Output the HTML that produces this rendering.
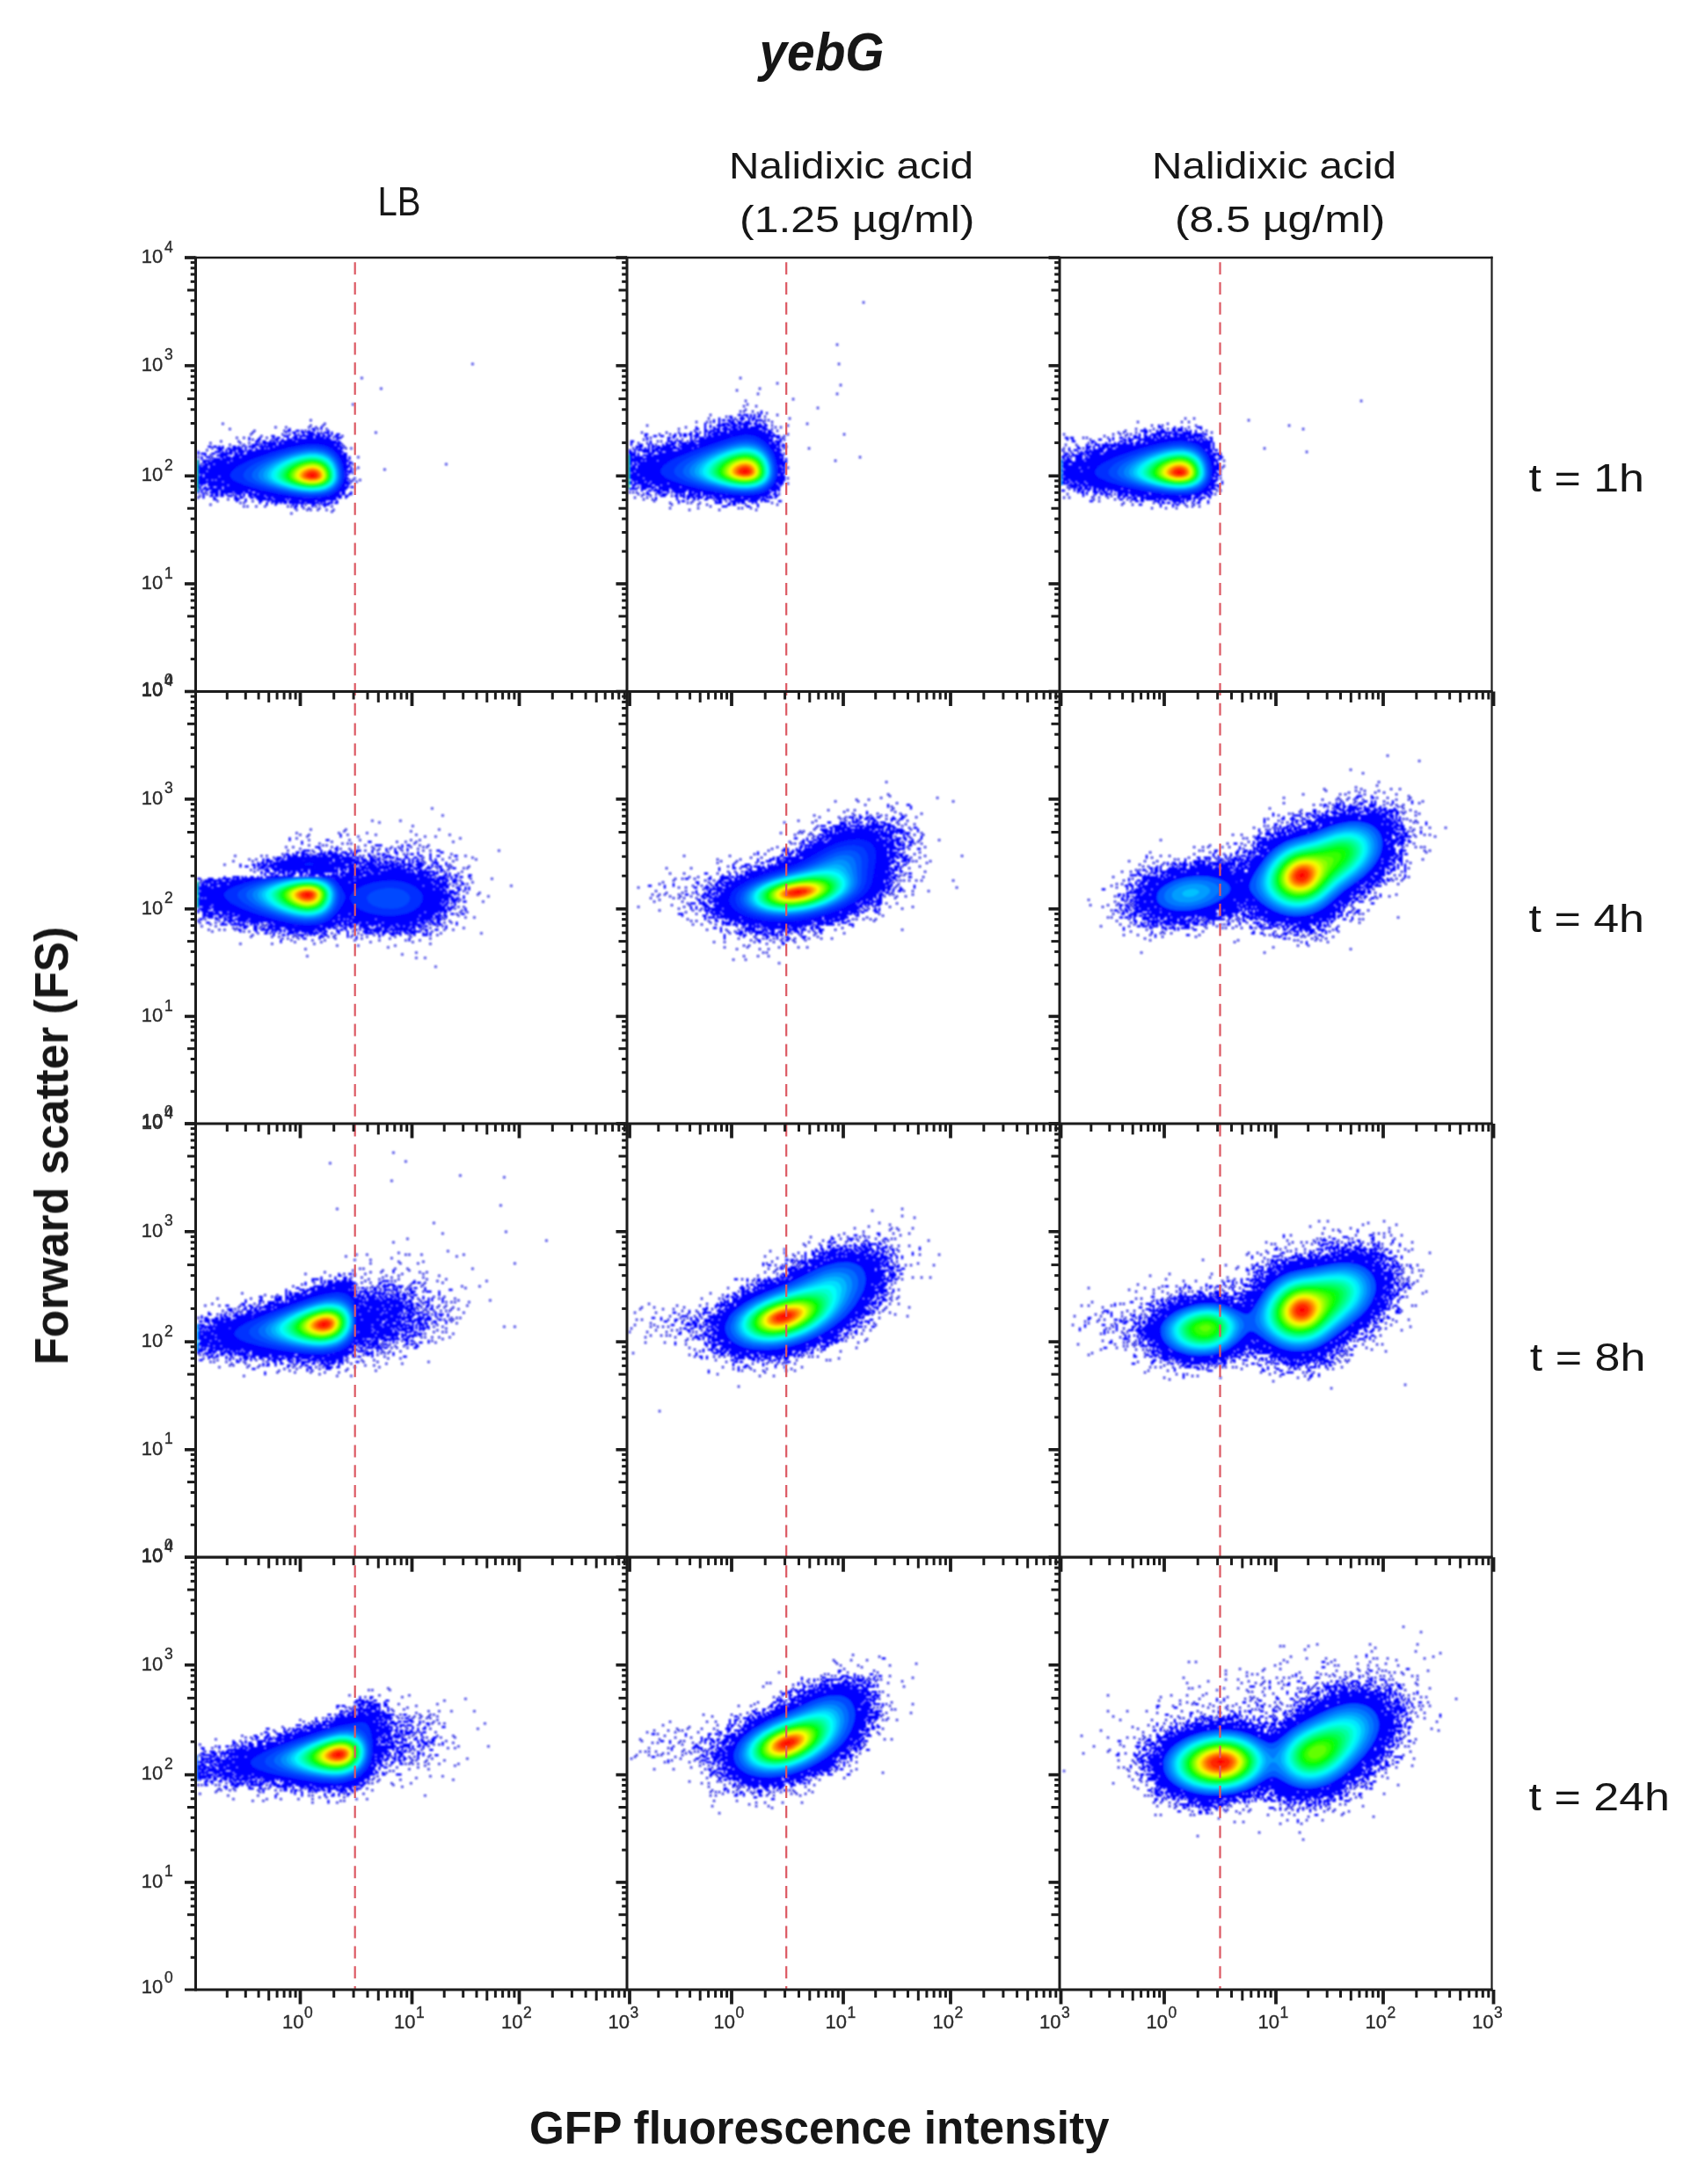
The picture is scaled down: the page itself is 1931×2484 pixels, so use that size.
<!DOCTYPE html>
<html><head><meta charset="utf-8"><title>yebG</title>
<style>html,body{margin:0;padding:0;background:#fff}svg{display:block}</style></head><body>
<svg width="1931" height="2484" viewBox="0 0 1931 2484">
<defs><filter id="b" x="-2%" y="-2%" width="104%" height="104%"><feGaussianBlur stdDeviation="1.05"/></filter><filter id="b2" x="-2%" y="-2%" width="104%" height="104%"><feGaussianBlur stdDeviation="0.75"/></filter>
<clipPath id="c00"><rect x="222.5" y="293.0" width="490.5" height="493.5"/></clipPath>
<clipPath id="c01"><rect x="713.0" y="293.0" width="492.0" height="493.5"/></clipPath>
<clipPath id="c02"><rect x="1205.0" y="293.0" width="491.5" height="493.5"/></clipPath>
<clipPath id="c10"><rect x="222.5" y="786.5" width="490.5" height="491.5"/></clipPath>
<clipPath id="c11"><rect x="713.0" y="786.5" width="492.0" height="491.5"/></clipPath>
<clipPath id="c12"><rect x="1205.0" y="786.5" width="491.5" height="491.5"/></clipPath>
<clipPath id="c20"><rect x="222.5" y="1278.0" width="490.5" height="493.20000000000005"/></clipPath>
<clipPath id="c21"><rect x="713.0" y="1278.0" width="492.0" height="493.20000000000005"/></clipPath>
<clipPath id="c22"><rect x="1205.0" y="1278.0" width="491.5" height="493.20000000000005"/></clipPath>
<clipPath id="c30"><rect x="222.5" y="1771.2" width="490.5" height="491.79999999999995"/></clipPath>
<clipPath id="c31"><rect x="713.0" y="1771.2" width="492.0" height="491.79999999999995"/></clipPath>
<clipPath id="c32"><rect x="1205.0" y="1771.2" width="491.5" height="491.79999999999995"/></clipPath>
</defs>
<rect width="1931" height="2484" fill="#fff"/>
<g filter="url(#b)">
<g clip-path="url(#c00)">
<path d="M364.3 486h2.4m-38.4 2h2.4m23.6 0h4.4m5.6 0h2.4m-40.4 2h4.4m5.6 0h4.4m1.6 0h2.4m5.6 0h2.4m3.6 0h2.4m13.6 0h2.4m-42.4 2h4.4m5.6 0h4.4m1.6 0h8.4m3.6 0h2.4m5.6 0h6.4m1.6 0h2.4m-44.4 2h2.4m7.6 0h2.4m3.6 0h8.4m1.6 0h4.4m1.6 0h2.4m3.6 0h2.4m1.6 0h2.4m3.6 0h4.4m-78.4 2h4.4m9.6 0h6.4m5.6 0h4.4m1.6 0h16.4m1.6 0h6.4m1.6 0h4.4m1.6 0h4.4m3.6 0h4.4m-102.4 2h2.4m9.6 0h2.4m13.6 0h2.4m1.6 0h4.4m7.6 0h2.4m3.6 0h6.4m1.6 0h2.4m5.6 0h8.4m1.6 0h10.4m1.6 0h4.4m7.6 0h6.4m-106.4 2h2.4m7.6 0h4.4m15.6 0h4.4m3.6 0h2.4m3.6 0h6.4m1.6 0h42.4m5.6 0h2.4m-94.4 2h4.4m3.6 0h4.4m3.6 0h2.4m1.6 0h2.4m1.6 0h2.4m1.6 0h18.4m1.6 0h44.4m1.6 0h2.4m-96.4 2h2.4m5.6 0h16.4m1.6 0h4.4m1.6 0h66.4m-102.4 2h8.4m1.6 0h2.4m1.6 0h2.4m1.6 0h10.4m1.6 0h24.4m27.6 0h12.4m1.6 0h4.4m-150.4 2h4.4m1.6 0h4.4m1.6 0h2.4m1.6 0h2.4m9.6 0h4.4m1.6 0h2.4m5.6 0h2.4m1.6 0h8.4m3.6 0h16.4m1.6 0h18.4m43.6 0h14.4m-142.4 2h8.4m3.6 0h4.4m1.6 0h10.4m3.6 0h2.4m5.6 0h2.4m1.6 0h2.4m3.6 0h4.4m1.6 0h2.4m1.6 0h16.4m55.6 0h6.4m1.6 0h4.4m-142.4 2h4.4m3.6 0h2.4m1.6 0h8.4m1.6 0h6.4m1.6 0h2.4m1.6 0h4.4m3.6 0h24.4m65.6 0h8.4m-164.4 2h2.4m17.6 0h6.4m1.6 0h2.4m1.6 0h2.4m1.6 0h4.4m1.6 0h2.4m1.6 0h8.4m1.6 0h28.4m73.6 0h8.4m-166.4 2h2.4m1.6 0h6.4m5.6 0h4.4m5.6 0h14.4m1.6 0h4.4m1.6 0h4.4m3.6 0h22.4m81.6 0h4.4m1.6 0h4.4m-162.4 2h2.4m11.6 0h12.4m7.6 0h28.4m89.6 0h10.4m-166.4 2h2.4m3.6 0h4.4m11.6 0h4.4m1.6 0h6.4m1.6 0h8.4m1.6 0h16.4m95.6 0h8.4m1.6 0h2.4m-170.4 2h2.4m11.6 0h8.4m1.6 0h32.4m103.6 0h6.4m1.6 0h2.4m-174.4 2h2.4m3.6 0h8.4m1.6 0h22.4m1.6 0h14.4m109.6 0h8.4m-172.4 2h2.4m3.6 0h4.4m1.6 0h22.4m1.6 0h14.4m113.6 0h6.4m1.6 0h4.4m-176.4 2h2.4m5.6 0h10.4m1.6 0h26.4m119.6 0h4.4m1.6 0h2.4m-174.4 2h4.4m1.6 0h6.4m1.6 0h28.4m123.6 0h8.4m-174.4 2h12.4m1.6 0h26.4m125.6 0h6.4m1.6 0h2.4m-176.4 2h36.4m129.6 0h4.4m3.6 0h2.4m-176.4 2h10.4m1.6 0h22.4m133.6 0h8.4m-176.4 2h34.4m133.6 0h2.4m1.6 0h2.4m-174.4 2h2.4m1.6 0h2.4m1.6 0h24.4m135.6 0h4.4m-172.4 2h6.4m1.6 0h16.4m1.6 0h8.4m133.6 0h2.4m-170.4 2h34.4m133.6 0h4.4m-172.4 2h10.4m1.6 0h4.4m1.6 0h2.4m1.6 0h14.4m129.6 0h4.4m-170.4 2h28.4m1.6 0h10.4m125.6 0h6.4m-172.4 2h10.4m1.6 0h32.4m121.6 0h8.4m-174.4 2h2.4m1.6 0h2.4m5.6 0h22.4m1.6 0h14.4m113.6 0h4.4m1.6 0h2.4m-172.4 2h4.4m3.6 0h2.4m3.6 0h4.4m3.6 0h6.4m1.6 0h26.4m107.6 0h8.4m1.6 0h4.4m-176.4 2h2.4m1.6 0h22.4m1.6 0h34.4m97.6 0h8.4m-170.4 2h2.4m1.6 0h2.4m3.6 0h2.4m3.6 0h8.4m1.6 0h32.4m1.6 0h12.4m87.6 0h8.4m-168.4 2h2.4m1.6 0h2.4m7.6 0h10.4m1.6 0h14.4m1.6 0h10.4m1.6 0h8.4m3.6 0h16.4m75.6 0h4.4m1.6 0h4.4m5.6 0h2.4m-170.4 2h2.4m7.6 0h2.4m1.6 0h4.4m1.6 0h4.4m1.6 0h2.4m9.6 0h6.4m1.6 0h2.4m3.6 0h10.4m1.6 0h22.4m61.6 0h8.4m1.6 0h4.4m3.6 0h4.4m-170.4 2h2.4m5.6 0h4.4m1.6 0h4.4m1.6 0h4.4m3.6 0h6.4m1.6 0h2.4m3.6 0h2.4m1.6 0h2.4m3.6 0h4.4m1.6 0h12.4m1.6 0h26.4m45.6 0h14.4m3.6 0h4.4m-166.4 2h2.4m9.6 0h2.4m21.6 0h4.4m1.6 0h4.4m7.6 0h4.4m1.6 0h12.4m1.6 0h4.4m1.6 0h34.4m19.6 0h18.4m1.6 0h4.4m3.6 0h2.4m-152.4 2h4.4m19.6 0h6.4m5.6 0h2.4m11.6 0h18.4m1.6 0h12.4m1.6 0h2.4m1.6 0h52.4m-114.4 2h2.4m7.6 0h2.4m13.6 0h4.4m5.6 0h2.4m1.6 0h18.4m1.6 0h12.4m1.6 0h16.4m1.6 0h10.4m5.6 0h2.4m3.6 0h2.4m-90.4 2h2.4m5.6 0h2.4m3.6 0h2.4m1.6 0h4.4m1.6 0h2.4m1.6 0h4.4m1.6 0h18.4m1.6 0h14.4m1.6 0h2.4m1.6 0h2.4m1.6 0h6.4m1.6 0h4.4m-82.4 2h2.4m7.6 0h2.4m17.6 0h2.4m1.6 0h2.4m3.6 0h2.4m9.6 0h4.4m7.6 0h8.4m-40.4 2h4.4m3.6 0h2.4m9.6 0h2.4m11.6 0h2.4m-36.4 2h2.4" stroke="#0000ff" stroke-width="2.4" fill="none"/>
<path d="M536.2 414h2.5m-128.5 16h2.5m19.5 12h2.5m-34.5 18h2.5m-50.5 18h2.5m-102.5 4h2.5m113.5 0h2.5m-18.5 2h2.5m11.5 0h2.5m-56.5 2h2.5m9.5 0h2.5m23.5 0h2.5m5.5 0h2.5m-100.5 2h2.5m97.5 0h2.5m7.5 0h2.5m-84.5 2h2.5m31.5 0h2.5m21.5 0h2.5m-62.5 2h2.5m35.5 0h2.5m37.5 0h2.5m59.5 0h2.5m-144.5 2h2.5m33.5 0h2.5m5.5 0h2.5m7.5 0h2.5m-44.5 2h2.5m89.5 0h2.5m-122.5 2h2.5m5.5 0h2.5m23.5 0h2.5m73.5 0h2.5m-94.5 2h2.5m19.5 0h2.5m-60.5 2h2.5m17.5 0h2.5m-34.5 2h2.5m31.5 0h2.5m7.5 0h2.5m9.5 0h2.5m-36.5 2h2.5m13.5 0h2.5m109.5 0h2.5m-116.5 2h2.5m113.5 0h2.5m-152.5 2h2.5m149.5 0h2.5m3.5 0h2.5m-166.5 2h2.5m1.5 6h2.5m-16.5 2h2.5m13.5 0h2.5m163.5 0h2.5m-170.5 2h2.5m-12.5 6h2.5m169.5 0h2.5m103.5 0h2.5m-102.5 4h2.5m-6.5 2h2.5m31.5 0h2.5m-38.5 4h2.5m-0.5 6h2.5m-8.5 2h2.5m1.5 0h2.5m5.5 0h2.5m-12.5 2h2.5m3.5 0h2.5m-174.5 12h2.5m-0.5 2h2.5m27.5 0h2.5m-40.5 2h2.5m-4.5 2h2.5m31.5 2h2.5m-14.5 2h2.5m37.5 0h2.5m-16.5 2h2.5m1.5 0h2.5m-40.5 2h2.5m105.5 0h2.5m13.5 0h2.5m-88.5 2h2.5m1.5 0h2.5m7.5 0h2.5m7.5 0h2.5m23.5 0h2.5m1.5 0h2.5m25.5 0h2.5m15.5 0h2.5m-34.5 2h2.5m3.5 0h2.5m9.5 0h2.5m-28.5 2h2.5m9.5 0h2.5m1.5 0h2.5m5.5 0h2.5m7.5 0h2.5m5.5 0h2.5m-4.5 2h2.5m-48.5 2h2.5" stroke="#1414e0" stroke-width="2.5" fill="none"/>
<path d="M359.5 567.1l-15-0.4l-18-2.2l-22-3.9l-23-5.3l-14.3-4.3l-9.3-4l-3-2l-1.9-2l-0.6-2l0.4-2l1.7-3l3.3-3l9.7-5.7l16-6.5l22-7.2l22-6l16-3.1l12-1l6 0.3l6 1l6 2l5 2.8l4 3.4l3.9 5l2.6 5l2.3 7l1 7l0 7l-1.1 5l-1.8 4l-3 4l-3.9 3.5l-5 2.9l-5 1.7l-6 1.3z" fill="#0000ff"/>
<path d="M366.5 565.1l-13 0.8l-16-1.2l-20-3.2l-23-5l-16-4.7l-11-4.6l-3.2-2.2l-1.8-2l-0.6-2l0.4-2l1.6-3l3.1-3l8.5-5.3l14-6.2l21-7.2l18-5l16-3.1l12-0.9l6 0.4l5 0.9l5 1.7l5 2.7l4 3.4l3 3.6l2.4 4l2.4 6l1.5 7l0.4 6l-0.4 4l-1.5 5l-2.2 4l-2.6 3.1l-4 3.1l-4 2.1l-4 1.5z" fill="#002dff"/>
<path d="M364.5 563.1l-12 0.6l-14-1.2l-17-2.9l-17-4l-14-4.5l-8.8-4.1l-2.7-2l-1.6-2l-0.6-2l0.3-2l0.9-2l2.4-3l3.6-3l4.8-3l13.7-6.5l16-5.7l16-4.5l14-2.4l10-0.4l9 1.5l5 1.8l4 2.4l3.3 2.8l3.3 4l2.3 4l1.8 5l1.2 6l0.3 6l-0.6 4l-1.5 4l-2.1 3.3l-3 3.2l-3 2.1l-4 2l-5 1.6z" fill="#0048ff"/>
<path d="M357.5 562l-12-0.4l-13-1.8l-15-3.2l-12-3.4l-9-3.4l-6.7-3.8l-2.8-3l-0.5-2l0.3-2l0.8-2l2.3-3l3.5-3l4.5-3l10.6-5.3l14-5.3l14-4l12-2.1l10-0.4l9 1.6l5 2l3.9 2.5l3.1 3l3 4l2.3 5l1.4 5l0.7 6l-0.5 5l-1.4 4l-1.9 3l-2.8 3l-3.8 2.7l-8 3z" fill="#0066ff"/>
<path d="M364.5 560l-10 0.7l-12-0.9l-14-2.3l-13-3.3l-10-3.5l-7.3-3.7l-2.5-2l-1.5-2l-0.5-2l0.2-2l0.8-2l2.2-3l6.2-5l10.4-5.5l12-4.7l12-3.5l12-2.2l9-0.2l8 1.3l4 1.5l4 2.3l3 2.6l2.8 3.4l2.3 4l1.4 4l1 5l0.2 5l-0.4 3l-1.6 4l-4.1 5l-3.6 2.5l-3 1.4z" fill="#0086ff"/>
<path d="M362.5 559.1l-10 0.4l-11-1l-12-2.2l-13-3.6l-9.1-3.7l-6.1-4l-1.8-3l0.4-4l1.1-2l2.5-3l6.8-5l9.9-5l11.3-4.2l11-2.9l10-1.4l8 0.2l7 1.6l4 1.8l3 2l3 2.9l2.3 3l2 4l1.3 4l0.7 5l-0.1 4l-0.7 3l-1.4 3l-2.1 2.7l-2.6 2.3l-6.4 3.3z" fill="#00a8ff"/>
<path d="M362.5 558l-9 0.5l-11-1l-12-2.3l-11-3.1l-8-3.4l-5.5-3.7l-1.8-3l0.4-4l2.6-4l6.1-5l8.2-4.5l11-4.3l10-2.7l9-1.4l8 0l7 1.5l4 1.7l3 1.9l3 2.8l2 2.6l1.8 3.4l1.4 4l0.8 8l-0.5 3l-1.3 3l-2.2 3l-2 1.8l-6 3.3z" fill="#00ccff"/>
<path d="M362.5 557.1l-9 0.4l-10-0.8l-11-2.1l-10-3l-8-3.5l-4.4-3.1l-1.9-3l0.5-4l1-2l2.5-3l5.2-4l8.1-4.4l9-3.5l9-2.4l9-1.3l7 0.1l7 1.5l6 3.2l3 2.7l2 2.6l2.9 6.5l0.8 4l0.1 4l-1.4 5l-2 3l-2.1 2l-6.3 3.4z" fill="#00f1ff"/>
<path d="M362.5 556.2l-8 0.5l-10-0.8l-11-2.2l-8.9-2.7l-6.7-3l-4.2-3l-1.9-3l0.4-4l2.6-4l5.7-4.7l7-3.8l9-3.6l9-2.3l8-1l7 0.3l6 1.5l6 3.4l4.5 5.2l2.5 6l0.7 7l-1.5 5l-3.4 4l-5.8 3.4z" fill="#00ffe6"/>
<path d="M363.5 555.1l-7 0.7l-9-0.4l-10-1.7l-9.4-2.7l-7-3l-4.2-3l-1.9-3l0.4-4l2.6-4l4.8-4l6.7-3.8l8-3.2l8-2.2l8-1l6 0.2l6 1.3l6 3.3l4.1 4.4l2.8 6l0.7 7l-1.6 4.9l-3 3.5l-5 3z" fill="#00ffbe"/>
<path d="M356.5 555l-8-0.3l-8-1.3l-8-2l-7-2.7l-4.5-2.7l-2.7-3l-0.5-3l1-3l3.2-4l5.4-4l7.1-3.5l8-2.8l7-1.4l7-0.4l6 0.8l5 1.7l5 3.6l3.6 5l1.8 6l0.2 3l-0.4 3l-2.2 4l-2 2l-3 2l-6 2.1z" fill="#00ff95"/>
<path d="M359.5 554.1l-7 0.1l-8-0.9l-8-1.7l-7-2.4l-4.3-2.2l-3.6-3l-1.2-3l0.6-3l2.7-4l3.8-3.2l6-3.5l7-2.8l7-1.8l7-0.7l6 0.4l5 1.4l5 2.9l4 4.7l2.2 5.6l0.2 6l-1.8 4l-3.6 3.3l-5 2.4z" fill="#00ff6a"/>
<path d="M361.5 553.1l-7 0.4l-7-0.5l-8-1.5l-7-2.3l-4.6-2.2l-3.8-3l-1.2-3l0.6-3l2.8-4l3.6-3l5.2-3l6.4-2.6l7-1.7l6-0.7l5 0.3l5 1.2l5 2.8l3.5 3.7l2.3 5l0.7 6l-1.4 4l-3.1 3.3l-4 2.2z" fill="#00ff3f"/>
<path d="M362.5 552.1l-6 0.7l-7-0.3l-8-1.4l-6.8-2.1l-4.3-2l-3.8-3l-1.3-3l0.6-3l1.9-3l3.7-3.3l5-3l6-2.4l6-1.6l6-0.6l5 0.3l5 1.3l4.1 2.3l3.8 4l2.1 5l0.5 5l-1 3l-2.5 3.1l-4 2.5z" fill="#00ff13"/>
<path d="M357.5 552l-6 0l-7-1l-7-2l-4.7-2l-2.9-2l-2.2-3l-0.1-2l1.1-3l2.4-3l3.9-3l4.5-2.4l6-2.1l6-1.2l5-0.2l5 0.7l4 1.5l4 2.9l2.8 3.8l1.6 5l-0.2 4l-1.5 3l-3.7 3.2l-5 1.9z" fill="#1aff00"/>
<path d="M359.5 551.1l-6 0.3l-6-0.7l-6-1.3l-5-1.8l-4.4-2.6l-1.8-2l-0.5-2l0.6-3l2-3l3.6-3l4.5-2.5l5-1.9l5-1.1l5-0.4l5 0.6l4 1.3l4 2.7l2.6 3.3l1.7 5l-0.1 4l-1.7 3l-2.5 2.2l-4 1.9z" fill="#49ff00"/>
<path d="M361.5 550.1l-5 0.5l-6-0.2l-6-1.1l-6-1.9l-4.1-2.4l-1.9-2l-0.6-2l0.7-3l2.1-3l2.8-2.4l4-2.3l5-1.8l5-1.1l4-0.3l4 0.4l4 1.2l3.7 2.3l2.6 3l1.7 4l0.3 4l-1.2 3l-2 2l-3.1 1.8z" fill="#78ff00"/>
<path d="M362.5 549l-4 0.8l-5 0.1l-6-0.7l-5-1.3l-4.4-1.9l-2.7-2l-1.3-2l0.2-3l1.7-3l2-2l3-2l4.3-2l8.2-1.8l4 0.1l4 0.8l3.9 1.9l2.3 2l2 3l1 4l-0.3 3l-1.1 2l-2.8 2.4z" fill="#a8ff00"/>
<path d="M358.5 549l-9-0.3l-5-1.1l-4-1.6l-2.9-2l-1.4-2l-0.1-2l0.7-2l1.7-2.3l3-2.5l7-3l4-0.8l4-0.1l4 0.7l2.7 1l2.9 2l2.3 3l1 3l0.1 3l-1.6 3l-2.4 1.9l-3 1.3z" fill="#d8ff00"/>
<path d="M359.5 548.1l-8 0.1l-5-1l-3.5-1.2l-3.2-2l-1.5-2l-0.1-2l0.7-2l1.5-2l2.5-2l6.6-2.9l7-0.7l3 0.5l3 1.1l2.9 2l1.6 2l1.2 3l0.1 3l-0.9 2l-2.2 2z" fill="#fff400"/>
<path d="M359.5 547.2l-7 0.3l-7-1.6l-3-1.6l-1.5-1.3l-0.7-2l0.3-2l1.2-2l2.2-2l5.5-2.6l6-0.9l3 0.4l3 1l3 2l1.5 2.1l1 3l-0.1 2l-1.1 2l-1.3 1.2z" fill="#ffc200"/>
<path d="M359.5 546.2l-7 0.3l-6.1-1.5l-1.9-1l-1.8-2l0.2-3l2.6-3.1l5-2.4l5-0.7l5 1.1l2 1.2l1.8 1.9l1 2l0.3 2l-0.7 2l-0.8 1l-1.6 1.1z" fill="#ff8f00"/>
<path d="M359.5 545.1l-6 0.5l-6-1.6l-2.3-2l-0.3-1l0.5-2l2.1-2.3l4-1.9l4-0.5l4 0.8l3 2.2l1 1.7l0.3 2l-0.1 1l-1.2 1.5z" fill="#ff5c00"/>
<path d="M358.5 544l-4 0.4l-4-0.8l-2.4-1.6l-0.2-2l1.5-2l3.1-1.6l3-0.4l3 0.7l2 1.4l1.2 2.9l-1.2 2z" fill="#ff2800"/>
<path d="M356.5 542.3l-3.7-0.3l-0.8-1l0.3-1l1.6-1l2.6 0l1.3 1l0.3 1l-0.7 1z" fill="#ff0000"/>
</g>
<g clip-path="url(#c01)">
<path d="M864.8 468h2.4m-2.4 2h2.4m-28.4 2h4.4m1.6 0h6.4m1.6 0h2.4m1.6 0h2.4m3.6 0h2.4m-36.4 2h4.4m9.6 0h2.4m3.6 0h2.4m1.6 0h2.4m1.6 0h2.4m1.6 0h4.4m-48.4 2h2.4m11.6 0h2.4m7.6 0h6.4m3.6 0h2.4m1.6 0h4.4m-48.4 2h2.4m3.6 0h2.4m1.6 0h4.4m1.6 0h4.4m1.6 0h2.4m7.6 0h2.4m5.6 0h2.4m1.6 0h2.4m1.6 0h8.4m-56.4 2h2.4m3.6 0h2.4m9.6 0h6.4m3.6 0h4.4m3.6 0h6.4m5.6 0h2.4m-60.4 2h2.4m13.6 0h2.4m1.6 0h8.4m1.6 0h6.4m1.6 0h16.4m1.6 0h4.4m1.6 0h2.4m3.6 0h2.4m-70.4 2h2.4m3.6 0h2.4m5.6 0h10.4m1.6 0h4.4m1.6 0h6.4m1.6 0h2.4m1.6 0h6.4m7.6 0h8.4m1.6 0h4.4m-82.4 2h2.4m7.6 0h2.4m3.6 0h2.4m1.6 0h2.4m3.6 0h2.4m3.6 0h4.4m3.6 0h6.4m1.6 0h4.4m1.6 0h6.4m1.6 0h18.4m-80.4 2h4.4m5.6 0h2.4m7.6 0h8.4m1.6 0h10.4m1.6 0h6.4m1.6 0h22.4m3.6 0h6.4m-72.4 2h4.4m1.6 0h6.4m1.6 0h4.4m3.6 0h4.4m1.6 0h38.4m1.6 0h2.4m1.6 0h4.4m-92.4 2h2.4m3.6 0h2.4m7.6 0h2.4m1.6 0h4.4m1.6 0h16.4m1.6 0h42.4m1.6 0h6.4m-146.4 2h4.4m29.6 0h2.4m3.6 0h2.4m1.6 0h4.4m1.6 0h4.4m3.6 0h4.4m5.6 0h2.4m1.6 0h2.4m1.6 0h8.4m1.6 0h24.4m11.6 0h22.4m1.6 0h2.4m-148.4 2h2.4m7.6 0h4.4m3.6 0h4.4m9.6 0h4.4m3.6 0h2.4m1.6 0h4.4m3.6 0h2.4m1.6 0h6.4m5.6 0h2.4m1.6 0h4.4m1.6 0h20.4m29.6 0h26.4m-152.4 2h2.4m21.6 0h4.4m1.6 0h2.4m17.6 0h2.4m3.6 0h2.4m1.6 0h6.4m1.6 0h24.4m37.6 0h10.4m1.6 0h2.4m3.6 0h4.4m-152.4 2h2.4m21.6 0h2.4m23.6 0h2.4m7.6 0h26.4m45.6 0h12.4m7.6 0h2.4m-172.4 2h4.4m17.6 0h2.4m17.6 0h6.4m1.6 0h2.4m1.6 0h4.4m9.6 0h4.4m1.6 0h26.4m53.6 0h8.4m1.6 0h8.4m-172.4 2h2.4m19.6 0h2.4m15.6 0h2.4m3.6 0h6.4m3.6 0h8.4m1.6 0h8.4m3.6 0h16.4m61.6 0h2.4m1.6 0h4.4m1.6 0h4.4m-170.4 2h2.4m7.6 0h4.4m5.6 0h2.4m1.6 0h2.4m9.6 0h2.4m1.6 0h10.4m7.6 0h30.4m69.6 0h12.4m1.6 0h4.4m-170.4 2h8.4m5.6 0h2.4m1.6 0h4.4m1.6 0h4.4m1.6 0h10.4m1.6 0h4.4m3.6 0h20.4m1.6 0h4.4m75.6 0h8.4m1.6 0h2.4m1.6 0h2.4m-168.4 2h2.4m1.6 0h2.4m3.6 0h2.4m1.6 0h2.4m1.6 0h2.4m1.6 0h28.4m1.6 0h12.4m1.6 0h4.4m83.6 0h10.4m-172.4 2h2.4m3.6 0h2.4m1.6 0h14.4m1.6 0h8.4m1.6 0h14.4m5.6 0h16.4m91.6 0h2.4m1.6 0h6.4m-174.4 2h4.4m1.6 0h2.4m7.6 0h8.4m1.6 0h4.4m1.6 0h6.4m3.6 0h24.4m97.6 0h8.4m-172.4 2h8.4m1.6 0h2.4m9.6 0h6.4m5.6 0h28.4m103.6 0h8.4m-174.4 2h8.4m1.6 0h2.4m3.6 0h10.4m1.6 0h28.4m109.6 0h10.4m-176.4 2h4.4m1.6 0h10.4m3.6 0h32.4m113.6 0h6.4m1.6 0h2.4m-176.4 2h48.4m119.6 0h8.4m1.6 0h2.4m-180.4 2h14.4m1.6 0h2.4m1.6 0h12.4m1.6 0h10.4m123.6 0h8.4m1.6 0h2.4m-180.4 2h4.4m1.6 0h2.4m1.6 0h30.4m127.6 0h12.4m-180.4 2h4.4m1.6 0h4.4m1.6 0h26.4m129.6 0h10.4m-178.4 2h2.4m1.6 0h4.4m1.6 0h24.4m135.6 0h2.4m1.6 0h4.4m-178.4 2h8.4m1.6 0h24.4m135.6 0h4.4m1.6 0h2.4m-178.4 2h32.4m137.6 0h8.4m-178.4 2h6.4m1.6 0h24.4m137.6 0h4.4m1.6 0h2.4m-178.4 2h2.4m1.6 0h28.4m137.6 0h8.4m-178.4 2h10.4m1.6 0h22.4m137.6 0h4.4m-176.4 2h36.4m131.6 0h10.4m-178.4 2h16.4m1.6 0h22.4m127.6 0h10.4m-174.4 2h40.4m123.6 0h10.4m-178.4 2h4.4m1.6 0h2.4m1.6 0h8.4m1.6 0h4.4m1.6 0h22.4m117.6 0h10.4m-176.4 2h4.4m1.6 0h16.4m1.6 0h20.4m1.6 0h10.4m109.6 0h2.4m1.6 0h6.4m-172.4 2h4.4m5.6 0h12.4m3.6 0h6.4m1.6 0h24.4m101.6 0h6.4m1.6 0h2.4m-170.4 2h2.4m7.6 0h16.4m3.6 0h24.4m1.6 0h10.4m91.6 0h10.4m-172.4 2h10.4m3.6 0h6.4m5.6 0h2.4m1.6 0h2.4m1.6 0h12.4m1.6 0h30.4m81.6 0h12.4m-158.4 2h2.4m5.6 0h4.4m1.6 0h8.4m1.6 0h8.4m3.6 0h16.4m1.6 0h20.4m69.6 0h2.4m1.6 0h6.4m1.6 0h2.4m-152.4 2h2.4m9.6 0h6.4m5.6 0h2.4m5.6 0h12.4m3.6 0h4.4m1.6 0h8.4m1.6 0h14.4m55.6 0h8.4m3.6 0h2.4m-148.4 2h4.4m9.6 0h2.4m1.6 0h6.4m9.6 0h2.4m1.6 0h2.4m1.6 0h2.4m3.6 0h8.4m1.6 0h4.4m1.6 0h26.4m37.6 0h12.4m3.6 0h4.4m-132.4 2h6.4m9.6 0h4.4m1.6 0h6.4m1.6 0h8.4m1.6 0h6.4m1.6 0h2.4m1.6 0h2.4m1.6 0h2.4m1.6 0h8.4m1.6 0h52.4m1.6 0h2.4m3.6 0h4.4m-140.4 2h2.4m21.6 0h2.4m5.6 0h2.4m1.6 0h4.4m1.6 0h4.4m1.6 0h6.4m3.6 0h8.4m1.6 0h30.4m1.6 0h20.4m1.6 0h2.4m1.6 0h8.4m1.6 0h2.4m-138.4 2h2.4m21.6 0h2.4m9.6 0h2.4m5.6 0h2.4m1.6 0h2.4m5.6 0h4.4m9.6 0h6.4m1.6 0h2.4m3.6 0h2.4m3.6 0h16.4m1.6 0h10.4m1.6 0h6.4m-100.4 2h2.4m1.6 0h4.4m33.6 0h2.4m1.6 0h4.4m9.6 0h16.4m3.6 0h10.4m3.6 0h2.4m1.6 0h6.4m9.6 0h4.4m-118.4 2h2.4m39.6 0h8.4m7.6 0h2.4m1.6 0h4.4m1.6 0h2.4m1.6 0h4.4m7.6 0h2.4m1.6 0h2.4m-34.4 2h4.4m1.6 0h4.4m23.6 0h2.4m-42.4 2h6.4m21.6 0h4.4m7.6 0h2.4" stroke="#0000ff" stroke-width="2.4" fill="none"/>
<path d="M980.8 344h2.5m-32.5 48h2.5m-0.5 22h2.5m-114.5 16h2.5m39.5 6h2.5m69.5 2h2.5m-94.5 4h2.5m-28.5 2h2.5m21.5 4h2.5m87.5 0h2.5m-52.5 6h2.5m-56.5 2h2.5m-0.5 4h2.5m-6.5 2h2.5m11.5 0h2.5m67.5 2h2.5m-84.5 2h2.5m-8.5 2h2.5m1.5 0h2.5m7.5 0h2.5m3.5 2h2.5m7.5 0h2.5m-66.5 2h2.5m73.5 0h2.5m-60.5 2h2.5m41.5 0h2.5m-66.5 2h2.5m27.5 0h2.5m59.5 0h2.5m-62.5 2h2.5m29.5 0h2.5m1.5 0h2.5m-84.5 2h2.5m9.5 0h2.5m1.5 0h2.5m57.5 0h2.5m7.5 0h2.5m37.5 2h2.5m-184.5 2h2.5m139.5 0h2.5m15.5 0h2.5m-118.5 2h2.5m99.5 0h2.5m3.5 0h2.5m-118.5 2h2.5m103.5 0h2.5m-90.5 2h2.5m91.5 0h2.5m-156.5 2h2.5m25.5 0h2.5m11.5 0h2.5m21.5 0h2.5m-48.5 2h2.5m9.5 0h2.5m131.5 0h2.5m61.5 0h2.5m-70.5 2h2.5m-154.5 2h2.5m147.5 0h2.5m-160.5 2h2.5m35.5 0h2.5m3.5 0h2.5m11.5 0h2.5m99.5 0h2.5m-146.5 2h2.5m1.5 0h2.5m27.5 0h2.5m-58.5 2h2.5m7.5 0h2.5m7.5 2h2.5m23.5 0h2.5m119.5 2h2.5m-176.5 2h2.5m169.5 0h2.5m25.5 0h2.5m-30.5 6h2.5m83.5 4h2.5m-30.5 4h2.5m-56.5 8h2.5m-2.5 12h2.5m-2.5 6h2.5m-172.5 4h2.5m-12.5 6h2.5m1.5 0h2.5m1.5 0h2.5m37.5 0h2.5m-40.5 2h2.5m3.5 0h2.5m11.5 0h2.5m137.5 0h2.5m-158.5 2h2.5m7.5 0h2.5m21.5 0h2.5m-44.5 2h2.5m11.5 0h2.5m-6.5 2h2.5m7.5 0h2.5m67.5 0h2.5m-70.5 2h2.5m41.5 0h2.5m35.5 0h2.5m-66.5 2h2.5m17.5 0h2.5m1.5 0h2.5m7.5 0h2.5m79.5 0h2.5m-116.5 2h2.5m27.5 0h2.5m7.5 0h2.5m41.5 0h2.5m33.5 0h2.5m-78.5 2h2.5m-48.5 2h2.5m29.5 0h2.5m43.5 0h2.5m1.5 0h2.5m7.5 0h2.5m-72.5 2h2.5m31.5 0h2.5m39.5 0h2.5" stroke="#1414e0" stroke-width="2.5" fill="none"/>
<path d="M855 564l-13 0.2l-18-1.7l-23-4l-26-5.9l-15.8-4.6l-11.2-4.6l-3.8-2.4l-1.9-2l-0.9-2l0.2-2l2.3-4l6.3-5l9.7-5l14.1-5.7l61-21l12-2.2l5 0l4 0.7l6 2.2l6 3.8l5 4.5l4.6 5.7l3.3 6l2.5 7l1.3 7l0.5 8l-0.5 5l-1.6 5l-2.8 5l-3.3 3.7l-5 3.6l-5 2.2l-6 1.7z" fill="#0000ff"/>
<path d="M849 563l-13-0.5l-16-2.1l-21-4l-20-5l-13.5-4.4l-8.7-4l-2.9-2l-1.8-2l-0.8-2l0.1-2l0.8-2l2.3-3l6.6-5l10.9-5.5l15-6.1l37-13l12-3.7l11-1.9l5 0.1l5 0.9l6 2.5l6 4l4.8 4.7l3.7 5l3 6l2.1 7l1.2 8l-0.1 7l-1.3 5l-2.4 5l-3 3.7l-4 3.3l-5 2.7l-5 1.6l-7 1.3z" fill="#002dff"/>
<path d="M857 560l-12 0.6l-14-1.1l-18-3.1l-19-4.7l-13-4.3l-9.1-4.4l-2.7-2l-1.7-2l-0.8-2l0.4-3l1-2l2.5-3l3.6-3l4.7-3l11.1-5.5l17-6.9l20-6.9l12-3.2l9-1.1l5 0.3l4 0.8l5 1.9l5 3l4 3.4l3.5 4.2l2.9 5l2 5l1.4 6l0.6 7l-0.4 5l-1.2 4l-2.2 4l-2.6 3.1l-4 3.2l-4 2.1l-4 1.4z" fill="#0048ff"/>
<path d="M858 558l-10 0.9l-13-0.8l-16-2.6l-17-4.2l-12.4-4.3l-7.9-4l-2.6-2l-1.6-2l-0.8-2l0.4-3l1.6-3l1.7-2l7.6-5.8l11-5.8l14-5.8l15-5.2l12-2.9l9-0.9l8 1.2l5 1.9l4 2.3l4 3.4l3.1 3.6l2.4 4l2.1 5l1.4 6l0.5 6l-0.3 4l-1.1 4l-1.5 3l-2.6 3.3l-3 2.6l-4 2.4l-4 1.5z" fill="#0066ff"/>
<path d="M855 557l-10 0.4l-12-1l-15-2.8l-14-3.9l-9.5-3.7l-6.9-4l-2.1-2l-1.1-2l-0.3-2l0.4-2l0.9-2l2.2-3l6.4-5.2l10.6-5.8l13.4-5.7l14-4.6l10-2.1l8-0.4l8 1.4l4 1.6l4 2.5l3.7 3.3l3.1 4l2.1 4l1.8 5l0.9 5l0.2 6l-0.5 3l-1.5 4l-1.9 3l-2.9 2.9l-3 2.1l-4 1.9z" fill="#0086ff"/>
<path d="M852 556l-9 0.1l-12-1.3l-12-2.5l-12-3.6l-8.8-3.7l-5.9-4l-2.1-3l-0.2-2l0.3-2l0.9-2l2.2-3l6-5l9.6-5.4l12-5.2l12-3.9l10-2l8-0.2l7 1.4l4 1.7l4 2.6l3.2 3l2.9 4l2 4l1.6 5l0.7 5l-0.1 5l-0.7 3l-1.6 3.3l-2 2.7l-3 2.7l-4 2.3l-4 1.5z" fill="#00a8ff"/>
<path d="M850 555.1l-10-0.3l-10-1.4l-12-2.8l-10.5-3.6l-6.5-3.2l-4.8-3.8l-1.3-3l0.7-4l3.6-5l6.5-5l9.3-5l11-4.5l10-2.9l9-1.5l7 0.1l7 1.7l4 2l3 2.2l3 3.1l2.6 3.8l1.8 4l1.3 5l0.5 5l-0.4 4l-1 3l-1.8 3l-2 2.2l-3 2.3l-7 3.1z" fill="#00ccff"/>
<path d="M850 554l-9-0.2l-10-1.3l-11-2.7l-9-3.1l-7.2-3.7l-3.4-3l-1.4-3l0.7-4l3.6-5l5.7-4.5l9-4.9l10-4.1l10-2.8l8-1.1l7 0.4l6 1.6l4 2.1l2.9 2.3l2.8 3l1.9 3l1.8 4l1.1 4l0.5 5l-0.5 4l-2.5 5.3l-2 2.3l-3 2.2l-7 3z" fill="#00f1ff"/>
<path d="M851 553l-9 0l-9-1.2l-10-2.3l-9-3.2l-6.5-3.3l-3.4-3l-1.4-3l0.7-4l2.6-4l6-5l8-4.5l10-4.1l9-2.4l8-1l6 0.4l6 1.8l6 3.8l2.8 3l1.9 3l2.6 7l0.5 4l-0.2 4l-2 5l-1.6 2l-3 2.6l-3 1.7l-4 1.4z" fill="#00ffe6"/>
<path d="M852 552.1l-8 0.1l-9-1l-9.7-2.2l-8.6-3l-5.8-3l-3.5-3l-1.4-3l0.7-4l3.6-5l5-4l7.2-4l8.5-3.5l8-2.1l7-1l6 0.2l6 1.6l6 3.6l4.4 5.2l1.5 3l1.2 4l0.5 7l-1.7 5l-3.9 4.3l-6 3.1z" fill="#00ffbe"/>
<path d="M853 551.1l-8 0.3l-8-0.8l-9-1.9l-8.1-2.7l-5.9-3l-3.6-3l-1.4-3l0.7-4l2.6-4l4.7-4l6.8-4l8.2-3.4l8-2.2l7-0.8l6 0.5l5 1.5l5.5 3.4l4.1 5l2.4 6l0.5 7l-1.8 5l-3.7 3.8l-5 2.7z" fill="#00ff95"/>
<path d="M854 550.1l-7 0.5l-8-0.6l-9-1.8l-8-2.6l-5.2-2.6l-3.6-3l-1.5-3l0.8-4l2.7-4l4.7-4l6.1-3.5l7-2.9l7-1.9l6-0.8l6 0.3l5 1.3l5 2.8l4.3 4.7l2.6 6l0.7 6l-1.5 5l-3.1 3.6l-5 2.9z" fill="#00ff6a"/>
<path d="M855 549.1l-7 0.7l-8-0.4l-8-1.6l-8-2.6l-4.5-2.2l-3.7-3l-1.5-3l0.8-4l2.7-4l3.4-3l5.8-3.5l7-2.9l7-1.9l6-0.7l5 0.4l5 1.4l5 3l3.6 4.2l2.2 5l0.7 6l-1 4l-3.2 4l-4.3 2.6z" fill="#00ff3f"/>
<path d="M849 549l-7-0.2l-7-1.1l-7-2.1l-5.9-2.6l-2.8-2l-2.3-3l-0.1-3l1.1-3l3.4-4l4-3l5.6-3l6-2.2l6-1.3l5-0.3l5 0.5l5 1.8l4.7 3.5l2.8 4l1.8 6l-0.1 5l-2.2 4l-4 3.2l-5 1.9z" fill="#00ff13"/>
<path d="M852 548l-6 0.3l-7-0.7l-6.9-1.6l-5.4-2l-3.7-2l-3.1-3l-0.8-3l0.7-3l2.9-4l3.8-3l5.4-3l5.1-1.9l6-1.4l5-0.4l5 0.6l4 1.4l4.1 2.7l3.2 4l1.8 5l0.2 5l-1.3 3.3l-3 3.2l-4 2.1z" fill="#1aff00"/>
<path d="M853 547.1l-6 0.5l-6-0.5l-6-1.2l-6-2l-4-2.2l-2.9-2.7l-0.8-3l0.8-3l2-3l3.4-3l4.5-2.7l5-2l5-1.3l5-0.6l5 0.5l4 1.2l4 2.5l3 3.4l1.8 4l0.6 5l-0.8 3l-2.6 3.3l-4 2.4z" fill="#49ff00"/>
<path d="M854 546.1l-6 0.7l-6-0.4l-7-1.4l-5-1.9l-3.7-2.1l-2-2l-0.8-3l0.8-3l2.1-3l2.6-2.3l4.5-2.7l4.5-1.8l5-1.3l4-0.4l4 0.3l4.2 1.2l3.8 2.2l3 3.4l1.9 4.4l0.4 4l-0.9 3l-2.4 2.9l-3 1.9z" fill="#78ff00"/>
<path d="M848 546l-5-0.2l-6-1.2l-4.8-1.6l-3.6-2l-2.1-2l-0.8-2l0.1-2l1.3-3l2.7-3l3.2-2.2l4-2l5-1.5l4-0.6l4 0.1l4 1l3 1.4l3 2.6l2 3.2l1.1 4l-0.4 4l-2.1 3l-3.1 2l-4.5 1.5z" fill="#a8ff00"/>
<path d="M850 545.1l-9-0.5l-5-1.2l-4-1.8l-2.4-1.6l-1.5-2l-0.3-2l0.9-3l2.3-3l2.6-2l3.4-1.8l4-1.5l4-0.7l4-0.1l4 0.8l3 1.3l2.5 2l2.2 3l1.2 4l-0.1 3l-1.7 3l-2.1 1.7l-3 1.4z" fill="#d8ff00"/>
<path d="M851 544.1l-4 0.3l-5-0.5l-4-0.9l-4.6-2l-2.5-2l-1-2l0.1-2l0.8-2l1.6-2l2.6-2.2l3.4-1.8l3.6-1.2l7-0.7l3 0.6l3 1.2l2.7 2.1l2.1 3l0.9 3l-0.2 3l-1 2l-2.3 2l-2.2 1.1z" fill="#fff400"/>
<path d="M852 543l-4 0.5l-4-0.2l-4-0.8l-4-1.5l-2-1.3l-1.5-1.7l-0.4-2l0.5-2l1.2-2l2.2-2l6-2.9l6-0.8l3 0.4l3 1.1l2.8 2.2l1.5 2l0.8 2l0.3 3l-0.7 2l-1.7 1.8l-2 1.2z" fill="#ffc200"/>
<path d="M852 542l-6 0.5l-7.1-1.5l-2-1l-2.1-2l-0.4-2l0.5-2l3.1-3.4l5-2.3l5-0.6l5 1.2l3.5 3.1l1 2l0.4 3l-1.8 3z" fill="#ff8f00"/>
<path d="M851 541.1l-6 0.2l-5-1.3l-2-1.3l-1.1-1.7l0.6-3l2.5-2.5l4-1.8l4-0.4l4 1l3.1 2.7l0.9 2l0.1 2l-1.1 2z" fill="#ff5c00"/>
<path d="M849 540.1l-4-0.1l-4-1.6l-1.2-1.4l0.2-1.8l0.7-1.2l2.3-1.8l3-1l3 0.1l3 1.3l1.7 2.4l0.2 2l-1.7 2z" fill="#ff2800"/>
<path d="M848 538.1l-2.1-0.1l-1.7-1l-0.1-1l0.6-1l2.3-0.9l2.7 0.9l0.6 1l-0.1 1z" fill="#ff0000"/>
</g>
<g clip-path="url(#c02)">
<path d="M1316.8 484h2.4m-2.4 2h4.4m13.6 0h2.4m5.6 0h2.4m15.6 0h6.4m-66.4 2h2.4m17.6 0h2.4m9.6 0h4.4m1.6 0h6.4m19.6 0h2.4m-70.4 2h8.4m9.6 0h2.4m1.6 0h6.4m7.6 0h4.4m1.6 0h6.4m3.6 0h2.4m1.6 0h2.4m3.6 0h2.4m-60.4 2h4.4m9.6 0h18.4m1.6 0h4.4m5.6 0h10.4m3.6 0h2.4m-66.4 2h2.4m3.6 0h2.4m5.6 0h12.4m3.6 0h2.4m1.6 0h2.4m1.6 0h22.4m1.6 0h10.4m1.6 0h4.4m-84.4 2h4.4m1.6 0h2.4m3.6 0h4.4m1.6 0h2.4m1.6 0h4.4m1.6 0h4.4m1.6 0h8.4m3.6 0h4.4m1.6 0h8.4m1.6 0h18.4m-158.4 2h4.4m1.6 0h4.4m43.6 0h2.4m5.6 0h4.4m5.6 0h2.4m3.6 0h8.4m3.6 0h8.4m1.6 0h6.4m1.6 0h6.4m1.6 0h32.4m1.6 0h2.4m1.6 0h2.4m7.6 0h4.4m-166.4 2h2.4m3.6 0h2.4m27.6 0h4.4m7.6 0h2.4m1.6 0h2.4m9.6 0h4.4m1.6 0h6.4m5.6 0h18.4m1.6 0h36.4m1.6 0h2.4m1.6 0h4.4m1.6 0h6.4m1.6 0h2.4m3.6 0h2.4m-160.4 2h4.4m17.6 0h4.4m15.6 0h2.4m9.6 0h4.4m1.6 0h2.4m1.6 0h4.4m5.6 0h4.4m3.6 0h28.4m23.6 0h12.4m1.6 0h12.4m-138.4 2h2.4m1.6 0h2.4m9.6 0h2.4m7.6 0h2.4m1.6 0h2.4m3.6 0h4.4m3.6 0h4.4m1.6 0h6.4m1.6 0h4.4m1.6 0h14.4m39.6 0h18.4m1.6 0h2.4m-146.4 2h2.4m7.6 0h6.4m1.6 0h36.4m1.6 0h18.4m53.6 0h14.4m1.6 0h2.4m-156.4 2h2.4m7.6 0h6.4m1.6 0h2.4m3.6 0h2.4m1.6 0h8.4m1.6 0h6.4m1.6 0h30.4m65.6 0h10.4m1.6 0h2.4m-166.4 2h2.4m7.6 0h4.4m5.6 0h4.4m3.6 0h2.4m3.6 0h8.4m1.6 0h6.4m3.6 0h26.4m73.6 0h8.4m1.6 0h2.4m-166.4 2h2.4m3.6 0h4.4m9.6 0h2.4m1.6 0h2.4m1.6 0h12.4m3.6 0h28.4m85.6 0h6.4m1.6 0h4.4m-156.4 2h2.4m1.6 0h22.4m1.6 0h24.4m89.6 0h8.4m-168.4 2h4.4m3.6 0h2.4m5.6 0h6.4m1.6 0h4.4m1.6 0h10.4m3.6 0h20.4m97.6 0h4.4m1.6 0h10.4m-180.4 2h4.4m5.6 0h12.4m5.6 0h32.4m105.6 0h8.4m1.6 0h4.4m-182.4 2h4.4m1.6 0h2.4m7.6 0h8.4m3.6 0h2.4m1.6 0h26.4m109.6 0h6.4m5.6 0h4.4m-182.4 2h2.4m1.6 0h4.4m5.6 0h8.4m1.6 0h26.4m115.6 0h8.4m1.6 0h4.4m-182.4 2h2.4m1.6 0h8.4m3.6 0h10.4m1.6 0h20.4m121.6 0h8.4m-178.4 2h44.4m125.6 0h4.4m1.6 0h2.4m-176.4 2h6.4m3.6 0h30.4m127.6 0h4.4m1.6 0h4.4m-180.4 2h38.4m131.6 0h10.4m-178.4 2h18.4m1.6 0h8.4m1.6 0h4.4m135.6 0h8.4m-180.4 2h2.4m1.6 0h30.4m137.6 0h8.4m-180.4 2h22.4m1.6 0h8.4m139.6 0h4.4m-174.4 2h32.4m137.6 0h6.4m-178.4 2h34.4m137.6 0h2.4m1.6 0h6.4m-182.4 2h2.4m1.6 0h32.4m135.6 0h6.4m-178.4 2h40.4m129.6 0h2.4m3.6 0h2.4m-176.4 2h6.4m1.6 0h34.4m125.6 0h8.4m-178.4 2h4.4m1.6 0h4.4m1.6 0h4.4m1.6 0h8.4m1.6 0h22.4m119.6 0h6.4m5.6 0h2.4m-184.4 2h8.4m1.6 0h2.4m1.6 0h4.4m1.6 0h8.4m1.6 0h26.4m111.6 0h6.4m7.6 0h2.4m-176.4 2h14.4m1.6 0h38.4m103.6 0h14.4m-170.4 2h8.4m1.6 0h4.4m1.6 0h4.4m1.6 0h2.4m1.6 0h34.4m93.6 0h4.4m1.6 0h4.4m3.6 0h2.4m-166.4 2h2.4m1.6 0h6.4m1.6 0h8.4m1.6 0h4.4m1.6 0h8.4m1.6 0h16.4m1.6 0h10.4m81.6 0h14.4m-176.4 2h4.4m9.6 0h2.4m1.6 0h4.4m1.6 0h2.4m3.6 0h2.4m3.6 0h4.4m1.6 0h2.4m1.6 0h4.4m1.6 0h2.4m1.6 0h2.4m1.6 0h16.4m1.6 0h12.4m69.6 0h10.4m-152.4 2h2.4m1.6 0h4.4m1.6 0h2.4m5.6 0h6.4m1.6 0h2.4m1.6 0h4.4m3.6 0h2.4m5.6 0h34.4m57.6 0h10.4m1.6 0h4.4m-148.4 2h2.4m1.6 0h2.4m7.6 0h2.4m3.6 0h4.4m1.6 0h6.4m7.6 0h6.4m1.6 0h4.4m1.6 0h22.4m1.6 0h12.4m35.6 0h10.4m1.6 0h6.4m1.6 0h2.4m-148.4 2h2.4m23.6 0h2.4m11.6 0h4.4m1.6 0h6.4m3.6 0h4.4m1.6 0h8.4m1.6 0h38.4m1.6 0h12.4m3.6 0h6.4m7.6 0h4.4m-106.4 2h2.4m3.6 0h2.4m3.6 0h4.4m1.6 0h4.4m3.6 0h58.4m1.6 0h6.4m1.6 0h6.4m3.6 0h2.4m-104.4 2h4.4m9.6 0h6.4m3.6 0h4.4m1.6 0h12.4m1.6 0h4.4m1.6 0h4.4m1.6 0h14.4m1.6 0h2.4m1.6 0h6.4m1.6 0h2.4m3.6 0h4.4m-128.4 2h4.4m47.6 0h4.4m1.6 0h4.4m11.6 0h6.4m1.6 0h2.4m9.6 0h14.4m1.6 0h2.4m5.6 0h2.4m3.6 0h2.4m7.6 0h2.4m-58.4 2h2.4m1.6 0h4.4m1.6 0h4.4m3.6 0h2.4m3.6 0h2.4m1.6 0h2.4m13.6 0h4.4m7.6 0h2.4m-80.4 2h4.4m19.6 0h2.4m11.6 0h2.4m1.6 0h4.4m-22.4 2h2.4m11.6 0h2.4" stroke="#0000ff" stroke-width="2.4" fill="none"/>
<path d="M1546.8 456h2.5m-202.5 20h2.5m7.5 0h2.5m59.5 2h2.5m-128.5 2h2.5m47.5 0h2.5m5.5 0h2.5m-26.5 2h2.5m-20.5 2h2.5m9.5 0h2.5m35.5 0h2.5m103.5 0h2.5m-116.5 2h2.5m-62.5 2h2.5m17.5 0h2.5m13.5 0h2.5m17.5 0h2.5m131.5 0h2.5m-204.5 2h2.5m25.5 0h2.5m61.5 0h2.5m-102.5 2h2.5m3.5 0h2.5m11.5 0h2.5m73.5 0h2.5m7.5 0h2.5m-170.5 2h2.5m53.5 0h2.5m5.5 0h2.5m5.5 0h2.5m1.5 0h2.5m-32.5 2h2.5m21.5 0h2.5m-50.5 2h2.5m1.5 0h2.5m21.5 0h2.5m107.5 0h2.5m-132.5 2h2.5m-4.5 4h2.5m-28.5 2h2.5m9.5 0h2.5m-16.5 4h2.5m19.5 0h2.5m203.5 0h2.5m-232.5 2h2.5m-0.5 2h2.5m5.5 0h2.5m5.5 0h2.5m257.5 0h2.5m-272.5 4h2.5m15.5 0h2.5m-18.5 2h2.5m171.5 4h2.5m-2.5 6h2.5m-4.5 2h2.5m-4.5 4h2.5m-2.5 8h2.5m-176.5 10h2.5m-0.5 2h2.5m165.5 2h2.5m1.5 0h2.5m-176.5 4h2.5m51.5 0h2.5m111.5 0h2.5m-140.5 2h2.5m17.5 0h2.5m-56.5 2h2.5m3.5 0h2.5m23.5 0h2.5m5.5 0h2.5m7.5 0h2.5m-18.5 2h2.5m21.5 0h2.5m11.5 0h2.5m-34.5 2h2.5m33.5 0h2.5m-10.5 2h2.5m31.5 0h2.5m41.5 0h2.5m-82.5 2h2.5m9.5 0h2.5m57.5 0h2.5m7.5 0h2.5m-10.5 2h2.5m3.5 0h2.5m5.5 0h2.5m-56.5 2h2.5m13.5 0h2.5m9.5 0h2.5" stroke="#1414e0" stroke-width="2.5" fill="none"/>
<path d="M1346 564l-15-0.3l-18-2.1l-23-4l-23-5.2l-15.4-4.4l-9.9-4l-3.3-2l-2.1-2l-0.9-2l0.2-2l1.6-3l3.1-3l4.5-3l5.9-3l16.3-6.5l25-7.9l23-5.9l17-3l12-0.7l6 0.5l5 1.1l6 2.2l5 3l4 3.6l3.4 4.6l2.9 6l2 7l0.9 7l-0.2 6l-1.2 5l-1.9 4l-3 4l-3.9 3.4l-5 2.9l-5 1.8l-6 1.3z" fill="#0000ff"/>
<path d="M1353 562l-13 0.9l-17-1.3l-20-3.1l-23-5l-17-4.8l-11-4.4l-3.8-2.3l-2.1-2l-0.8-2l0.1-2l0.8-2l2.5-3l3.9-3l5.4-3.1l15-6.6l21-7l21-5.7l16-3l12-0.8l6 0.4l5 1l5 1.6l5 2.7l4 3.3l3.5 4.2l2.8 5l2.1 6l1.2 6l0.3 6l-0.7 5l-1.3 4l-2.3 4l-2.6 3l-4 3.1l-4 2.1l-4 1.5z" fill="#002dff"/>
<path d="M1351 560l-12 0.6l-14-1.1l-18-3l-17-3.9l-14-4.3l-9.6-4.3l-3-2l-1.9-2l-0.8-2l0.1-2l0.8-2l2.3-3l3.5-3l4.7-3l13.9-6.5l17-6l18-4.8l13-2.3l11-0.4l9 1.5l5 1.8l4 2.4l3.9 3.3l3.2 4l2.6 5l1.6 5l1 6l0.1 5l-0.7 4l-1.6 4l-2.1 3.2l-3 3.1l-3 2.2l-4 2l-5 1.6z" fill="#0048ff"/>
<path d="M1352 558.1l-10 0.8l-13-0.7l-16-2.5l-15-3.5l-13.2-4.2l-8.6-4l-2.9-2l-1.8-2l-0.8-2l0.2-2l0.7-2l2.1-3l3.4-3l3.9-2.6l11-5.6l14-5.3l14-4.1l14-2.6l10-0.4l9 1.3l5 1.8l4 2.3l3 2.5l3.1 3.7l2.3 4l1.9 5l0.9 5l0.3 5l-0.5 4l-1.1 3l-1.6 3l-2.6 3l-2.7 2.2l-4 2.3z" fill="#0066ff"/>
<path d="M1349 557.1l-10 0.4l-12-1l-13-2.2l-15-3.9l-9.5-3.4l-7.6-4l-2.3-2l-1.2-2l-0.3-2l0.4-2l1-2l2.5-3l6.7-5l9.9-5l12.4-4.8l13-3.6l11-1.9l9-0.4l9 1.4l4 1.5l4 2.3l3 2.5l3.2 4l2.2 4l1.4 4l0.9 5l0.1 5l-0.8 4l-1.4 3l-2.2 3l-2.4 2.3l-3 2l-4 1.8z" fill="#0086ff"/>
<path d="M1348 556l-10 0.3l-11-1l-13-2.5l-12-3.3l-9-3.5l-6.5-4l-2.3-3l-0.2-2l0.4-2l0.9-2l2.4-3l6.3-4.8l9-4.6l11-4.3l11-3.2l11-1.9l9-0.1l8 1.4l4 1.6l3.1 1.9l3.5 3l2.4 3l2.2 4l1.3 4l0.9 5l0 4l-0.6 3l-1.2 3l-2.1 3l-2.5 2.3l-3 2l-4 1.8z" fill="#00a8ff"/>
<path d="M1347 555.1l-9 0.1l-10-0.9l-11-2.1l-12-3.4l-8-3.2l-5.7-3.6l-2.2-3l-0.3-2l0.4-2l1-2l2.4-3l5.4-4.2l8.9-4.8l11.1-4.3l11-2.9l9-1.2l8 0l7 1.5l4 1.7l3 2l3 2.7l2.6 3.5l1.9 4l1.1 4l0.5 4l-0.1 4l-0.9 3l-1.7 3l-4.4 4.3l-7 3.3z" fill="#00ccff"/>
<path d="M1347 554.1l-8 0.2l-10-0.9l-11-2.1l-10-2.9l-8-3.4l-4.5-3l-2.2-3l-0.3-2l0.4-2l0.9-2l2.4-3l5.1-4l8.2-4.4l10-3.9l10-2.6l9-1.2l8 0.2l6 1.5l4 1.8l3 2.1l2.5 2.5l2.2 3l2.7 7l0.5 4l-0.2 4l-2 5l-1.7 2.1l-3 2.5l-6 2.9z" fill="#00f1ff"/>
<path d="M1348 553l-8 0.4l-10-0.8l-10-1.9l-9.2-2.7l-7-3l-4.6-3l-2.3-3l-0.2-2l0.4-2l2.4-4l5.5-4.7l7-3.9l9-3.6l9-2.4l8-1.2l7 0l7 1.4l6.5 3.4l4.7 5l1.6 3l1.4 4l0.5 7l-1.7 5l-4 4.4l-6 3.1z" fill="#00ffe6"/>
<path d="M1349 552l-7 0.6l-9-0.5l-10-1.7l-9-2.6l-6.9-2.8l-4.6-3l-2.3-3l-0.2-2l0.4-2l2.4-4l4.6-4l7-4l8.6-3.4l8-2.2l8-1.1l7 0.2l6 1.4l6 3.2l4.5 4.9l2.5 6l0.6 7l-1.9 5l-3.7 3.9l-5 2.6z" fill="#00ffbe"/>
<path d="M1350 551l-7 0.8l-9-0.4l-9-1.5l-9-2.5l-7.6-3.4l-3.9-3l-1.5-3l0.4-3l2.4-4l4.7-4l6.5-3.7l7-2.8l8-2.1l7-1l6 0.1l6 1.3l6 3l4.1 4.2l2.8 6l0.7 6l-1 4l-2.9 4l-4.7 3.1z" fill="#00ff95"/>
<path d="M1342 551l-7-0.3l-8-1.3l-7-1.8l-6.8-2.6l-3.5-2l-3.2-3l-0.8-3l0.8-3l3.1-4l4.4-3.4l7-3.6l7-2.5l7-1.5l7-0.6l6 0.7l5 1.7l5 3.3l3.6 4.9l1.8 6l0.2 3l-0.7 3l-2.5 4l-4.4 3.1l-6 2.1z" fill="#00ff6a"/>
<path d="M1346 550l-7 0.2l-7-0.7l-7.4-1.5l-6.6-2.2l-5-2.4l-3.1-2.4l-1.6-3l0.4-3l2.5-4l3.5-3l5.3-3.1l7-2.9l7-1.8l6-0.7l6 0.3l5 1.3l5 2.8l3.8 4.1l2.2 5l0.4 6l-1.6 4l-3.8 3.6l-5 2.2z" fill="#00ff3f"/>
<path d="M1347 549.2l-6 0.3l-7-0.5l-7-1.3l-7-2.2l-5-2.4l-2.6-2.1l-1.6-3l0.4-3l2.6-4l3.5-3l5.4-3l5.3-2.1l7-1.8l6-0.6l5 0.4l5 1.4l4.7 2.7l3.5 4l1.9 5l0.3 5l-1.4 3.4l-3 3.1l-4 2.1z" fill="#00ff13"/>
<path d="M1349 548l-6 0.8l-6-0.2l-7-1l-7-2l-5-2.3l-3.2-2.3l-1.7-3l0.4-3l1.8-3l3.2-3l4.9-3l5.6-2.3l6-1.5l5-0.6l5 0.2l5 1.2l4 2.1l3.9 3.9l1.9 4l0.6 5l-0.8 3l-2.6 3.4l-4 2.4z" fill="#1aff00"/>
<path d="M1343 548l-6-0.1l-5.9-0.9l-5.1-1.4l-5-2l-3.9-2.6l-1.5-2l-0.3-2l0.9-3l2.3-3l4-3l4.5-2.3l6-2l5-0.9l5-0.2l5 0.9l3.8 1.5l3.9 3l2.3 3.4l1.3 4.6l-0.3 4l-2 3.1l-4 2.8l-5 1.6z" fill="#49ff00"/>
<path d="M1346 547l-5 0.3l-6-0.4l-5-1l-5.7-1.9l-3.7-2l-2.2-2l-0.9-2l0.5-3l1.9-3l3.1-2.7l4-2.3l5-1.9l5-1.1l5-0.4l4 0.5l4 1.2l4 2.6l2.6 3.1l1.5 4l0 4l-1.4 3l-2.7 2.3l-3.5 1.7z" fill="#78ff00"/>
<path d="M1347 546.1l-5 0.5l-5-0.2l-5-0.9l-5.1-1.5l-4-2l-2.3-2l-1-2l0.5-3l1.9-2.9l2.4-2.1l3.6-2.1l4.8-1.9l8.2-1.3l4 0.2l4 1.1l3.4 2l2.8 3l1.5 3l0.5 4l-1.1 3l-1.8 2l-3.3 1.9z" fill="#a8ff00"/>
<path d="M1348 545.1l-5 0.7l-5-0.1l-5-0.8l-5-1.6l-2.8-1.3l-2.4-2l-1-2l0.5-3l1.2-2l2.5-2.4l3-1.8l4.4-1.8l7.6-1.3l4 0.3l3 0.9l3 1.5l2.8 2.6l1.6 3l0.6 3l-0.6 3l-1.5 2l-2.9 2z" fill="#d8ff00"/>
<path d="M1343 545l-4 0l-5-0.8l-4.1-1.2l-2.9-1.4l-2-1.6l-1.1-2l0.2-2l0.9-2l1.7-2l2.8-2l3.5-1.6l4-1.1l7-0.3l3 0.7l2.8 1.3l2.4 2l1.8 2.8l0.8 3.2l-0.3 2l-1.1 2l-2.5 2l-3.9 1.4z" fill="#fff400"/>
<path d="M1344 544.1l-7-0.2l-7-2.1l-3.5-2.8l-0.4-2l0.6-2l1.4-2l2.6-2l5.3-2.3l6-0.7l3 0.4l3 1.1l3 2.1l1.6 2.4l0.8 3l-0.3 2l-1.3 2l-1.8 1.3l-3 1.2z" fill="#ffc200"/>
<path d="M1344 543.1l-6.6-0.1l-6.2-2l-1.5-1l-1.3-2l0.6-3l3-3l3-1.5l3-0.9l5-0.2l5 1.6l2.3 2l1.1 2l0.5 2l-0.3 2l-2.6 2.6z" fill="#ff8f00"/>
<path d="M1344 542.1l-5 0.1l-4.7-1.2l-2.9-2l-0.5-1l0.2-2l2.6-3l3.3-1.6l5-0.6l4 0.9l3 2.4l1 1.9l0.1 2l-0.4 1l-1.7 1.7z" fill="#ff5c00"/>
<path d="M1342 541l-4-0.4l-3.5-1.6l-0.7-1l0-1l1-2l2.2-1.5l3-0.9l3 0.1l3.1 1.3l1 1l0.8 2l-0.5 2l-2.4 1.4z" fill="#ff2800"/>
<path d="M1342 539l-3-0.5l-0.8-0.5l-0.1-1l0.7-1l1.2-0.5l3 0.2l1.3 1.3l-0.1 1z" fill="#ff0000"/>
</g>
<g clip-path="url(#c10)">
<path d="M386.3 949.5h2.4m-2.4 2h2.4m-60.4 2h2.4m-2.4 2h2.4m39.6 0h4.4m-32.4 2h2.4m73.6 0h4.4m-80.4 2h2.4m81.6 2h8.4m21.6 0h2.4m3.6 0h4.4m-108.4 2h6.4m17.6 0h2.4m71.6 0h2.4m-96.4 2h2.4m15.6 0h4.4m53.6 0h2.4m7.6 0h2.4m11.6 0h2.4m-120.4 2h8.4m11.6 0h2.4m7.6 0h2.4m5.6 0h2.4m13.6 0h2.4m3.6 0h6.4m11.6 0h2.4m13.6 0h2.4m7.6 0h2.4m11.6 0h2.4m31.6 0h4.4m-164.4 2h4.4m1.6 0h4.4m17.6 0h2.4m1.6 0h2.4m1.6 0h6.4m1.6 0h2.4m5.6 0h6.4m3.6 0h2.4m1.6 0h4.4m15.6 0h2.4m23.6 0h4.4m21.6 0h2.4m23.6 0h4.4m-180.4 2h4.4m3.6 0h2.4m1.6 0h2.4m3.6 0h8.4m9.6 0h10.4m1.6 0h12.4m1.6 0h2.4m3.6 0h6.4m1.6 0h4.4m13.6 0h2.4m7.6 0h4.4m1.6 0h4.4m11.6 0h2.4m13.6 0h4.4m3.6 0h2.4m11.6 0h2.4m-168.4 2h2.4m1.6 0h4.4m1.6 0h6.4m3.6 0h4.4m1.6 0h4.4m1.6 0h6.4m1.6 0h2.4m1.6 0h6.4m3.6 0h14.4m3.6 0h2.4m3.6 0h4.4m13.6 0h4.4m11.6 0h2.4m1.6 0h6.4m15.6 0h2.4m13.6 0h4.4m7.6 0h2.4m5.6 0h4.4m15.6 0h4.4m-206.4 2h6.4m1.6 0h2.4m1.6 0h60.4m1.6 0h12.4m3.6 0h4.4m1.6 0h2.4m7.6 0h4.4m5.6 0h2.4m3.6 0h4.4m1.6 0h6.4m1.6 0h2.4m7.6 0h4.4m5.6 0h4.4m13.6 0h2.4m-192.4 2h2.4m1.6 0h4.4m5.6 0h6.4m1.6 0h2.4m3.6 0h52.4m1.6 0h24.4m1.6 0h2.4m1.6 0h6.4m3.6 0h6.4m1.6 0h4.4m17.6 0h6.4m1.6 0h2.4m3.6 0h2.4m1.6 0h2.4m3.6 0h2.4m11.6 0h2.4m3.6 0h2.4m-198.4 2h2.4m1.6 0h8.4m3.6 0h2.4m1.6 0h26.4m1.6 0h8.4m1.6 0h22.4m1.6 0h8.4m1.6 0h18.4m3.6 0h6.4m1.6 0h8.4m1.6 0h2.4m3.6 0h4.4m1.6 0h4.4m9.6 0h4.4m3.6 0h2.4m1.6 0h2.4m1.6 0h4.4m17.6 0h2.4m-204.4 2h2.4m1.6 0h4.4m1.6 0h2.4m1.6 0h2.4m1.6 0h28.4m29.6 0h6.4m1.6 0h24.4m1.6 0h12.4m1.6 0h8.4m1.6 0h2.4m1.6 0h4.4m1.6 0h6.4m1.6 0h4.4m1.6 0h4.4m1.6 0h4.4m3.6 0h2.4m1.6 0h2.4m3.6 0h6.4m11.6 0h6.4m7.6 0h2.4m-236.4 2h2.4m11.6 0h4.4m1.6 0h4.4m1.6 0h6.4m1.6 0h30.4m29.6 0h26.4m3.6 0h10.4m1.6 0h2.4m3.6 0h12.4m1.6 0h4.4m1.6 0h2.4m1.6 0h2.4m1.6 0h10.4m1.6 0h2.4m1.6 0h10.4m3.6 0h10.4m7.6 0h2.4m3.6 0h2.4m7.6 0h2.4m-236.4 2h2.4m3.6 0h4.4m5.6 0h2.4m1.6 0h2.4m1.6 0h6.4m1.6 0h8.4m1.6 0h26.4m17.6 0h44.4m5.6 0h8.4m1.6 0h10.4m1.6 0h18.4m1.6 0h10.4m3.6 0h6.4m3.6 0h6.4m5.6 0h2.4m1.6 0h2.4m5.6 0h4.4m-214.4 2h2.4m3.6 0h6.4m1.6 0h2.4m3.6 0h72.4m1.6 0h2.4m1.6 0h8.4m1.6 0h12.4m1.6 0h32.4m1.6 0h12.4m1.6 0h2.4m1.6 0h4.4m3.6 0h8.4m5.6 0h6.4m9.6 0h2.4m11.6 0h4.4m-218.4 2h6.4m3.6 0h8.4m1.6 0h22.4m1.6 0h6.4m1.6 0h32.4m1.6 0h4.4m1.6 0h2.4m1.6 0h18.4m1.6 0h2.4m1.6 0h12.4m3.6 0h2.4m1.6 0h30.4m1.6 0h2.4m1.6 0h4.4m1.6 0h2.4m15.6 0h4.4m-208.4 2h2.4m3.6 0h4.4m5.6 0h2.4m1.6 0h8.4m1.6 0h4.4m1.6 0h4.4m1.6 0h12.4m1.6 0h32.4m3.6 0h4.4m3.6 0h14.4m1.6 0h8.4m1.6 0h40.4m1.6 0h2.4m1.6 0h2.4m3.6 0h20.4m1.6 0h2.4m1.6 0h2.4m-206.4 2h2.4m1.6 0h2.4m3.6 0h6.4m3.6 0h2.4m1.6 0h4.4m1.6 0h2.4m1.6 0h6.4m3.6 0h4.4m3.6 0h2.4m1.6 0h16.4m9.6 0h2.4m1.6 0h2.4m1.6 0h36.4m1.6 0h6.4m1.6 0h40.4m1.6 0h14.4m3.6 0h6.4m7.6 0h2.4m1.6 0h2.4m-212.4 2h2.4m5.6 0h2.4m1.6 0h4.4m5.6 0h2.4m1.6 0h8.4m5.6 0h4.4m1.6 0h2.4m1.6 0h8.4m3.6 0h8.4m1.6 0h2.4m1.6 0h8.4m1.6 0h4.4m1.6 0h20.4m3.6 0h66.4m1.6 0h10.4m9.6 0h4.4m1.6 0h2.4m3.6 0h4.4m11.6 0h4.4m-282.4 2h2.4m7.6 0h8.4m1.6 0h2.4m1.6 0h2.4m3.6 0h4.4m3.6 0h2.4m1.6 0h2.4m3.6 0h30.4m33.6 0h20.4m1.6 0h14.4m1.6 0h4.4m1.6 0h76.4m1.6 0h2.4m7.6 0h8.4m5.6 0h2.4m3.6 0h2.4m1.6 0h4.4m5.6 0h2.4m-310.4 2h4.4m7.6 0h6.4m5.6 0h2.4m1.6 0h10.4m1.6 0h2.4m1.6 0h4.4m1.6 0h24.4m81.6 0h94.4m1.6 0h18.4m1.6 0h12.4m3.6 0h2.4m1.6 0h2.4m-286.4 2h20.4m3.6 0h4.4m1.6 0h24.4m95.6 0h20.4m1.6 0h22.4m33.6 0h40.4m1.6 0h2.4m1.6 0h4.4m3.6 0h6.4m-290.4 2h10.4m1.6 0h4.4m1.6 0h28.4m107.6 0h12.4m1.6 0h20.4m47.6 0h24.4m1.6 0h8.4m1.6 0h6.4m5.6 0h4.4m5.6 0h2.4m-302.4 2h2.4m1.6 0h4.4m1.6 0h2.4m1.6 0h20.4m1.6 0h10.4m115.6 0h26.4m57.6 0h22.4m1.6 0h14.4m15.6 0h4.4m-304.4 2h2.4m1.6 0h8.4m1.6 0h8.4m3.6 0h14.4m123.6 0h18.4m67.6 0h6.4m1.6 0h14.4m1.6 0h12.4m-286.4 2h16.4m1.6 0h18.4m129.6 0h14.4m71.6 0h28.4m1.6 0h4.4m7.6 0h4.4m5.6 0h2.4m1.6 0h2.4m-310.4 2h32.4m133.6 0h10.4m77.6 0h14.4m1.6 0h6.4m1.6 0h4.4m13.6 0h4.4m3.6 0h2.4m1.6 0h2.4m-310.4 2h2.4m1.6 0h24.4m139.6 0h6.4m81.6 0h28.4m1.6 0h6.4m3.6 0h2.4m-298.4 2h26.4m231.6 0h22.4m1.6 0h2.4m1.6 0h10.4m-296.4 2h26.4m231.6 0h30.4m3.6 0h2.4m-292.4 2h24.4m233.6 0h30.4m11.6 0h2.4m-304.4 2h4.4m1.6 0h2.4m1.6 0h18.4m231.6 0h26.4m1.6 0h4.4m1.6 0h4.4m3.6 0h2.4m-304.4 2h30.4m229.6 0h18.4m1.6 0h6.4m1.6 0h8.4m-296.4 2h32.4m225.6 0h24.4m1.6 0h2.4m3.6 0h4.4m7.6 0h4.4m-306.4 2h34.4m223.6 0h18.4m1.6 0h2.4m1.6 0h4.4m5.6 0h2.4m-294.4 2h16.4m1.6 0h20.4m131.6 0h2.4m83.6 0h22.4m1.6 0h4.4m7.6 0h2.4m-294.4 2h2.4m3.6 0h8.4m1.6 0h26.4m123.6 0h10.4m79.6 0h26.4m1.6 0h2.4m1.6 0h4.4m-290.4 2h14.4m1.6 0h30.4m115.6 0h14.4m73.6 0h30.4m1.6 0h6.4m13.6 0h2.4m-306.4 2h2.4m1.6 0h8.4m5.6 0h34.4m109.6 0h20.4m67.6 0h34.4m1.6 0h2.4m15.6 0h2.4m-306.4 2h2.4m3.6 0h12.4m1.6 0h4.4m3.6 0h6.4m1.6 0h22.4m101.6 0h26.4m59.6 0h12.4m1.6 0h14.4m1.6 0h2.4m1.6 0h4.4m-278.4 2h4.4m1.6 0h14.4m1.6 0h12.4m1.6 0h22.4m93.6 0h14.4m1.6 0h18.4m49.6 0h28.4m3.6 0h2.4m3.6 0h2.4m5.6 0h4.4m7.6 0h4.4m-298.4 2h12.4m5.6 0h6.4m1.6 0h2.4m1.6 0h10.4m1.6 0h22.4m85.6 0h4.4m1.6 0h40.4m33.6 0h16.4m1.6 0h14.4m1.6 0h8.4m1.6 0h4.4m-278.4 2h2.4m3.6 0h6.4m1.6 0h2.4m1.6 0h4.4m1.6 0h2.4m1.6 0h6.4m5.6 0h30.4m77.6 0h22.4m1.6 0h90.4m1.6 0h6.4m5.6 0h2.4m-282.4 2h4.4m13.6 0h4.4m5.6 0h4.4m1.6 0h4.4m1.6 0h16.4m1.6 0h24.4m67.6 0h8.4m1.6 0h4.4m1.6 0h2.4m1.6 0h30.4m1.6 0h46.4m1.6 0h14.4m5.6 0h6.4m-248.4 2h2.4m1.6 0h8.4m3.6 0h10.4m1.6 0h34.4m55.6 0h6.4m1.6 0h18.4m1.6 0h82.4m1.6 0h2.4m1.6 0h4.4m3.6 0h4.4m-266.4 2h4.4m13.6 0h2.4m5.6 0h2.4m3.6 0h2.4m1.6 0h2.4m3.6 0h2.4m5.6 0h10.4m1.6 0h2.4m5.6 0h4.4m1.6 0h14.4m43.6 0h20.4m1.6 0h4.4m1.6 0h12.4m1.6 0h6.4m1.6 0h16.4m1.6 0h30.4m1.6 0h6.4m3.6 0h6.4m5.6 0h4.4m1.6 0h4.4m17.6 0h2.4m-270.4 2h8.4m3.6 0h16.4m5.6 0h2.4m1.6 0h2.4m1.6 0h2.4m11.6 0h4.4m1.6 0h22.4m29.6 0h18.4m1.6 0h4.4m1.6 0h10.4m3.6 0h2.4m1.6 0h22.4m1.6 0h18.4m1.6 0h26.4m1.6 0h2.4m9.6 0h4.4m1.6 0h4.4m15.6 0h2.4m-248.4 2h2.4m1.6 0h6.4m5.6 0h4.4m11.6 0h60.4m1.6 0h14.4m5.6 0h4.4m1.6 0h2.4m1.6 0h8.4m3.6 0h10.4m3.6 0h2.4m3.6 0h2.4m1.6 0h12.4m1.6 0h6.4m1.6 0h4.4m1.6 0h6.4m1.6 0h4.4m1.6 0h6.4m1.6 0h4.4m19.6 0h2.4m-232.4 2h4.4m7.6 0h4.4m5.6 0h2.4m3.6 0h6.4m1.6 0h6.4m5.6 0h46.4m1.6 0h4.4m1.6 0h4.4m7.6 0h4.4m3.6 0h2.4m7.6 0h2.4m1.6 0h8.4m5.6 0h8.4m1.6 0h6.4m1.6 0h2.4m1.6 0h16.4m1.6 0h6.4m3.6 0h2.4m27.6 0h2.4m-238.4 2h4.4m13.6 0h4.4m3.6 0h10.4m1.6 0h12.4m1.6 0h2.4m1.6 0h6.4m1.6 0h24.4m1.6 0h10.4m11.6 0h2.4m1.6 0h4.4m1.6 0h2.4m7.6 0h4.4m1.6 0h2.4m3.6 0h20.4m1.6 0h4.4m1.6 0h26.4m1.6 0h2.4m9.6 0h4.4m7.6 0h4.4m-226.4 2h2.4m15.6 0h2.4m9.6 0h2.4m3.6 0h2.4m1.6 0h2.4m3.6 0h2.4m1.6 0h2.4m3.6 0h12.4m1.6 0h14.4m1.6 0h2.4m1.6 0h4.4m1.6 0h4.4m9.6 0h4.4m7.6 0h2.4m15.6 0h6.4m1.6 0h2.4m1.6 0h8.4m1.6 0h8.4m3.6 0h2.4m1.6 0h2.4m1.6 0h2.4m1.6 0h4.4m1.6 0h14.4m5.6 0h2.4m-186.4 2h4.4m5.6 0h2.4m13.6 0h8.4m1.6 0h2.4m7.6 0h2.4m1.6 0h12.4m3.6 0h4.4m13.6 0h2.4m7.6 0h2.4m17.6 0h10.4m3.6 0h2.4m3.6 0h4.4m3.6 0h14.4m3.6 0h4.4m1.6 0h6.4m7.6 0h2.4m1.6 0h2.4m1.6 0h2.4m-180.4 2h2.4m7.6 0h4.4m1.6 0h2.4m9.6 0h8.4m5.6 0h2.4m1.6 0h2.4m5.6 0h2.4m1.6 0h4.4m21.6 0h2.4m33.6 0h2.4m1.6 0h2.4m7.6 0h4.4m5.6 0h2.4m13.6 0h2.4m7.6 0h6.4m1.6 0h2.4m-148.4 2h2.4m17.6 0h6.4m25.6 0h2.4m7.6 0h2.4m23.6 0h2.4m-88.4 2h4.4m13.6 0h2.4m39.6 0h2.4m57.6 0h2.4m-148.4 2h2.4m143.6 0h2.4m-148.4 2h2.4" stroke="#0000ff" stroke-width="2.4" fill="none"/>
<path d="M490.2 919.5h2.5m9.5 8h2.5m-82.5 6h2.5m29.5 0h2.5m-26.5 2h2.5m35.5 4h2.5m-118.5 4h2.5m37.5 0h2.5m103.5 0h2.5m-110.5 2h2.5m73.5 0h2.5m-132.5 2h2.5m45.5 0h2.5m29.5 0h2.5m-78.5 2h2.5m7.5 0h2.5m41.5 0h2.5m29.5 0h2.5m43.5 0h2.5m35.5 0h2.5m-164.5 2h2.5m55.5 0h2.5m73.5 0h2.5m9.5 0h2.5m-160.5 2h2.5m183.5 0h2.5m-174.5 2h2.5m43.5 0h2.5m9.5 0h2.5m55.5 0h2.5m7.5 0h2.5m-102.5 2h2.5m71.5 0h2.5m7.5 0h2.5m9.5 0h2.5m39.5 0h2.5m-154.5 2h2.5m23.5 0h2.5m3.5 0h2.5m1.5 0h2.5m69.5 0h2.5m-122.5 2h2.5m13.5 0h2.5m1.5 0h2.5m41.5 0h2.5m59.5 0h2.5m7.5 0h2.5m-164.5 2h2.5m5.5 0h2.5m41.5 0h2.5m27.5 0h2.5m13.5 0h2.5m19.5 0h2.5m5.5 0h2.5m11.5 0h2.5m11.5 0h2.5m1.5 0h2.5m-146.5 2h2.5m43.5 0h2.5m7.5 0h2.5m25.5 0h2.5m3.5 0h2.5m9.5 0h2.5m9.5 0h2.5m17.5 0h2.5m-150.5 2h2.5m25.5 0h2.5m57.5 0h2.5m11.5 0h2.5m25.5 0h2.5m21.5 0h2.5m5.5 0h2.5m75.5 0h2.5m-212.5 2h2.5m81.5 0h2.5m-122.5 2h2.5m29.5 0h2.5m103.5 0h2.5m1.5 0h2.5m47.5 0h2.5m-248.5 2h2.5m27.5 0h2.5m3.5 0h2.5m103.5 0h2.5m1.5 0h2.5m9.5 0h2.5m101.5 0h2.5m-220.5 2h2.5m113.5 0h2.5m51.5 0h2.5m27.5 0h2.5m23.5 0h2.5m-256.5 2h2.5m5.5 0h2.5m141.5 0h2.5m41.5 0h2.5m21.5 0h2.5m13.5 0h2.5m19.5 0h2.5m-278.5 2h2.5m19.5 0h2.5m159.5 0h2.5m29.5 0h2.5m7.5 0h2.5m21.5 0h2.5m-34.5 2h2.5m-230.5 2h2.5m253.5 0h2.5m-18.5 2h2.5m11.5 0h2.5m1.5 0h2.5m17.5 0h2.5m-38.5 2h2.5m11.5 0h2.5m13.5 0h2.5m1.5 0h2.5m-248.5 2h2.5m5.5 0h2.5m213.5 0h2.5m-222.5 2h2.5m213.5 0h2.5m17.5 0h2.5m-6.5 2h2.5m-28.5 4h2.5m11.5 0h2.5m23.5 2h2.5m21.5 0h2.5m-332.5 2h2.5m291.5 0h2.5m-298.5 2h2.5m307.5 0h2.5m-28.5 2h2.5m5.5 0h2.5m9.5 0h2.5m-18.5 2h2.5m5.5 0h2.5m55.5 0h2.5m-56.5 6h2.5m1.5 2h2.5m11.5 0h2.5m-26.5 2h2.5m19.5 0h2.5m9.5 2h2.5m-34.5 4h2.5m-4.5 2h2.5m25.5 0h2.5m-38.5 2h2.5m5.5 4h2.5m3.5 0h2.5m-12.5 2h2.5m5.5 2h2.5m-4.5 2h2.5m5.5 0h2.5m-14.5 2h2.5m-0.5 2h2.5m-20.5 2h2.5m23.5 0h2.5m7.5 0h2.5m-308.5 2h2.5m257.5 0h2.5m9.5 0h2.5m-282.5 2h2.5m21.5 0h2.5m259.5 0h2.5m-286.5 2h2.5m15.5 0h2.5m33.5 0h2.5m203.5 0h2.5m15.5 0h2.5m5.5 0h2.5m-276.5 2h2.5m57.5 0h2.5m1.5 0h2.5m183.5 0h2.5m-262.5 2h2.5m13.5 0h2.5m49.5 0h2.5m1.5 0h2.5m79.5 0h2.5m111.5 0h2.5m3.5 0h2.5m-240.5 2h2.5m1.5 0h2.5m23.5 0h2.5m183.5 0h2.5m5.5 0h2.5m35.5 0h2.5m-292.5 2h2.5m9.5 0h2.5m3.5 0h2.5m9.5 0h2.5m209.5 0h2.5m23.5 0h2.5m7.5 0h2.5m-276.5 2h2.5m33.5 0h2.5m3.5 0h2.5m115.5 0h2.5m87.5 0h2.5m-200.5 2h2.5m11.5 0h2.5m7.5 0h2.5m57.5 0h2.5m27.5 0h2.5m91.5 0h2.5m43.5 0h2.5m-262.5 2h2.5m45.5 0h2.5m11.5 0h2.5m29.5 0h2.5m17.5 0h2.5m7.5 0h2.5m11.5 0h2.5m37.5 0h2.5m29.5 0h2.5m-214.5 2h2.5m21.5 0h2.5m5.5 0h2.5m13.5 0h2.5m1.5 0h2.5m33.5 0h2.5m3.5 0h2.5m17.5 0h2.5m15.5 0h2.5m29.5 0h2.5m15.5 0h2.5m-148.5 2h2.5m3.5 0h2.5m9.5 0h2.5m39.5 0h2.5m27.5 0h2.5m29.5 0h2.5m43.5 0h2.5m-160.5 2h2.5m21.5 0h2.5m11.5 0h2.5m31.5 0h2.5m25.5 0h2.5m27.5 0h2.5m13.5 0h2.5m-144.5 2h2.5m27.5 0h2.5m53.5 0h2.5m45.5 0h2.5m-198.5 2h2.5m33.5 0h2.5m45.5 0h2.5m129.5 0h2.5m-108.5 2h2.5m21.5 0h2.5m39.5 0h2.5m-10.5 2h2.5m-96.5 2h2.5m123.5 4h2.5m-18.5 2h2.5m-110.5 2h2.5m121.5 2h2.5m7.5 0h2.5m9.5 10h2.5" stroke="#1414e0" stroke-width="2.5" fill="none"/>
<path d="M352.5 987.5l-9 0.1l-7-0.8l-4.1-1.3l-1.2-1l0-1l1.3-1.4l4-1.7l7-1.4l8-0.7l8-0.1l7 0.5l5 0.9l2.3 0.9l1.1 1l-0.1 1l-1.5 1l-5.6 2l-6.2 1.1zM356.5 1053.6l-6 0.3l-6-0.3l-17-2.6l-24-5.8l-24-7.3l-16-6l-10.8-5.4l-4-3l-1.8-2l-1.4-3l0-2l1.2-2l2.4-2l8.1-4l14.3-4.6l15.1-3.4l9.9-1.2l18-1.2l41-1.2l16 0.7l8 1.3l4.6 2.6l7.4 7.2l2 1.2l2 0.3l3-0.9l13-6l13-3.5l8-1.1l9-0.6l8 0l7 0.8l11 2.8l9 4.3l3.4 2.5l3.1 3l2.1 3l1.7 4l0.4 3l-1.2 5l-1.5 3l-2.4 3l-3.5 3l-4.1 2.6l-5 2.3l-6 2l-8 1.6l-8 0.7l-10-0.1l-10-1l-8-1.5l-7-1.9l-7-2.6l-9-4.6l-3-0.5l-2 0.7l-2 1.3l-9.1 9l-6.9 5l-8 3.4z" fill="#0000ff"/>
<path d="M354.5 983.5l-6 0.3l-1.7-0.3l-0.4-1l6.1-0.7l4.9 0.7zM358.5 1051.6l-11 0.5l-16-2.1l-18-4.2l-23-6.9l-17-6.4l-11-5.7l-3.2-2.3l-2.8-3l-1.4-3l0.1-2l1.1-2l2.3-2l8.9-4.4l16-5.1l14-2.9l22-1.9l30-0.9l19 0.5l6 0.7l3.7 1l2.3 1.3l2.9 2.7l4.6 6l3.1 6l1 3l0.4 3l-2.5 6l-3 5l-3.7 5l-4.8 5.1l-4 3.1l-5 2.8l-5 1.8zM454.5 1040.6l-9 0.8l-11-0.5l-10-1.5l-9-2.5l-7.5-3.4l-5.3-4l-3.1-4l-0.9-3l-0.8-1l0.2-1l0.9-2l2.2-3l6.1-5l7.2-3.6l9-2.8l11-1.9l12-0.5l9 0.9l9 2.4l8 4l3.1 2.5l2.6 3l1.7 3l0.8 3l-0.9 5l-3 5l-5.3 4.3l-8 3.7z" fill="#002dff"/>
<path d="M357.5 1048.6l-11 0.3l-14-1.9l-16-3.9l-18-5.9l-13.3-5.7l-8.6-5l-3.5-3l-1.6-2l-1.2-3l0-2l1.1-2l2.1-2l7.3-4l12.7-4.5l14.4-3.5l16.6-1.7l22-0.9l18 0.3l9 1.5l3 1.5l2.7 2.3l2.6 3l2.3 4l1.1 3l0.7 4l0 4l-1.1 5l-1.5 4l-2.3 4l-3.1 4l-3.4 3.2l-4 2.7l-4 1.9zM447.5 1033.6l-6 0l-7-0.7l-5.8-1.4l-4.2-1.6l-3.8-2.4l-1.9-2l-1.7-4l0.7-2l2.5-3l5-3l6.2-2.1l8-1.3l7-0.2l6 0.8l5.6 1.8l4.8 3l2.5 3l1 3l-1.4 4l-1.5 2l-2.4 2l-4 2l-4.6 1.4z" fill="#0048ff"/>
<path d="M354.5 1046.6l-11-0.2l-13-2.3l-15-4.1l-14-5.2l-10.9-5.3l-6.9-5l-2.4-3l-0.9-2l-0.3-2l0.5-2l1.5-2l2.5-2l8-4l12.9-4.3l11.8-2.7l14.2-1.5l19-0.6l13 0.4l4.7 0.7l3.2 1l3.1 1.7l3 2.6l2.3 2.7l2.1 4l1.1 4l0.2 4l-1.6 8l-1.7 4l-2.4 3.7l-3 3.3l-3 2.4l-4 2.4l-4 1.6z" fill="#0066ff"/>
<path d="M355.5 1044.6l-9 0.2l-12-1.8l-14-3.7l-12.9-4.8l-10-5l-6.7-5l-2.4-3l-0.9-2l-0.3-2l0.5-2l1.5-2l2.5-2l7.9-4l11.8-4l12-2.7l12-1.4l17-0.5l10.7 0.6l6.3 1.7l3 1.6l3.3 2.7l2.5 3l1.6 3l0.9 3l0.4 4l-0.2 3l-1.2 5l-3.5 7l-2.6 3l-3.2 2.7l-7 3.6z" fill="#0086ff"/>
<path d="M357.5 1042.7l-9 0.5l-11-1.3l-12-3l-12.3-4.4l-10-5l-6.6-5l-2.4-3l-0.8-2l-0.3-2l0.5-2l1.4-2l2.5-2l6-3.2l10.5-3.8l12-3l11.5-1.5l13-0.6l10 0.6l7 1.7l3 1.5l3.2 2.3l2.7 3l1.7 3l1 3l0.4 3l-0.8 7l-1.5 4l-1.6 3l-4.4 5l-5.7 3.7z" fill="#00a8ff"/>
<path d="M354.5 1041.6l-8 0.1l-11-1.7l-11-3.1l-10-4l-8.2-4.4l-5-4l-2.3-3l-0.9-2l-0.3-2l0.5-2l1.5-2l2.5-2l6.2-3.3l10-3.6l12-2.8l10-1.3l12-0.4l8 0.7l7 2.2l3 1.6l3 2.5l2 2.4l1.5 3l0.9 3l0.1 3l-1.2 7l-3.3 6.4l-5 4.8l-6 3.1z" fill="#00ccff"/>
<path d="M358.5 1039.6l-8 0.9l-9-0.7l-11-2.5l-10.5-3.8l-8.5-4.3l-6.1-4.7l-2.3-3l-0.9-2l-0.2-2l0.4-2l3.1-3.4l6.5-3.6l9.5-3.4l10-2.5l10-1.4l10-0.4l8 0.7l6 1.7l5.6 3.3l3.5 4l1.9 5l-0.1 6l-1.9 6.1l-4 5.6l-5 3.8z" fill="#00f1ff"/>
<path d="M357.5 1038.5l-8 0.8l-8-0.8l-10-2.3l-9.9-3.7l-7.5-4l-5.1-4l-2.3-3l-0.9-2l-0.2-2l0.5-2l1.4-2l2-1.6l6.2-3.4l8.8-3.1l10-2.4l9-1.1l9-0.3l7 0.9l6 1.8l5 3.1l3.3 4.1l1.6 5l-0.5 6l-2.3 6l-4.1 4.8l-5 3.3z" fill="#00ffe6"/>
<path d="M356.5 1037.5l-7 0.6l-9-0.9l-9-2.4l-8.5-3.3l-7.1-4l-4.5-4l-2.3-4l-0.3-2l0.5-2l2.6-3l6.6-3.7l8-2.9l9-2.1l9-1.2l8-0.1l7 0.9l6 2l4.6 3.1l3 4l1.2 5l-0.8 6l-2.4 5l-3.6 4.1l-5 3.1z" fill="#00ffbe"/>
<path d="M355.5 1036.6l-7 0.4l-8-1l-8-2.1l-8.3-3.4l-5.7-3.3l-4.2-3.7l-2.3-4l-0.2-2l0.5-2l2.6-3l5.1-3l7.5-2.8l9-2.2l8-1.1l8-0.1l7 0.9l5 1.7l5 3.4l2.9 4.2l0.8 4l-0.9 6l-2.6 5l-3.2 3.4l-5 3z" fill="#00ff95"/>
<path d="M355.5 1035.5l-6 0.5l-8-0.9l-8-2.1l-7-2.9l-6.1-3.6l-4.1-4l-1.7-4l0.4-3l2.7-3l5.3-3l7.5-2.7l8-1.8l8-0.9l7 0l6 1l5 1.8l4 2.8l2.7 3.8l0.9 4l-0.7 5l-2.3 5l-3.6 3.8l-5 2.8z" fill="#00ff6a"/>
<path d="M354.5 1034.6l-6 0.3l-7-0.9l-7-1.9l-7-2.9l-5-3.2l-3.6-3.5l-1.8-4l0.5-3l2.7-3l5.2-2.9l7-2.4l7-1.6l7-0.8l7 0.1l6 1l4.3 1.6l3.7 2.6l2.6 3.4l0.9 4l-0.7 5l-2.6 5l-3.2 3.2l-5 2.7z" fill="#00ff3f"/>
<path d="M354.5 1033.6l-6 0.3l-6-0.7l-7-1.9l-6.5-2.8l-4.7-3l-3-3l-1.8-4l0.5-3l2.8-3l3.7-2.1l6-2.3l8-1.9l7-0.7l6 0.1l5.2 0.9l4.8 1.8l4 3.1l1.9 3.1l0.5 4l-0.8 4l-2 4l-3.6 3.6l-4 2.1z" fill="#00ff13"/>
<path d="M354.5 1032.6l-6 0.3l-6-0.8l-6-1.6l-6-2.6l-4.9-3.4l-2.6-3l-1.2-3l0.5-3l3-3l3.6-2l5.6-2.1l7-1.5l6-0.7l6 0.2l5 0.8l4 1.6l3.8 2.7l2 3l0.6 3l-0.6 4l-1.8 4l-3 3.2l-4 2.4z" fill="#1aff00"/>
<path d="M354.5 1031.5l-5 0.4l-6-0.6l-6-1.6l-5-2.2l-4.6-3l-2.7-3l-1.2-3l0.5-3l3-2.9l3.9-2.1l5.1-1.7l5.9-1.3l6.1-0.6l5 0.2l5 1l3.6 1.4l2.8 2l2.2 3l0.7 3l-0.6 4l-1.7 3.5l-3 3.2l-4 2.2z" fill="#49ff00"/>
<path d="M354.5 1030.5l-5 0.5l-5-0.5l-6-1.6l-5-2.3l-3.2-2.1l-2.9-3l-1.2-3l0.5-3l1.8-2l3.2-2l5.3-2l5.5-1.2l6-0.6l5 0.2l4 0.7l4 1.6l3.1 2.3l1.8 3l0.3 3l-0.7 3l-1.5 3l-2.9 3l-3.1 1.8z" fill="#78ff00"/>
<path d="M353.5 1029.6l-4 0.3l-5-0.5l-5-1.3l-5-2.4l-3.1-2.2l-2.4-3l-0.8-3l0.6-2l2-2l3.4-2l4.3-1.5l5-1.1l9-0.4l4 0.7l4 1.4l2.7 1.9l2 3l0.3 3l-0.7 3l-1.7 3l-2.6 2.4l-3 1.7z" fill="#a8ff00"/>
<path d="M353.5 1028.6l-4 0.3l-4.2-0.4l-4.8-1.3l-4-1.8l-3-2.1l-2.4-2.8l-0.8-3l0.7-2l2-2l3.5-1.8l8-2.2l9-0.1l4 0.9l2.7 1.2l2.5 2l1.3 2l0.3 3l-0.7 3l-2 3l-2.1 1.8l-3 1.5z" fill="#d8ff00"/>
<path d="M352.5 1027.6l-4 0.2l-4-0.6l-6.9-2.7l-2.7-2l-1.6-2l-0.9-3l0.7-2l2.3-2l3.1-1.5l8-1.9l8 0.3l5.5 2.1l2.1 2l0.9 2l0.1 2l-0.9 3l-1.4 2l-2.3 2l-3 1.4z" fill="#fff400"/>
<path d="M351.5 1026.6l-3 0l-4-0.6l-5.8-2.5l-2.4-2l-1.3-2l-0.4-2l0.8-2l2.1-1.8l2.5-1.2l7.5-1.6l7 0.4l5 2.2l2.1 3l-0.1 3l-0.8 2l-3.2 3.2l-3 1.3z" fill="#ffc200"/>
<path d="M354.5 1024.6l-3 0.7l-3 0.1l-4-0.8l-2.8-1.1l-3.8-3l-0.9-2l0.1-2l1.4-1.7l2-1.2l5-1.5l6-0.3l5 1.2l3.1 2.5l0.6 3l-1.7 3.5l-1.7 1.5z" fill="#ff8f00"/>
<path d="M352.5 1023.7l-5 0.1l-4.2-1.3l-1.8-1.1l-1.6-1.9l-0.6-2l0.3-1l2.9-2.3l5-1.3l5 0.1l4 1.4l1.8 2.1l-0.2 3l-1.3 2l-1.3 1z" fill="#ff5c00"/>
<path d="M352.5 1021.9l-3 0.4l-4-0.9l-2.6-1.9l-0.7-2l0.3-1l2-1.5l3-0.8l4-0.1l3 1l1.5 1.4l0.1 2l-1.2 2z" fill="#ff2800"/>
<path d="M350.5 1019.6l-2-0.1l-1-0.5l-1-1.5l0.8-1l1.2-0.4l3.4 0.4l0.8 1l-0.4 1z" fill="#ff0000"/>
</g>
<g clip-path="url(#c11)">
<path d="M1008.8 915.5h2.4m19.6 0h4.4m-26.4 2h2.4m23.6 0h2.4m-2.4 2h2.4m-52.4 4h2.4m-2.4 2h2.4m-10.4 2h2.4m45.6 0h2.4m-62.4 2h6.4m5.6 0h4.4m3.6 0h4.4m1.6 0h2.4m3.6 0h4.4m13.6 0h2.4m7.6 0h4.4m-60.4 2h2.4m1.6 0h2.4m1.6 0h2.4m3.6 0h4.4m1.6 0h6.4m17.6 0h6.4m3.6 0h4.4m-58.4 2h2.4m1.6 0h4.4m9.6 0h2.4m3.6 0h4.4m15.6 0h2.4m-74.4 2h4.4m9.6 0h6.4m3.6 0h2.4m1.6 0h6.4m1.6 0h4.4m5.6 0h2.4m1.6 0h4.4m1.6 0h2.4m1.6 0h6.4m-52.4 2h8.4m1.6 0h2.4m7.6 0h2.4m7.6 0h2.4m3.6 0h8.4m5.6 0h8.4m-80.4 2h6.4m7.6 0h10.4m1.6 0h4.4m3.6 0h16.4m1.6 0h22.4m1.6 0h8.4m-74.4 2h4.4m1.6 0h18.4m5.6 0h2.4m1.6 0h4.4m1.6 0h22.4m3.6 0h4.4m1.6 0h4.4m19.6 0h4.4m-110.4 2h8.4m3.6 0h2.4m1.6 0h12.4m1.6 0h26.4m1.6 0h4.4m3.6 0h2.4m1.6 0h2.4m1.6 0h6.4m1.6 0h2.4m1.6 0h8.4m15.6 0h2.4m-110.4 2h12.4m1.6 0h6.4m1.6 0h12.4m1.6 0h22.4m1.6 0h10.4m1.6 0h2.4m1.6 0h18.4m13.6 0h2.4m-108.4 2h4.4m1.6 0h4.4m1.6 0h2.4m1.6 0h46.4m1.6 0h8.4m1.6 0h6.4m1.6 0h2.4m1.6 0h4.4m1.6 0h6.4m-104.4 2h6.4m1.6 0h76.4m11.6 0h2.4m1.6 0h2.4m-104.4 2h2.4m3.6 0h66.4m1.6 0h12.4m11.6 0h2.4m17.6 0h2.4m-146.4 2h4.4m9.6 0h2.4m9.6 0h8.4m1.6 0h4.4m1.6 0h22.4m15.6 0h20.4m3.6 0h2.4m1.6 0h4.4m3.6 0h6.4m1.6 0h4.4m15.6 0h2.4m-136.4 2h2.4m1.6 0h2.4m5.6 0h4.4m1.6 0h4.4m1.6 0h4.4m1.6 0h16.4m29.6 0h8.4m1.6 0h12.4m1.6 0h10.4m5.6 0h2.4m5.6 0h2.4m-128.4 2h4.4m3.6 0h6.4m3.6 0h8.4m3.6 0h10.4m41.6 0h16.4m1.6 0h6.4m1.6 0h4.4m9.6 0h6.4m-126.4 2h2.4m5.6 0h2.4m1.6 0h22.4m47.6 0h22.4m1.6 0h6.4m1.6 0h2.4m5.6 0h2.4m-126.4 2h2.4m1.6 0h28.4m51.6 0h10.4m1.6 0h10.4m3.6 0h8.4m3.6 0h4.4m-128.4 2h4.4m1.6 0h2.4m1.6 0h2.4m1.6 0h16.4m57.6 0h22.4m7.6 0h2.4m-138.4 2h6.4m7.6 0h2.4m1.6 0h2.4m3.6 0h20.4m61.6 0h12.4m1.6 0h18.4m13.6 0h4.4m-158.4 2h4.4m1.6 0h2.4m3.6 0h2.4m1.6 0h6.4m1.6 0h18.4m67.6 0h10.4m1.6 0h4.4m5.6 0h2.4m-162.4 2h2.4m29.6 0h4.4m1.6 0h4.4m3.6 0h20.4m71.6 0h22.4m-160.4 2h2.4m25.6 0h2.4m3.6 0h6.4m3.6 0h2.4m1.6 0h16.4m73.6 0h10.4m1.6 0h8.4m1.6 0h6.4m-140.4 2h4.4m5.6 0h2.4m5.6 0h16.4m77.6 0h10.4m1.6 0h10.4m1.6 0h4.4m1.6 0h4.4m-154.4 2h2.4m1.6 0h4.4m3.6 0h18.4m3.6 0h4.4m81.6 0h18.4m1.6 0h4.4m1.6 0h6.4m-170.4 2h2.4m11.6 0h6.4m1.6 0h4.4m5.6 0h22.4m83.6 0h14.4m1.6 0h2.4m9.6 0h8.4m-174.4 2h2.4m7.6 0h6.4m5.6 0h6.4m1.6 0h6.4m1.6 0h12.4m85.6 0h14.4m1.6 0h6.4m5.6 0h6.4m1.6 0h2.4m-170.4 2h4.4m13.6 0h24.4m89.6 0h20.4m1.6 0h4.4m-190.4 2h2.4m11.6 0h6.4m19.6 0h2.4m1.6 0h2.4m1.6 0h2.4m1.6 0h16.4m95.6 0h16.4m7.6 0h2.4m3.6 0h4.4m-198.4 2h2.4m7.6 0h6.4m3.6 0h2.4m1.6 0h8.4m1.6 0h2.4m3.6 0h22.4m101.6 0h14.4m5.6 0h6.4m-206.4 2h2.4m13.6 0h4.4m15.6 0h2.4m5.6 0h10.4m1.6 0h16.4m107.6 0h18.4m1.6 0h4.4m1.6 0h2.4m-208.4 2h2.4m31.6 0h4.4m5.6 0h6.4m1.6 0h14.4m111.6 0h16.4m1.6 0h8.4m1.6 0h2.4m-178.4 2h4.4m1.6 0h22.4m119.6 0h12.4m1.6 0h4.4m1.6 0h2.4m5.6 0h4.4m-226.4 2h4.4m23.6 0h2.4m5.6 0h2.4m7.6 0h22.4m125.6 0h22.4m15.6 0h4.4m-216.4 2h2.4m5.6 0h2.4m5.6 0h2.4m1.6 0h4.4m1.6 0h16.4m133.6 0h16.4m3.6 0h4.4m-214.4 2h2.4m9.6 0h10.4m1.6 0h4.4m1.6 0h12.4m1.6 0h8.4m135.6 0h16.4m1.6 0h6.4m13.6 0h4.4m-258.4 2h4.4m21.6 0h4.4m9.6 0h12.4m3.6 0h4.4m1.6 0h12.4m141.6 0h18.4m1.6 0h4.4m-202.4 2h6.4m5.6 0h4.4m1.6 0h14.4m143.6 0h12.4m1.6 0h2.4m1.6 0h4.4m-224.4 2h4.4m19.6 0h6.4m1.6 0h22.4m147.6 0h12.4m1.6 0h6.4m-248.4 2h2.4m25.6 0h2.4m17.6 0h4.4m1.6 0h4.4m1.6 0h16.4m151.6 0h18.4m1.6 0h2.4m-278.4 2h4.4m13.6 0h2.4m7.6 0h2.4m35.6 0h2.4m7.6 0h4.4m3.6 0h8.4m1.6 0h8.4m151.6 0h16.4m1.6 0h6.4m23.6 0h2.4m-286.4 2h2.4m31.6 0h4.4m7.6 0h6.4m3.6 0h2.4m1.6 0h6.4m3.6 0h10.4m155.6 0h22.4m9.6 0h2.4m13.6 0h2.4m-238.4 2h2.4m1.6 0h26.4m155.6 0h18.4m1.6 0h4.4m1.6 0h2.4m5.6 0h4.4m-236.4 2h2.4m11.6 0h4.4m5.6 0h6.4m1.6 0h8.4m157.6 0h12.4m1.6 0h4.4m1.6 0h2.4m3.6 0h2.4m3.6 0h4.4m-234.4 2h2.4m7.6 0h2.4m1.6 0h4.4m1.6 0h6.4m1.6 0h10.4m157.6 0h12.4m1.6 0h2.4m3.6 0h4.4m-232.4 2h4.4m15.6 0h8.4m1.6 0h4.4m1.6 0h2.4m1.6 0h10.4m155.6 0h12.4m1.6 0h6.4m-208.4 2h4.4m1.6 0h6.4m3.6 0h2.4m1.6 0h10.4m155.6 0h14.4m1.6 0h4.4m-204.4 2h4.4m3.6 0h20.4m151.6 0h14.4m1.6 0h2.4m1.6 0h4.4m-210.4 2h4.4m7.6 0h2.4m3.6 0h16.4m149.6 0h8.4m1.6 0h6.4m3.6 0h6.4m-208.4 2h2.4m1.6 0h2.4m3.6 0h22.4m147.6 0h4.4m1.6 0h8.4m1.6 0h12.4m-218.4 2h6.4m3.6 0h8.4m3.6 0h2.4m3.6 0h2.4m1.6 0h12.4m141.6 0h2.4m1.6 0h2.4m1.6 0h14.4m3.6 0h6.4m-204.4 2h6.4m5.6 0h18.4m137.6 0h8.4m1.6 0h4.4m1.6 0h2.4m1.6 0h2.4m1.6 0h2.4m1.6 0h6.4m-216.4 2h2.4m3.6 0h2.4m7.6 0h6.4m5.6 0h18.4m131.6 0h18.4m-196.4 2h2.4m3.6 0h2.4m7.6 0h2.4m1.6 0h16.4m1.6 0h10.4m125.6 0h18.4m17.6 0h2.4m1.6 0h2.4m-200.4 2h6.4m1.6 0h26.4m119.6 0h20.4m7.6 0h4.4m5.6 0h4.4m1.6 0h2.4m-198.4 2h2.4m1.6 0h4.4m1.6 0h6.4m1.6 0h16.4m111.6 0h6.4m1.6 0h8.4m1.6 0h10.4m1.6 0h4.4m11.6 0h4.4m-228.4 2h6.4m25.6 0h2.4m3.6 0h12.4m1.6 0h18.4m101.6 0h26.4m1.6 0h2.4m1.6 0h2.4m-202.4 2h2.4m21.6 0h4.4m7.6 0h2.4m1.6 0h2.4m1.6 0h26.4m91.6 0h26.4m9.6 0h4.4m-176.4 2h2.4m1.6 0h8.4m1.6 0h26.4m1.6 0h6.4m79.6 0h6.4m1.6 0h16.4m1.6 0h10.4m-164.4 2h2.4m9.6 0h2.4m9.6 0h2.4m1.6 0h28.4m63.6 0h14.4m1.6 0h10.4m1.6 0h12.4m-148.4 2h4.4m3.6 0h2.4m5.6 0h4.4m1.6 0h8.4m1.6 0h22.4m41.6 0h14.4m1.6 0h12.4m1.6 0h4.4m1.6 0h10.4m1.6 0h2.4m3.6 0h4.4m-146.4 2h10.4m3.6 0h2.4m1.6 0h86.4m3.6 0h18.4m9.6 0h6.4m-142.4 2h2.4m1.6 0h6.4m1.6 0h6.4m3.6 0h6.4m1.6 0h8.4m1.6 0h2.4m1.6 0h20.4m1.6 0h36.4m5.6 0h8.4m1.6 0h10.4m15.6 0h6.4m-134.4 2h2.4m5.6 0h2.4m3.6 0h4.4m1.6 0h8.4m1.6 0h30.4m1.6 0h14.4m1.6 0h2.4m5.6 0h2.4m1.6 0h4.4m37.6 0h2.4m-160.4 2h4.4m3.6 0h2.4m25.6 0h12.4m1.6 0h2.4m5.6 0h2.4m1.6 0h26.4m1.6 0h6.4m1.6 0h2.4m1.6 0h2.4m5.6 0h4.4m1.6 0h6.4m-114.4 2h2.4m25.6 0h12.4m7.6 0h6.4m1.6 0h6.4m7.6 0h4.4m3.6 0h10.4m3.6 0h6.4m5.6 0h2.4m5.6 0h6.4m-118.4 2h2.4m19.6 0h4.4m1.6 0h2.4m1.6 0h2.4m1.6 0h14.4m1.6 0h2.4m3.6 0h4.4m3.6 0h6.4m1.6 0h6.4m3.6 0h6.4m1.6 0h2.4m17.6 0h4.4m-98.4 2h8.4m13.6 0h8.4m1.6 0h2.4m1.6 0h8.4m1.6 0h2.4m1.6 0h2.4m5.6 0h2.4m9.6 0h2.4m1.6 0h2.4m19.6 0h2.4m-112.4 2h2.4m15.6 0h2.4m1.6 0h4.4m9.6 0h2.4m5.6 0h6.4m3.6 0h8.4m1.6 0h4.4m-68.4 2h2.4m19.6 0h2.4m23.6 0h4.4m7.6 0h2.4m7.6 0h4.4m13.6 0h6.4m-94.4 2h2.4m45.6 0h2.4m9.6 0h2.4m9.6 0h4.4m13.6 0h2.4m-54.4 2h4.4m27.6 0h4.4m-34.4 2h2.4m23.6 0h2.4m-2.4 2h4.4" stroke="#0000ff" stroke-width="2.4" fill="none"/>
<path d="M1006.8 889.5h2.5m-0.5 14h2.5m-0.5 2h2.5m-12.5 2h2.5m61.5 0h2.5m-94.5 2h2.5m11.5 0h2.5m-40.5 2h2.5m23.5 0h2.5m105.5 0h2.5m-66.5 2h2.5m-38.5 2h2.5m27.5 2h2.5m-0.5 2h2.5m-76.5 2h2.5m19.5 0h2.5m5.5 0h2.5m39.5 0h2.5m-56.5 2h2.5m55.5 0h2.5m-50.5 2h2.5m25.5 0h2.5m23.5 0h2.5m21.5 0h2.5m-124.5 2h2.5m43.5 0h2.5m15.5 0h2.5m9.5 0h2.5m3.5 0h2.5m19.5 0h2.5m-100.5 2h2.5m19.5 0h2.5m5.5 0h2.5m77.5 0h2.5m-88.5 2h2.5m1.5 0h2.5m45.5 0h2.5m-102.5 2h2.5m17.5 0h2.5m31.5 0h2.5m57.5 0h2.5m7.5 0h2.5m-142.5 2h2.5m29.5 0h2.5m93.5 0h2.5m-0.5 2h2.5m5.5 0h2.5m7.5 0h2.5m-112.5 2h2.5m93.5 0h2.5m-100.5 2h2.5m103.5 0h2.5m-110.5 2h2.5m107.5 0h2.5m-128.5 2h2.5m1.5 0h2.5m-28.5 2h2.5m17.5 0h2.5m1.5 0h2.5m7.5 0h2.5m123.5 0h2.5m-146.5 2h2.5m13.5 0h2.5m1.5 0h2.5m113.5 0h2.5m7.5 0h2.5m-126.5 2h2.5m89.5 0h2.5m13.5 0h2.5m-112.5 2h2.5m109.5 0h2.5m7.5 2h2.5m19.5 0h2.5m-172.5 2h2.5m125.5 0h2.5m15.5 0h2.5m-146.5 2h2.5m1.5 0h2.5m3.5 0h2.5m127.5 0h2.5m5.5 0h2.5m-166.5 4h2.5m145.5 0h2.5m17.5 0h2.5m-176.5 2h2.5m153.5 0h2.5m-162.5 2h2.5m151.5 2h2.5m15.5 0h2.5m-190.5 2h2.5m9.5 0h2.5m167.5 0h2.5m-264.5 2h2.5m49.5 0h2.5m219.5 0h2.5m39.5 0h2.5m-242.5 2h2.5m9.5 0h2.5m167.5 0h2.5m7.5 0h2.5m-232.5 2h2.5m23.5 0h2.5m45.5 0h2.5m-72.5 2h2.5m15.5 0h2.5m197.5 0h2.5m1.5 0h2.5m13.5 0h2.5m-244.5 2h2.5m17.5 0h2.5m21.5 0h2.5m169.5 0h2.5m19.5 0h2.5m-228.5 4h2.5m195.5 0h2.5m17.5 0h2.5m-290.5 2h2.5m25.5 0h2.5m53.5 0h2.5m5.5 0h2.5m181.5 0h2.5m-208.5 4h2.5m5.5 0h2.5m5.5 0h2.5m205.5 0h2.5m-292.5 2h2.5m13.5 0h2.5m35.5 0h2.5m211.5 0h2.5m-8.5 2h2.5m1.5 0h2.5m-246.5 2h2.5m7.5 0h2.5m225.5 0h2.5m25.5 0h2.5m-284.5 2h2.5m5.5 0h2.5m11.5 0h2.5m-26.5 2h2.5m33.5 0h2.5m7.5 0h2.5m205.5 0h2.5m1.5 0h2.5m1.5 0h2.5m3.5 0h2.5m5.5 0h2.5m3.5 0h2.5m33.5 0h2.5m-332.5 2h2.5m49.5 0h2.5m207.5 0h2.5m-268.5 2h2.5m55.5 0h2.5m211.5 0h2.5m-236.5 2h2.5m7.5 0h2.5m9.5 0h2.5m207.5 0h2.5m-296.5 2h2.5m43.5 0h2.5m5.5 0h2.5m235.5 0h2.5m67.5 0h2.5m-290.5 2h2.5m-56.5 2h2.5m31.5 0h2.5m245.5 0h2.5m7.5 0h2.5m15.5 0h2.5m-300.5 2h2.5m15.5 0h2.5m9.5 0h2.5m223.5 0h2.5m-274.5 2h2.5m5.5 0h2.5m3.5 0h2.5m13.5 0h2.5m19.5 0h2.5m215.5 0h2.5m1.5 0h2.5m19.5 0h2.5m-292.5 2h2.5m11.5 0h2.5m9.5 0h2.5m9.5 0h2.5m217.5 0h2.5m11.5 0h2.5m7.5 0h2.5m-292.5 2h2.5m23.5 0h2.5m3.5 0h2.5m3.5 0h2.5m11.5 0h2.5m223.5 0h2.5m-270.5 2h2.5m-8.5 2h2.5m29.5 0h2.5m3.5 2h2.5m223.5 0h2.5m9.5 0h2.5m-258.5 2h2.5m17.5 0h2.5m-60.5 2h2.5m49.5 0h2.5m205.5 0h2.5m5.5 0h2.5m15.5 0h2.5m23.5 0h2.5m-268.5 2h2.5m23.5 0h2.5m181.5 0h2.5m3.5 0h2.5m35.5 0h2.5m-278.5 2h2.5m35.5 0h2.5m5.5 0h2.5m179.5 0h2.5m-200.5 2h2.5m9.5 2h2.5m205.5 0h2.5m1.5 2h2.5m-20.5 2h2.5m-206.5 2h2.5m185.5 0h2.5m1.5 0h2.5m5.5 0h2.5m5.5 0h2.5m3.5 0h2.5m-212.5 2h2.5m3.5 0h2.5m11.5 0h2.5m185.5 0h2.5m-188.5 2h2.5m-22.5 2h2.5m7.5 0h2.5m13.5 0h2.5m109.5 0h2.5m25.5 0h2.5m-112.5 4h2.5m19.5 0h2.5m89.5 0h2.5m-156.5 2h2.5m19.5 0h2.5m11.5 0h2.5m107.5 0h2.5m73.5 0h2.5m-200.5 2h2.5m5.5 0h2.5m81.5 0h2.5m3.5 0h2.5m-98.5 2h2.5m21.5 0h2.5m43.5 0h2.5m25.5 0h2.5m29.5 0h2.5m-52.5 2h2.5m13.5 0h2.5m-70.5 2h2.5m69.5 0h2.5m-92.5 2h2.5m17.5 0h2.5m5.5 0h2.5m9.5 0h2.5m7.5 0h2.5m11.5 0h2.5m13.5 0h2.5m11.5 0h2.5m9.5 0h2.5m-94.5 2h2.5m19.5 0h2.5m9.5 0h2.5m11.5 0h2.5m11.5 0h2.5m-106.5 2h2.5m9.5 0h2.5m31.5 0h2.5m19.5 0h2.5m21.5 0h2.5m-34.5 2h2.5m-28.5 2h2.5m3.5 0h2.5m-30.5 2h2.5m23.5 0h2.5m33.5 0h2.5m19.5 0h2.5m7.5 0h2.5m-82.5 2h2.5m23.5 0h2.5m7.5 0h2.5m-8.5 4h2.5m1.5 0h2.5m-28.5 4h2.5m13.5 0h2.5m9.5 0h2.5m-42.5 4h2.5m11.5 0h2.5m35.5 4h2.5" stroke="#1414e0" stroke-width="2.5" fill="none"/>
<path d="M897 1049.6l-16 0.2l-16-1.5l-14-3.2l-11-4.3l-8.1-5.3l-2.9-3l-1.9-3l-1.2-3l-0.3-3l0.9-4l1.5-3l-0.1-1l3.6-4l4.5-3.6l12-7l15-6.1l29.8-9.3l10.8-4l10.1-5l24.3-14.3l8-3.9l8-3l13-3.4l6-0.7l6-0.1l5 0.6l5 1.4l4 2l3 2.4l2.7 4l1.5 4l0.7 5l-0.3 6l-5.2 27l-2.5 6l-4.1 6l-8.1 7l-7.7 5.2l-10 5.3l-12 5l-13 4.2l-15 3.7l-13 2.3z" fill="#0000ff"/>
<path d="M901 1047.5l-16 0.6l-15-1l-15-3l-11-4.1l-4.6-2.5l-4-3l-2.9-3l-1.8-3l-1-3l-0.1-3l0.7-3l1.5-3l0-1l3.7-4l4.5-3.6l12-6.8l15-5.9l28.3-8.7l11.1-4l10.3-5l23.3-13.4l13-5.6l12-3.1l11-0.8l5 0.6l4 1.1l4 1.9l2.7 2.3l2.3 3.3l1.7 4.7l0.5 5l-0.4 5l-4.3 25l-2.4 6l-4.2 6l-7.9 6.8l-7 4.7l-9 4.8l-10 4.3l-11 3.7l-12 3.3l-14 2.8z" fill="#0023ff"/>
<path d="M900 1044.6l-14 0.4l-14-1l-12-2.4l-10-3.5l-7.6-4.6l-3-3l-1.9-3l-1.1-5l0.6-3l1.6-4l3.4-3.7l4.1-3.3l5.9-3.6l6-3l15-5.8l26.3-7.6l11.7-4l11.2-5l20.8-11.3l9-3.7l10-2.6l9-0.6l7 1.4l3 1.4l2 1.6l2.6 3.8l1.2 4l0.4 5l-0.7 9l-0.4 1l-0.8 11l-1 5l-2.6 6l-3.6 5l-7.1 6l-7 4.7l-8 4.2l-9 3.8l-11 3.7l-12 3l-12 2.3z" fill="#003bff"/>
<path d="M898 1042.5l-13 0.2l-12-1.1l-11-2.3l-9-3.3l-6.8-4.5l-1.9-2l-1.9-3l-0.8-3l0-2l2-6l3.4-3.7l4.3-3.3l5.7-3.4l7-3.3l13-4.8l30.4-8.5l8.7-3l9.7-4l19.2-9.5l7-2.7l8-1.9l7-0.3l6 1.4l3.9 3l2.1 4l0.8 4l-0.1 21l-0.6 4l-1.5 4l-2.3 4l-2.4 3l-6.9 5.8l-6 3.9l-8 4.2l-9 3.7l-9 3l-12 3l-12 2.2z" fill="#0055ff"/>
<path d="M901 1040.5l-13 0.4l-12-0.9l-10-1.9l-9-3.2l-6-3.6l-2.8-2.8l-1.3-2l-1.1-3l-0.1-2l1.9-6l3.4-3.6l4.5-3.4l6.5-3.7l7-3.1l14-4.8l31.4-8.4l14-5l21.6-9.1l6-1.5l6-0.4l4.8 1l3.2 2.1l2 3.1l1.5 4.8l1.7 17l-0.5 4l-1.3 4l-2.3 4l-2.4 3l-6 5l-6 4l-6.7 3.5l-9 3.8l-9 3l-10 2.5l-10 1.9z" fill="#0073ff"/>
<path d="M905 1038.6l-12 0.8l-11-0.4l-10-1.4l-9-2.5l-7.2-3.6l-4.4-4l-1.9-4l-0.2-2l0.6-3l2-4l6.1-5.2l9-5l11-4.3l13-3.8l30.1-7.7l28.9-9.7l4-0.7l4 0l3 0.7l3 1.8l2.3 2.9l1.9 4l2.3 9l0.6 5l-0.4 4l-1 3l-2.2 4l-2.4 3l-6.2 5l-4.4 3l-6.5 3.5l-7 3l-8 2.8l-9 2.5l-9 1.9z" fill="#0092ff"/>
<path d="M902 1037.6l-11 0.4l-11-0.7l-9-1.6l-8-2.7l-6-3.5l-3.4-4l-0.9-2l-0.2-3l1.7-5l5.2-5l8.6-5l11-4.4l13-3.9l56-13.6l4-0.3l4 0.6l3 1.6l2.3 2l4.6 8l1.2 4l0.4 3l-0.2 3l-0.9 3l-2.2 4l-2.4 3l-6.2 5l-4.6 3l-7 3.6l-7 2.8l-17 4.9z" fill="#00b4ff"/>
<path d="M899 1036.6l-10 0.1l-10-0.9l-8-1.7l-6.9-2.6l-4.7-3l-3.2-4l-0.8-4l1.6-5l4-4l4.4-3l6.6-3.4l8-3.1l17-4.8l35-7.6l12-1.9l6 0.1l4 1.3l2.5 1.4l2.5 2l2.4 3l1.6 3l1.1 4l0 3l-0.8 3l-2.1 4l-2.4 3l-7.8 6l-11 5.8l-13 4.5l-14 3.1z" fill="#00d8ff"/>
<path d="M897 1035.5l-9-0.1l-8-0.8l-8-1.7l-6-2.4l-4.5-3l-2.9-4l-0.5-4l1.5-4l3.4-3.5l5-3.4l6-3l7-2.8l17-4.8l29-5.7l13-1.6l8 0.6l6 2.2l3 2.4l2.1 2.6l1.4 3l0.5 3l-0.3 3l-1.1 3l-3.6 5l-9.5 7l-10.5 5l-12 3.9l-13 2.7z" fill="#00feff"/>
<path d="M907 1033.6l-9 0.8l-9 0l-9-1l-7-1.7l-6-2.6l-4-3l-2.1-3.6l-0.4-2l0.4-2l1.1-3l2.9-3l4.2-3l5.7-3l14.2-5.1l19-4.5l20-3.3l7-0.6l6 0l5 0.7l4 1.3l3 1.7l3 3l1.5 2.8l0.5 2l-0.1 3l-1 3l-3.5 5l-6.4 5l-8 4.4l-10 3.9l-11 2.9z" fill="#00ffd9"/>
<path d="M907 1032.6l-9 0.8l-8-0.1l-8-0.8l-7-1.6l-5.8-2.4l-3.9-3l-1.9-3l-0.4-2l0.2-2l1.1-3l2.9-3l4.3-3l5.5-2.8l13-4.6l18-4.2l19-2.8l12-0.3l5 0.8l4 1.4l3 1.8l2.7 2.7l1.5 4l0 2l-0.9 3l-3.4 5l-6.6 5l-7.3 4l-9 3.5l-10 2.7z" fill="#00ffb0"/>
<path d="M907 1031.6l-9 0.8l-8-0.1l-7.2-0.8l-6.8-1.6l-5.3-2.4l-3.7-3l-1.5-3l0-3l1-3l1.9-2l3.9-3l5.5-3l12.2-4.5l17-3.9l17-2.5l12-0.3l5 0.7l4 1.2l4 2.3l2 2l1.5 4l0 2l-1.1 3l-2.9 4l-5.5 4.2l-7 3.9l-9 3.6l-10 2.7z" fill="#00ff86"/>
<path d="M908 1030.6l-8 0.8l-8 0l-7-0.7l-6-1.2l-5.1-2l-4.3-3l-1.8-3l-0.1-3l1-3l1.8-2l4.1-3l5.4-2.9l12-4.2l16-3.5l16-2.1l11 0l5 0.9l4 1.4l3 1.9l2 2.3l0.8 2.2l0.1 2l-1.4 4l-2.3 3l-6.2 4.6l-6.4 3.4l-7.6 3l-9 2.4z" fill="#00ff5b"/>
<path d="M897 1030.5l-7-0.2l-5.8-0.8l-5.2-1.3l-4-1.8l-3-2.2l-1.9-2.7l-0.3-3l1-3l3.1-3l2.9-2l9.2-4.3l12-3.5l16-2.8l12-1.1l10 0.7l3.9 1l3.1 1.4l2.2 1.6l1.5 2l0.7 2l-0.1 2l-0.6 2l-2 3l-4.8 4l-5.9 3.6l-8 3.3l-9 2.6l-10 1.8z" fill="#00ff2e"/>
<path d="M899 1029.5l-7-0.1l-6-0.7l-5-1.2l-4-1.7l-3-2.1l-1.6-2.2l-0.4-3l0.9-3l3.1-3l3-2l9-4l11-3.1l14-2.5l12-0.9l9 0.7l4 1l3 1.4l1.9 1.4l1.5 2l0.5 2l-0.2 2l-2.2 4l-4.9 4l-5 3l-7.1 3l-8.5 2.5l-9 1.7z" fill="#01ff00"/>
<path d="M901 1028.5l-12-0.4l-5-1l-4.5-1.6l-3.1-2l-1.6-2l-0.6-3l0.8-3l1.9-2l3.1-2.2l9-4.2l11-3.1l13-2.2l11-0.7l8 0.7l6 1.8l2.7 1.9l1.3 1.9l0.3 3.1l-2.1 4l-5 4l-4.2 2.5l-6 2.6l-8 2.5l-8 1.6z" fill="#30ff00"/>
<path d="M902 1027.5l-6 0.2l-6-0.5l-5-1l-4-1.6l-3-2.1l-1.3-2l-0.4-2l0.8-3l4.7-4l8.2-3.8l9-2.6l12-2.1l10-0.8l8 0.5l6.6 1.8l1.7 1l1.9 2l0.6 3l-1.9 4l-3.9 3.2l-4 2.5l-6 2.7l-7 2.2l-7 1.5z" fill="#61ff00"/>
<path d="M903 1026.5l-10.1 0l-4.9-0.8l-4-1.3l-3.3-1.9l-1.7-2l-0.4-2l0.6-3l2-2l2.9-2l6.5-3l9.4-2.7l11-1.9l9-0.6l8 0.6l5.5 1.6l1.6 1l1.8 2l0.3 3l-1.6 3l-6.9 5l-5.7 2.6l-6 2l-7 1.5z" fill="#93ff00"/>
<path d="M903 1025.6l-10-0.2l-7.5-1.9l-2.5-1.5l-1.4-1.5l-0.7-2l0.5-3l3.6-3.1l7-3.4l8.8-2.5l10.2-1.7l9-0.4l7 0.7l5 1.8l2.5 2.6l0.2 2l-1.5 3l-0.9 1l-6.2 4l-4.4 2l-6.3 2z" fill="#c5ff00"/>
<path d="M903 1024.6l-9-0.2l-7-1.9l-2-1.3l-1.4-1.7l-0.3-2l0.4-2l3.4-3l6.4-3l7-2l8.5-1.5l8-0.6l7 0.5l5 1.5l2.5 2.1l0.5 2l-1.3 3l-0.9 1l-5.8 3.6l-9 3.4z" fill="#f9ff00"/>
<path d="M903 1023.5l-8-0.2l-6-1.7l-2.6-2.1l-0.5-2l0.2-2l3.6-3l4.3-2l6.4-2l8.6-1.5l7-0.4l6 0.4l4.7 1.5l2.1 2l0.3 2l-1 2l-0.9 1l-4.9 3l-8.3 3.2z" fill="#ffd000"/>
<path d="M909 1021.6l-9 0.8l-6.6-0.9l-3.8-2l-0.9-2l0-2l2.2-2l4.1-2.2l5.8-1.8l6.2-1.2l6-0.5l6 0.3l4 1l2.3 1.4l0.7 2l-1.7 3l-7.6 4z" fill="#ff9a00"/>
<path d="M907 1020.6l-6 0.4l-5-0.6l-3.5-1.9l-0.9-3l2.3-2l4.1-1.9l9-2.1l5-0.3l5 0.2l3 0.8l2 1.3l0.4 2l-1.3 2l-6.1 3z" fill="#ff6300"/>
<path d="M909 1018.5l-6 0.7l-4-0.4l-2.6-1.3l-1.2-2l2.6-2l2.4-1l6.8-1.5l7 0l2.3 0.5l1.6 1l0.4 1l-1.2 2z" fill="#ff2b00"/>
<path d="M910 1015.7l-5 0.5l-4-0.7l3-1.6l4-0.6l2.5 0.2l1.1 1l-0.8 1z" fill="#ff0000"/>
</g>
<g clip-path="url(#c12)">
<path d="M1542.8 905.5h6.4m9.6 0h2.4m-20.4 2h4.4m13.6 0h4.4m-12.4 4h4.4m3.6 0h2.4m1.6 0h2.4m17.6 0h2.4m19.6 0h2.4m-88.4 2h2.4m1.6 0h2.4m1.6 0h2.4m15.6 0h6.4m7.6 0h2.4m1.6 0h2.4m17.6 0h2.4m19.6 0h2.4m-102.4 2h4.4m9.6 0h6.4m1.6 0h2.4m5.6 0h2.4m9.6 0h2.4m7.6 0h8.4m-60.4 2h2.4m9.6 0h6.4m3.6 0h4.4m1.6 0h10.4m7.6 0h2.4m3.6 0h6.4m5.6 0h2.4m-52.4 2h6.4m1.6 0h2.4m3.6 0h16.4m1.6 0h6.4m5.6 0h2.4m1.6 0h4.4m1.6 0h4.4m7.6 0h2.4m-94.4 2h4.4m11.6 0h2.4m5.6 0h2.4m3.6 0h6.4m1.6 0h10.4m1.6 0h2.4m5.6 0h8.4m1.6 0h6.4m1.6 0h8.4m1.6 0h10.4m-96.4 2h4.4m9.6 0h4.4m1.6 0h8.4m5.6 0h4.4m1.6 0h4.4m1.6 0h2.4m3.6 0h6.4m1.6 0h4.4m1.6 0h6.4m1.6 0h4.4m3.6 0h10.4m1.6 0h4.4m-144.4 2h2.4m35.6 0h6.4m3.6 0h2.4m5.6 0h2.4m1.6 0h2.4m5.6 0h16.4m1.6 0h2.4m1.6 0h10.4m7.6 0h14.4m1.6 0h8.4m1.6 0h2.4m3.6 0h4.4m-144.4 2h2.4m21.6 0h8.4m5.6 0h2.4m3.6 0h4.4m1.6 0h4.4m1.6 0h8.4m5.6 0h2.4m3.6 0h54.4m1.6 0h6.4m1.6 0h2.4m-130.4 2h2.4m7.6 0h2.4m21.6 0h4.4m1.6 0h6.4m1.6 0h38.4m1.6 0h30.4m3.6 0h4.4m1.6 0h2.4m1.6 0h2.4m-156.4 2h2.4m17.6 0h4.4m5.6 0h6.4m7.6 0h4.4m11.6 0h48.4m1.6 0h26.4m1.6 0h6.4m1.6 0h2.4m1.6 0h2.4m1.6 0h2.4m-156.4 2h2.4m29.6 0h2.4m1.6 0h4.4m7.6 0h6.4m3.6 0h88.4m1.6 0h2.4m1.6 0h4.4m-156.4 2h2.4m29.6 0h2.4m1.6 0h2.4m5.6 0h2.4m1.6 0h12.4m1.6 0h14.4m1.6 0h10.4m27.6 0h36.4m3.6 0h2.4m25.6 0h2.4m-174.4 2h4.4m13.6 0h4.4m9.6 0h4.4m1.6 0h10.4m1.6 0h2.4m1.6 0h16.4m39.6 0h12.4m1.6 0h4.4m1.6 0h6.4m1.6 0h4.4m1.6 0h2.4m25.6 0h2.4m-174.4 2h2.4m3.6 0h2.4m5.6 0h4.4m1.6 0h4.4m3.6 0h4.4m5.6 0h2.4m1.6 0h10.4m1.6 0h10.4m49.6 0h20.4m1.6 0h12.4m-142.4 2h2.4m1.6 0h6.4m1.6 0h2.4m1.6 0h8.4m7.6 0h12.4m1.6 0h6.4m59.6 0h22.4m3.6 0h4.4m-166.4 2h2.4m15.6 0h2.4m1.6 0h2.4m1.6 0h4.4m1.6 0h6.4m1.6 0h4.4m1.6 0h26.4m63.6 0h18.4m1.6 0h12.4m-168.4 2h2.4m7.6 0h2.4m5.6 0h2.4m1.6 0h2.4m1.6 0h4.4m1.6 0h8.4m1.6 0h24.4m71.6 0h18.4m7.6 0h2.4m17.6 0h2.4m-178.4 2h6.4m3.6 0h14.4m1.6 0h2.4m1.6 0h18.4m1.6 0h2.4m79.6 0h6.4m1.6 0h14.4m1.6 0h6.4m13.6 0h2.4m-186.4 2h2.4m5.6 0h10.4m1.6 0h6.4m1.6 0h4.4m1.6 0h20.4m85.6 0h12.4m1.6 0h6.4m1.6 0h2.4m1.6 0h4.4m-172.4 2h4.4m11.6 0h4.4m3.6 0h26.4m91.6 0h12.4m3.6 0h2.4m1.6 0h14.4m-178.4 2h14.4m1.6 0h2.4m1.6 0h24.4m101.6 0h10.4m3.6 0h10.4m-168.4 2h2.4m3.6 0h6.4m1.6 0h22.4m107.6 0h2.4m1.6 0h14.4m1.6 0h6.4m1.6 0h2.4m-178.4 2h2.4m3.6 0h30.4m111.6 0h6.4m1.6 0h8.4m1.6 0h6.4m3.6 0h4.4m-202.4 2h4.4m17.6 0h2.4m1.6 0h28.4m115.6 0h4.4m1.6 0h8.4m1.6 0h8.4m-168.4 2h4.4m1.6 0h18.4m119.6 0h12.4m3.6 0h2.4m1.6 0h2.4m-186.4 2h2.4m13.6 0h2.4m1.6 0h8.4m3.6 0h10.4m121.6 0h12.4m-176.4 2h2.4m13.6 0h6.4m1.6 0h16.4m123.6 0h6.4m1.6 0h6.4m5.6 0h2.4m-214.4 2h4.4m21.6 0h2.4m5.6 0h4.4m1.6 0h2.4m1.6 0h2.4m1.6 0h12.4m1.6 0h4.4m123.6 0h16.4m3.6 0h8.4m-218.4 2h2.4m21.6 0h4.4m3.6 0h4.4m1.6 0h10.4m1.6 0h12.4m127.6 0h16.4m3.6 0h4.4m-216.4 2h2.4m17.6 0h2.4m3.6 0h2.4m11.6 0h4.4m1.6 0h2.4m5.6 0h8.4m129.6 0h18.4m1.6 0h4.4m1.6 0h4.4m-298.4 2h2.4m73.6 0h2.4m3.6 0h2.4m5.6 0h2.4m3.6 0h2.4m9.6 0h6.4m1.6 0h2.4m5.6 0h8.4m1.6 0h4.4m127.6 0h16.4m1.6 0h4.4m1.6 0h2.4m-292.4 2h2.4m55.6 0h4.4m3.6 0h8.4m7.6 0h2.4m5.6 0h2.4m7.6 0h4.4m1.6 0h2.4m5.6 0h6.4m1.6 0h14.4m129.6 0h12.4m3.6 0h4.4m1.6 0h4.4m-248.4 2h2.4m13.6 0h2.4m5.6 0h2.4m1.6 0h2.4m9.6 0h4.4m7.6 0h16.4m1.6 0h4.4m1.6 0h14.4m129.6 0h4.4m1.6 0h14.4m1.6 0h6.4m-248.4 2h2.4m7.6 0h14.4m13.6 0h4.4m7.6 0h2.4m1.6 0h4.4m1.6 0h2.4m1.6 0h2.4m1.6 0h20.4m131.6 0h12.4m3.6 0h4.4m3.6 0h4.4m-268.4 2h2.4m3.6 0h4.4m3.6 0h2.4m1.6 0h4.4m3.6 0h2.4m1.6 0h8.4m1.6 0h4.4m3.6 0h12.4m1.6 0h2.4m1.6 0h12.4m3.6 0h10.4m1.6 0h12.4m131.6 0h6.4m1.6 0h10.4m1.6 0h2.4m5.6 0h2.4m-268.4 2h2.4m5.6 0h4.4m1.6 0h10.4m1.6 0h2.4m3.6 0h12.4m1.6 0h4.4m1.6 0h26.4m1.6 0h10.4m1.6 0h14.4m129.6 0h22.4m3.6 0h2.4m1.6 0h2.4m1.6 0h2.4m-284.4 2h2.4m1.6 0h2.4m11.6 0h2.4m9.6 0h4.4m3.6 0h6.4m1.6 0h18.4m3.6 0h2.4m1.6 0h10.4m1.6 0h2.4m1.6 0h2.4m1.6 0h6.4m1.6 0h4.4m1.6 0h10.4m131.6 0h16.4m5.6 0h2.4m1.6 0h2.4m5.6 0h2.4m-292.4 2h4.4m1.6 0h4.4m1.6 0h2.4m7.6 0h10.4m1.6 0h8.4m3.6 0h26.4m1.6 0h6.4m1.6 0h14.4m1.6 0h4.4m1.6 0h18.4m131.6 0h8.4m1.6 0h4.4m1.6 0h4.4m1.6 0h4.4m1.6 0h2.4m5.6 0h2.4m-300.4 2h4.4m5.6 0h2.4m1.6 0h4.4m1.6 0h2.4m5.6 0h72.4m3.6 0h12.4m3.6 0h10.4m129.6 0h16.4m5.6 0h6.4m9.6 0h2.4m-306.4 2h2.4m13.6 0h2.4m1.6 0h4.4m1.6 0h24.4m1.6 0h2.4m1.6 0h54.4m1.6 0h10.4m3.6 0h8.4m129.6 0h18.4m1.6 0h2.4m1.6 0h2.4m13.6 0h2.4m-306.4 2h4.4m13.6 0h4.4m5.6 0h4.4m1.6 0h34.4m1.6 0h38.4m1.6 0h22.4m129.6 0h8.4m3.6 0h8.4m1.6 0h4.4m-296.4 2h8.4m1.6 0h4.4m1.6 0h2.4m1.6 0h2.4m7.6 0h2.4m1.6 0h4.4m1.6 0h4.4m1.6 0h94.4m127.6 0h22.4m21.6 0h2.4m-300.4 2h18.4m1.6 0h6.4m1.6 0h8.4m1.6 0h10.4m35.6 0h40.4m127.6 0h8.4m1.6 0h10.4m25.6 0h2.4m-316.4 2h2.4m13.6 0h22.4m1.6 0h16.4m49.6 0h34.4m123.6 0h14.4m1.6 0h10.4m3.6 0h2.4m-296.4 2h2.4m7.6 0h4.4m1.6 0h6.4m1.6 0h26.4m59.6 0h18.4m1.6 0h8.4m123.6 0h24.4m1.6 0h4.4m1.6 0h4.4m-290.4 2h2.4m3.6 0h6.4m1.6 0h24.4m67.6 0h8.4m1.6 0h12.4m125.6 0h8.4m1.6 0h10.4m1.6 0h4.4m1.6 0h2.4m-292.4 2h4.4m3.6 0h2.4m1.6 0h6.4m3.6 0h10.4m1.6 0h8.4m73.6 0h20.4m119.6 0h12.4m1.6 0h4.4m1.6 0h4.4m1.6 0h2.4m-288.4 2h4.4m1.6 0h4.4m3.6 0h4.4m1.6 0h24.4m77.6 0h6.4m1.6 0h10.4m117.6 0h10.4m3.6 0h10.4m1.6 0h8.4m-290.4 2h2.4m3.6 0h2.4m5.6 0h26.4m81.6 0h16.4m115.6 0h16.4m1.6 0h8.4m-308.4 2h4.4m23.6 0h2.4m3.6 0h2.4m1.6 0h8.4m1.6 0h8.4m1.6 0h8.4m83.6 0h16.4m111.6 0h12.4m1.6 0h2.4m3.6 0h2.4m1.6 0h2.4m-272.4 2h2.4m1.6 0h12.4m1.6 0h14.4m83.6 0h20.4m107.6 0h24.4m1.6 0h4.4m-278.4 2h18.4m1.6 0h14.4m85.6 0h20.4m105.6 0h10.4m1.6 0h14.4m1.6 0h4.4m-288.4 2h4.4m1.6 0h2.4m1.6 0h2.4m9.6 0h4.4m1.6 0h8.4m1.6 0h6.4m81.6 0h26.4m99.6 0h20.4m3.6 0h4.4m17.6 0h2.4m-300.4 2h2.4m3.6 0h2.4m1.6 0h4.4m5.6 0h24.4m79.6 0h30.4m95.6 0h14.4m3.6 0h2.4m9.6 0h4.4m13.6 0h2.4m-296.4 2h2.4m3.6 0h2.4m5.6 0h24.4m79.6 0h34.4m91.6 0h26.4m5.6 0h2.4m5.6 0h4.4m-288.4 2h4.4m1.6 0h2.4m1.6 0h4.4m1.6 0h2.4m1.6 0h20.4m73.6 0h14.4m1.6 0h12.4m1.6 0h6.4m1.6 0h2.4m87.6 0h20.4m3.6 0h4.4m-260.4 2h2.4m1.6 0h12.4m1.6 0h6.4m1.6 0h4.4m71.6 0h44.4m83.6 0h8.4m1.6 0h10.4m1.6 0h4.4m3.6 0h6.4m-260.4 2h26.4m65.6 0h24.4m1.6 0h6.4m1.6 0h18.4m77.6 0h12.4m1.6 0h6.4m3.6 0h2.4m19.6 0h4.4m-290.4 2h4.4m1.6 0h4.4m5.6 0h4.4m1.6 0h24.4m57.6 0h34.4m1.6 0h24.4m73.6 0h6.4m1.6 0h10.4m1.6 0h2.4m-260.4 2h2.4m5.6 0h4.4m5.6 0h22.4m1.6 0h4.4m53.6 0h34.4m1.6 0h8.4m1.6 0h4.4m1.6 0h2.4m1.6 0h10.4m67.6 0h12.4m1.6 0h4.4m1.6 0h4.4m-258.4 2h2.4m3.6 0h2.4m1.6 0h2.4m3.6 0h6.4m1.6 0h8.4m1.6 0h12.4m1.6 0h4.4m39.6 0h44.4m1.6 0h2.4m1.6 0h28.4m61.6 0h20.4m1.6 0h2.4m-262.4 2h4.4m7.6 0h4.4m7.6 0h42.4m21.6 0h28.4m3.6 0h4.4m1.6 0h20.4m1.6 0h2.4m1.6 0h2.4m1.6 0h2.4m1.6 0h2.4m1.6 0h16.4m53.6 0h24.4m1.6 0h2.4m13.6 0h4.4m-270.4 2h2.4m1.6 0h2.4m5.6 0h10.4m5.6 0h2.4m1.6 0h10.4m1.6 0h62.4m3.6 0h22.4m3.6 0h2.4m3.6 0h6.4m1.6 0h12.4m1.6 0h10.4m45.6 0h22.4m1.6 0h6.4m5.6 0h4.4m3.6 0h4.4m-270.4 2h4.4m5.6 0h8.4m5.6 0h30.4m1.6 0h54.4m1.6 0h14.4m3.6 0h2.4m3.6 0h6.4m3.6 0h36.4m35.6 0h20.4m1.6 0h4.4m5.6 0h2.4m3.6 0h2.4m-250.4 2h4.4m1.6 0h4.4m1.6 0h4.4m1.6 0h2.4m3.6 0h4.4m1.6 0h46.4m1.6 0h22.4m3.6 0h6.4m1.6 0h8.4m1.6 0h2.4m5.6 0h8.4m1.6 0h2.4m1.6 0h38.4m19.6 0h34.4m1.6 0h6.4m3.6 0h2.4m-260.4 2h4.4m1.6 0h4.4m1.6 0h2.4m1.6 0h2.4m7.6 0h18.4m1.6 0h6.4m1.6 0h4.4m1.6 0h10.4m1.6 0h4.4m5.6 0h4.4m1.6 0h2.4m3.6 0h2.4m1.6 0h18.4m7.6 0h4.4m11.6 0h2.4m1.6 0h12.4m1.6 0h2.4m3.6 0h54.4m1.6 0h26.4m1.6 0h2.4m13.6 0h2.4m-250.4 2h2.4m7.6 0h8.4m3.6 0h2.4m1.6 0h2.4m1.6 0h4.4m3.6 0h12.4m1.6 0h6.4m3.6 0h6.4m1.6 0h4.4m9.6 0h20.4m3.6 0h2.4m13.6 0h2.4m5.6 0h4.4m1.6 0h4.4m1.6 0h6.4m1.6 0h22.4m1.6 0h36.4m1.6 0h6.4m1.6 0h2.4m3.6 0h2.4m7.6 0h4.4m5.6 0h2.4m-250.4 2h4.4m11.6 0h14.4m3.6 0h16.4m1.6 0h14.4m1.6 0h2.4m1.6 0h4.4m5.6 0h4.4m3.6 0h2.4m31.6 0h4.4m19.6 0h74.4m1.6 0h4.4m-226.4 2h2.4m3.6 0h2.4m5.6 0h2.4m1.6 0h8.4m1.6 0h12.4m1.6 0h16.4m1.6 0h2.4m1.6 0h8.4m5.6 0h4.4m5.6 0h2.4m15.6 0h2.4m9.6 0h2.4m13.6 0h8.4m7.6 0h2.4m1.6 0h6.4m5.6 0h2.4m1.6 0h16.4m1.6 0h18.4m1.6 0h4.4m5.6 0h2.4m1.6 0h2.4m-218.4 2h4.4m3.6 0h2.4m1.6 0h4.4m1.6 0h2.4m1.6 0h2.4m3.6 0h8.4m1.6 0h2.4m3.6 0h12.4m3.6 0h6.4m1.6 0h4.4m1.6 0h2.4m5.6 0h2.4m13.6 0h4.4m9.6 0h2.4m17.6 0h2.4m1.6 0h2.4m7.6 0h6.4m1.6 0h6.4m3.6 0h4.4m1.6 0h4.4m3.6 0h14.4m3.6 0h4.4m1.6 0h4.4m1.6 0h2.4m1.6 0h2.4m-218.4 2h4.4m1.6 0h6.4m1.6 0h2.4m1.6 0h6.4m3.6 0h2.4m9.6 0h2.4m11.6 0h6.4m67.6 0h2.4m7.6 0h6.4m5.6 0h2.4m1.6 0h6.4m3.6 0h4.4m1.6 0h4.4m3.6 0h20.4m5.6 0h6.4m1.6 0h4.4m-232.4 2h2.4m27.6 0h4.4m9.6 0h6.4m1.6 0h8.4m1.6 0h2.4m1.6 0h10.4m67.6 0h4.4m7.6 0h2.4m1.6 0h10.4m11.6 0h2.4m1.6 0h2.4m3.6 0h6.4m1.6 0h14.4m5.6 0h4.4m17.6 0h2.4m-244.4 2h2.4m45.6 0h2.4m7.6 0h2.4m1.6 0h2.4m15.6 0h4.4m97.6 0h4.4m3.6 0h6.4m3.6 0h4.4m1.6 0h12.4m3.6 0h8.4m11.6 0h2.4m-212.4 2h2.4m113.6 0h2.4m43.6 0h6.4m1.6 0h2.4m3.6 0h2.4m1.6 0h6.4m7.6 0h2.4m1.6 0h2.4m-200.4 2h2.4m111.6 0h4.4m5.6 0h4.4m9.6 0h2.4m9.6 0h6.4m9.6 0h2.4m11.6 0h4.4m13.6 0h2.4m-196.4 2h2.4m33.6 0h4.4m93.6 0h2.4m11.6 0h2.4m7.6 0h6.4m21.6 0h4.4m-190.4 2h2.4m137.6 0h4.4m1.6 2h4.4m21.6 4h2.4m-2.4 2h2.4" stroke="#0000ff" stroke-width="2.4" fill="none"/>
<path d="M1576.8 859.5h2.5m33.5 6h2.5m-80.5 10h2.5m11.5 4h2.5m15.5 10h2.5m-4.5 4h2.5m-26.5 2h2.5m-38.5 2h2.5m39.5 0h2.5m31.5 0h2.5m7.5 0h2.5m-86.5 2h2.5m31.5 0h2.5m7.5 0h2.5m13.5 0h2.5m-36.5 2h2.5m9.5 0h2.5m15.5 0h2.5m7.5 0h2.5m-94.5 2h2.5m39.5 0h2.5m3.5 0h2.5m19.5 0h2.5m33.5 0h2.5m11.5 2h2.5m-144.5 2h2.5m59.5 0h2.5m9.5 0h2.5m29.5 0h2.5m9.5 0h2.5m23.5 0h2.5m-102.5 2h2.5m13.5 0h2.5m1.5 0h2.5m5.5 0h2.5m5.5 0h2.5m7.5 0h2.5m35.5 0h2.5m11.5 0h2.5m-78.5 2h2.5m13.5 0h2.5m29.5 0h2.5m41.5 0h2.5m-160.5 2h2.5m49.5 0h2.5m25.5 0h2.5m35.5 0h2.5m33.5 0h2.5m-122.5 2h2.5m5.5 0h2.5m11.5 0h2.5m25.5 0h2.5m27.5 0h2.5m5.5 0h2.5m3.5 0h2.5m5.5 0h2.5m-88.5 2h2.5m77.5 0h2.5m1.5 0h2.5m-152.5 2h2.5m69.5 0h2.5m77.5 0h2.5m-118.5 2h2.5m121.5 0h2.5m-128.5 2h2.5m19.5 0h2.5m91.5 0h2.5m1.5 0h2.5m9.5 0h2.5m-146.5 2h2.5m1.5 0h2.5m7.5 0h2.5m113.5 0h2.5m15.5 0h2.5m-162.5 2h2.5m153.5 0h2.5m-132.5 2h2.5m5.5 0h2.5m-48.5 2h2.5m151.5 0h2.5m1.5 0h2.5m-148.5 2h2.5m23.5 0h2.5m121.5 0h2.5m3.5 0h2.5m-154.5 2h2.5m3.5 0h2.5m141.5 0h2.5m1.5 0h2.5m-138.5 2h2.5m-40.5 2h2.5m1.5 0h2.5m-18.5 2h2.5m19.5 0h2.5m1.5 0h2.5m149.5 0h2.5m9.5 0h2.5m7.5 0h2.5m15.5 0h2.5m-206.5 2h2.5m1.5 0h2.5m161.5 0h2.5m-8.5 2h2.5m1.5 0h2.5m-174.5 2h2.5m-34.5 2h2.5m7.5 0h2.5m193.5 0h2.5m9.5 0h2.5m3.5 0h2.5m-202.5 2h2.5m181.5 0h2.5m19.5 0h2.5m-220.5 2h2.5m1.5 0h2.5m-100.5 2h2.5m97.5 2h2.5m-26.5 2h2.5m13.5 0h2.5m193.5 0h2.5m-234.5 2h2.5m37.5 0h2.5m5.5 0h2.5m173.5 0h2.5m-244.5 2h2.5m7.5 0h2.5m3.5 0h2.5m13.5 0h2.5m5.5 0h2.5m195.5 0h2.5m11.5 0h2.5m3.5 0h2.5m1.5 0h2.5m-208.5 2h2.5m-52.5 2h2.5m1.5 0h2.5m249.5 0h2.5m3.5 0h2.5m-320.5 2h2.5m65.5 0h2.5m243.5 0h2.5m-266.5 2h2.5m31.5 0h2.5m-74.5 2h2.5m7.5 0h2.5m75.5 0h2.5m13.5 0h2.5m-116.5 2h2.5m39.5 0h2.5m27.5 0h2.5m13.5 0h2.5m-64.5 2h2.5m1.5 0h2.5m41.5 0h2.5m9.5 0h2.5m219.5 0h2.5m-336.5 2h2.5m15.5 0h2.5m11.5 0h2.5m55.5 0h2.5m15.5 0h2.5m205.5 0h2.5m-290.5 2h2.5m9.5 0h2.5m277.5 0h2.5m-310.5 2h2.5m23.5 0h2.5m7.5 0h2.5m-34.5 2h2.5m3.5 0h2.5m31.5 0h2.5m259.5 2h2.5m-312.5 2h2.5m1.5 0h2.5m-22.5 2h2.5m7.5 0h2.5m15.5 0h2.5m287.5 0h2.5m-288.5 2h2.5m275.5 2h2.5m3.5 0h2.5m-328.5 2h2.5m333.5 0h2.5m-316.5 2h2.5m291.5 0h2.5m3.5 0h2.5m5.5 0h2.5m-320.5 2h2.5m303.5 0h2.5m7.5 0h2.5m-326.5 4h2.5m3.5 0h2.5m297.5 0h2.5m11.5 0h2.5m-328.5 2h2.5m3.5 2h2.5m289.5 2h2.5m-0.5 4h2.5m21.5 2h2.5m-322.5 2h2.5m17.5 0h2.5m255.5 0h2.5m15.5 0h2.5m13.5 0h2.5m-34.5 2h2.5m15.5 0h2.5m-330.5 2h2.5m317.5 0h2.5m-292.5 2h2.5m9.5 0h2.5m-10.5 2h2.5m9.5 0h2.5m1.5 0h2.5m-50.5 2h2.5m17.5 0h2.5m7.5 0h2.5m13.5 0h2.5m247.5 0h2.5m-284.5 2h2.5m31.5 0h2.5m247.5 0h2.5m-0.5 2h2.5m-278.5 2h2.5m9.5 0h2.5m7.5 0h2.5m249.5 0h2.5m15.5 0h2.5m-286.5 2h2.5m-8.5 2h2.5m271.5 0h2.5m3.5 0h2.5m1.5 0h2.5m-292.5 4h2.5m1.5 0h2.5m141.5 0h2.5m179.5 0h2.5m-308.5 2h2.5m79.5 0h2.5m1.5 0h2.5m33.5 0h2.5m1.5 0h2.5m133.5 0h2.5m1.5 0h2.5m-282.5 2h2.5m95.5 0h2.5m25.5 0h2.5m3.5 0h2.5m3.5 0h2.5m125.5 0h2.5m-252.5 2h2.5m13.5 0h2.5m71.5 0h2.5m39.5 0h2.5m125.5 0h2.5m-274.5 2h2.5m13.5 0h2.5m95.5 0h2.5m1.5 0h2.5m43.5 0h2.5m-188.5 2h2.5m29.5 0h2.5m83.5 0h2.5m11.5 0h2.5m19.5 0h2.5m103.5 0h2.5m7.5 0h2.5m-168.5 2h2.5m13.5 0h2.5m15.5 0h2.5m1.5 0h2.5m5.5 0h2.5m7.5 0h2.5m13.5 0h2.5m23.5 0h2.5m-152.5 2h2.5m129.5 0h2.5m77.5 0h2.5m-232.5 2h2.5m33.5 0h2.5m43.5 0h2.5m79.5 0h2.5m13.5 0h2.5m43.5 0h2.5m7.5 0h2.5m-204.5 2h2.5m1.5 0h2.5m5.5 0h2.5m133.5 0h2.5m25.5 0h2.5m-220.5 2h2.5m13.5 0h2.5m11.5 0h2.5m53.5 0h2.5m71.5 0h2.5m3.5 0h2.5m5.5 0h2.5m3.5 0h2.5m21.5 0h2.5m3.5 0h2.5m-168.5 2h2.5m35.5 0h2.5m87.5 0h2.5m27.5 0h2.5m1.5 0h2.5m9.5 0h2.5m5.5 0h2.5m9.5 0h2.5m-216.5 2h2.5m161.5 0h2.5m23.5 0h2.5m3.5 0h2.5m7.5 0h2.5m-202.5 2h2.5m97.5 0h2.5m61.5 0h2.5m1.5 0h2.5m17.5 0h2.5m3.5 0h2.5m-100.5 2h2.5m73.5 0h2.5m27.5 0h2.5m-36.5 4h2.5m9.5 0h2.5m-42.5 2h2.5m85.5 2h2.5m-240.5 4h2.5m137.5 0h2.5" stroke="#1414e0" stroke-width="2.5" fill="none"/>
<path d="M1481 1043.6l-7 0.3l-8-0.6l-7-1.5l-8-2.8l-7-3.3l-7-4.2l-20-14.8l-4-1.2l-3 0.1l-3.7 0.9l-17.1 10l-14.2 6l-14 3.7l-14 1.8l-8 0l-7-0.8l-6-1.3l-6-2.3l-4.6-3.1l-2.7-3l-1.4-3l-0.4-4l1.2-5l1.3-2l3.6-4l5.3-4l6.7-3.6l7-2.9l7-2.1l8-1.6l14-1.3l13 0.8l12.7 2.7l17.3 6.4l3 0.2l2-0.6l3-1.9l4-4l13.4-18.1l6.7-8l6.9-6.6l7-5.2l6-3.4l6-2.5l24.7-7.3l27.3-10.3l14-3.3l7-0.6l6 0l6 0.7l6 1.6l5 2.2l4.1 2.7l3.9 4l2.9 5l1.7 6l0.3 6l-0.6 5l-1.8 6l-4.1 8l-4.9 7l-5.4 6l-6.1 5.5l-23.8 17.5l-15.2 13.5l-6 4.7l-6 3.7l-6 2.7l-7 2.2z" fill="#0000ff"/>
<path d="M1479 1041.6l-7 0.1l-8-1l-7-1.8l-8-3.2l-7.4-4.2l-7-5l-6.5-6l-4.9-6l-1.4-3l-0.6-3l0.3-3l1-3l2.8-6l4.1-7l10-14l4.6-5.1l6-5.3l6-4.2l6-3.3l9-3.4l20-5.7l22-8.4l9-2.9l12-2.2l6-0.4l6 0.3l5 0.8l5 1.5l4 1.9l4 2.8l3.4 3.6l2.8 5l1.5 6l0 6l-1.4 7l-2.6 6l-3.5 6l-4.6 6l-9.6 9.4l-22.6 16.6l-16.4 14.5l-6 4.5l-6 3.5l-7 2.9l-7 1.9zM1346 1035.5l-8-0.3l-7-1.1l-6-2l-5-3l-3.1-3.6l-1.2-4l1-6l2.2-3l3-3l4.2-3l9.9-4.9l12-3.4l13-1.6l13 0.5l11 2.4l5.2 2l3.6 2l2.5 2l2.2 3l0.5 3l-1.7 4l-6.9 6l-7.4 4.5l-9 4l-9 2.8l-10 2z" fill="#0058ff"/>
<path d="M1484 1037.6l-7 0.8l-7-0.2l-7-1.2l-7-2.1l-7-3.2l-6.5-4.2l-5.8-5l-4.2-5l-2.4-4l-1.2-4l-0.3-4l0.6-4l1.5-5l2.8-6l4.1-7l4.4-6l5.5-6l4.5-3.9l6-4.3l6-3.2l8-3.1l21-6l27-9.8l12-2.4l11-0.2l9 1.9l4 1.8l3.3 2.2l3.7 3.8l2.4 4.2l1.3 5l0.2 5l-0.5 4l-1.4 5l-3.5 7l-4.2 6l-4.4 5l-5.9 5.5l-22 16.4l-20 17.2l-5 3.2l-5 2.4l-5 1.9zM1354 1030.6l-7 0.5l-6-0.3l-6-1.1l-5-1.9l-3.3-2.3l-2.1-3l-0.5-3l0.8-4l2.1-2.8l2.4-2.2l6.6-4.1l9-3.3l10-1.9l10-0.3l9 1.3l7 2.6l2.5 1.7l1.9 2l1 3l-0.9 4l-6.3 6l-4.9 3l-6.3 2.7l-7 2.1z" fill="#007aff"/>
<path d="M1478 1035.6l-6 0l-7-0.9l-6-1.7l-6-2.5l-5.1-3l-5.2-4l-3.9-4l-3.4-5l-1.6-4l-0.7-4l0.2-5l1.2-5l4.6-10l3.3-5l4-5l4.9-5l4.7-3.8l5-3.2l5-2.6l8-2.9l19.5-5.5l18.5-6.9l9-2.8l11-2l10 0l8 2l4 2l3 2.3l2.8 3.4l2 4l1 5l-0.2 5l-1.5 6l-2.4 5l-3.1 5l-4 5l-8.5 8l-19.1 14.3l-15.4 13.7l-6.6 5l-5 2.9l-6 2.5l-7 1.9zM1351 1026.5l-9-0.5l-6-2.3l-1.5-1.2l-1.4-2l-0.3-2l0.3-3l2.9-3.2l5-3.1l6-2.3l7-1.4l7-0.3l6 0.8l5 1.7l3.3 2.8l0.8 2l-0.5 3l-5.4 5l-3.5 2l-5.1 2l-5.6 1.4z" fill="#009dff"/>
<path d="M1483 1032.6l-6 0.7l-7-0.2l-6-1.1l-6-2l-6-2.9l-5-3.5l-4.3-4.1l-3-4l-2-4l-1-4l-0.3-4l0.7-5l1.5-5l2.2-5l3-5l3.8-5l4.4-4.6l5-4.2l5-3.3l5-2.6l8-2.9l19.6-5.4l24.4-8.6l11-2.2l9-0.2l8 1.8l6 3.4l2.7 2.8l2.2 4l1.1 4l0 5l-1 5l-2.2 5l-3 5l-3.1 4l-8.1 8l-19.6 14.9l-19 16.7l-9 5.2l-5 1.9zM1356 1019.7l-5 0.6l-4-0.8l-1.5-1l-1.2-3l3.7-2.8l5-1.4l5-0.2l4.4 1.4l0.9 1l0.2 2l-4.3 3z" fill="#00c1ff"/>
<path d="M1483 1030.6l-6 0.6l-6-0.1l-6-1.1l-5-1.5l-5-2.4l-5-3.2l-3.8-3.4l-3.3-4l-2.1-4l-1.2-4l-0.4-4l0.4-4l1.2-5l2-5l2.9-5l3.7-5l3.8-4l4.8-4.1l5-3.4l5-2.5l8-2.9l19-5.1l24-8.3l10-2l8-0.1l7 1.4l6 3.2l2.7 2.8l1.7 3l1.1 4l0.2 4l-0.9 5l-1.7 4l-2.8 5l-3.1 4l-7.2 7.3l-19 14.7l-14 12.9l-5 4l-4 2.6l-5 2.5z" fill="#00e7ff"/>
<path d="M1483 1028.7l-5 0.6l-6-0.1l-6-0.9l-5-1.6l-5-2.4l-4.3-2.8l-3.3-3l-3.2-4l-2.1-4l-1.1-4l-0.3-5l0.8-5l1.3-4l2.3-5l5.7-8l4.2-4.2l4.8-3.8l9.2-5l7-2.4l20-5.2l22-7.5l9-1.7l8-0.1l7 1.7l5 3.1l2.5 3.1l1.3 3l0.6 3l-0.1 4l-0.9 4l-1.8 4l-5.5 8l-6.1 6.1l-17.7 13.9l-13.9 13l-5.4 4.4l-8 4.7l-5 1.8z" fill="#00fff0"/>
<path d="M1478 1027.5l-5 0l-5-0.7l-5-1.3l-4-1.7l-4-2.4l-3.6-2.9l-2.8-3l-2.6-4l-1.2-3l-0.8-4l0.6-8l1.6-5l2-4l5.9-8l4.2-4l4.7-3.5l8-4.2l8-2.6l18.9-4.7l21.1-6.9l9-1.6l7 0.1l6 1.6l4.4 2.8l2.3 3l1.2 3l0.4 3l-0.4 4l-0.5 2l-2.9 6l-5.4 7l-6.5 6l-14.6 11.6l-14 13.4l-6 4.8l-5 2.9l-5 2.1l-6 1.6z" fill="#00ffc9"/>
<path d="M1481 1025.6l-5 0.3l-5-0.3l-5-1l-4-1.4l-4-2l-4-2.9l-3-3l-2.6-3.8l-1.4-3l-0.9-4l-0.1-4l0.5-4l3.1-8l5.8-8l7.6-6.7l4-2.5l5-2.3l7-2.3l19-4.4l20-6.3l8-1.5l7-0.1l5 1.2l4.7 2.9l1.6 2l1.3 3l0.5 3l-0.2 3l-0.5 2l-2.3 5l-5.2 7l-5.9 5.6l-14 11.4l-12.1 12l-5.9 5.1l-4.3 2.9l-4.7 2.3l-5 1.8z" fill="#00ffa0"/>
<path d="M1483 1023.7l-5 0.6l-5-0.1l-5-0.8l-4-1.2l-4-1.9l-4-2.7l-3.2-3.1l-2.2-3l-1.4-3l-1.1-4l-0.2-4l0.5-4l1.2-4l1.9-4l5-7l7.5-6.6l5-3l4-1.8l8-2.4l18-3.8l18-5.5l8-1.5l6 0l5 1.2l3.8 2.4l2.5 4l0.5 3l-0.2 3l-2.5 6l-4.4 6l-5.1 5l-12.6 10.5l-13 13.3l-5 4.4l-8 5.1z" fill="#00ff77"/>
<path d="M1481 1022.5l-5 0.3l-4-0.2l-8-2.2l-3.8-1.9l-3.2-2.4l-2.7-2.6l-2.3-3.4l-1.5-3.6l-0.7-3l0.3-7l1.2-4l1.9-4l5.3-7l4.5-4.1l5-3.4l5.3-2.5l6.7-2.1l19-3.7l17-4.8l7-1.4l4-0.2l4 0.4l3 1l2.7 1.8l1.5 2l0.8 2l0.1 5l-2.8 6l-3.9 5l-16.6 15l-11.2 12l-5.6 5.2l-8 4.9l-5 1.8z" fill="#00ff4d"/>
<path d="M1483 1020.7l-5 0.6l-4 0l-8-1.8l-4-1.9l-3-2l-4.7-5.1l-1.6-3l-1-4l0.1-7l2.6-7l4.6-6.5l4-3.8l5.2-3.7l4.8-2.4l7-2.2l21-3.7l20-4.9l7 0.1l3 0.9l2 1.2l2.1 3l0.3 4l-2 5l-3.6 5l-13.8 13.1l-11.5 12.9l-5.5 5.3l-4 3l-4 2.3z" fill="#00ff22"/>
<path d="M1481 1019.6l-8 0.1l-7-1.9l-6-3.5l-2.8-2.8l-2-3l-1.9-6l0.2-6l2.6-7l4.3-6l4.6-4.2l5-3.3l5-2.2l6-1.7l21-3l18-3.7l5 0.1l2.9 1l1.4 1l1.3 2l0.4 2l-1.2 4l-1.6 3l-3.3 4l-9.9 10.1l-12.5 14.9l-5.3 5l-5.2 3.5l-5 2.2z" fill="#0aff00"/>
<path d="M1484 1017.6l-8 0.8l-7-1.1l-6-2.8l-3-2.5l-2.2-2.5l-1.7-3l-0.9-3l-0.4-3l0.3-4l2.1-6l3.8-5.6l4-3.9l5-3.5l5-2.3l5-1.5l6-1l18-1.6l13-1.8l4 0.1l2.6 1.1l1 1l0.1 3l-1.4 4l-20.1 26l-4.7 5l-4.5 3.7l-5 2.7z" fill="#36ff00"/>
<path d="M1482 1016.6l-7 0.3l-6-1.2l-6-3.2l-3.8-4l-1.6-3l-0.9-3l0-6l1.7-5l3.1-5l3.8-4l4.7-3.5l5-2.4l6-1.7l7-0.9l10-0.2l13 0.6l4 1.2l0.9 0.9l0.4 2l-1.3 4l-8 14l-5.8 8l-4.7 5l-4.5 3.3l-5 2.4z" fill="#62ff00"/>
<path d="M1479 1015.5l-6-0.3l-5.3-1.7l-4.5-3l-3.2-4l-1.7-5l0.1-5l1.6-5l2.5-4l3.7-4l4.8-3.6l5-2.3l5-1.3l7-0.8l7 0.2l7 1l5 2l1.7 1.8l0.6 2l-0.7 5l-3.3 8l-5.2 8l-4.6 5l-5.5 3.9l-5 2z" fill="#8fff00"/>
<path d="M1482 1013.7l-6 0.3l-5-0.9l-5-2.5l-3-2.8l-2.4-4.3l-0.7-4l0.4-4l2-5l2.9-4l3.8-3.6l4-2.5l5-2l6-1.1l6-0.1l6 0.8l5 1.8l3 2.7l1.2 4l-0.7 5l-1.9 5l-4.5 7l-4.8 5l-5.3 3.3z" fill="#bdff00"/>
<path d="M1479 1012.5l-5-0.3l-4-1.3l-3.9-2.4l-2.5-3l-1.4-3l-0.6-4l0.6-4l1.8-4l3-3.9l3.6-3.1l3.4-2.1l5-1.8l5-0.8l5 0.1l5 0.9l3.9 1.7l2.9 3l0.9 2l0.4 3l-0.9 5l-3 6l-3.9 5l-4.3 3.6l-5 2.3z" fill="#ebff00"/>
<path d="M1482 1010.6l-4 0.4l-4-0.5l-3-1l-3.2-2l-2.7-3l-1.3-3l-0.3-3l0.5-4l1.9-4l2.3-3l3.5-3l3.3-1.9l4-1.4l4.1-0.7l4.9 0.1l4.1 0.9l3.9 2.1l1.7 1.9l1 2l0.6 4l-1 5l-2.8 5l-3.5 4.1l-5 3.4z" fill="#ffe400"/>
<path d="M1483 1008.7l-4 0.6l-3-0.2l-3-0.8l-3-1.5l-2-1.8l-1.7-2.5l-0.8-3l-0.1-3l0.9-3l1.6-3l2.6-3l2.5-2l3-1.7l4-1.2l7-0.2l5 1.6l2.9 2.5l1.7 4l0 4l-2 5l-2.9 4l-3.7 3.1z" fill="#ffb500"/>
<path d="M1484 1006.6l-5 0.8l-5.2-0.9l-2-1l-2.3-2l-1.9-4l-0.1-3l0.4-2l3-5l4.1-3.3l6-2l5 0.1l3.6 1.2l3.3 3l1.2 3l-0.4 5l-2 4l-3.7 3.9z" fill="#ff8500"/>
<path d="M1483 1004.8l-4 0.5l-4.1-0.8l-3-2l-1.4-2l-0.6-2l-0.1-2l0.5-2l2.4-4l4-3l4.3-1.3l4 0.2l3 1.2l2.7 2.9l0.8 3l-0.3 3l-2.1 4l-3.1 2.8z" fill="#ff5500"/>
<path d="M1481 1002.7l-3-0.1l-3-1.3l-1.5-1.8l-0.9-3l1-3l2.4-2.8l3-1.6l4-0.3l2.3 0.7l1.7 1.3l1.1 1.7l0.3 3l-1.2 3l-1.7 2l-2.5 1.6z" fill="#ff2500"/>
<path d="M1480 998.6l-2-1l-1-1.1l0.1-1l1.9-2.3l3-0.4l1.1 0.7l0.7 1l-0.1 2l-1.7 1.5z" fill="#ff0000"/>
</g>
<g clip-path="url(#c20)">
<path d="M446.3 1445h2.4m-2.4 2h2.4m-64.4 2h2.4m9.6 0h4.4m1.6 0h2.4m-20.4 2h4.4m13.6 0h2.4m-40.4 2h2.4m13.6 0h2.4m7.6 0h4.4m-40.4 2h8.4m1.6 0h2.4m13.6 0h2.4m7.6 0h4.4m1.6 0h2.4m-44.4 2h2.4m7.6 0h2.4m1.6 0h2.4m1.6 0h6.4m3.6 0h4.4m1.6 0h6.4m1.6 0h4.4m33.6 0h8.4m27.6 0h2.4m-126.4 2h2.4m15.6 0h2.4m1.6 0h2.4m1.6 0h6.4m1.6 0h24.4m25.6 0h4.4m33.6 0h4.4m1.6 0h4.4m-132.4 2h2.4m17.6 0h2.4m3.6 0h30.4m27.6 0h2.4m3.6 0h2.4m1.6 0h8.4m-92.4 2h12.4m1.6 0h30.4m1.6 0h2.4m29.6 0h8.4m3.6 0h4.4m1.6 0h6.4m-122.4 2h4.4m11.6 0h6.4m1.6 0h18.4m1.6 0h24.4m5.6 0h4.4m9.6 0h4.4m7.6 0h2.4m7.6 0h2.4m1.6 0h2.4m1.6 0h2.4m9.6 0h2.4m1.6 0h4.4m7.6 0h2.4m-160.4 2h2.4m13.6 0h6.4m1.6 0h10.4m1.6 0h36.4m1.6 0h2.4m1.6 0h2.4m9.6 0h2.4m7.6 0h4.4m7.6 0h8.4m1.6 0h6.4m11.6 0h4.4m13.6 0h2.4m25.6 0h4.4m-190.4 2h2.4m1.6 0h2.4m13.6 0h6.4m3.6 0h28.4m3.6 0h20.4m1.6 0h10.4m1.6 0h4.4m1.6 0h2.4m1.6 0h2.4m3.6 0h2.4m11.6 0h2.4m13.6 0h6.4m11.6 0h6.4m7.6 0h2.4m-176.4 2h2.4m1.6 0h4.4m1.6 0h6.4m1.6 0h6.4m3.6 0h18.4m23.6 0h10.4m3.6 0h2.4m3.6 0h6.4m3.6 0h14.4m11.6 0h4.4m3.6 0h2.4m5.6 0h4.4m27.6 0h2.4m-176.4 2h2.4m1.6 0h4.4m1.6 0h10.4m1.6 0h16.4m33.6 0h14.4m1.6 0h2.4m1.6 0h4.4m1.6 0h4.4m3.6 0h2.4m1.6 0h2.4m1.6 0h2.4m1.6 0h4.4m1.6 0h6.4m1.6 0h6.4m7.6 0h4.4m23.6 0h2.4m-206.4 2h4.4m13.6 0h2.4m1.6 0h4.4m3.6 0h4.4m1.6 0h26.4m43.6 0h2.4m3.6 0h8.4m1.6 0h12.4m1.6 0h4.4m1.6 0h4.4m3.6 0h4.4m1.6 0h4.4m3.6 0h4.4m3.6 0h4.4m9.6 0h2.4m-186.4 2h2.4m13.6 0h8.4m3.6 0h10.4m1.6 0h14.4m49.6 0h8.4m1.6 0h6.4m1.6 0h8.4m1.6 0h2.4m1.6 0h4.4m1.6 0h8.4m1.6 0h2.4m1.6 0h10.4m5.6 0h2.4m9.6 0h2.4m3.6 0h2.4m1.6 0h2.4m9.6 0h2.4m-226.4 2h2.4m13.6 0h4.4m13.6 0h8.4m3.6 0h2.4m1.6 0h16.4m57.6 0h10.4m1.6 0h2.4m1.6 0h14.4m1.6 0h20.4m3.6 0h2.4m3.6 0h4.4m17.6 0h2.4m1.6 0h2.4m9.6 0h2.4m-226.4 2h2.4m13.6 0h2.4m7.6 0h8.4m1.6 0h2.4m3.6 0h2.4m1.6 0h2.4m1.6 0h10.4m63.6 0h38.4m1.6 0h16.4m1.6 0h8.4m13.6 0h6.4m13.6 0h2.4m-230.4 2h4.4m15.6 0h2.4m7.6 0h28.4m69.6 0h6.4m1.6 0h2.4m1.6 0h44.4m1.6 0h2.4m3.6 0h4.4m1.6 0h4.4m9.6 0h2.4m-232.4 2h4.4m15.6 0h2.4m3.6 0h4.4m13.6 0h8.4m1.6 0h16.4m75.6 0h12.4m1.6 0h18.4m1.6 0h8.4m1.6 0h4.4m1.6 0h8.4m1.6 0h8.4m3.6 0h4.4m5.6 0h4.4m1.6 0h2.4m-214.4 2h2.4m3.6 0h4.4m1.6 0h2.4m1.6 0h18.4m1.6 0h8.4m81.6 0h2.4m1.6 0h12.4m1.6 0h42.4m1.6 0h4.4m13.6 0h2.4m3.6 0h2.4m-234.4 2h6.4m11.6 0h4.4m3.6 0h2.4m1.6 0h4.4m1.6 0h2.4m5.6 0h6.4m1.6 0h6.4m87.6 0h24.4m1.6 0h6.4m1.6 0h4.4m1.6 0h14.4m1.6 0h12.4m15.6 0h4.4m-232.4 2h4.4m15.6 0h6.4m1.6 0h6.4m1.6 0h14.4m93.6 0h14.4m1.6 0h38.4m3.6 0h6.4m1.6 0h2.4m-236.4 2h2.4m29.6 0h2.4m9.6 0h8.4m1.6 0h14.4m99.6 0h30.4m1.6 0h2.4m1.6 0h14.4m1.6 0h2.4m5.6 0h6.4m1.6 0h8.4m13.6 0h2.4m-260.4 2h4.4m9.6 0h2.4m1.6 0h2.4m9.6 0h4.4m3.6 0h2.4m1.6 0h8.4m1.6 0h12.4m103.6 0h4.4m1.6 0h22.4m1.6 0h18.4m1.6 0h2.4m1.6 0h2.4m1.6 0h4.4m1.6 0h4.4m1.6 0h2.4m3.6 0h6.4m7.6 0h2.4m1.6 0h6.4m3.6 0h2.4m-282.4 2h2.4m19.6 0h2.4m1.6 0h4.4m5.6 0h30.4m109.6 0h40.4m1.6 0h10.4m1.6 0h2.4m1.6 0h8.4m5.6 0h2.4m1.6 0h2.4m3.6 0h2.4m5.6 0h2.4m3.6 0h2.4m5.6 0h2.4m-282.4 2h2.4m1.6 0h4.4m7.6 0h4.4m1.6 0h4.4m1.6 0h6.4m5.6 0h18.4m1.6 0h2.4m113.6 0h64.4m5.6 0h8.4m1.6 0h6.4m-258.4 2h6.4m1.6 0h8.4m1.6 0h12.4m1.6 0h20.4m119.6 0h6.4m1.6 0h16.4m1.6 0h8.4m1.6 0h10.4m1.6 0h2.4m1.6 0h4.4m3.6 0h4.4m1.6 0h10.4m1.6 0h8.4m7.6 0h4.4m-276.4 2h4.4m1.6 0h6.4m1.6 0h14.4m1.6 0h24.4m123.6 0h30.4m3.6 0h18.4m3.6 0h12.4m1.6 0h4.4m3.6 0h2.4m7.6 0h4.4m9.6 0h2.4m-272.4 2h2.4m3.6 0h34.4m127.6 0h30.4m1.6 0h10.4m3.6 0h6.4m1.6 0h2.4m7.6 0h2.4m3.6 0h6.4m1.6 0h4.4m7.6 0h2.4m9.6 0h2.4m-284.4 2h8.4m5.6 0h2.4m1.6 0h2.4m1.6 0h26.4m131.6 0h18.4m1.6 0h8.4m1.6 0h6.4m1.6 0h24.4m1.6 0h2.4m1.6 0h2.4m1.6 0h6.4m1.6 0h2.4m-262.4 2h2.4m1.6 0h40.4m135.6 0h30.4m1.6 0h16.4m1.6 0h4.4m1.6 0h2.4m1.6 0h6.4m1.6 0h2.4m1.6 0h2.4m1.6 0h2.4m1.6 0h4.4m-264.4 2h6.4m1.6 0h2.4m1.6 0h6.4m1.6 0h16.4m1.6 0h4.4m137.6 0h18.4m1.6 0h20.4m1.6 0h2.4m1.6 0h4.4m1.6 0h14.4m1.6 0h2.4m1.6 0h8.4m1.6 0h2.4m-262.4 2h2.4m1.6 0h2.4m1.6 0h2.4m1.6 0h26.4m139.6 0h20.4m1.6 0h20.4m1.6 0h2.4m1.6 0h10.4m3.6 0h4.4m5.6 0h2.4m1.6 0h2.4m-258.4 2h38.4m141.6 0h2.4m1.6 0h14.4m1.6 0h4.4m1.6 0h16.4m1.6 0h4.4m7.6 0h8.4m1.6 0h4.4m-250.4 2h4.4m1.6 0h10.4m1.6 0h20.4m141.6 0h50.4m1.6 0h2.4m1.6 0h2.4m7.6 0h2.4m1.6 0h6.4m-256.4 2h20.4m1.6 0h16.4m139.6 0h24.4m1.6 0h8.4m1.6 0h14.4m3.6 0h6.4m1.6 0h10.4m1.6 0h2.4m-254.4 2h8.4m1.6 0h30.4m137.6 0h36.4m5.6 0h4.4m1.6 0h2.4m3.6 0h2.4m3.6 0h4.4m1.6 0h2.4m-246.4 2h20.4m1.6 0h20.4m135.6 0h10.4m1.6 0h2.4m5.6 0h2.4m1.6 0h4.4m1.6 0h22.4m3.6 0h6.4m-236.4 2h10.4m1.6 0h8.4m1.6 0h20.4m131.6 0h2.4m1.6 0h16.4m1.6 0h6.4m5.6 0h4.4m1.6 0h2.4m1.6 0h2.4m11.6 0h4.4m1.6 0h4.4m15.6 0h2.4m-262.4 2h48.4m125.6 0h14.4m1.6 0h4.4m1.6 0h8.4m15.6 0h2.4m13.6 0h2.4m11.6 0h4.4m5.6 0h2.4m-264.4 2h12.4m1.6 0h44.4m115.6 0h2.4m1.6 0h4.4m1.6 0h8.4m1.6 0h12.4m5.6 0h4.4m19.6 0h4.4m1.6 0h4.4m1.6 0h2.4m-250.4 2h2.4m1.6 0h14.4m1.6 0h6.4m1.6 0h38.4m105.6 0h8.4m7.6 0h4.4m1.6 0h2.4m1.6 0h4.4m1.6 0h4.4m39.6 0h4.4m-252.4 2h2.4m1.6 0h2.4m1.6 0h2.4m3.6 0h62.4m93.6 0h8.4m5.6 0h4.4m3.6 0h8.4m1.6 0h8.4m1.6 0h4.4m29.6 0h4.4m-250.4 2h10.4m1.6 0h6.4m1.6 0h10.4m1.6 0h2.4m1.6 0h14.4m1.6 0h34.4m79.6 0h6.4m3.6 0h6.4m3.6 0h2.4m15.6 0h2.4m1.6 0h2.4m-210.4 2h6.4m5.6 0h10.4m3.6 0h2.4m1.6 0h8.4m1.6 0h4.4m1.6 0h2.4m1.6 0h2.4m1.6 0h6.4m1.6 0h36.4m63.6 0h16.4m3.6 0h8.4m1.6 0h2.4m3.6 0h2.4m3.6 0h2.4m-206.4 2h2.4m5.6 0h8.4m1.6 0h2.4m5.6 0h6.4m1.6 0h6.4m1.6 0h16.4m3.6 0h50.4m43.6 0h20.4m13.6 0h10.4m21.6 0h2.4m-214.4 2h2.4m3.6 0h2.4m3.6 0h2.4m1.6 0h4.4m5.6 0h4.4m1.6 0h2.4m1.6 0h10.4m5.6 0h20.4m1.6 0h26.4m3.6 0h34.4m1.6 0h22.4m3.6 0h4.4m11.6 0h4.4m1.6 0h2.4m21.6 0h2.4m-212.4 2h6.4m1.6 0h4.4m7.6 0h2.4m3.6 0h2.4m11.6 0h6.4m1.6 0h6.4m3.6 0h12.4m1.6 0h8.4m3.6 0h2.4m1.6 0h30.4m1.6 0h34.4m1.6 0h2.4m5.6 0h4.4m1.6 0h4.4m11.6 0h2.4m33.6 0h4.4m-226.4 2h2.4m17.6 0h2.4m1.6 0h2.4m9.6 0h2.4m1.6 0h6.4m1.6 0h2.4m1.6 0h2.4m3.6 0h4.4m5.6 0h4.4m1.6 0h14.4m1.6 0h6.4m3.6 0h4.4m1.6 0h10.4m1.6 0h12.4m1.6 0h22.4m-164.4 2h4.4m29.6 0h2.4m5.6 0h2.4m1.6 0h2.4m3.6 0h2.4m3.6 0h2.4m17.6 0h2.4m1.6 0h6.4m1.6 0h4.4m5.6 0h4.4m5.6 0h6.4m7.6 0h10.4m1.6 0h20.4m1.6 0h6.4m-122.4 2h4.4m37.6 0h4.4m3.6 0h2.4m7.6 0h4.4m3.6 0h4.4m1.6 0h10.4m3.6 0h2.4m5.6 0h4.4m1.6 0h4.4m1.6 0h6.4m1.6 0h6.4m13.6 0h4.4m-110.4 2h2.4m3.6 0h2.4m5.6 0h2.4m3.6 0h4.4m13.6 0h2.4m3.6 0h4.4m7.6 0h4.4m5.6 0h6.4m1.6 0h8.4m3.6 0h2.4m1.6 0h2.4m-92.4 2h2.4m1.6 0h4.4m5.6 0h2.4m11.6 0h4.4m11.6 0h2.4m1.6 0h4.4m17.6 0h6.4m9.6 0h2.4m-60.4 2h2.4m21.6 0h4.4m15.6 0h8.4m3.6 0h4.4m-100.4 2h4.4m57.6 0h2.4m1.6 0h2.4m15.6 0h6.4m-28.4 2h2.4m-50.4 2h2.4m-2.4 2h2.4" stroke="#0000ff" stroke-width="2.4" fill="none"/>
<path d="M446.2 1311h2.5m11.5 10h2.5m-88.5 2h2.5m145.5 14h2.5m47.5 2h2.5m-130.5 4h2.5m121.5 28h2.5m-188.5 4h2.5m107.5 16h2.5m79.5 10h2.5m-74.5 2h2.5m-42.5 6h2.5m155.5 2h2.5m-176.5 2h2.5m59.5 10h2.5m-58.5 2h2.5m-50.5 2h2.5m9.5 0h2.5m41.5 0h2.5m1.5 0h2.5m11.5 0h2.5m45.5 0h2.5m-136.5 2h2.5m123.5 0h2.5m-76.5 2h2.5m-44.5 2h2.5m15.5 0h2.5m29.5 2h2.5m25.5 0h2.5m-62.5 2h2.5m31.5 0h2.5m17.5 0h2.5m107.5 0h2.5m-178.5 6h2.5m1.5 0h2.5m33.5 0h2.5m11.5 0h2.5m71.5 0h2.5m-138.5 2h2.5m31.5 0h2.5m27.5 0h2.5m-98.5 2h2.5m49.5 0h2.5m9.5 0h2.5m41.5 0h2.5m5.5 0h2.5m-140.5 2h2.5m41.5 0h2.5m21.5 0h2.5m39.5 0h2.5m21.5 0h2.5m-108.5 2h2.5m61.5 0h2.5m11.5 0h2.5m43.5 0h2.5m-102.5 2h2.5m9.5 0h2.5m21.5 0h2.5m7.5 0h2.5m33.5 0h2.5m-64.5 2h2.5m9.5 0h2.5m19.5 0h2.5m29.5 0h2.5m19.5 0h2.5m-94.5 2h2.5m27.5 0h2.5m1.5 0h2.5m45.5 0h2.5m53.5 0h2.5m-198.5 2h2.5m51.5 0h2.5m7.5 0h2.5m59.5 0h2.5m17.5 0h2.5m-162.5 2h2.5m59.5 0h2.5m59.5 0h2.5m11.5 0h2.5m-150.5 2h2.5m87.5 0h2.5m3.5 0h2.5m33.5 0h2.5m11.5 0h2.5m43.5 0h2.5m17.5 0h2.5m-140.5 2h2.5m7.5 0h2.5m1.5 0h2.5m7.5 0h2.5m29.5 0h2.5m63.5 0h2.5m-98.5 2h2.5m25.5 0h2.5m-18.5 2h2.5m7.5 0h2.5m23.5 0h2.5m-208.5 2h2.5m163.5 0h2.5m3.5 0h2.5m13.5 0h2.5m-164.5 2h2.5m11.5 0h2.5m147.5 0h2.5m-158.5 2h2.5m181.5 0h2.5m9.5 0h2.5m-260.5 2h2.5m35.5 0h2.5m187.5 0h2.5m21.5 0h2.5m15.5 0h2.5m-42.5 2h2.5m41.5 0h2.5m33.5 0h2.5m-260.5 2h2.5m177.5 0h2.5m25.5 0h2.5m3.5 0h2.5m1.5 0h2.5m13.5 0h2.5m-294.5 2h2.5m45.5 0h2.5m189.5 0h2.5m-250.5 2h2.5m13.5 0h2.5m21.5 0h2.5m17.5 0h2.5m203.5 0h2.5m5.5 0h2.5m21.5 0h2.5m-262.5 2h2.5m199.5 0h2.5m3.5 0h2.5m15.5 0h2.5m5.5 0h2.5m7.5 0h2.5m-250.5 2h2.5m205.5 0h2.5m5.5 0h2.5m27.5 0h2.5m5.5 0h2.5m-270.5 2h2.5m15.5 0h2.5m1.5 0h2.5m203.5 0h2.5m1.5 0h2.5m5.5 0h2.5m5.5 0h2.5m3.5 0h2.5m1.5 0h2.5m-256.5 2h2.5m5.5 0h2.5m5.5 0h2.5m185.5 0h2.5m23.5 0h2.5m37.5 0h2.5m-282.5 2h2.5m11.5 0h2.5m227.5 0h2.5m-268.5 4h2.5m269.5 0h2.5m13.5 0h2.5m3.5 0h2.5m1.5 0h2.5m-20.5 2h2.5m3.5 0h2.5m1.5 0h2.5m-4.5 2h2.5m-24.5 2h2.5m25.5 0h2.5m-24.5 2h2.5m-6.5 2h2.5m7.5 0h2.5m67.5 0h2.5m9.5 0h2.5m-80.5 2h2.5m-12.5 2h2.5m-6.5 2h2.5m7.5 0h2.5m1.5 0h2.5m-26.5 2h2.5m29.5 0h2.5m-38.5 4h2.5m1.5 0h2.5m5.5 0h2.5m5.5 0h2.5m9.5 0h2.5m-10.5 2h2.5m-48.5 2h2.5m31.5 0h2.5m-58.5 2h2.5m13.5 0h2.5m17.5 0h2.5m21.5 0h2.5m-64.5 2h2.5m7.5 0h2.5m-38.5 2h2.5m25.5 0h2.5m3.5 0h2.5m5.5 0h2.5m7.5 0h2.5m-16.5 2h2.5m3.5 0h2.5m9.5 0h2.5m-50.5 2h2.5m17.5 2h2.5m5.5 0h2.5m9.5 0h2.5m-24.5 2h2.5m1.5 0h2.5m1.5 0h2.5m-216.5 2h2.5m1.5 0h2.5m49.5 0h2.5m127.5 0h2.5m13.5 0h2.5m5.5 2h2.5m-208.5 2h2.5m9.5 0h2.5m19.5 0h2.5m127.5 0h2.5m43.5 0h2.5m11.5 0h2.5m-210.5 2h2.5m41.5 0h2.5m5.5 0h2.5m31.5 0h2.5m57.5 0h2.5m15.5 0h2.5m11.5 0h2.5m-188.5 2h2.5m1.5 0h2.5m11.5 0h2.5m17.5 0h2.5m23.5 0h2.5m55.5 0h2.5m31.5 0h2.5m15.5 0h2.5m13.5 0h2.5m55.5 0h2.5m-226.5 2h2.5m13.5 0h2.5m51.5 0h2.5m63.5 0h2.5m37.5 0h2.5m15.5 0h2.5m-198.5 2h2.5m1.5 0h2.5m15.5 0h2.5m9.5 0h2.5m37.5 0h2.5m25.5 0h2.5m49.5 0h2.5m7.5 0h2.5m-178.5 2h2.5m29.5 0h2.5m9.5 0h2.5m37.5 0h2.5m5.5 0h2.5m15.5 0h2.5m5.5 0h2.5m33.5 0h2.5m25.5 0h2.5m-110.5 2h2.5m11.5 0h2.5m23.5 0h2.5m29.5 0h2.5m-80.5 2h2.5m9.5 0h2.5m23.5 0h2.5m35.5 0h2.5m31.5 0h2.5m-114.5 2h2.5m17.5 0h2.5m15.5 0h2.5m13.5 0h2.5m13.5 0h2.5m-24.5 2h2.5m-88.5 2h2.5m103.5 0h2.5m13.5 0h2.5" stroke="#1414e0" stroke-width="2.5" fill="none"/>
<path d="M373.5 1541.1l-5 0.6l-8 0.1l-18-1.2l-24-3.2l-28-4.9l-16-3.8l-10.8-3.7l-3.7-2l-2.4-2l-1.2-2l-0.2-2l0.9-2l3-3l8.2-5l14.2-6.4l24-9.1l42-15l19-5.9l15-2.8l4 0l4 0.5l5 1.9l4 2.8l2 2.6l1.1 3.4l1.5 9l1.1 15l-0.4 8l-1.7 12l-1 3l-1.6 2.6l-7 5.6l-9 4.3z" fill="#0000ff"/>
<path d="M367.5 1540.1l-14-0.3l-16-1.6l-23-3.5l-21-4.4l-12-3.3l-9-3.7l-4.4-3.3l-1.2-2l-0.1-2l1.5-3l3.4-3l4.6-3l7.2-3.7l21-8.9l32-11.9l20-6.9l14-3.8l13-1.7l4 0.3l4 0.9l4 2l4 3.2l2 3l1.1 3.5l1.4 10l0.3 12l-0.6 10l-1.6 8l-1.6 2.9l-2.9 3.1l-4.1 3.1l-4 2.4l-5 2.2l-5 1.5z" fill="#0030ff"/>
<path d="M367.5 1537.1l-13-0.2l-14-1.5l-17-2.9l-17-3.9l-11.1-3.6l-6.9-3.3l-2.4-1.7l-1.8-2l-0.9-2l0-2l1.6-3l3.2-3l9.8-6l16.5-7.6l25-9.8l18-6.1l12-3.1l12-1.2l4 0.3l4 1l4 2l4 3.1l2.8 3.4l1.4 3l1.1 6l0.5 10l-0.5 9l-1.3 6.6l-1.8 3.4l-3.2 3.7l-4 3.4l-4 2.5l-5 2.2l-5 1.6z" fill="#004cff"/>
<path d="M373.5 1534.1l-10 0.8l-13-0.7l-17-2.5l-15-3.4l-11-3.5l-8.1-3.8l-2.7-2l-1.7-2l-0.9-2l0-2l0.8-2l2.5-3l8.6-6l15.5-7.6l19-7.8l15-5.2l13-3.3l10-1l8 0.9l4 1.5l4 2.5l3.9 4l2.1 3.5l1.1 3.5l0.8 7l-0.1 7l-0.8 5.9l-1 3.2l-2.2 3.9l-3.4 4l-3.4 3l-4 2.5l-4 1.9z" fill="#006bff"/>
<path d="M366.5 1533l-11-0.2l-12-1.5l-13-2.6l-12-3.4l-8.3-3.3l-5.7-3.8l-2.2-3.2l-0.4-2l0.5-2l1.2-2l2.9-3l10-6.5l15-7.2l18-7l13-3.9l10-1.8l9-0.1l7 1.8l4 2.2l3 2.6l2.9 3.9l1.8 4l1 5l0.1 5l-0.6 6l-1.3 4l-2.1 4l-2.8 3.7l-3 2.9l-4 2.8l-5 2.4l-5 1.6z" fill="#008dff"/>
<path d="M371.5 1531l-9 0.5l-12-0.9l-12-2l-12-3.2l-8-3l-6.1-3.4l-2.3-2l-1.3-2l-0.6-2l0.2-2l0.9-2l2.6-3l6.8-5l11.8-6.2l15-6.4l12-4l11-2.6l9-0.6l8 1.1l4 1.7l3 2l3 3.1l2.4 3.9l1.5 4l0.6 4l-0.1 5l-0.8 4l-1.4 4l-2.3 4l-2.9 3.5l-3 2.6l-4 2.6l-4 1.8z" fill="#00afff"/>
<path d="M367.5 1530l-10-0.1l-10-1.3l-11-2.3l-9-2.8l-7-3.1l-4.7-3.4l-2.1-3l-0.3-2l0.3-2l1.1-2l2.7-3l8-5.6l12-6.1l14-5.5l11-3.3l9-1.6l8 0l7 1.6l3 1.5l3 2.3l2.3 2.7l2.3 4l1.1 4l0.4 4l-0.5 5l-1.2 4l-2 4l-2.1 3l-3 3l-3.3 2.4l-4 2.2l-5 1.7z" fill="#00d4ff"/>
<path d="M372.5 1528.1l-8 0.7l-10-0.6l-11-1.8l-10-2.8l-8-3.3l-4.9-3.3l-2.2-3l-0.6-2l0.2-2l0.9-2l2.5-3l6.7-5l10.4-5.5l12-5l10-3.2l9-1.9l8-0.2l7 1.3l3.5 1.5l2.9 2l2.6 2.7l2 3.3l1.1 3l0.6 4l-0.2 4l-0.8 4l-1.7 4l-1.8 3l-5 5l-6.2 3.6z" fill="#00faff"/>
<path d="M371.5 1527.1l-8 0.5l-9-0.6l-10-1.8l-9-2.7l-7-3.1l-4.6-3.4l-1.9-3l-0.3-2l0.4-2l2.8-4l6.4-5l10.2-5.5l12-4.8l10-2.9l7-1.2l8 0l6 1.3l3 1.4l3 2.2l2.2 2.5l1.7 3l1 3l0.5 4l-1 7l-3.1 6l-2.5 3l-2.8 2.4l-7 3.7z" fill="#00ffdd"/>
<path d="M370.5 1526.1l-7 0.4l-9-0.7l-9-1.8l-8-2.4l-5.6-2.6l-4.1-3l-2.2-3l-0.4-2l0.3-2l2.5-4l6.3-5l9.2-5l11-4.5l9-2.6l8-1.3l7 0.2l6 1.5l3 1.6l2.6 2.1l1.7 2l1.7 3.2l1 3.8l0.2 3l-0.5 4l-1 3l-3.6 6l-5.1 4.4l-6 2.9z" fill="#00ffb5"/>
<path d="M370.5 1525.1l-7 0.3l-8-0.6l-8-1.6l-8-2.5l-5.5-2.7l-3.7-3l-1.7-3l-0.2-2l0.5-2l3-4l5.6-4.3l8.7-4.7l9.3-3.7l9-2.6l7-1l6 0.1l6 1.5l5 3l2 2.1l1.6 2.6l1 3l0.4 3l-0.3 4l-0.8 3l-2.9 5.3l-5 4.7l-6 3.1z" fill="#00ff8c"/>
<path d="M370.5 1524l-7 0.4l-7-0.6l-8-1.6l-6.8-2.2l-5.8-3l-3.2-3l-1.3-3l0.3-3l2.8-4l5.1-4l7.9-4.4l9-3.6l8-2.2l7-1l7 0.3l5 1.4l5 3.4l2.7 4.1l0.9 3l0.3 3l-1.2 6l-2.8 5l-4.9 4.4l-6 3z" fill="#00ff62"/>
<path d="M370.5 1523l-7 0.4l-7-0.7l-7-1.4l-6.5-2.3l-5.2-3l-2.8-3l-1-3l0.7-3l3.3-4l5.6-4l6.9-3.6l8-3l7-1.9l6-0.7l6 0.2l5 1.3l3 1.6l2 1.7l2.9 4.4l0.8 5l-1.2 6l-3 5l-4.5 3.9l-5 2.4z" fill="#00ff37"/>
<path d="M370.5 1522l-6 0.4l-7-0.6l-7-1.5l-6-2.2l-3.7-2.1l-3.1-3l-1.1-3l0.6-3l3.2-4l4.1-3.1l7.3-3.9l7.7-2.9l7-1.8l6-0.6l5 0.4l5 1.4l2.5 1.5l2.2 2l2.3 4l0.6 5l-1.2 5l-2.4 4l-4.5 4l-5.5 2.6z" fill="#00ff0a"/>
<path d="M370.5 1521.1l-5 0.3l-6.4-0.4l-5.6-1.1l-6-2l-4-2.1l-3.1-2.8l-1.3-3l0.5-3l3-4l4-3l5.9-3.2l7-2.8l6-1.6l6-0.7l5 0.2l5 1.4l4.1 2.7l2.7 4l0.7 4l-0.9 5l-2.6 4.5l-3.8 3.5l-5.2 2.6z" fill="#22ff00"/>
<path d="M370.5 1520.1l-5 0.4l-6-0.5l-6-1.2l-4.8-1.8l-3.5-2l-2.9-3l-0.9-3l0.4-2l2-3l4.7-3.8l6-3.2l6-2.3l6-1.5l6-0.6l5 0.5l4 1.4l3.5 2.5l2.4 4l0.4 4l-0.9 4l-2.3 4l-3.3 3l-4.8 2.6z" fill="#50ff00"/>
<path d="M370.5 1519.1l-5 0.4l-5.8-0.5l-5.2-1.2l-4.7-1.8l-3.3-2.1l-2.3-2.9l-0.5-2l0.8-3l2.5-3l4.1-3l5.4-2.8l5-1.8l5-1.3l5-0.5l5 0.4l4 1.2l3.8 2.8l1.8 3l0.6 4l-0.9 4l-2.3 3.6l-3 2.7l-5 2.6z" fill="#7fff00"/>
<path d="M370.5 1518.1l-5 0.4l-5-0.4l-4.7-1.1l-4.3-1.7l-3.4-2.3l-1.5-2l-0.6-3l0.7-2l2.4-3l3.4-2.5l4.7-2.5l5.5-2l4.8-1.1l5-0.3l4 0.4l4 1.5l3.1 2.5l1.6 3l0.3 3l-1 4l-2 3.1l-3.3 2.9l-3.7 1.8z" fill="#aeff00"/>
<path d="M370.5 1517.1l-4 0.4l-5-0.4l-4.9-1.1l-3.1-1.3l-2.7-1.7l-1.8-2l-0.8-2l0.6-3l2.4-3l2.7-2l4.6-2.4l5-1.8l5-1.1l4-0.1l4 0.5l3 1.2l2.4 1.7l1.9 3l0.5 3l-1.1 4l-2.1 3l-2.6 2.2l-3.7 1.8z" fill="#deff00"/>
<path d="M370.5 1516.1l-4 0.3l-4-0.3l-7.2-2.1l-3-2l-1.4-2l-0.4-2l0.5-2l1.4-2l3.1-2.5l4-2.2l4-1.5l4-0.9l4-0.3l4 0.4l3 1.1l2.6 1.9l1.3 2l0.5 3l-0.6 3l-1.8 2.9l-2.3 2.1l-3.7 2z" fill="#ffef00"/>
<path d="M369.5 1515.1l-4 0.2l-4-0.6l-3-0.9l-3-1.5l-1.4-1.3l-1.2-2l0-2l0.9-2l1.9-2l3-2l7.8-2.9l7-0.3l5 1.8l2 2l0.9 2.4l0 2l-1.1 3l-1.8 2.2l-2.5 1.8l-2.5 1.1z" fill="#ffbe00"/>
<path d="M367.5 1514.1l-6-0.8l-4.6-2.3l-1.7-3l0.9-3l2-2l3.4-2l6-1.9l6 0l2.9 0.9l1.5 1l1.6 2l0.4 2l-0.3 2l-1.1 2.2l-2 2l-3 1.6z" fill="#ff8c00"/>
<path d="M371.5 1512.1l-5 0.5l-5-1l-2-1.2l-1.3-1.4l-0.4-2l0.3-1l2.8-3l4.6-2.1l5-0.8l4.4 0.9l2.6 2.2l0.6 1.8l-0.3 2l-2.2 3z" fill="#ff5a00"/>
<path d="M371.5 1510.3l-4 0.7l-4-0.8l-1.8-1.2l-0.7-1l0.1-2l1.7-2l3.7-1.7l4-0.5l3 0.7l1.8 1.5l0.4 2l-1.2 2.4z" fill="#ff2700"/>
<path d="M369.5 1508.2l-3-0.2l-1.1-1l0.1-1l1-1l2-0.6l3 0.5l0.4 1.1l-0.4 1z" fill="#ff0000"/>
</g>
<g clip-path="url(#c21)">
<path d="M996.8 1403h4.4m-30.4 2h4.4m23.6 0h2.4m-56.4 2h2.4m-2.4 2h4.4m15.6 0h6.4m33.6 0h4.4m-66.4 2h2.4m21.6 0h2.4m13.6 0h4.4m-46.4 2h4.4m1.6 0h4.4m35.6 0h2.4m9.6 0h2.4m-30.4 2h2.4m5.6 0h2.4m1.6 0h2.4m1.6 0h10.4m1.6 0h4.4m-70.4 2h2.4m5.6 0h4.4m5.6 0h4.4m3.6 0h4.4m1.6 0h4.4m1.6 0h4.4m3.6 0h6.4m1.6 0h4.4m5.6 0h2.4m7.6 0h2.4m-76.4 2h2.4m5.6 0h4.4m1.6 0h2.4m5.6 0h4.4m1.6 0h2.4m7.6 0h2.4m1.6 0h4.4m1.6 0h6.4m1.6 0h2.4m5.6 0h4.4m1.6 0h6.4m35.6 0h2.4m-120.4 2h2.4m3.6 0h4.4m7.6 0h14.4m1.6 0h8.4m1.6 0h4.4m1.6 0h4.4m1.6 0h10.4m3.6 0h2.4m1.6 0h4.4m7.6 0h4.4m27.6 0h2.4m-124.4 2h2.4m1.6 0h4.4m3.6 0h2.4m1.6 0h2.4m1.6 0h10.4m1.6 0h2.4m1.6 0h6.4m1.6 0h4.4m1.6 0h4.4m1.6 0h10.4m1.6 0h4.4m1.6 0h2.4m3.6 0h4.4m7.6 0h2.4m-102.4 2h2.4m5.6 0h4.4m3.6 0h20.4m1.6 0h8.4m1.6 0h10.4m3.6 0h10.4m3.6 0h2.4m1.6 0h6.4m1.6 0h2.4m9.6 0h2.4m19.6 0h2.4m-124.4 2h2.4m5.6 0h4.4m3.6 0h2.4m1.6 0h4.4m1.6 0h42.4m1.6 0h6.4m1.6 0h6.4m1.6 0h4.4m5.6 0h4.4m21.6 0h2.4m-124.4 2h2.4m7.6 0h12.4m1.6 0h12.4m1.6 0h4.4m1.6 0h2.4m1.6 0h34.4m3.6 0h8.4m3.6 0h2.4m3.6 0h2.4m3.6 0h2.4m-112.4 2h2.4m7.6 0h2.4m3.6 0h14.4m1.6 0h38.4m1.6 0h26.4m5.6 0h2.4m3.6 0h2.4m-134.4 2h4.4m1.6 0h4.4m7.6 0h2.4m1.6 0h2.4m1.6 0h18.4m1.6 0h2.4m1.6 0h32.4m1.6 0h16.4m1.6 0h8.4m1.6 0h4.4m3.6 0h2.4m-116.4 2h2.4m5.6 0h10.4m1.6 0h32.4m19.6 0h30.4m1.6 0h4.4m1.6 0h2.4m1.6 0h2.4m-148.4 2h2.4m23.6 0h2.4m11.6 0h2.4m1.6 0h8.4m1.6 0h12.4m1.6 0h8.4m33.6 0h28.4m1.6 0h4.4m-144.4 2h2.4m3.6 0h4.4m15.6 0h2.4m19.6 0h4.4m3.6 0h14.4m41.6 0h22.4m1.6 0h8.4m9.6 0h2.4m-136.4 2h2.4m9.6 0h6.4m7.6 0h14.4m1.6 0h4.4m47.6 0h22.4m1.6 0h2.4m1.6 0h8.4m1.6 0h4.4m-136.4 2h4.4m3.6 0h12.4m1.6 0h18.4m55.6 0h12.4m1.6 0h4.4m9.6 0h6.4m7.6 0h4.4m-134.4 2h6.4m1.6 0h16.4m1.6 0h2.4m61.6 0h10.4m1.6 0h14.4m1.6 0h2.4m3.6 0h6.4m-128.4 2h22.4m65.6 0h22.4m3.6 0h2.4m1.6 0h2.4m-128.4 2h4.4m3.6 0h20.4m67.6 0h20.4m5.6 0h8.4m3.6 0h4.4m-140.4 2h2.4m1.6 0h22.4m73.6 0h20.4m3.6 0h8.4m-146.4 2h2.4m7.6 0h2.4m1.6 0h6.4m1.6 0h4.4m1.6 0h8.4m77.6 0h16.4m1.6 0h2.4m1.6 0h2.4m1.6 0h4.4m-182.4 2h4.4m9.6 0h2.4m9.6 0h4.4m3.6 0h2.4m1.6 0h4.4m1.6 0h8.4m1.6 0h2.4m1.6 0h4.4m1.6 0h6.4m81.6 0h24.4m1.6 0h2.4m1.6 0h4.4m-172.4 2h2.4m9.6 0h4.4m1.6 0h12.4m3.6 0h18.4m85.6 0h18.4m3.6 0h6.4m-150.4 2h2.4m1.6 0h4.4m1.6 0h8.4m1.6 0h12.4m89.6 0h14.4m1.6 0h6.4m-160.4 2h2.4m1.6 0h4.4m3.6 0h30.4m93.6 0h6.4m1.6 0h6.4m1.6 0h8.4m-166.4 2h2.4m3.6 0h2.4m5.6 0h2.4m1.6 0h26.4m97.6 0h10.4m1.6 0h10.4m-166.4 2h6.4m9.6 0h6.4m1.6 0h2.4m1.6 0h12.4m103.6 0h20.4m-162.4 2h4.4m1.6 0h2.4m3.6 0h4.4m1.6 0h16.4m105.6 0h12.4m3.6 0h10.4m5.6 0h2.4m-174.4 2h10.4m3.6 0h14.4m111.6 0h26.4m5.6 0h2.4m-184.4 2h4.4m5.6 0h4.4m1.6 0h18.4m113.6 0h18.4m1.6 0h4.4m-178.4 2h2.4m5.6 0h4.4m3.6 0h20.4m117.6 0h14.4m1.6 0h2.4m5.6 0h4.4m-184.4 2h4.4m1.6 0h4.4m1.6 0h4.4m1.6 0h16.4m119.6 0h16.4m1.6 0h2.4m1.6 0h4.4m-172.4 2h6.4m1.6 0h14.4m123.6 0h2.4m1.6 0h4.4m1.6 0h4.4m3.6 0h4.4m1.6 0h4.4m-184.4 2h2.4m1.6 0h2.4m3.6 0h18.4m125.6 0h14.4m3.6 0h2.4m5.6 0h6.4m-190.4 2h2.4m1.6 0h6.4m3.6 0h14.4m129.6 0h12.4m1.6 0h6.4m1.6 0h4.4m-188.4 2h2.4m1.6 0h6.4m1.6 0h8.4m1.6 0h8.4m129.6 0h22.4m1.6 0h4.4m-190.4 2h22.4m1.6 0h4.4m131.6 0h14.4m3.6 0h2.4m5.6 0h2.4m-198.4 2h2.4m7.6 0h2.4m3.6 0h2.4m3.6 0h2.4m1.6 0h10.4m131.6 0h12.4m9.6 0h6.4m-200.4 2h6.4m11.6 0h2.4m3.6 0h14.4m133.6 0h14.4m11.6 0h2.4m-216.4 2h2.4m15.6 0h2.4m11.6 0h8.4m1.6 0h8.4m135.6 0h20.4m1.6 0h4.4m-230.4 2h4.4m13.6 0h2.4m13.6 0h10.4m7.6 0h14.4m135.6 0h6.4m1.6 0h16.4m1.6 0h2.4m-200.4 2h2.4m1.6 0h2.4m9.6 0h2.4m1.6 0h4.4m1.6 0h10.4m133.6 0h16.4m1.6 0h6.4m-214.4 2h6.4m13.6 0h2.4m7.6 0h24.4m133.6 0h16.4m1.6 0h2.4m-242.4 2h4.4m5.6 0h2.4m31.6 0h2.4m3.6 0h2.4m13.6 0h20.4m133.6 0h12.4m1.6 0h8.4m-232.4 2h2.4m13.6 0h4.4m13.6 0h2.4m3.6 0h4.4m5.6 0h8.4m1.6 0h6.4m1.6 0h8.4m131.6 0h8.4m1.6 0h6.4m13.6 0h4.4m-238.4 2h4.4m7.6 0h2.4m5.6 0h2.4m9.6 0h4.4m1.6 0h2.4m5.6 0h24.4m131.6 0h14.4m1.6 0h4.4m1.6 0h2.4m1.6 0h6.4m-214.4 2h2.4m3.6 0h4.4m1.6 0h6.4m9.6 0h2.4m1.6 0h18.4m127.6 0h14.4m5.6 0h2.4m1.6 0h4.4m5.6 0h2.4m-226.4 2h4.4m11.6 0h8.4m1.6 0h4.4m1.6 0h2.4m3.6 0h4.4m3.6 0h6.4m1.6 0h6.4m127.6 0h12.4m1.6 0h2.4m1.6 0h6.4m-186.4 2h4.4m1.6 0h6.4m3.6 0h6.4m1.6 0h10.4m125.6 0h24.4m1.6 0h6.4m9.6 0h4.4m-218.4 2h4.4m3.6 0h4.4m5.6 0h2.4m5.6 0h2.4m3.6 0h4.4m1.6 0h8.4m121.6 0h14.4m1.6 0h6.4m-186.4 2h4.4m17.6 0h12.4m1.6 0h6.4m119.6 0h10.4m1.6 0h4.4m5.6 0h4.4m3.6 0h2.4m-202.4 2h2.4m7.6 0h2.4m15.6 0h2.4m1.6 0h2.4m3.6 0h12.4m115.6 0h6.4m1.6 0h10.4m5.6 0h2.4m5.6 0h4.4m-204.4 2h4.4m23.6 0h6.4m3.6 0h16.4m111.6 0h16.4m5.6 0h6.4m7.6 0h2.4m-184.4 2h2.4m1.6 0h4.4m1.6 0h8.4m1.6 0h2.4m1.6 0h10.4m107.6 0h24.4m3.6 0h2.4m-174.4 2h6.4m3.6 0h2.4m3.6 0h8.4m1.6 0h12.4m101.6 0h2.4m1.6 0h16.4m1.6 0h2.4m-160.4 2h4.4m1.6 0h2.4m3.6 0h2.4m1.6 0h20.4m95.6 0h8.4m1.6 0h18.4m1.6 0h4.4m-154.4 2h2.4m1.6 0h10.4m3.6 0h6.4m89.6 0h22.4m3.6 0h10.4m1.6 0h2.4m-192.4 2h2.4m31.6 0h2.4m1.6 0h4.4m1.6 0h2.4m3.6 0h12.4m1.6 0h2.4m81.6 0h18.4m1.6 0h12.4m1.6 0h4.4m-186.4 2h2.4m31.6 0h4.4m3.6 0h28.4m71.6 0h8.4m1.6 0h10.4m1.6 0h2.4m5.6 0h4.4m1.6 0h2.4m-144.4 2h2.4m3.6 0h6.4m5.6 0h20.4m61.6 0h26.4m3.6 0h10.4m-134.4 2h4.4m5.6 0h26.4m49.6 0h22.4m1.6 0h2.4m3.6 0h2.4m5.6 0h2.4m1.6 0h2.4m-140.4 2h2.4m3.6 0h6.4m1.6 0h4.4m1.6 0h4.4m1.6 0h4.4m1.6 0h24.4m27.6 0h38.4m1.6 0h2.4m9.6 0h4.4m-140.4 2h2.4m7.6 0h2.4m3.6 0h6.4m1.6 0h4.4m1.6 0h20.4m1.6 0h42.4m1.6 0h6.4m3.6 0h4.4m1.6 0h6.4m5.6 0h2.4m-134.4 2h2.4m17.6 0h6.4m1.6 0h6.4m3.6 0h12.4m1.6 0h18.4m1.6 0h38.4m1.6 0h4.4m3.6 0h2.4m7.6 0h4.4m-134.4 2h2.4m25.6 0h4.4m7.6 0h6.4m1.6 0h14.4m3.6 0h6.4m1.6 0h2.4m1.6 0h22.4m1.6 0h12.4m1.6 0h4.4m-116.4 2h4.4m3.6 0h2.4m25.6 0h2.4m1.6 0h2.4m1.6 0h8.4m1.6 0h6.4m1.6 0h6.4m1.6 0h8.4m1.6 0h2.4m3.6 0h4.4m1.6 0h2.4m1.6 0h6.4m5.6 0h2.4m1.6 0h2.4m-112.4 2h2.4m3.6 0h2.4m29.6 0h12.4m3.6 0h8.4m1.6 0h4.4m3.6 0h8.4m5.6 0h6.4m1.6 0h6.4m-66.4 2h4.4m1.6 0h2.4m15.6 0h4.4m1.6 0h2.4m1.6 0h4.4m5.6 0h2.4m1.6 0h4.4m1.6 0h2.4m5.6 0h2.4m-60.4 2h4.4m1.6 0h4.4m15.6 0h2.4m21.6 0h2.4m7.6 0h4.4m-66.4 2h2.4m31.6 0h2.4m-36.4 2h2.4m11.6 0h4.4m15.6 0h2.4m11.6 0h2.4m-44.4 2h2.4m3.6 0h4.4m31.6 0h2.4m-44.4 2h2.4m-36.4 2h2.4m31.6 0h2.4m-36.4 2h2.4" stroke="#0000ff" stroke-width="2.4" fill="none"/>
<path d="M1024.8 1375h2.5m-36.5 2h2.5m31.5 6h2.5m11.5 2h2.5m-42.5 6h2.5m9.5 2h2.5m-26.5 2h2.5m-18.5 2h2.5m39.5 0h2.5m3.5 0h2.5m15.5 0h2.5m-28.5 2h2.5m7.5 0h2.5m-42.5 2h2.5m-24.5 2h2.5m53.5 0h2.5m15.5 0h2.5m-82.5 2h2.5m25.5 0h2.5m39.5 0h2.5m-104.5 2h2.5m39.5 0h2.5m11.5 0h2.5m3.5 0h2.5m1.5 0h2.5m-34.5 2h2.5m15.5 0h2.5m19.5 0h2.5m15.5 0h2.5m1.5 0h2.5m-84.5 2h2.5m25.5 0h2.5m9.5 0h2.5m25.5 0h2.5m3.5 0h2.5m43.5 0h2.5m-138.5 2h2.5m39.5 0h2.5m17.5 0h2.5m21.5 0h2.5m-94.5 2h2.5m15.5 0h2.5m11.5 0h2.5m-32.5 2h2.5m95.5 0h2.5m5.5 0h2.5m9.5 0h2.5m-24.5 2h2.5m-122.5 2h2.5m125.5 0h2.5m-146.5 2h2.5m131.5 0h2.5m9.5 0h2.5m-132.5 2h2.5m13.5 0h2.5m97.5 0h2.5m-108.5 2h2.5m113.5 0h2.5m25.5 0h2.5m19.5 0h2.5m-200.5 2h2.5m21.5 0h2.5m7.5 0h2.5m5.5 0h2.5m-30.5 2h2.5m19.5 2h2.5m-30.5 2h2.5m23.5 0h2.5m113.5 0h2.5m-150.5 2h2.5m27.5 0h2.5m111.5 0h2.5m25.5 0h2.5m-164.5 2h2.5m5.5 0h2.5m13.5 0h2.5m1.5 0h2.5m105.5 0h2.5m9.5 0h2.5m3.5 0h2.5m23.5 0h2.5m-172.5 2h2.5m13.5 0h2.5m-36.5 2h2.5m7.5 0h2.5m-4.5 2h2.5m-14.5 2h2.5m7.5 0h2.5m1.5 2h2.5m-24.5 2h2.5m157.5 2h2.5m13.5 0h2.5m7.5 0h2.5m7.5 0h2.5m-216.5 2h2.5m11.5 0h2.5m165.5 0h2.5m-172.5 2h2.5m1.5 2h2.5m155.5 0h2.5m-6.5 2h2.5m-188.5 4h2.5m21.5 0h2.5m157.5 0h2.5m7.5 2h2.5m-184.5 2h2.5m-34.5 2h2.5m199.5 0h2.5m1.5 0h2.5m-194.5 2h2.5m189.5 2h2.5m5.5 0h2.5m-226.5 2h2.5m17.5 0h2.5m1.5 0h2.5m187.5 0h2.5m5.5 0h2.5m-8.5 2h2.5m-278.5 4h2.5m63.5 0h2.5m205.5 0h2.5m7.5 0h2.5m-254.5 2h2.5m23.5 0h2.5m-68.5 2h2.5m11.5 0h2.5m31.5 0h2.5m207.5 0h2.5m17.5 0h2.5m23.5 0h2.5m-308.5 2h2.5m23.5 0h2.5m9.5 0h2.5m41.5 0h2.5m177.5 0h2.5m13.5 0h2.5m-232.5 2h2.5m13.5 0h2.5m209.5 0h2.5m-284.5 2h2.5m21.5 0h2.5m45.5 0h2.5m203.5 0h2.5m9.5 0h2.5m-242.5 2h2.5m7.5 0h2.5m207.5 0h2.5m23.5 0h2.5m-258.5 2h2.5m25.5 0h2.5m239.5 0h2.5m-260.5 2h2.5m5.5 0h2.5m13.5 0h2.5m199.5 0h2.5m-278.5 2h2.5m3.5 0h2.5m27.5 0h2.5m15.5 0h2.5m-40.5 4h2.5m57.5 0h2.5m191.5 0h2.5m-274.5 2h2.5m19.5 0h2.5m249.5 0h2.5m-258.5 2h2.5m5.5 0h2.5m3.5 0h2.5m3.5 0h2.5m221.5 0h2.5m-268.5 2h2.5m53.5 0h2.5m-30.5 2h2.5m15.5 0h2.5m3.5 0h2.5m25.5 0h2.5m181.5 0h2.5m5.5 0h2.5m-276.5 2h2.5m17.5 0h2.5m19.5 0h2.5m27.5 0h2.5m1.5 0h2.5m173.5 2h2.5m9.5 0h2.5m-242.5 2h2.5m9.5 0h2.5m3.5 0h2.5m1.5 0h2.5m21.5 0h2.5m-54.5 2h2.5m31.5 0h2.5m189.5 0h2.5m1.5 0h2.5m3.5 0h2.5m-190.5 2h2.5m3.5 0h2.5m195.5 0h2.5m-208.5 2h2.5m179.5 0h2.5m19.5 0h2.5m-252.5 2h2.5m19.5 0h2.5m217.5 0h2.5m-198.5 2h2.5m1.5 4h2.5m187.5 0h2.5m-186.5 2h2.5m137.5 0h2.5m-136.5 2h2.5m135.5 0h2.5m19.5 0h2.5m-238.5 2h2.5m195.5 0h2.5m-136.5 2h2.5m41.5 0h2.5m83.5 0h2.5m-126.5 2h2.5m19.5 0h2.5m3.5 0h2.5m3.5 0h2.5m85.5 0h2.5m5.5 0h2.5m1.5 0h2.5m3.5 0h2.5m21.5 2h2.5m-142.5 2h2.5m89.5 0h2.5m31.5 0h2.5m1.5 0h2.5m-120.5 2h2.5m45.5 0h2.5m1.5 0h2.5m11.5 0h2.5m-38.5 2h2.5m13.5 0h2.5m9.5 0h2.5m3.5 0h2.5m1.5 0h2.5m7.5 0h2.5m-84.5 4h2.5m27.5 0h2.5m37.5 0h2.5m17.5 0h2.5m-80.5 2h2.5m17.5 0h2.5m15.5 0h2.5m25.5 0h2.5m-58.5 2h2.5m11.5 0h2.5m7.5 0h2.5m23.5 0h2.5m7.5 0h2.5m-36.5 2h2.5m-56.5 2h2.5m45.5 2h2.5m13.5 0h2.5m-42.5 12h2.5m-92.5 28h2.5" stroke="#1414e0" stroke-width="2.5" fill="none"/>
<path d="M882 1536.1l-15 0.9l-14-1.2l-6-1.2l-6-1.9l-5-2.2l-4-2.4l-3.9-3.1l-2.6-3l-2.4-4l-1.3-4l-0.3-3l0.6-4l1.4-4l2.4-4l0-1l4.3-5l5.8-5.2l7-5.2l9-5.4l12-5.8l31.7-13.4l30.3-15.6l11-4.8l7-2.3l8-1.8l7-0.9l6-0.1l6 0.7l5 1.4l4.8 2.4l3.2 2.8l3.2 5.2l1.5 6l-0.2 7l-1.8 7l-4.3 9l-4.9 8l-6 8l-7.4 8l-11 9l-8.1 5.8l-9 5.4l-10 5.1l-10 4.1l-12 4l-12 3z" fill="#0000ff"/>
<path d="M873 1535l-14-0.4l-7-1.1l-6-1.5l-5-1.9l-5-2.6l-4-3l-3.3-3.5l-1.9-3l-1.5-4l-0.3-4l0.6-4l3.5-7l0.1-1l3.3-4l4.5-4.3l10-7.4l12-6.7l9-4.1l30.6-12.5l30.4-15.2l11-4.4l13-3.1l11-0.5l5 0.8l5 1.6l4 2.4l2.5 2.4l2.7 5l1.1 6l-0.4 6l-1.9 7l-4.6 9l-5 8l-5.5 7l-6.4 7l-10.5 8.6l-8 5.7l-10 5.9l-11 5.3l-11 4.2l-13 3.8l-12 2.4z" fill="#0048ff"/>
<path d="M882 1531.1l-13 0.7l-12-1.1l-10-2.8l-7.5-3.9l-3.6-3l-2.4-3l-1.6-3l-0.8-3l-0.2-3l0.5-3l3.4-8l4.3-5l5.7-5l6.2-4.4l9-5.1l13-5.8l32.8-12.7l31.2-14.3l11-3l10-0.7l4 0.4l4 1l3.3 1.6l2.7 2.2l2.5 3.8l1.3 5l0 5l-1.3 6l-4.1 9l-4.1 7l-5.9 8l-6.4 7l-9 7.5l-7 5.1l-8 4.9l-8 4l-9 3.8l-10 3.4l-11 2.8z" fill="#006cff"/>
<path d="M879 1529l-12 0.1l-11-1.5l-9-3.2l-6.4-4.4l-2.6-3l-1.7-3l-0.8-3l-0.2-3l0.9-4l2.7-6l3.4-4l4.7-4.3l6-4.4l6-3.6l8-4l10-4.2l31.9-11.5l28.1-11.9l10-2.5l8-0.4l6 1.3l2.9 1.5l2.1 1.8l1.9 3.2l0.9 3l0.3 4l-0.8 5l-3.5 9l-3.8 7l-5.6 8l-6.3 7l-8.2 7l-5.9 4.3l-8 4.9l-9 4.5l-10 4l-10 3l-9 2z" fill="#0091ff"/>
<path d="M879 1527.1l-11 0l-11-1.7l-8.5-3.4l-3.5-2.3l-2.8-2.7l-1.9-3l-1.1-3l-0.3-3l0.4-3l3-7l6.6-7l10.1-7.1l13-6.4l10-3.9l31.5-10.6l23.5-8.9l7-1.7l7-0.4l5 1l2 1l2.3 2l2.1 4l0.5 4l-0.2 3l-2.3 8l-2.7 6l-3.6 6l-4.4 6l-4.5 5l-7.2 6.2l-6.6 4.8l-7.4 4.5l-8 3.9l-8 3.2l-10 3.2l-9 2z" fill="#00b7ff"/>
<path d="M883 1525l-10 0.5l-10-0.9l-8-2.1l-6.5-3.5l-4.1-4l-2.2-5l0-5l3-7l5.5-6l8.3-6.1l10-5.4l13-5.2l57-17.9l5-0.7l5 0.2l3.2 1.1l2.5 2l1.7 3l0.8 4l-2 10l-2 5l-3.4 6l-3.6 5l-4.3 5l-12.4 10l-6.5 4l-7 3.6l-7 2.9l-9 3l-8 2.1z" fill="#00deff"/>
<path d="M887 1523l-10 1l-10-0.5l-8-1.7l-7-3.2l-3-2.3l-2.1-2.3l-2.1-5l0.3-5l2.6-6l5.6-6l7.7-5.6l10-5.3l12-4.7l33-9.6l20-4.9l4-0.5l4 0.1l3 0.9l2.2 1.6l1.9 3l0.4 4l-0.1 4l-0.9 4l-1.9 5l-2.7 5l-7 9l-11 9l-11.9 6.9l-14 5.5z" fill="#00fff9"/>
<path d="M884 1522.1l-9 0.5l-9-0.8l-7-1.9l-5.7-2.9l-4.1-4l-1.1-2l-0.9-3l0.3-4l2.5-6l6-6.3l9-6.1l11-5.2l12-4.2l21-5.7l21-4.3l6-0.5l4 0.3l2.7 1l1.8 2l1.8 3l0.6 3l-0.2 4l-1.4 5l-2.4 5l-3.3 5l-3.4 4l-4.5 4l-9.7 7l-12 6.1l-13 4.4z" fill="#00ffd1"/>
<path d="M882 1521l-9 0.2l-8-1.1l-7-2.5l-5-3.5l-2.8-4.1l-0.6-2l-0.1-3l0.8-3l1.9-4l2.5-3l7.3-6l10-5.6l12-4.7l14-4.1l18-3.8l12-1.5l4 0.1l4 0.7l3 1.3l1.7 1.6l1.6 3l0.5 3l-0.4 4l-1.3 4l-2.7 5l-2.9 4l-7.5 7l-10 6.7l-11 5.2l-13 4.2z" fill="#00ffa8"/>
<path d="M878 1520l-9-0.6l-7-1.8l-5-2.6l-3.9-4l-1.4-4l0.7-5l2.5-5l6.4-6l7.7-4.9l10-4.5l13-4.2l14-3.3l12-1.9l9-0.3l6 1.1l2.1 1l2.3 2l1.5 3l0.4 3l-0.4 3l-1.4 4l-2.2 4l-3 4l-8.3 7.3l-10 6.2l-12 5l-12 3.3z" fill="#00ff7f"/>
<path d="M887 1518.1l-8 0.7l-8-0.4l-7-1.7l-5-2.5l-3.4-3.2l-1.8-4l0.2-4l2.1-5l5.9-6l8-5.2l10-4.5l13-4l15-3.2l13-1.2l8 1l3 1.3l2.2 1.8l1.2 2l0.7 3l-0.2 3l-0.9 3l-4.1 7l-6.3 6l-7.6 5.4l-10 5.1l-10 3.5z" fill="#00ff56"/>
<path d="M887 1517.1l-8 0.6l-7-0.4l-6-1.4l-5-2.3l-3-2.6l-2.1-4l0-4l2.1-5l2.5-3l3.5-3l8-5l10-4.3l13-3.8l13-2.5l11-0.7l4.1 0.3l3.9 1l2.2 1l2.3 2l1.2 2l0.5 2l-0.1 3l-0.9 3l-1.4 3l-2.9 4l-5.4 5l-7.5 5.2l-9 4.5l-10 3.5z" fill="#00ff2d"/>
<path d="M887 1516l-7 0.6l-7-0.4l-5.4-1.2l-4.6-2.1l-3.4-2.9l-1.9-4l0.1-3l2-5l5.2-5.3l8-5.1l10-4.3l12-3.4l12-2.1l10-0.5l7 1.1l3 1.5l2 1.8l1.3 2.3l0.3 2l-1 5l-3.8 6l-5.4 5l-7.3 5l-8.1 4l-9 3.1z" fill="#00ff03"/>
<path d="M886 1515.1l-7 0.4l-6-0.5l-5-1.3l-4-2l-2.9-2.7l-1.4-3l-0.1-3l1.9-5l4.9-5l7.6-4.8l9-3.8l11-3.2l11-2l10-0.5l7 1.3l2.1 1l2.4 2l1.1 2l0.4 2l-1 5l-4 6l-4.7 4l-6.3 4.3l-8 4l-9 3z" fill="#28ff00"/>
<path d="M886 1514.1l-6 0.3l-5.7-0.4l-4.3-1l-4.2-2l-3.1-3l-1.2-3l0.2-3l1.6-4l5-5l6.7-4.2l9-3.8l10-2.8l10-1.8l9-0.3l7 1.4l4 2.6l1.2 1.9l0.4 2l-0.2 2l-1 3l-3.4 5l-4.7 4l-6.3 4.2l-8 3.8l-8 2.6z" fill="#52ff00"/>
<path d="M886 1513.1l-6 0.3l-5-0.5l-4-1l-3.9-1.9l-2.2-2l-1.5-3l0.1-3l1.5-4l4-4.1l7-4.5l8-3.4l10-2.8l10-1.6l8-0.1l6.5 1.5l3.5 2.6l1.2 3.4l-0.9 4l-3.3 5l-4.7 4l-6.2 4l-7.1 3.3l-8 2.5z" fill="#7dff00"/>
<path d="M886 1512.1l-5 0.2l-5-0.5l-4-1l-3.5-1.8l-2-2l-1.3-3l0.1-2l1.4-4l4.3-4.3l7-4.2l8-3.2l9-2.3l9-1.3l7 0.1l5 1.2l2 1.1l1.9 1.9l0.9 3l-1 4l-2.8 4l-4.8 4l-6.2 3.9l-6 2.7l-7 2.2z" fill="#a8ff00"/>
<path d="M886 1511l-5 0.2l-4-0.4l-4-1.1l-3-1.7l-1.9-2l-0.9-2l0-2l1.3-4l4-4l6.5-3.9l7-2.8l8-2.1l8-1.2l7 0.1l5 1.2l2 1.1l1.6 1.6l0.8 3l-1.2 4l-2.2 3l-4.9 4l-5.1 3.2l-6 2.7l-7 2.1z" fill="#d4ff00"/>
<path d="M884 1510l-5-0.2l-4-0.9l-3.5-1.9l-1.7-2l-0.7-3l1.2-4l2.7-2.8l2.9-2.2l5.1-2.8l5-1.9l7-1.9l6-1l6-0.2l5 0.6l3.1 1.2l2.2 2l0.7 3l-1 3l-2 3l-5 4l-5.1 3l-5.9 2.5l-7 1.8z" fill="#ffff00"/>
<path d="M891 1508l-5 0.8l-4 0l-4-0.5l-3.3-1.3l-2.5-2l-0.9-2l0-2l0.9-3l2.9-3l4.7-3l5.2-2.3l7-2l6-1l6-0.2l5 0.8l3 1.7l1.3 2l0.1 2l-0.6 2l-2 3l-5.1 4l-3.7 2.1l-5 2.2z" fill="#ffd300"/>
<path d="M890 1507l-8 0.5l-5.5-1.5l-1.5-1.1l-1.4-1.9l-0.2-2l0.8-3l3.1-3l3.7-2.3l5-2.2l6-1.7l6-0.9l5 0l4 0.7l3 1.9l0.8 1.5l0 2l-2.2 4l-4.6 3.5l-4 2.2l-5 2z" fill="#ffa700"/>
<path d="M888 1506.1l-5.9-0.1l-4.1-1.5l-2.1-2.5l0.5-4l3.2-3l3.4-2l5-1.9l5-1.3l5-0.6l4 0.2l3 0.7l2.6 1.9l0.5 2l-1.2 3l-4.9 4l-6 3z" fill="#ff7b00"/>
<path d="M891 1504l-6 0.6l-4-1l-2-1.7l-0.3-0.9l0.2-3l2-2l3.2-2l7.9-2.6l4-0.6l4 0.1l3 0.9l1.5 1.2l0.5 2l-1.6 3l-6.4 4z" fill="#ff4e00"/>
<path d="M891 1502.1l-4 0.5l-3-0.6l-1.4-1l-0.7-3l4-3l6.1-2l5-0.3l2 0.4l1.6 0.9l0.6 2l-1.1 2l-5.6 3z" fill="#ff2200"/>
<path d="M894 1498.2l-4 0.6l-3.3-0.8l3.3-1.9l3-0.4l1.8 0.3l0.6 1l-0.6 1z" fill="#ff0000"/>
</g>
<g clip-path="url(#c22)">
<path d="M1542.8 1399h2.4m-2.4 2h2.4m-86.4 4h2.4m95.6 0h4.4m-102.4 2h2.4m65.6 0h6.4m27.6 0h2.4m-58.4 2h2.4m7.6 0h4.4m39.6 0h4.4m-60.4 2h6.4m33.6 0h4.4m13.6 0h2.4m19.6 0h2.4m-86.4 2h2.4m9.6 0h6.4m15.6 0h2.4m1.6 0h4.4m3.6 0h2.4m19.6 0h2.4m13.6 0h2.4m-86.4 2h2.4m1.6 0h8.4m3.6 0h2.4m3.6 0h2.4m5.6 0h2.4m1.6 0h4.4m9.6 0h2.4m11.6 0h4.4m1.6 0h2.4m21.6 0h2.4m-92.4 2h4.4m7.6 0h2.4m3.6 0h4.4m5.6 0h4.4m1.6 0h2.4m3.6 0h2.4m1.6 0h4.4m11.6 0h2.4m1.6 0h4.4m21.6 0h2.4m-142.4 2h2.4m53.6 0h16.4m1.6 0h6.4m7.6 0h8.4m3.6 0h2.4m9.6 0h2.4m1.6 0h2.4m-120.4 2h4.4m43.6 0h8.4m1.6 0h2.4m1.6 0h2.4m1.6 0h4.4m1.6 0h2.4m1.6 0h4.4m1.6 0h6.4m3.6 0h14.4m1.6 0h10.4m7.6 0h4.4m-90.4 2h2.4m11.6 0h2.4m5.6 0h2.4m3.6 0h2.4m1.6 0h14.4m1.6 0h6.4m1.6 0h8.4m3.6 0h4.4m1.6 0h2.4m15.6 0h2.4m-126.4 2h4.4m11.6 0h2.4m13.6 0h4.4m5.6 0h4.4m9.6 0h10.4m1.6 0h20.4m1.6 0h2.4m1.6 0h4.4m1.6 0h12.4m1.6 0h2.4m5.6 0h4.4m-110.4 2h2.4m1.6 0h4.4m5.6 0h4.4m1.6 0h4.4m1.6 0h2.4m5.6 0h4.4m1.6 0h6.4m1.6 0h8.4m3.6 0h18.4m1.6 0h22.4m-152.4 2h2.4m21.6 0h8.4m13.6 0h8.4m1.6 0h2.4m5.6 0h6.4m1.6 0h6.4m1.6 0h10.4m1.6 0h46.4m1.6 0h4.4m1.6 0h8.4m7.6 0h4.4m3.6 0h2.4m-172.4 2h2.4m35.6 0h2.4m1.6 0h8.4m1.6 0h10.4m3.6 0h4.4m1.6 0h4.4m1.6 0h22.4m1.6 0h48.4m1.6 0h10.4m7.6 0h2.4m-150.4 2h4.4m1.6 0h8.4m1.6 0h4.4m9.6 0h32.4m1.6 0h8.4m1.6 0h46.4m3.6 0h4.4m1.6 0h2.4m1.6 0h4.4m-138.4 2h8.4m3.6 0h6.4m1.6 0h72.4m1.6 0h14.4m1.6 0h8.4m1.6 0h6.4m1.6 0h2.4m7.6 0h2.4m1.6 0h2.4m-160.4 2h2.4m13.6 0h2.4m1.6 0h4.4m3.6 0h6.4m1.6 0h14.4m1.6 0h34.4m25.6 0h28.4m1.6 0h4.4m1.6 0h2.4m3.6 0h2.4m1.6 0h4.4m-164.4 2h4.4m11.6 0h2.4m1.6 0h2.4m1.6 0h6.4m1.6 0h36.4m1.6 0h8.4m43.6 0h12.4m1.6 0h8.4m1.6 0h8.4m1.6 0h4.4m1.6 0h2.4m11.6 0h2.4m-180.4 2h2.4m3.6 0h6.4m5.6 0h2.4m1.6 0h48.4m57.6 0h18.4m1.6 0h4.4m3.6 0h12.4m9.6 0h2.4m-188.4 2h2.4m3.6 0h4.4m7.6 0h2.4m3.6 0h8.4m1.6 0h6.4m1.6 0h26.4m69.6 0h22.4m1.6 0h2.4m1.6 0h2.4m5.6 0h2.4m-176.4 2h4.4m7.6 0h8.4m3.6 0h6.4m1.6 0h2.4m1.6 0h20.4m83.6 0h4.4m1.6 0h10.4m5.6 0h4.4m3.6 0h4.4m-166.4 2h6.4m1.6 0h2.4m1.6 0h16.4m1.6 0h12.4m91.6 0h24.4m-154.4 2h2.4m1.6 0h4.4m5.6 0h8.4m1.6 0h8.4m99.6 0h10.4m1.6 0h12.4m1.6 0h8.4m-170.4 2h4.4m1.6 0h2.4m1.6 0h2.4m1.6 0h18.4m105.6 0h22.4m3.6 0h2.4m-164.4 2h2.4m1.6 0h6.4m1.6 0h14.4m109.6 0h12.4m1.6 0h8.4m-174.4 2h2.4m3.6 0h4.4m1.6 0h10.4m1.6 0h16.4m113.6 0h10.4m1.6 0h10.4m-192.4 2h4.4m1.6 0h2.4m7.6 0h2.4m7.6 0h4.4m1.6 0h8.4m3.6 0h10.4m115.6 0h18.4m1.6 0h2.4m-196.4 2h2.4m7.6 0h2.4m7.6 0h2.4m11.6 0h4.4m1.6 0h14.4m119.6 0h16.4m3.6 0h6.4m7.6 0h2.4m-254.4 2h2.4m21.6 0h2.4m17.6 0h2.4m7.6 0h2.4m9.6 0h6.4m1.6 0h2.4m1.6 0h2.4m1.6 0h14.4m121.6 0h20.4m1.6 0h4.4m5.6 0h6.4m-278.4 2h4.4m17.6 0h2.4m1.6 0h2.4m17.6 0h2.4m1.6 0h4.4m3.6 0h6.4m25.6 0h26.4m123.6 0h10.4m1.6 0h8.4m3.6 0h2.4m3.6 0h4.4m1.6 0h2.4m-262.4 2h2.4m7.6 0h4.4m19.6 0h2.4m23.6 0h2.4m19.6 0h8.4m1.6 0h8.4m123.6 0h8.4m1.6 0h10.4m5.6 0h2.4m1.6 0h2.4m3.6 0h4.4m-264.4 2h2.4m57.6 0h2.4m9.6 0h2.4m9.6 0h2.4m1.6 0h6.4m1.6 0h2.4m125.6 0h12.4m1.6 0h2.4m3.6 0h2.4m1.6 0h6.4m-234.4 2h6.4m13.6 0h6.4m15.6 0h2.4m7.6 0h24.4m127.6 0h18.4m1.6 0h2.4m1.6 0h2.4m-250.4 2h2.4m3.6 0h2.4m13.6 0h6.4m5.6 0h4.4m1.6 0h6.4m5.6 0h4.4m5.6 0h10.4m3.6 0h18.4m129.6 0h16.4m1.6 0h2.4m1.6 0h4.4m-250.4 2h4.4m1.6 0h2.4m7.6 0h4.4m1.6 0h2.4m1.6 0h4.4m3.6 0h2.4m5.6 0h12.4m7.6 0h4.4m3.6 0h24.4m127.6 0h10.4m1.6 0h16.4m-282.4 2h4.4m21.6 0h2.4m1.6 0h34.4m1.6 0h4.4m1.6 0h8.4m1.6 0h12.4m5.6 0h4.4m1.6 0h18.4m129.6 0h8.4m1.6 0h4.4m1.6 0h4.4m1.6 0h2.4m5.6 0h4.4m-276.4 2h2.4m7.6 0h8.4m1.6 0h6.4m1.6 0h4.4m1.6 0h2.4m3.6 0h6.4m1.6 0h12.4m1.6 0h6.4m1.6 0h2.4m1.6 0h2.4m1.6 0h32.4m133.6 0h8.4m1.6 0h2.4m1.6 0h6.4m-270.4 2h2.4m1.6 0h4.4m5.6 0h2.4m3.6 0h2.4m1.6 0h44.4m1.6 0h18.4m5.6 0h6.4m1.6 0h6.4m1.6 0h6.4m129.6 0h18.4m1.6 0h2.4m5.6 0h2.4m-306.4 2h4.4m25.6 0h2.4m3.6 0h2.4m3.6 0h6.4m1.6 0h2.4m1.6 0h14.4m1.6 0h42.4m1.6 0h4.4m3.6 0h2.4m3.6 0h16.4m131.6 0h14.4m1.6 0h2.4m1.6 0h2.4m5.6 0h2.4m-324.4 2h2.4m33.6 0h6.4m5.6 0h4.4m1.6 0h4.4m1.6 0h8.4m1.6 0h6.4m1.6 0h18.4m23.6 0h40.4m131.6 0h8.4m1.6 0h10.4m1.6 0h2.4m-316.4 2h2.4m37.6 0h6.4m5.6 0h8.4m1.6 0h24.4m41.6 0h4.4m1.6 0h12.4m1.6 0h8.4m1.6 0h2.4m131.6 0h18.4m1.6 0h2.4m3.6 0h4.4m-294.4 2h4.4m11.6 0h2.4m9.6 0h2.4m1.6 0h20.4m53.6 0h24.4m131.6 0h20.4m1.6 0h2.4m7.6 0h2.4m-288.4 2h6.4m1.6 0h2.4m1.6 0h2.4m1.6 0h8.4m1.6 0h14.4m61.6 0h18.4m131.6 0h14.4m1.6 0h10.4m7.6 0h4.4m-338.4 2h6.4m45.6 0h30.4m71.6 0h12.4m131.6 0h8.4m1.6 0h10.4m13.6 0h4.4m-332.4 2h2.4m1.6 0h2.4m45.6 0h2.4m3.6 0h18.4m79.6 0h4.4m131.6 0h18.4m3.6 0h2.4m11.6 0h6.4m-330.4 2h2.4m23.6 0h2.4m17.6 0h10.4m1.6 0h10.4m217.6 0h10.4m1.6 0h10.4m1.6 0h2.4m-312.4 2h2.4m21.6 0h4.4m3.6 0h2.4m11.6 0h8.4m1.6 0h6.4m1.6 0h2.4m217.6 0h16.4m3.6 0h2.4m7.6 0h2.4m-342.4 2h4.4m53.6 0h4.4m5.6 0h6.4m1.6 0h14.4m217.6 0h20.4m1.6 0h2.4m7.6 0h4.4m-344.4 2h2.4m27.6 0h4.4m1.6 0h2.4m9.6 0h4.4m5.6 0h2.4m7.6 0h8.4m1.6 0h10.4m217.6 0h16.4m1.6 0h2.4m5.6 0h4.4m-300.4 2h4.4m1.6 0h4.4m5.6 0h2.4m3.6 0h2.4m1.6 0h4.4m1.6 0h18.4m217.6 0h18.4m1.6 0h4.4m3.6 0h4.4m-296.4 2h4.4m7.6 0h8.4m1.6 0h4.4m1.6 0h4.4m1.6 0h10.4m217.6 0h8.4m1.6 0h6.4m1.6 0h2.4m3.6 0h4.4m-334.4 2h2.4m17.6 0h4.4m11.6 0h2.4m19.6 0h2.4m1.6 0h2.4m5.6 0h18.4m213.6 0h2.4m1.6 0h18.4m-324.4 2h2.4m33.6 0h2.4m15.6 0h4.4m3.6 0h4.4m1.6 0h18.4m213.6 0h24.4m5.6 0h6.4m-342.4 2h2.4m39.6 0h2.4m15.6 0h2.4m3.6 0h4.4m1.6 0h20.4m211.6 0h18.4m1.6 0h2.4m7.6 0h2.4m-336.4 2h2.4m25.6 0h2.4m11.6 0h2.4m11.6 0h6.4m1.6 0h28.4m207.6 0h18.4m5.6 0h4.4m3.6 0h4.4m-308.4 2h2.4m35.6 0h6.4m1.6 0h18.4m205.6 0h6.4m1.6 0h12.4m7.6 0h2.4m1.6 0h4.4m-306.4 2h2.4m37.6 0h6.4m1.6 0h16.4m99.6 0h8.4m95.6 0h6.4m1.6 0h6.4m1.6 0h6.4m1.6 0h4.4m-272.4 2h2.4m1.6 0h2.4m7.6 0h2.4m1.6 0h22.4m97.6 0h14.4m87.6 0h8.4m1.6 0h12.4m11.6 0h2.4m3.6 0h4.4m-284.4 2h2.4m1.6 0h2.4m7.6 0h2.4m1.6 0h2.4m1.6 0h20.4m91.6 0h22.4m81.6 0h6.4m1.6 0h10.4m1.6 0h6.4m7.6 0h4.4m1.6 0h2.4m-282.4 2h6.4m11.6 0h2.4m1.6 0h6.4m1.6 0h14.4m89.6 0h26.4m77.6 0h22.4m7.6 0h6.4m5.6 0h2.4m-296.4 2h2.4m29.6 0h2.4m1.6 0h2.4m3.6 0h6.4m1.6 0h10.4m85.6 0h14.4m1.6 0h4.4m1.6 0h8.4m71.6 0h8.4m1.6 0h10.4m3.6 0h2.4m-276.4 2h4.4m29.6 0h4.4m5.6 0h2.4m3.6 0h14.4m81.6 0h18.4m1.6 0h16.4m65.6 0h4.4m1.6 0h18.4m-238.4 2h2.4m1.6 0h2.4m3.6 0h10.4m1.6 0h10.4m77.6 0h42.4m57.6 0h20.4m1.6 0h2.4m1.6 0h2.4m-236.4 2h8.4m1.6 0h22.4m73.6 0h14.4m1.6 0h18.4m1.6 0h10.4m51.6 0h18.4m1.6 0h4.4m1.6 0h2.4m9.6 0h4.4m-288.4 2h4.4m51.6 0h2.4m1.6 0h16.4m67.6 0h18.4m1.6 0h24.4m1.6 0h10.4m41.6 0h10.4m1.6 0h10.4m1.6 0h2.4m1.6 0h2.4m-216.4 2h2.4m1.6 0h2.4m1.6 0h10.4m1.6 0h2.4m63.6 0h10.4m1.6 0h10.4m1.6 0h2.4m1.6 0h4.4m1.6 0h28.4m31.6 0h24.4m3.6 0h4.4m1.6 0h2.4m7.6 0h4.4m-230.4 2h10.4m1.6 0h10.4m1.6 0h4.4m55.6 0h10.4m1.6 0h10.4m5.6 0h2.4m3.6 0h6.4m1.6 0h34.4m11.6 0h36.4m1.6 0h2.4m1.6 0h6.4m-220.4 2h4.4m3.6 0h26.4m43.6 0h26.4m5.6 0h8.4m1.6 0h16.4m1.6 0h52.4m1.6 0h8.4m3.6 0h2.4m3.6 0h4.4m-234.4 2h2.4m11.6 0h4.4m3.6 0h6.4m3.6 0h30.4m29.6 0h20.4m1.6 0h4.4m3.6 0h4.4m1.6 0h2.4m3.6 0h2.4m19.6 0h8.4m1.6 0h26.4m1.6 0h6.4m1.6 0h8.4m1.6 0h8.4m5.6 0h4.4m15.6 0h4.4m-250.4 2h4.4m13.6 0h4.4m1.6 0h2.4m5.6 0h8.4m1.6 0h46.4m1.6 0h18.4m1.6 0h12.4m5.6 0h4.4m3.6 0h4.4m13.6 0h62.4m1.6 0h2.4m3.6 0h4.4m-198.4 2h14.4m1.6 0h20.4m1.6 0h36.4m1.6 0h2.4m1.6 0h2.4m7.6 0h2.4m15.6 0h2.4m3.6 0h4.4m1.6 0h2.4m3.6 0h2.4m1.6 0h2.4m1.6 0h4.4m1.6 0h2.4m1.6 0h30.4m1.6 0h12.4m5.6 0h4.4m-206.4 2h4.4m7.6 0h6.4m7.6 0h4.4m1.6 0h12.4m1.6 0h28.4m1.6 0h8.4m5.6 0h4.4m7.6 0h6.4m15.6 0h2.4m1.6 0h2.4m3.6 0h2.4m1.6 0h2.4m1.6 0h6.4m1.6 0h2.4m1.6 0h6.4m1.6 0h2.4m1.6 0h6.4m1.6 0h12.4m1.6 0h12.4m-202.4 2h4.4m23.6 0h2.4m1.6 0h34.4m1.6 0h8.4m3.6 0h6.4m7.6 0h2.4m35.6 0h4.4m11.6 0h8.4m1.6 0h8.4m1.6 0h2.4m1.6 0h10.4m1.6 0h2.4m5.6 0h2.4m1.6 0h12.4m-230.4 2h4.4m17.6 0h2.4m19.6 0h4.4m9.6 0h4.4m3.6 0h12.4m3.6 0h2.4m1.6 0h4.4m1.6 0h4.4m1.6 0h4.4m1.6 0h4.4m27.6 0h4.4m21.6 0h6.4m3.6 0h26.4m1.6 0h2.4m5.6 0h2.4m3.6 0h6.4m3.6 0h2.4m-170.4 2h4.4m1.6 0h6.4m17.6 0h2.4m15.6 0h2.4m37.6 0h4.4m27.6 0h2.4m1.6 0h6.4m1.6 0h6.4m3.6 0h2.4m7.6 0h2.4m1.6 0h2.4m5.6 0h2.4m1.6 0h4.4m-168.4 2h8.4m1.6 0h6.4m3.6 0h2.4m3.6 0h2.4m65.6 0h2.4m23.6 0h2.4m1.6 0h2.4m1.6 0h2.4m7.6 0h2.4m1.6 0h8.4m1.6 0h2.4m5.6 0h2.4m-174.4 2h2.4m23.6 0h4.4m1.6 0h2.4m65.6 0h2.4m3.6 0h2.4m7.6 0h4.4m15.6 0h4.4m11.6 0h2.4m-154.4 2h2.4m35.6 0h6.4m55.6 0h4.4m15.6 0h4.4m27.6 0h4.4m-28.4 2h8.4m-126.4 2h2.4m109.6 0h4.4m29.6 0h2.4m5.6 0h2.4m-156.4 2h2.4m141.6 0h4.4m5.6 0h2.4m-156.4 2h2.4m141.6 0h2.4" stroke="#0000ff" stroke-width="2.4" fill="none"/>
<path d="M1498.8 1389h2.5m7.5 0h2.5m61.5 0h2.5m-20.5 2h2.5m-8.5 2h2.5m35.5 0h2.5m-100.5 2h2.5m13.5 2h2.5m27.5 0h2.5m41.5 0h2.5m-66.5 2h2.5m3.5 0h2.5m-0.5 2h2.5m53.5 0h2.5m-78.5 2h2.5m55.5 0h2.5m3.5 0h2.5m3.5 0h2.5m-108.5 2h2.5m71.5 0h2.5m37.5 0h2.5m9.5 0h2.5m-84.5 2h2.5m59.5 0h2.5m-78.5 2h2.5m1.5 0h2.5m29.5 0h2.5m1.5 0h2.5m45.5 0h2.5m-124.5 2h2.5m27.5 0h2.5m25.5 0h2.5m-84.5 2h2.5m27.5 0h2.5m7.5 0h2.5m3.5 0h2.5m7.5 0h2.5m21.5 0h2.5m3.5 0h2.5m21.5 0h2.5m7.5 0h2.5m43.5 0h2.5m-162.5 2h2.5m1.5 0h2.5m13.5 0h2.5m23.5 0h2.5m61.5 0h2.5m13.5 0h2.5m7.5 0h2.5m-102.5 2h2.5m-22.5 2h2.5m107.5 0h2.5m-118.5 2h2.5m15.5 0h2.5m7.5 0h2.5m83.5 0h2.5m25.5 0h2.5m5.5 0h2.5m-168.5 2h2.5m21.5 0h2.5m1.5 0h2.5m23.5 0h2.5m77.5 0h2.5m13.5 0h2.5m9.5 0h2.5m-184.5 2h2.5m7.5 0h2.5m9.5 0h2.5m39.5 0h2.5m139.5 0h2.5m-210.5 2h2.5m13.5 0h2.5m19.5 0h2.5m-0.5 2h2.5m-22.5 2h2.5m-72.5 2h2.5m71.5 0h2.5m141.5 0h2.5m-152.5 2h2.5m3.5 2h2.5m-50.5 2h2.5m27.5 0h2.5m13.5 0h2.5m151.5 0h2.5m3.5 0h2.5m9.5 0h2.5m-206.5 2h2.5m-4.5 2h2.5m187.5 0h2.5m7.5 0h2.5m-14.5 2h2.5m17.5 0h2.5m1.5 0h2.5m-34.5 2h2.5m7.5 0h2.5m7.5 0h2.5m-278.5 2h2.5m45.5 0h2.5m39.5 0h2.5m-114.5 2h2.5m305.5 0h2.5m-242.5 2h2.5m17.5 0h2.5m189.5 0h2.5m3.5 0h2.5m5.5 0h2.5m-278.5 2h2.5m75.5 0h2.5m183.5 0h2.5m3.5 0h2.5m1.5 0h2.5m-256.5 2h2.5m11.5 0h2.5m27.5 0h2.5m199.5 0h2.5m7.5 0h2.5m7.5 0h2.5m-208.5 2h2.5m187.5 0h2.5m9.5 0h2.5m-316.5 2h2.5m297.5 0h2.5m9.5 0h2.5m-286.5 2h2.5m13.5 0h2.5m53.5 0h2.5m3.5 0h2.5m1.5 0h2.5m-168.5 2h2.5m61.5 0h2.5m13.5 0h2.5m25.5 0h2.5m17.5 0h2.5m13.5 0h2.5m13.5 0h2.5m9.5 0h2.5m-128.5 2h2.5m25.5 0h2.5m57.5 0h2.5m15.5 0h2.5m-100.5 2h2.5m27.5 0h2.5m13.5 0h2.5m3.5 0h2.5m5.5 0h2.5m1.5 0h2.5m33.5 0h2.5m203.5 0h2.5m21.5 0h2.5m-312.5 2h2.5m13.5 0h2.5m287.5 0h2.5m-288.5 2h2.5m45.5 0h2.5m-52.5 2h2.5m267.5 0h2.5m-310.5 2h2.5m3.5 0h2.5m27.5 0h2.5m261.5 0h2.5m-282.5 2h2.5m11.5 0h2.5m-86.5 2h2.5m65.5 0h2.5m-38.5 2h2.5m1.5 0h2.5m17.5 0h2.5m-70.5 2h2.5m5.5 0h2.5m23.5 0h2.5m339.5 0h2.5m1.5 0h2.5m-358.5 2h2.5m61.5 0h2.5m263.5 0h2.5m-304.5 4h2.5m5.5 0h2.5m7.5 0h2.5m291.5 0h2.5m-342.5 2h2.5m19.5 0h2.5m-32.5 2h2.5m37.5 0h2.5m9.5 0h2.5m1.5 0h2.5m-82.5 2h2.5m27.5 0h2.5m21.5 0h2.5m25.5 0h2.5m-26.5 2h2.5m9.5 0h2.5m7.5 0h2.5m269.5 0h2.5m-326.5 2h2.5m3.5 0h2.5m19.5 0h2.5m285.5 0h2.5m15.5 0h2.5m15.5 0h2.5m-370.5 2h2.5m11.5 0h2.5m337.5 0h2.5m-352.5 2h2.5m27.5 0h2.5m305.5 0h2.5m-358.5 2h2.5m41.5 0h2.5m295.5 0h2.5m17.5 0h2.5m-318.5 2h2.5m335.5 0h2.5m-348.5 2h2.5m1.5 0h2.5m13.5 0h2.5m289.5 0h2.5m3.5 0h2.5m-10.5 2h2.5m23.5 0h2.5m-336.5 2h2.5m3.5 0h2.5m7.5 0h2.5m3.5 0h2.5m-32.5 2h2.5m23.5 0h2.5m9.5 2h2.5m277.5 0h2.5m-298.5 2h2.5m287.5 0h2.5m-312.5 4h2.5m27.5 0h2.5m5.5 0h2.5m245.5 0h2.5m1.5 0h2.5m5.5 0h2.5m7.5 0h2.5m-286.5 2h2.5m1.5 0h2.5m5.5 0h2.5m-66.5 2h2.5m39.5 0h2.5m17.5 0h2.5m1.5 0h2.5m255.5 0h2.5m13.5 0h2.5m3.5 0h2.5m-296.5 2h2.5m1.5 0h2.5m5.5 0h2.5m-22.5 2h2.5m261.5 0h2.5m17.5 0h2.5m-304.5 2h2.5m25.5 0h2.5m9.5 0h2.5m5.5 0h2.5m1.5 0h2.5m1.5 0h2.5m219.5 0h2.5m27.5 0h2.5m-256.5 2h2.5m223.5 0h2.5m41.5 0h2.5m-336.5 2h2.5m57.5 0h2.5m111.5 0h2.5m111.5 0h2.5m-294.5 2h2.5m271.5 0h2.5m9.5 0h2.5m1.5 0h2.5m1.5 0h2.5m-232.5 2h2.5m13.5 0h2.5m205.5 0h2.5m-8.5 2h2.5m-188.5 2h2.5m95.5 0h2.5m87.5 0h2.5m5.5 0h2.5m1.5 0h2.5m-242.5 2h2.5m23.5 0h2.5m7.5 0h2.5m67.5 0h2.5m45.5 0h2.5m47.5 0h2.5m23.5 0h2.5m5.5 0h2.5m-206.5 2h2.5m9.5 0h2.5m71.5 0h2.5m13.5 0h2.5m7.5 0h2.5m3.5 0h2.5m69.5 0h2.5m-196.5 2h2.5m39.5 0h2.5m9.5 0h2.5m3.5 0h2.5m31.5 0h2.5m-112.5 2h2.5m3.5 0h2.5m3.5 0h2.5m11.5 0h2.5m5.5 0h2.5m37.5 0h2.5m5.5 0h2.5m1.5 0h2.5m5.5 0h2.5m1.5 0h2.5m41.5 0h2.5m73.5 0h2.5m-156.5 2h2.5m37.5 0h2.5m51.5 0h2.5m9.5 0h2.5m29.5 0h2.5m3.5 0h2.5m-212.5 2h2.5m19.5 0h2.5m-28.5 2h2.5m129.5 0h2.5m13.5 0h2.5m29.5 0h2.5m1.5 0h2.5m5.5 0h2.5m-158.5 2h2.5m9.5 0h2.5m91.5 0h2.5m-90.5 2h2.5m3.5 0h2.5m91.5 0h2.5m25.5 0h2.5m-162.5 2h2.5m61.5 0h2.5m85.5 0h2.5m-148.5 2h2.5m155.5 0h2.5m-42.5 2h2.5m147.5 4h2.5m-86.5 4h2.5" stroke="#1414e0" stroke-width="2.5" fill="none"/>
<path d="M1374 1543l-13 0.3l-13-1.7l-11-3.6l-5-2.6l-4-2.7l-4-3.6l-2.6-3.1l-2.3-4l-1.3-4l-0.1-6l-0.5-1l1.4-4l3.2-5l3.2-3.5l4.2-3.5l4.8-3.1l6-3.2l12-4.4l14-2.9l9-0.6l10 0.8l11 2.6l16 5.7l3 0.4l3-0.3l3-1.7l2.4-2.3l13.2-19l5.3-6l5.1-4.7l6-4.4l6-3.4l7-2.8l8-2.1l44-8.4l9-1l9 0.2l10 1.8l8 3.5l3.4 2.3l3.3 3l4.1 6l1.6 4l1 5l0.1 5l-0.7 5l-3.7 10l-5.8 9l-6.3 7l-9 7.8l-30 22.6l-10 6.1l-9 3.6l-9 2l-9 0.6l-9-0.8l-7-1.7l-7-2.6l-8-4.2l-14-8.7l-4-1.7l-3-0.3l-3 0.7l-3 1.7l-13 10.4l-9 5.4l-10 4z" fill="#0000ff"/>
<path d="M1376 1541.1l-13 0.7l-12-1.4l-11-3.3l-5-2.3l-4-2.6l-3.8-3.2l-2.7-3l-1.9-3l-1.6-4l-0.7-4l0.2-3l-0.4-1l1.4-4l1.8-3l3.3-4l4.4-3.8l5-3.4l6-3.1l12-4.3l8-1.8l7-0.9l10-0.1l10 1.5l10 3.2l15 6.9l3 0.7l3-0.5l3-2.3l2-2.7l12.9-20.4l4.1-5l5-4.9l6-4.6l7-4.1l7-2.8l8-2.1l42-7.9l9-0.9l8 0.1l10 1.8l7.8 3.4l6.2 5l3.9 6l1.5 4l0.8 5l0 4l-0.8 5l-4 10l-5.4 8l-6.5 7l-9.5 8l-27 20.5l-11 6.6l-9 3.4l-9 1.7l-9 0.3l-9-1.2l-7-2.1l-7-3.1l-8-4.7l-14-9.9l-3-1.5l-3-0.3l-2 0.6l-2 1.4l-11.6 11.3l-9.4 6.9l-10 4.6z" fill="#0058ff"/>
<path d="M1480 1533.1l-7 0.1l-7-1l-7-1.9l-6-2.6l-7-4.1l-6.1-4.6l-8.2-8l-2.1-3l-1.8-4l-0.3-3l0.6-4l1.8-6l5.6-12l7.5-11l7-7.1l9-6.3l9-4l10-2.5l37-6.5l12-1.1l7 0.4l7 1.5l5 2l5 3.2l4 4.3l2.3 4.1l1.4 5l0.3 6l-0.8 5l-2.4 6l-3.3 6l-3.8 5l-4.7 5l-7 6.2l-24 18.9l-8 5.6l-6 3.3l-6 2.4l-7 1.9zM1371 1539.1l-12-0.2l-10-1.8l-10-3.8l-7-4.8l-4.7-5.5l-1.4-3l-1-4l0.1-4l-0.4-1l0.6-2l2-4l2.3-3l3.1-3l4.4-3.3l10-5.3l12-3.7l12-1.7l10 0.3l10 2.1l9 3.8l8.4 5.8l3 3l2 3l0.9 3l0 2l-0.6 3l-1 1l-3.1 6l-3.9 5l-7.7 6.8l-8 4.6l-9 3.2z" fill="#007aff"/>
<path d="M1483 1530l-7 0.5l-6-0.4l-7-1.5l-6-2.1l-6-3.2l-6.1-4.3l-5.3-5l-3.9-5l-1.9-4l-1-4l0-4l1.1-6l1.7-5l2.8-6l6.5-10l7.1-7.2l8-5.7l8-3.7l10-2.7l35-5.8l12-1l6 0.2l6 1.1l5 1.8l5 3l3.1 3l2.5 4l1.6 5l0.4 5l-0.7 5l-1.9 5l-2.6 5l-3.5 5l-3.9 4.4l-7.2 6.6l-28.8 22.9l-6 3.7l-5 2.3l-6 1.9zM1369 1537l-10-0.4l-10-2l-8-3.3l-6-4.2l-4.3-5.1l-1.4-3l-0.7-3l-0.3-5l1.5-4l2-3l6.2-5.9l8-4.8l10-3.7l12-2.3l10-0.2l9 1.5l8 3l7.1 4.4l3.1 3l2.2 3l1.3 3l0.5 3l-0.3 3l-2.7 6l-2.6 4l-6.6 6.5l-8 4.9l-9 3.2z" fill="#009dff"/>
<path d="M1480 1528l-6 0.1l-6-0.7l-6-1.6l-5-2l-5-2.8l-5.3-4l-5.7-6l-2-3l-1.7-4l-0.9-4l-0.1-4l0.7-5l1.5-5l2.7-6l3-5l3.8-5l6.1-6l7.9-5.4l8-3.5l10-2.5l32-4.8l12-1l6 0.4l6 1.3l5 2.2l3.3 2.3l2.8 3l2.2 4l1.1 4l0.1 5l-0.5 3l-2.7 7l-3.1 5l-3.1 4l-11.6 11l-18.5 15.4l-7 5.2l-5 2.9l-6 2.7l-7 2zM1370 1535l-9-0.2l-8-1.3l-8-2.8l-6-3.7l-4.7-5l-2.2-5l-0.5-6l2.1-5l5.3-5.8l7-4.6l8-3.4l10-2.5l9-0.9l9 0.7l8 2.2l7 3.7l5.2 4.6l2 3l1.1 3l0.2 5l-3.7 8l-2.3 3l-3.5 3.5l-8 5.1l-9 3.2z" fill="#00c1ff"/>
<path d="M1479 1526l-6-0.1l-5-0.7l-6-1.7l-5-2.2l-5-3.1l-3.9-3.2l-3.8-4l-2.6-4l-1.7-4l-0.8-4l0-4l0.7-5l1.6-5l2.3-5l6.1-9l6.3-6l7.8-5.2l8-3.2l9-2.1l29-4l12-0.9l6 0.4l5 1l4 1.5l4 2.6l2.8 2.9l2.1 4l0.9 4l-0.1 4l-1.3 5l-1.7 4l-2.4 4l-4 5l-11.5 11l-16.4 14l-7.4 5.4l-5 2.9l-6 2.4l-6 1.6zM1373 1533l-9 0.3l-9-1.3l-7-2.3l-6.4-3.7l-4.7-5l-2-5l-0.4-5l1.1-3l1.9-3l5.2-5l6.8-4l8.5-3.2l9-1.9l8-0.4l8 1l7 2.3l6 3.6l4.4 4.6l1.5 3l0.7 3l0 3l-1.9 5l-1.7 3l-4.5 5l-6.5 4.5l-7 3z" fill="#00e7ff"/>
<path d="M1480 1524l-5 0.1l-5-0.5l-5-1.2l-5-1.9l-5-2.8l-4-3l-3.7-3.7l-2.8-4l-1.8-4l-0.9-4l0.2-8l1.4-5l2.1-5l3-5l3.1-4l6.3-6l7.1-4.6l7-2.9l9-2.1l28-3.5l12-0.7l5 0.4l5 1l4 1.7l3 2l2.5 2.7l1.7 3l0.9 4l0 4l-2.9 8l-5.5 8l-11.2 11l-14.5 12.9l-7 5.3l-5 3l-5 2.2l-6 1.8zM1375 1531.1l-9 0.5l-8-0.8l-7-2l-6-3.1l-4.2-3.7l-2.8-5l-0.7-6l2.4-5l4.3-4.4l6-3.9l8-3.2l8-1.8l8-0.7l7 0.8l6 1.7l6 3.2l4.4 4.3l2.4 5l0.1 4l-2.3 6l-3.8 5l-5 4l-6.8 3.3z" fill="#00fff0"/>
<path d="M1482 1522.1l-5 0.3l-5-0.3l-5-1l-5-1.7l-4.6-2.4l-4.1-3l-3.3-3.1l-2.9-3.9l-1.5-3l-1.3-4l-0.5-4l0.4-5l1.3-5l1.6-4l2.9-4.9l3-4l6-5.8l7-4.5l7-2.9l8-1.8l27-2.9l11-0.4l9.2 1.2l3.8 1.5l3 2l2.3 2.5l1.5 3l0.7 3l-0.1 4l-3.1 8l-5 7l-5.7 6l-12.7 12l-10.9 9.1l-9 5.1l-5 1.7zM1368 1530l-7-0.5l-6-1.3l-5.5-2.2l-4.5-3.1l-3.2-3.9l-1.5-4l-0.3-4l2.5-5l4.1-4l5.4-3.4l7-2.8l8-1.8l7-0.4l6 0.6l6.1 1.8l5.4 3l3.9 4l2 5l0.1 3l-1.9 5l-1.8 3l-4.8 4.7l-6 3.4l-7 2.2z" fill="#00ffc9"/>
<path d="M1484 1520.1l-5 0.6l-5-0.1l-5-0.8l-5-1.5l-4-1.9l-4-2.6l-3.2-2.8l-3.3-4l-1.7-3l-1.3-4l-0.6-4l0.2-5l2.5-8l5-8l5.4-5.5l7-4.9l7-3l8-1.8l25-2.3l11-0.3l9 1.4l3.5 1.4l2.5 1.7l2 2.3l1.1 2l0.7 3l0 3l-2.3 7l-5.5 8l-15.6 16l-10.2 9l-4.5 3l-4.7 2.4zM1374 1528l-7 0.4l-7-0.7l-6-1.8l-5.4-2.9l-3.2-3l-2.1-4l-0.6-5l1.8-4l3.9-4l4.6-3l7-2.9l7-1.5l6-0.5l6 0.5l6 1.8l4.6 2.6l3.8 4l1.6 4l0.2 3l-2 5l-3.2 4.4l-4.6 3.6l-5.4 2.5z" fill="#00ffa0"/>
<path d="M1480 1519l-9-0.4l-8-2.6l-4-2.2l-3.6-2.8l-2.8-3l-2-3l-1.5-3l-1-4l-0.3-4l0.4-4l2.8-8l5-7.3l5-4.9l7-4.5l7-2.7l7-1.4l20-1.4l13-0.1l8.1 1.3l2.9 1.1l2.8 1.9l1.7 2l1.3 3l0.3 3l-0.7 3l-1 3l-2 4l-6.1 8l-14.4 15l-8.9 7.4l-4.4 2.6l-4.6 2l-5 1.3zM1375 1526.2l-6 0.6l-7-0.5l-5.1-1.3l-4.9-2.3l-3.4-2.7l-2.5-4l-0.8-5l1.3-3l3.4-3.8l4-2.8l5.4-2.4l6.6-1.7l6-0.7l5 0.3l5 1.1l5 2.5l3 2.5l2.4 4l0.5 4l-1.6 4l-2.6 4l-3.5 3l-5.2 2.8z" fill="#00ff77"/>
<path d="M1483 1517.2l-9 0.2l-8-1.9l-4-1.8l-4-2.7l-3.1-3l-2.2-3l-1.5-3l-1.2-4l-0.2-7l0.9-4l1.6-4l4.6-7l5-5l6.1-4.1l6-2.5l7-1.6l12-0.9l19 0.1l8 1.4l4.9 2.6l1.8 2l1.2 3l-0.5 5l-3 7l-5.1 7l-11.7 13l-7.9 7l-7.7 4.6zM1370 1525l-5-0.1l-5-0.9l-5-2l-2.9-2l-2.1-2.3l-1.3-2.7l-0.6-4l1.3-3l2.8-3l3.8-2.6l5-2.2l5-1.4l5-0.6l5 0.2l5 1.1l4 1.9l3.1 2.6l2.1 4l0.3 3l-2.2 5l-3.3 3.8l-4 2.6l-5 1.8z" fill="#00ff4d"/>
<path d="M1480 1516l-8-0.4l-7-2.2l-4-2.3l-2.7-2.1l-4.3-5.3l-2.2-5.7l-0.2-7l2-7l4.4-7l5-5l5-3.4l6-2.6l7-1.7l11-0.7l16 0.6l8 1.4l4.7 2.4l1.9 2l0.9 2l0 4l-1 4l-4 7l-8.7 11l-7.6 8l-7.2 5.4l-7 3.1zM1373 1523l-5 0.2l-5-0.5l-5-1.7l-3-1.8l-2.1-2.2l-1.3-3l-0.1-2l-0.5-1l1.5-3l3.1-3l3.3-2l4.1-1.6l5-1.2l4-0.4l4 0.3l4 1l3.7 1.9l3 3l1.2 3l0.1 2l-1.7 4l-2.4 3l-2.9 2.2l-4 1.9z" fill="#00ff22"/>
<path d="M1484 1514l-8 0.6l-7-1.3l-6.8-3.3l-5.3-5l-1.8-3l-1.5-4l-0.3-7l1.6-6l3.4-6l4.6-5l5.5-4l5.6-2.6l7-1.6l10-0.6l12 0.8l8 1.4l5.5 2.6l1.9 2l0.8 3l0 3l-2 6l-4.3 7l-7.9 10l-6.2 6l-6.8 4.4zM1372 1521.1l-4 0.1l-4-0.6l-3-0.9l-3.1-1.7l-2.5-3l-0.6-3l-0.6-1l1.7-3l2.1-2l3.5-2l4.5-1.5l4-0.8l4 0l3 0.5l3 1.1l2.6 1.7l1.7 2l1 3l0 1l-2 4l-1.7 2l-2.8 2l-2.8 1.2z" fill="#0aff00"/>
<path d="M1481 1513l-7-0.1l-6.7-1.9l-5.3-3.2l-4.4-4.8l-1.5-3l-0.9-3l-0.3-6l1.7-6l3.6-6l3.8-4l5.4-4l5.6-2.4l6-1.4l8-0.4l10 0.8l8 1.8l5.4 2.6l2 3l0.6 1.9l-0.4 5.1l-3.1 7l-5.3 8l-6.2 7l-6 4.7l-6 2.8zM1374 1518.2l-6 0.4l-3-0.5l-2.6-1.1l-1.5-1l-1.5-2l-0.4-2l-1-1l0.5-1l2.8-3l5.7-2.5l6-0.6l5 1.2l3.3 2.9l0.8 3l-3.7 5z" fill="#36ff00"/>
<path d="M1484 1511.1l-7 0.6l-6-1l-6-2.7l-4-3.4l-3-4.6l-1.4-5l0.3-6l2.4-6l3.6-5l4.5-4l4.6-2.7l6-2.1l7-0.9l7 0.3l8 1.4l5.6 2l3.7 3l1.2 2l0.6 2l-0.4 5l-2.8 7l-5.4 8l-5.5 5.7l-6 4zM1373 1514.1l-2 0.4l-3-0.5l-1.5-1l-0.5-1l-2.3-1l1.3-1.7l2-1.3l4-1l3 0.3l2.7 1.7l0.8 2l-2.1 1l-0.7 1z" fill="#62ff00"/>
<path d="M1482 1510l-6 0.2l-5-1.1l-5-2.3l-4-3.6l-2.6-4.2l-1-4l0-5l1.6-5l2.4-4l3.6-4l5-3.6l5-2.2l6-1.2l6-0.1l7 1l5 1.6l5.3 3.5l1.4 2l0.8 2l0 5l-1.9 6l-5.2 8l-5.4 5.4l-6 3.7z" fill="#8fff00"/>
<path d="M1484 1508.2l-5 0.6l-5-0.5l-4.2-1.3l-3.8-2.3l-3-3l-2.1-3.7l-0.9-4l0.1-4l1.2-4l2.2-4l3.5-3.9l4.1-3.1l3.9-1.9l5-1.3l6-0.4l5.2 0.6l6.1 2l4.7 3.2l1.4 1.8l1.1 3l0 5l-1.2 4l-1.6 3l-5.1 7l-5.6 4.4l-3.2 1.6z" fill="#bdff00"/>
<path d="M1482 1507l-5 0.2l-4-0.8l-4-1.7l-3-2.3l-2.6-3.4l-1.2-3l-0.5-5l0.6-3l1.8-4l2.9-3.8l3.7-3.2l3.3-1.9l4-1.3l4-0.7l5 0.1l4.3 0.8l5.7 2.5l3.5 3.5l0.9 2l0.6 3l-0.6 5l-3.6 7l-4.6 5l-5.2 3.3z" fill="#ebff00"/>
<path d="M1484 1505l-7 0.5l-4-0.9l-3-1.3l-2.9-2.3l-1.6-2l-1.4-3l-0.5-3l0-3l1.3-4l1.8-3l2.3-2.6l3-2.4l3-1.6l3-1l4-0.7l6 0.4l6 2.3l2.1 1.6l1.7 2l1 2l0.6 3l-0.6 5l-1.9 4l-2 3l-4.9 4.4z" fill="#ffe400"/>
<path d="M1485 1503l-6 0.9l-6-1.2l-4.1-2.7l-1.9-2.4l-1.1-2.6l-0.3-5l0.8-3l1.6-2.8l4-4.2l3-1.8l3-1.1l6-0.6l6 1.3l2.2 1.2l2.3 2l2.1 4l0.4 3l-0.5 3l-2.4 5l-4.1 4.3z" fill="#ffb500"/>
<path d="M1480 1502.1l-3-0.3l-2.9-0.8l-4.1-2.9l-2.1-4.1l-0.4-3l0.4-2l2.6-5l4.5-3.8l3-1.2l3-0.6l6 0.6l3.8 2l2.6 3l1 3l-0.2 4l-2.2 4.5l-3.3 3.5l-3.7 2.1z" fill="#ff8500"/>
<path d="M1484 1499.2l-4 0.7l-4.8-0.9l-2.9-2l-1.9-3l-0.5-3l1.1-4l3-3.7l4-2.2l4-0.6l4 0.7l3.1 1.8l2.1 3l0.5 4l-1.5 4l-2.4 3z" fill="#ff5500"/>
<path d="M1482 1497.2l-3 0.1l-3.4-1.3l-1.8-2l-1-3l0.8-3l1.4-2.1l2.5-1.9l3.5-0.9l3 0.4l2 0.9l2 2.3l0.7 2.3l-0.2 2l-1.5 3l-2.2 2z" fill="#ff2500"/>
<path d="M1481 1493.1l-2-0.4l-1.7-1.7l0.7-2.5l1-0.8l2-0.6l2.2 0.9l0.9 2l-0.1 1z" fill="#ff0000"/>
</g>
<g clip-path="url(#c30)">
<path d="M408.3 1930.2h2.4m9.6 0h4.4m-16.4 2h2.4m9.6 0h2.4m-18.4 2h10.4m1.6 0h2.4m5.6 0h4.4m9.6 0h4.4m-40.4 2h4.4m3.6 0h14.4m11.6 0h2.4m-32.4 2h8.4m3.6 0h4.4m1.6 0h8.4m3.6 0h4.4m-58.4 2h4.4m1.6 0h4.4m13.6 0h4.4m1.6 0h2.4m1.6 0h16.4m3.6 0h4.4m-58.4 2h2.4m23.6 0h4.4m3.6 0h2.4m1.6 0h8.4m1.6 0h2.4m7.6 0h2.4m-40.4 2h26.4m1.6 0h2.4m7.6 0h2.4m-56.4 2h4.4m1.6 0h4.4m3.6 0h4.4m1.6 0h4.4m1.6 0h10.4m3.6 0h6.4m1.6 0h2.4m3.6 0h2.4m-56.4 2h2.4m7.6 0h8.4m1.6 0h8.4m1.6 0h22.4m-66.4 2h4.4m7.6 0h6.4m3.6 0h4.4m1.6 0h4.4m1.6 0h10.4m1.6 0h14.4m1.6 0h14.4m9.6 0h4.4m-80.4 2h2.4m1.6 0h6.4m1.6 0h50.4m-86.4 2h2.4m9.6 0h2.4m1.6 0h4.4m1.6 0h48.4m1.6 0h4.4m1.6 0h10.4m13.6 0h4.4m-106.4 2h2.4m9.6 0h2.4m3.6 0h2.4m1.6 0h56.4m1.6 0h2.4m1.6 0h2.4m19.6 0h4.4m-110.4 2h4.4m3.6 0h10.4m1.6 0h24.4m17.6 0h4.4m1.6 0h4.4m1.6 0h2.4m1.6 0h4.4m3.6 0h4.4m3.6 0h4.4m1.6 0h6.4m1.6 0h4.4m5.6 0h2.4m-116.4 2h2.4m1.6 0h4.4m3.6 0h20.4m25.6 0h20.4m1.6 0h10.4m23.6 0h2.4m5.6 0h4.4m-152.4 2h6.4m3.6 0h2.4m3.6 0h4.4m1.6 0h28.4m35.6 0h8.4m1.6 0h6.4m1.6 0h2.4m5.6 0h2.4m3.6 0h6.4m1.6 0h6.4m17.6 0h2.4m-144.4 2h12.4m1.6 0h8.4m3.6 0h2.4m1.6 0h4.4m43.6 0h12.4m1.6 0h10.4m3.6 0h2.4m1.6 0h2.4m11.6 0h2.4m11.6 0h2.4m17.6 0h4.4m-204.4 2h4.4m15.6 0h2.4m7.6 0h2.4m1.6 0h6.4m1.6 0h2.4m1.6 0h24.4m49.6 0h20.4m1.6 0h2.4m3.6 0h2.4m15.6 0h2.4m3.6 0h2.4m3.6 0h4.4m-162.4 2h2.4m7.6 0h6.4m1.6 0h4.4m1.6 0h2.4m3.6 0h14.4m55.6 0h6.4m1.6 0h16.4m1.6 0h4.4m1.6 0h4.4m1.6 0h2.4m3.6 0h2.4m5.6 0h2.4m-176.4 2h4.4m17.6 0h4.4m3.6 0h2.4m1.6 0h2.4m1.6 0h22.4m63.6 0h20.4m5.6 0h2.4m1.6 0h4.4m1.6 0h10.4m9.6 0h4.4m-180.4 2h2.4m7.6 0h6.4m3.6 0h8.4m1.6 0h20.4m69.6 0h12.4m1.6 0h6.4m3.6 0h2.4m1.6 0h2.4m1.6 0h2.4m1.6 0h6.4m11.6 0h2.4m-192.4 2h4.4m9.6 0h4.4m9.6 0h32.4m75.6 0h10.4m1.6 0h2.4m1.6 0h4.4m1.6 0h10.4m21.6 0h2.4m-190.4 2h4.4m5.6 0h4.4m1.6 0h2.4m5.6 0h6.4m1.6 0h8.4m1.6 0h10.4m81.6 0h6.4m1.6 0h6.4m1.6 0h6.4m1.6 0h6.4m1.6 0h2.4m13.6 0h2.4m17.6 0h4.4m-206.4 2h2.4m7.6 0h2.4m1.6 0h6.4m1.6 0h24.4m87.6 0h4.4m5.6 0h12.4m9.6 0h6.4m7.6 0h4.4m3.6 0h2.4m9.6 0h4.4m-230.4 2h2.4m11.6 0h2.4m11.6 0h10.4m1.6 0h2.4m7.6 0h6.4m1.6 0h8.4m93.6 0h6.4m1.6 0h10.4m1.6 0h2.4m1.6 0h4.4m3.6 0h2.4m1.6 0h2.4m11.6 0h2.4m1.6 0h4.4m7.6 0h4.4m-230.4 2h4.4m5.6 0h2.4m1.6 0h2.4m1.6 0h4.4m5.6 0h6.4m3.6 0h14.4m1.6 0h6.4m99.6 0h6.4m1.6 0h6.4m1.6 0h8.4m1.6 0h8.4m15.6 0h2.4m3.6 0h6.4m1.6 0h4.4m9.6 0h2.4m-240.4 2h2.4m7.6 0h2.4m5.6 0h6.4m3.6 0h6.4m3.6 0h16.4m105.6 0h4.4m1.6 0h2.4m5.6 0h2.4m3.6 0h4.4m9.6 0h8.4m9.6 0h2.4m3.6 0h4.4m15.6 0h2.4m-256.4 2h2.4m5.6 0h4.4m5.6 0h2.4m5.6 0h6.4m1.6 0h6.4m3.6 0h20.4m111.6 0h26.4m3.6 0h12.4m1.6 0h2.4m3.6 0h4.4m1.6 0h2.4m-254.4 2h4.4m15.6 0h2.4m15.6 0h2.4m3.6 0h4.4m1.6 0h4.4m1.6 0h16.4m1.6 0h6.4m115.6 0h24.4m1.6 0h4.4m1.6 0h2.4m5.6 0h2.4m1.6 0h2.4m9.6 0h2.4m-252.4 2h2.4m25.6 0h22.4m1.6 0h20.4m121.6 0h16.4m5.6 0h2.4m1.6 0h2.4m3.6 0h2.4m1.6 0h2.4m25.6 0h4.4m-254.4 2h6.4m7.6 0h2.4m1.6 0h4.4m1.6 0h2.4m1.6 0h32.4m125.6 0h18.4m7.6 0h6.4m1.6 0h4.4m11.6 0h2.4m-248.4 2h4.4m7.6 0h6.4m3.6 0h44.4m129.6 0h10.4m1.6 0h4.4m1.6 0h2.4m3.6 0h2.4m1.6 0h6.4m15.6 0h4.4m1.6 0h2.4m-252.4 2h10.4m1.6 0h4.4m3.6 0h2.4m1.6 0h2.4m3.6 0h30.4m133.6 0h2.4m1.6 0h8.4m1.6 0h6.4m3.6 0h2.4m3.6 0h4.4m15.6 0h2.4m3.6 0h2.4m11.6 0h4.4m-270.4 2h2.4m7.6 0h6.4m1.6 0h2.4m1.6 0h2.4m1.6 0h2.4m1.6 0h6.4m1.6 0h2.4m1.6 0h8.4m1.6 0h6.4m135.6 0h14.4m3.6 0h2.4m5.6 0h2.4m1.6 0h4.4m1.6 0h2.4m13.6 0h2.4m-248.4 2h12.4m3.6 0h6.4m5.6 0h4.4m1.6 0h22.4m137.6 0h4.4m1.6 0h4.4m1.6 0h2.4m1.6 0h4.4m3.6 0h4.4m1.6 0h2.4m3.6 0h4.4m11.6 0h2.4m-248.4 2h4.4m1.6 0h2.4m1.6 0h42.4m141.6 0h12.4m1.6 0h4.4m7.6 0h2.4m1.6 0h4.4m1.6 0h2.4m-236.4 2h6.4m1.6 0h10.4m3.6 0h4.4m1.6 0h12.4m1.6 0h14.4m141.6 0h4.4m1.6 0h6.4m9.6 0h4.4m5.6 0h2.4m-228.4 2h4.4m5.6 0h2.4m1.6 0h4.4m1.6 0h32.4m139.6 0h8.4m1.6 0h4.4m9.6 0h2.4m7.6 0h4.4m-234.4 2h10.4m3.6 0h4.4m1.6 0h14.4m1.6 0h22.4m137.6 0h2.4m1.6 0h4.4m3.6 0h4.4m-212.4 2h4.4m1.6 0h8.4m1.6 0h4.4m3.6 0h6.4m1.6 0h12.4m1.6 0h14.4m133.6 0h8.4m3.6 0h2.4m3.6 0h4.4m-216.4 2h10.4m1.6 0h10.4m1.6 0h40.4m129.6 0h8.4m3.6 0h2.4m-208.4 2h2.4m1.6 0h4.4m1.6 0h22.4m5.6 0h30.4m123.6 0h8.4m1.6 0h2.4m-204.4 2h12.4m5.6 0h8.4m1.6 0h12.4m1.6 0h34.4m113.6 0h10.4m1.6 0h4.4m3.6 0h2.4m-212.4 2h4.4m1.6 0h2.4m1.6 0h8.4m1.6 0h2.4m1.6 0h18.4m1.6 0h18.4m1.6 0h20.4m103.6 0h14.4m7.6 0h4.4m11.6 0h6.4m-232.4 2h16.4m1.6 0h2.4m1.6 0h6.4m1.6 0h10.4m1.6 0h8.4m1.6 0h6.4m1.6 0h32.4m93.6 0h10.4m-196.4 2h10.4m1.6 0h4.4m1.6 0h4.4m5.6 0h6.4m1.6 0h6.4m1.6 0h4.4m1.6 0h16.4m1.6 0h4.4m1.6 0h28.4m79.6 0h14.4m-194.4 2h2.4m5.6 0h2.4m5.6 0h4.4m3.6 0h2.4m1.6 0h4.4m1.6 0h2.4m1.6 0h18.4m1.6 0h2.4m3.6 0h2.4m7.6 0h12.4m1.6 0h2.4m1.6 0h20.4m63.6 0h12.4m3.6 0h2.4m-188.4 2h4.4m1.6 0h4.4m5.6 0h4.4m7.6 0h4.4m1.6 0h2.4m3.6 0h2.4m3.6 0h2.4m1.6 0h10.4m1.6 0h2.4m1.6 0h8.4m1.6 0h4.4m5.6 0h2.4m1.6 0h6.4m1.6 0h20.4m47.6 0h16.4m-182.4 2h2.4m5.6 0h2.4m19.6 0h4.4m1.6 0h10.4m1.6 0h2.4m1.6 0h4.4m1.6 0h2.4m1.6 0h6.4m7.6 0h6.4m7.6 0h46.4m19.6 0h20.4m3.6 0h4.4m-184.4 2h4.4m25.6 0h10.4m1.6 0h2.4m3.6 0h2.4m1.6 0h14.4m7.6 0h2.4m1.6 0h8.4m1.6 0h12.4m3.6 0h16.4m1.6 0h60.4m-160.4 2h4.4m7.6 0h4.4m11.6 0h2.4m9.6 0h2.4m9.6 0h2.4m5.6 0h12.4m1.6 0h2.4m1.6 0h2.4m5.6 0h6.4m1.6 0h8.4m1.6 0h18.4m1.6 0h4.4m1.6 0h2.4m1.6 0h12.4m1.6 0h2.4m5.6 0h2.4m-156.4 2h2.4m23.6 0h6.4m5.6 0h4.4m23.6 0h4.4m5.6 0h2.4m7.6 0h2.4m5.6 0h8.4m1.6 0h2.4m1.6 0h4.4m3.6 0h12.4m1.6 0h6.4m3.6 0h4.4m3.6 0h6.4m-112.4 2h2.4m21.6 0h4.4m3.6 0h2.4m1.6 0h4.4m11.6 0h4.4m1.6 0h8.4m1.6 0h4.4m1.6 0h4.4m5.6 0h12.4m3.6 0h4.4m1.6 0h2.4m-108.4 2h2.4m29.6 0h2.4m1.6 0h2.4m5.6 0h2.4m5.6 0h2.4m5.6 0h2.4m11.6 0h4.4m9.6 0h4.4m1.6 0h2.4m5.6 0h2.4m-68.4 2h2.4m5.6 0h2.4m23.6 0h2.4m7.6 0h2.4m3.6 0h2.4m7.6 0h4.4m-86.4 2h2.4m27.6 0h2.4m23.6 0h2.4m5.6 0h4.4m3.6 0h2.4m7.6 0h2.4m-84.4 2h2.4m57.6 4h2.4m-2.4 2h2.4" stroke="#0000ff" stroke-width="2.4" fill="none"/>
<path d="M440.2 1920.2h2.5m-24.5 2h2.5m1.5 0h2.5m17.5 0h2.5m-48.5 6h2.5m31.5 0h2.5m31.5 0h2.5m-52.5 2h2.5m39.5 0h2.5m69.5 2h2.5m-26.5 2h2.5m-54.5 4h2.5m41.5 0h2.5m-96.5 2h2.5m67.5 0h2.5m-82.5 2h2.5m1.5 0h2.5m1.5 0h2.5m59.5 0h2.5m-66.5 2h2.5m43.5 0h2.5m11.5 0h2.5m-14.5 2h2.5m37.5 0h2.5m9.5 0h2.5m11.5 0h2.5m23.5 0h2.5m-150.5 2h2.5m79.5 0h2.5m-94.5 2h2.5m71.5 0h2.5m19.5 0h2.5m9.5 0h2.5m1.5 0h2.5m-44.5 2h2.5m11.5 0h2.5m3.5 0h2.5m5.5 0h2.5m5.5 0h2.5m7.5 0h2.5m-132.5 2h2.5m83.5 0h2.5m1.5 0h2.5m9.5 0h2.5m5.5 0h2.5m5.5 0h2.5m1.5 0h2.5m-150.5 2h2.5m153.5 0h2.5m-154.5 2h2.5m7.5 0h2.5m123.5 0h2.5m9.5 0h2.5m-144.5 2h2.5m3.5 0h2.5m131.5 0h2.5m5.5 0h2.5m3.5 0h2.5m43.5 0h2.5m-78.5 2h2.5m-156.5 2h2.5m137.5 0h2.5m-134.5 2h2.5m131.5 0h2.5m23.5 0h2.5m51.5 0h2.5m-234.5 2h2.5m13.5 0h2.5m-16.5 2h2.5m157.5 0h2.5m1.5 0h2.5m15.5 0h2.5m-200.5 2h2.5m171.5 0h2.5m-198.5 2h2.5m181.5 0h2.5m7.5 0h2.5m25.5 0h2.5m15.5 0h2.5m-238.5 2h2.5m3.5 0h2.5m23.5 0h2.5m151.5 0h2.5m13.5 0h2.5m1.5 0h2.5m13.5 0h2.5m13.5 0h2.5m-274.5 2h2.5m39.5 0h2.5m141.5 0h2.5m-160.5 2h2.5m211.5 0h2.5m17.5 0h2.5m-42.5 2h2.5m45.5 0h2.5m-290.5 2h2.5m39.5 0h2.5m221.5 0h2.5m3.5 0h2.5m-256.5 2h2.5m15.5 0h2.5m5.5 0h2.5m213.5 0h2.5m31.5 0h2.5m31.5 0h2.5m-316.5 2h2.5m265.5 0h2.5m5.5 0h2.5m-52.5 2h2.5m1.5 0h2.5m5.5 0h2.5m-248.5 2h2.5m13.5 0h2.5m213.5 0h2.5m1.5 2h2.5m-244.5 2h2.5m259.5 0h2.5m-46.5 2h2.5m17.5 0h2.5m3.5 0h2.5m13.5 0h2.5m-22.5 2h2.5m21.5 0h2.5m37.5 0h2.5m-64.5 2h2.5m1.5 0h2.5m9.5 0h2.5m17.5 0h2.5m-40.5 2h2.5m13.5 0h2.5m-46.5 2h2.5m19.5 0h2.5m1.5 0h2.5m1.5 0h2.5m3.5 0h2.5m9.5 0h2.5m9.5 0h2.5m19.5 0h2.5m-80.5 2h2.5m37.5 0h2.5m31.5 0h2.5m-68.5 2h2.5m21.5 0h2.5m-12.5 2h2.5m19.5 0h2.5m-46.5 2h2.5m1.5 0h2.5m-10.5 2h2.5m-12.5 4h2.5m57.5 0h2.5m11.5 0h2.5m-80.5 2h2.5m45.5 0h2.5m-178.5 2h2.5m123.5 0h2.5m5.5 0h2.5m21.5 0h2.5m57.5 0h2.5m-100.5 2h2.5m9.5 0h2.5m-174.5 2h2.5m159.5 0h2.5m1.5 0h2.5m19.5 0h2.5m19.5 0h2.5m-244.5 2h2.5m1.5 0h2.5m13.5 0h2.5m1.5 0h2.5m51.5 0h2.5m141.5 0h2.5m7.5 2h2.5m-210.5 2h2.5m13.5 0h2.5m33.5 0h2.5m1.5 0h2.5m39.5 0h2.5m67.5 0h2.5m-172.5 2h2.5m1.5 0h2.5m7.5 0h2.5m3.5 0h2.5m23.5 0h2.5m17.5 0h2.5m3.5 0h2.5m19.5 0h2.5m79.5 0h2.5m-180.5 2h2.5m47.5 0h2.5m57.5 0h2.5m-130.5 2h2.5m85.5 0h2.5m73.5 0h2.5m19.5 0h2.5m-156.5 2h2.5m31.5 0h2.5m55.5 0h2.5m1.5 0h2.5m125.5 0h2.5m-122.5 2h2.5m5.5 0h2.5m17.5 0h2.5m-128.5 2h2.5m35.5 0h2.5m13.5 0h2.5m17.5 0h2.5m13.5 0h2.5m47.5 0h2.5m9.5 0h2.5m-132.5 2h2.5m9.5 0h2.5m85.5 0h2.5m1.5 0h2.5m-38.5 2h2.5m25.5 0h2.5" stroke="#1414e0" stroke-width="2.5" fill="none"/>
<path d="M387.5 2029.3l-12 0.2l-18-1.6l-22-3.2l-28-5.3l-15-3.6l-10.6-3.6l-5.1-3l-1.6-2l-0.3-2l0.8-2l2-2l8.1-5l14.7-6.3l20-7.3l64-21l28-7.4l4-0.3l3 0.8l3 2.3l1.8 3.2l1.3 9l0 15l-0.5 8l-1.5 8l-2.4 7l-2.7 5l-3 4l-3 3.1l-4 3l-4 2.3l-5 2.1l-6 1.6z" fill="#0000ff"/>
<path d="M390.5 2027.2l-6 0.8l-5 0l-16-1l-22-3.2l-22-4.3l-15-3.6l-11-3.7l-3.9-2l-2.7-2l-1.4-2l-0.3-2l0.8-2l3.1-3l10.6-6l17.8-7.4l25-9l28-9.2l16-4.6l19-3.6l6-0.4l4 0.7l1 0.5l2 2.5l1.8 3.5l1.7 6l1.1 7l0.5 6l-0.2 7l-1.1 7l-1.5 5l-1.8 4l-3 5l-3.5 3.9l-3 2.6l-4 2.6l-5 2.3z" fill="#0030ff"/>
<path d="M390.5 2024.3l-10 0.9l-14-0.9l-18-2.7l-19-4l-13-3.7l-8.9-3.7l-3.2-2l-2-2l-1-2l0.1-2l1-2l3-3l9-5.4l16-7.2l21-7.8l18-6l15-4.2l12-1.6l5 0l4 0.6l4 1.4l4 2.8l2.7 3.4l2 4l1.6 5l0.8 6l-0.2 6l-1.1 6l-1.4 4l-2.5 5l-2.9 3.8l-3.2 3.2l-3.8 2.8l-5 2.5z" fill="#004cff"/>
<path d="M389.5 2022.3l-10 0.7l-13-0.9l-15-2.4l-16-3.7l-11.6-3.8l-7.4-3.6l-3.7-3.4l-0.9-2l0-2l1-2l2.9-3l7.7-5l14-6.6l20-7.7l16-5.2l12-3l10-0.9l8 1l4 1.5l3 1.9l3 3l2.4 4l1.8 5l0.7 5l-0.1 5l-0.9 5l-1.7 5l-2.2 4l-3 3.9l-3 2.8l-4 2.7l-4 2z" fill="#006bff"/>
<path d="M383.5 2021.2l-10-0.2l-12-1.5l-13-2.6l-12-3.4l-8.5-3.3l-5-3l-2.8-3l-0.6-2l0.1-2l1.1-2l2.9-3l9.5-6l14.3-6.5l18-6.7l12-3.6l10-2.1l9-0.3l4 0.6l4 1.2l4 2.1l3 2.8l2.5 3.5l1.6 4l0.9 4l0.1 5l-0.7 5l-1.6 5l-2.2 4l-2.2 3l-3.1 3l-3.3 2.4l-4 2.1l-5 1.7l-6 1.3z" fill="#008dff"/>
<path d="M387.5 2019.3l-9 0.4l-11-0.9l-12-2.2l-12.7-3.4l-8.3-3.2l-6-3.8l-2.4-3l-0.5-2l0.4-2l1.2-2l3-3l7.7-5l11.6-5.5l15-5.8l11-3.5l10-2.2l9-0.5l7 1.1l4 1.7l3 2l2.6 2.7l1.8 3l1.5 4l0.7 4l-0.1 4l-0.9 5l-1.5 4l-2.3 4l-2.8 3.3l-3 2.6l-7 3.8l-5 1.5z" fill="#00afff"/>
<path d="M385.5 2018.2l-8 0.1l-10-1l-11-2.1l-10.5-3l-7.2-3l-4.8-3l-2.6-3l-0.7-2l0.2-2l1-2l2.7-3l7.4-5l11.5-5.6l13-5l12-3.6l8-1.5l9-0.1l7 1.6l3 1.5l3 2.3l2.6 3.4l1.4 3l1 4l0.2 4l-0.5 4l-1.2 4l-3.5 6.2l-2.6 2.8l-3.4 2.6l-4 2.2l-4 1.5z" fill="#00d4ff"/>
<path d="M390.5 2016.2l-8 0.9l-10-0.4l-11-1.8l-10-2.7l-8-3.2l-5.9-3.8l-2.2-3l-0.4-2l0.4-2l3.1-4l7-5l10-5l12-4.7l10-3.1l8-1.6l8-0.2l7 1.2l3 1.3l3 2l2.1 2.1l2 3l1.2 3l0.6 4l-0.7 7l-2.5 6l-4.7 5.5l-6 3.9z" fill="#00faff"/>
<path d="M389.5 2015.3l-7 0.7l-9-0.4l-10-1.6l-10-2.8l-7.2-3l-4.5-3l-2.4-3l-0.5-2l0.2-2l2.8-4l5.2-4l9.3-5l11.1-4.5l10-3.1l8-1.6l8-0.2l6 1.1l3 1.2l3 1.9l2.2 2.2l1.9 3l1.6 6l-0.7 7l-2.7 6l-4.5 5l-5.8 3.6z" fill="#00ffdd"/>
<path d="M388.5 2014.4l-7 0.5l-9-0.6l-9-1.6l-8.4-2.5l-6.6-3l-4-3l-2-3l-0.2-2l0.5-2l3.2-4l5.6-4l8.9-4.6l10-3.9l8-2.3l8-1.4l7-0.1l6 1.3l5.4 3l1.9 2l1.9 3l1 3l0.4 3l-0.8 6l-2.8 5.9l-4 4.3l-6 3.6z" fill="#00ffb5"/>
<path d="M388.5 2013.3l-7 0.6l-8-0.5l-8-1.4l-8-2.4l-5.4-2.4l-4.2-3l-2.2-3l-0.3-2l0.4-2l3-4l5.5-4l7.7-4l9.5-3.8l8-2.2l7-1.2l7 0l6 1.4l5 3.1l2 2.3l1.3 2.4l1.2 5l-0.8 6l-2.7 5.5l-4.4 4.5l-5.6 3.1z" fill="#00ff8c"/>
<path d="M388.5 2012.3l-6 0.6l-8-0.4l-8-1.5l-7-2.1l-5.7-2.7l-3.8-3l-1.6-3l0.1-3l2.9-4l5.4-4l7.7-4l8-3.1l8-2.2l6-0.9l6 0l6 1.3l5 2.9l3.1 4l1.3 5l-0.8 6l-2.5 5l-4.1 4.2l-5 2.9z" fill="#00ff62"/>
<path d="M388.5 2011.3l-6 0.6l-7-0.3l-7-1.2l-7-2.1l-4.5-2.1l-4-3l-1.9-3l0-3l1.8-3l4.7-4l7.3-4l7.6-3.1l8-2.3l6-0.9l6 0.1l5.5 1.2l4.9 3l2.9 4l1 5l-0.8 5l-2.7 5l-3.8 3.7l-5 2.7z" fill="#00ff37"/>
<path d="M388.5 2010.4l-6 0.6l-7-0.4l-7-1.3l-6.2-2.1l-3.9-2l-3.6-3l-1.3-3l0.5-3l2.2-3l5.3-4l6-3.1l7-2.7l7-1.9l6-0.7l5 0.1l5.2 1.3l3.8 2.2l3 3.8l1.2 5l-0.8 5l-2.4 4.4l-3.8 3.6l-4.2 2.4z" fill="#00ff0a"/>
<path d="M389.5 2009.2l-5 0.8l-6-0.1l-7-1l-6-1.8l-4.2-1.9l-3.8-3l-1.6-3l0.4-3l2.1-3l4.1-3.2l6-3.3l7-2.7l6-1.6l6-0.7l5 0.2l4.9 1.3l4.1 2.7l2.3 3.3l0.9 4l-0.6 4l-1.9 4l-3.7 4l-4 2.4z" fill="#22ff00"/>
<path d="M389.5 2008.3l-5 0.8l-6-0.1l-6-0.9l-6-1.9l-4-2l-3.3-3l-0.9-2l0.2-3l2.1-3l3.7-3l5.5-3l6.7-2.6l6-1.5l5-0.5l5 0.3l4 1.1l3.7 2.2l2.3 3l1.1 4l-0.6 4l-2 4l-2.9 3l-3.6 2.3z" fill="#50ff00"/>
<path d="M382.5 2008.2l-9-1l-4-1.1l-4.2-1.9l-2.7-2l-1.6-2l-0.6-3l0.8-2l2.6-3l4.3-3l6.4-2.9l6-1.9l5-0.8l5 0l4 0.7l4 2l2.7 2.9l1.2 4l-0.5 4l-2.2 4l-3.2 3l-4 2.2l-5 1.4z" fill="#7fff00"/>
<path d="M383.5 2007.2l-9-0.8l-4-1.2l-4-2l-2.4-2l-1.2-2l-0.3-2l0.7-2l2.6-3l3.6-2.5l5.2-2.5l5.8-1.8l5-0.9l5 0l4 0.9l3 1.5l2.9 3.3l0.9 3l-0.6 4l-1.6 3l-2.6 2.7l-3.7 2.3l-4.3 1.4z" fill="#aeff00"/>
<path d="M384.5 2006.2l-8-0.5l-7.2-2.5l-2.7-2l-1.4-2l-0.4-2l0.6-2l2.6-3l2.8-2l4.7-2.3l5-1.6l5-0.9l4 0l4 0.8l2.3 1l2.5 2l1.5 3l0.2 3l-1.5 4l-2.7 3l-3.3 2l-4 1.4z" fill="#deff00"/>
<path d="M384.5 2005.2l-8-0.7l-6-2.3l-3-3l-0.5-2l0.5-2l1.5-2l3.5-2.6l4-2l4.3-1.4l7.7-0.9l4 0.7l2.7 1.2l2.3 2l1.2 3l-0.2 3l-1 2.3l-2.3 2.7l-2.7 1.9l-4 1.5z" fill="#ffef00"/>
<path d="M388.5 2003.5l-7 0.6l-4-0.6l-3.9-1.3l-2.1-1.3l-1.6-1.7l-0.7-2l0.5-2l1.5-2l2.6-2l6.7-2.9l6-1l6 0.9l2 1l2 2l0.8 2l-0.2 3l-0.9 2l-1.7 2.1l-2.8 1.9z" fill="#ffbe00"/>
<path d="M388.5 2002.2l-3 0.7l-4 0l-6-1.5l-2-1.2l-1.6-2l-0.3-2l0.4-1l2.8-3l5.7-2.7l6-1l5 0.7l2 1l1.8 2l0.5 2l-0.2 2l-1 2l-2 2z" fill="#ff8c00"/>
<path d="M386.5 2001.4l-5 0.2l-4.6-1.4l-2.2-2l-0.5-1l0.3-2l3-3l5-2l5-0.5l4 1.1l2.3 2.4l0.2 2l-0.5 1.6l-1 1.5l-2 1.6z" fill="#ff5a00"/>
<path d="M387.5 1999.5l-4 0.6l-3.9-0.9l-2.2-2l0-2l1.9-2l3.2-1.4l4-0.6l3 0.7l2 1.8l0 2.5l-1.6 2z" fill="#ff2700"/>
<path d="M385.5 1997.4l-3-0.3l-0.9-0.9l0.1-1l1.2-1l1.6-0.5l3 0.4l0.6 1.1l-0.4 1z" fill="#ff0000"/>
</g>
<g clip-path="url(#c31)">
<path d="M1002.8 1886.2h4.4m-54.4 14h4.4m-4.4 2h2.4m15.6 2h2.4m15.6 0h4.4m-36.4 2h8.4m5.6 0h2.4m1.6 0h2.4m21.6 0h4.4m-92.4 2h2.4m21.6 0h4.4m15.6 0h4.4m3.6 0h6.4m1.6 0h2.4m1.6 0h2.4m3.6 0h2.4m9.6 0h2.4m-84.4 2h2.4m11.6 0h2.4m11.6 0h18.4m3.6 0h2.4m5.6 0h2.4m1.6 0h10.4m9.6 0h2.4m-70.4 2h2.4m7.6 0h8.4m1.6 0h2.4m11.6 0h6.4m3.6 0h4.4m1.6 0h6.4m1.6 0h2.4m1.6 0h2.4m-82.4 2h2.4m23.6 0h2.4m1.6 0h2.4m5.6 0h2.4m5.6 0h2.4m1.6 0h12.4m1.6 0h2.4m7.6 0h4.4m1.6 0h4.4m-84.4 2h2.4m3.6 0h2.4m7.6 0h2.4m1.6 0h2.4m1.6 0h12.4m1.6 0h16.4m1.6 0h4.4m1.6 0h2.4m1.6 0h8.4m3.6 0h4.4m3.6 0h2.4m1.6 0h2.4m-86.4 2h4.4m1.6 0h6.4m1.6 0h2.4m1.6 0h4.4m1.6 0h6.4m1.6 0h32.4m1.6 0h4.4m1.6 0h10.4m1.6 0h2.4m-86.4 2h2.4m9.6 0h2.4m1.6 0h16.4m1.6 0h20.4m1.6 0h6.4m5.6 0h6.4m-88.4 2h2.4m1.6 0h4.4m1.6 0h6.4m3.6 0h12.4m1.6 0h54.4m-92.4 2h6.4m3.6 0h6.4m1.6 0h14.4m1.6 0h8.4m1.6 0h38.4m1.6 0h10.4m1.6 0h6.4m-108.4 2h6.4m1.6 0h2.4m7.6 0h2.4m3.6 0h4.4m1.6 0h64.4m1.6 0h6.4m3.6 0h2.4m-108.4 2h2.4m5.6 0h4.4m5.6 0h8.4m1.6 0h4.4m1.6 0h16.4m21.6 0h30.4m1.6 0h8.4m-104.4 2h2.4m3.6 0h30.4m31.6 0h20.4m5.6 0h4.4m1.6 0h2.4m-116.4 2h2.4m1.6 0h2.4m7.6 0h8.4m1.6 0h2.4m1.6 0h16.4m39.6 0h24.4m1.6 0h4.4m-114.4 2h8.4m7.6 0h24.4m45.6 0h14.4m1.6 0h2.4m1.6 0h6.4m-116.4 2h4.4m3.6 0h2.4m1.6 0h2.4m5.6 0h4.4m3.6 0h10.4m53.6 0h10.4m1.6 0h6.4m3.6 0h2.4m-118.4 2h2.4m5.6 0h2.4m3.6 0h2.4m1.6 0h14.4m1.6 0h2.4m57.6 0h8.4m1.6 0h10.4m1.6 0h8.4m1.6 0h2.4m-130.4 2h4.4m3.6 0h12.4m1.6 0h12.4m63.6 0h18.4m11.6 0h2.4m-128.4 2h2.4m1.6 0h4.4m1.6 0h18.4m67.6 0h16.4m-122.4 2h4.4m9.6 0h20.4m71.6 0h2.4m3.6 0h14.4m-138.4 2h4.4m7.6 0h2.4m5.6 0h22.4m75.6 0h14.4m1.6 0h4.4m1.6 0h8.4m-146.4 2h8.4m1.6 0h2.4m1.6 0h4.4m1.6 0h14.4m83.6 0h24.4m-140.4 2h2.4m1.6 0h2.4m1.6 0h4.4m1.6 0h14.4m87.6 0h12.4m7.6 0h6.4m-166.4 2h4.4m11.6 0h2.4m1.6 0h2.4m3.6 0h6.4m1.6 0h14.4m89.6 0h26.4m-154.4 2h8.4m1.6 0h4.4m1.6 0h16.4m95.6 0h12.4m1.6 0h12.4m-170.4 2h2.4m3.6 0h4.4m9.6 0h6.4m1.6 0h16.4m99.6 0h10.4m1.6 0h6.4m3.6 0h2.4m-168.4 2h2.4m3.6 0h2.4m9.6 0h2.4m1.6 0h18.4m103.6 0h12.4m1.6 0h4.4m-162.4 2h2.4m3.6 0h2.4m9.6 0h2.4m1.6 0h14.4m107.6 0h12.4m1.6 0h2.4m1.6 0h2.4m-166.4 2h2.4m1.6 0h4.4m9.6 0h10.4m1.6 0h6.4m107.6 0h14.4m5.6 0h2.4m3.6 0h2.4m-172.4 2h2.4m1.6 0h2.4m11.6 0h14.4m111.6 0h14.4m5.6 0h4.4m1.6 0h4.4m-176.4 2h6.4m11.6 0h4.4m1.6 0h6.4m113.6 0h14.4m1.6 0h4.4m1.6 0h4.4m-168.4 2h4.4m3.6 0h18.4m115.6 0h8.4m1.6 0h10.4m-172.4 2h4.4m5.6 0h2.4m9.6 0h2.4m3.6 0h6.4m117.6 0h8.4m7.6 0h2.4m-246.4 2h4.4m33.6 0h2.4m23.6 0h4.4m3.6 0h4.4m1.6 0h2.4m9.6 0h6.4m1.6 0h10.4m117.6 0h18.4m1.6 0h2.4m-210.4 2h2.4m23.6 0h2.4m15.6 0h14.4m1.6 0h6.4m119.6 0h16.4m3.6 0h6.4m-194.4 2h2.4m5.6 0h2.4m17.6 0h18.4m121.6 0h14.4m1.6 0h2.4m-186.4 2h2.4m1.6 0h4.4m1.6 0h4.4m3.6 0h4.4m3.6 0h6.4m1.6 0h10.4m121.6 0h4.4m1.6 0h8.4m1.6 0h4.4m-232.4 2h4.4m5.6 0h2.4m33.6 0h2.4m1.6 0h2.4m5.6 0h4.4m1.6 0h2.4m3.6 0h8.4m1.6 0h10.4m119.6 0h12.4m1.6 0h6.4m1.6 0h4.4m-226.4 2h2.4m37.6 0h2.4m3.6 0h2.4m1.6 0h2.4m3.6 0h10.4m1.6 0h4.4m1.6 0h4.4m119.6 0h12.4m1.6 0h6.4m-188.4 2h2.4m13.6 0h2.4m5.6 0h2.4m3.6 0h4.4m3.6 0h2.4m1.6 0h4.4m119.6 0h22.4m-190.4 2h6.4m13.6 0h4.4m1.6 0h2.4m3.6 0h2.4m1.6 0h12.4m117.6 0h10.4m1.6 0h2.4m1.6 0h2.4m1.6 0h4.4m-216.4 2h2.4m21.6 0h4.4m1.6 0h6.4m7.6 0h4.4m3.6 0h6.4m1.6 0h12.4m117.6 0h10.4m5.6 0h6.4m1.6 0h4.4m-218.4 2h2.4m31.6 0h2.4m17.6 0h6.4m1.6 0h10.4m115.6 0h14.4m5.6 0h4.4m1.6 0h2.4m5.6 0h4.4m-186.4 2h2.4m3.6 0h2.4m3.6 0h10.4m1.6 0h6.4m115.6 0h18.4m5.6 0h2.4m-172.4 2h2.4m1.6 0h12.4m1.6 0h12.4m113.6 0h8.4m5.6 0h6.4m-170.4 2h4.4m1.6 0h2.4m3.6 0h2.4m1.6 0h12.4m1.6 0h6.4m111.6 0h18.4m1.6 0h6.4m-230.4 2h4.4m53.6 0h4.4m5.6 0h10.4m1.6 0h12.4m107.6 0h12.4m1.6 0h8.4m1.6 0h4.4m-178.4 2h4.4m7.6 0h4.4m3.6 0h6.4m1.6 0h14.4m105.6 0h8.4m1.6 0h2.4m3.6 0h8.4m3.6 0h2.4m-210.4 2h2.4m35.6 0h6.4m7.6 0h4.4m1.6 0h8.4m1.6 0h6.4m101.6 0h16.4m15.6 0h2.4m-210.4 2h2.4m41.6 0h6.4m1.6 0h2.4m1.6 0h4.4m3.6 0h12.4m97.6 0h20.4m5.6 0h2.4m-152.4 2h4.4m3.6 0h2.4m1.6 0h14.4m93.6 0h20.4m9.6 0h2.4m-140.4 2h2.4m1.6 0h12.4m87.6 0h26.4m7.6 0h2.4m-144.4 2h2.4m1.6 0h6.4m3.6 0h8.4m81.6 0h24.4m3.6 0h4.4m-148.4 2h4.4m5.6 0h18.4m1.6 0h6.4m75.6 0h26.4m7.6 0h2.4m1.6 0h4.4m-152.4 2h2.4m1.6 0h4.4m7.6 0h2.4m1.6 0h16.4m69.6 0h6.4m1.6 0h12.4m1.6 0h10.4m-136.4 2h4.4m1.6 0h6.4m1.6 0h2.4m1.6 0h18.4m61.6 0h16.4m1.6 0h4.4m1.6 0h4.4m5.6 0h2.4m-136.4 2h4.4m7.6 0h4.4m1.6 0h24.4m51.6 0h10.4m1.6 0h18.4m1.6 0h4.4m3.6 0h6.4m15.6 0h4.4m-160.4 2h2.4m11.6 0h8.4m3.6 0h4.4m1.6 0h16.4m37.6 0h24.4m1.6 0h2.4m1.6 0h4.4m-110.4 2h4.4m5.6 0h42.4m7.6 0h12.4m1.6 0h4.4m1.6 0h18.4m-98.4 2h2.4m3.6 0h4.4m1.6 0h2.4m1.6 0h8.4m1.6 0h12.4m1.6 0h32.4m3.6 0h10.4m1.6 0h6.4m1.6 0h6.4m-80.4 2h2.4m1.6 0h20.4m1.6 0h34.4m1.6 0h2.4m1.6 0h8.4m5.6 0h2.4m-86.4 2h2.4m3.6 0h40.4m1.6 0h8.4m5.6 0h6.4m5.6 0h2.4m1.6 0h4.4m1.6 0h2.4m-88.4 2h4.4m5.6 0h2.4m3.6 0h14.4m1.6 0h10.4m1.6 0h16.4m5.6 0h6.4m-72.4 2h2.4m15.6 0h2.4m1.6 0h8.4m3.6 0h8.4m3.6 0h4.4m1.6 0h6.4m7.6 0h2.4m-78.4 2h4.4m23.6 0h2.4m3.6 0h2.4m9.6 0h4.4m5.6 0h2.4m3.6 0h4.4m-66.4 2h2.4m1.6 0h2.4m31.6 0h6.4m3.6 0h4.4m15.6 0h4.4m-68.4 2h2.4m11.6 0h4.4m15.6 0h6.4m-30.4 2h2.4m1.6 0h2.4m1.6 0h2.4m15.6 0h2.4m-30.4 2h4.4m5.6 0h2.4m15.6 0h4.4m-10.4 2h4.4m15.6 2h4.4" stroke="#0000ff" stroke-width="2.4" fill="none"/>
<path d="M968.8 1882.2h2.5m27.5 2h2.5m-54.5 4h2.5m17.5 0h2.5m15.5 0h2.5m-38.5 2h2.5m-0.5 2h2.5m87.5 0h2.5m-88.5 2h2.5m17.5 0h2.5m33.5 0h2.5m-34.5 2h2.5m-22.5 2h2.5m31.5 2h2.5m-110.5 2h2.5m75.5 0h2.5m31.5 0h2.5m-62.5 2h2.5m1.5 0h2.5m-10.5 2h2.5m9.5 0h2.5m1.5 0h2.5m27.5 0h2.5m13.5 0h2.5m13.5 0h2.5m-26.5 2h2.5m47.5 0h2.5m-120.5 2h2.5m7.5 0h2.5m1.5 0h2.5m49.5 0h2.5m1.5 0h2.5m5.5 0h2.5m1.5 0h2.5m-86.5 2h2.5m75.5 0h2.5m27.5 0h2.5m-156.5 2h2.5m1.5 0h2.5m33.5 0h2.5m5.5 0h2.5m87.5 0h2.5m-110.5 2h2.5m-36.5 2h2.5m157.5 0h2.5m-128.5 2h2.5m-16.5 4h2.5m109.5 0h2.5m1.5 0h2.5m3.5 4h2.5m-132.5 2h2.5m3.5 0h2.5m111.5 2h2.5m-108.5 2h2.5m-34.5 2h2.5m149.5 0h2.5m-158.5 2h2.5m147.5 0h2.5m27.5 0h2.5m-200.5 2h2.5m11.5 0h2.5m155.5 0h2.5m-140.5 2h2.5m117.5 0h2.5m1.5 0h2.5m1.5 0h2.5m-144.5 2h2.5m151.5 0h2.5m1.5 0h2.5m-170.5 4h2.5m155.5 0h2.5m25.5 0h2.5m-238.5 2h2.5m29.5 0h2.5m7.5 0h2.5m9.5 0h2.5m147.5 0h2.5m-196.5 2h2.5m189.5 0h2.5m-164.5 2h2.5m167.5 0h2.5m-8.5 2h2.5m1.5 0h2.5m9.5 0h2.5m-260.5 2h2.5m39.5 0h2.5m7.5 0h2.5m25.5 0h2.5m149.5 0h2.5m-242.5 4h2.5m59.5 0h2.5m21.5 0h2.5m-58.5 2h2.5m55.5 0h2.5m-74.5 2h2.5m9.5 0h2.5m13.5 0h2.5m11.5 0h2.5m189.5 0h2.5m-262.5 2h2.5m13.5 0h2.5m9.5 0h2.5m1.5 0h2.5m37.5 0h2.5m-82.5 2h2.5m29.5 0h2.5m23.5 0h2.5m201.5 0h2.5m-252.5 2h2.5m249.5 0h2.5m-246.5 2h2.5m59.5 0h2.5m-52.5 2h2.5m15.5 0h2.5m-60.5 2h2.5m19.5 0h2.5m253.5 0h2.5m5.5 0h2.5m-286.5 2h2.5m41.5 0h2.5m1.5 0h2.5m-38.5 2h2.5m3.5 0h2.5m21.5 0h2.5m13.5 0h2.5m5.5 0h2.5m183.5 0h2.5m-208.5 2h2.5m205.5 0h2.5m-220.5 2h2.5m213.5 0h2.5m-246.5 2h2.5m19.5 0h2.5m203.5 0h2.5m-190.5 2h2.5m21.5 0h2.5m1.5 0h2.5m5.5 0h2.5m151.5 0h2.5m-242.5 2h2.5m3.5 0h2.5m1.5 0h2.5m5.5 0h2.5m27.5 0h2.5m5.5 0h2.5m3.5 0h2.5m1.5 0h2.5m3.5 0h2.5m-48.5 2h2.5m3.5 0h2.5m17.5 0h2.5m3.5 0h2.5m189.5 0h2.5m-256.5 2h2.5m11.5 0h2.5m7.5 0h2.5m1.5 0h2.5m21.5 0h2.5m-56.5 2h2.5m43.5 0h2.5m25.5 0h2.5m175.5 0h2.5m-258.5 2h2.5m53.5 0h2.5m-12.5 2h2.5m23.5 0h2.5m161.5 0h2.5m-200.5 2h2.5m25.5 0h2.5m9.5 0h2.5m157.5 0h2.5m5.5 0h2.5m7.5 0h2.5m-176.5 2h2.5m-6.5 2h2.5m7.5 0h2.5m7.5 0h2.5m135.5 0h2.5m9.5 0h2.5m-182.5 2h2.5m21.5 0h2.5m-68.5 2h2.5m19.5 0h2.5m33.5 0h2.5m141.5 0h2.5m25.5 0h2.5m-26.5 2h2.5m15.5 0h2.5m-172.5 2h2.5m203.5 0h2.5m-192.5 2h2.5m-0.5 2h2.5m-14.5 2h2.5m121.5 0h2.5m29.5 0h2.5m-40.5 2h2.5m7.5 0h2.5m-150.5 2h2.5m29.5 0h2.5m1.5 0h2.5m-24.5 2h2.5m5.5 0h2.5m21.5 0h2.5m-8.5 2h2.5m13.5 0h2.5m83.5 0h2.5m-122.5 2h2.5m29.5 0h2.5m1.5 0h2.5m1.5 0h2.5m67.5 0h2.5m-78.5 2h2.5m-32.5 2h2.5m25.5 0h2.5m9.5 0h2.5m31.5 0h2.5m11.5 0h2.5m1.5 0h2.5m15.5 0h2.5m-114.5 2h2.5m3.5 0h2.5m1.5 0h2.5m13.5 0h2.5m17.5 0h2.5m1.5 0h2.5m15.5 0h2.5m1.5 0h2.5m5.5 0h2.5m13.5 0h2.5m17.5 0h2.5m-104.5 2h2.5m31.5 0h2.5m15.5 0h2.5m23.5 0h2.5m3.5 0h2.5m7.5 0h2.5m-110.5 2h2.5m3.5 0h2.5m55.5 0h2.5m5.5 0h2.5m27.5 0h2.5m-100.5 6h2.5m23.5 0h2.5m19.5 2h2.5m7.5 0h2.5m17.5 0h2.5m19.5 0h2.5m-62.5 2h2.5m-44.5 2h2.5m47.5 0h2.5m11.5 0h2.5m1.5 2h2.5m-62.5 6h2.5" stroke="#1414e0" stroke-width="2.5" fill="none"/>
<path d="M876 2023.2l-13-0.5l-6-1l-6-1.7l-5-2.1l-4-2.4l-4-3.3l-2.5-3l-2.3-4l-1.2-4l-0.3-4l0.5-4l1.3-4l2.7-5l0-1l7-8l10.8-8.7l14-8.5l35-15.8l20-9.7l9-3.6l12-3l6-0.6l5 0.1l5 0.8l4 1.3l3.1 1.7l2.9 2.4l3.2 4.6l2.1 6l0.7 6l-0.6 7l-0.7 3l-2.3 6l-2.7 6l-4.3 7l-4.7 6l-9.7 9l-9 7.1l-10 6.4l-11 5.8l-12 4.9l-11 3.4l-11 2.3z" fill="#0000ff"/>
<path d="M877 2021.2l-13-0.4l-11-2.6l-5-2.1l-4-2.5l-3.9-3.4l-2.3-3l-1.6-3l-1.2-4l-0.3-4l0.7-4l3.8-9l6.8-7.9l11-8.7l15-8.7l33.6-14.7l17.4-8.1l8-3.2l11-2.9l10-0.6l5 0.7l3.6 1.1l3.4 1.8l2.6 2.2l2.8 4l2.2 6l0.6 6l-0.6 6l-2.5 8l-2.7 6l-4.3 7l-4.7 6l-9.7 9l-8.7 6.8l-9 5.7l-10 5.3l-11 4.5l-10 3.2l-11 2.4z" fill="#0048ff"/>
<path d="M885 2017.3l-13 0.5l-11-1.5l-9-3.2l-4-2.5l-3-2.7l-2.7-3.7l-1.4-3l-0.7-3l0-4l1.3-5l2.8-6l4.7-5.7l4.6-4.3l5.4-4.2l7-4.5l7-3.8l11-5.1l44-17.9l10-2.8l9-0.8l7 1.2l3 1.3l3 2.2l2.5 3.4l2 5l0.7 5l-0.4 6l-2.1 7l-2.7 6l-3.7 6l-4.7 6l-7.6 7.1l-7 5.7l-8 5.4l-8 4.5l-9 4.1l-10 3.6l-8 2.1z" fill="#006cff"/>
<path d="M880 2015.2l-11-0.3l-9-2l-7.8-3.7l-2.5-2l-2.7-3l-1.7-3l-0.9-3l-0.3-3l0.5-4l3.4-8l6.1-7l4.9-4.2l6-4.2l13-7.1l14-5.9l35-13.1l9-2.4l8-0.6l4 0.5l3 0.9l4.5 3.1l2.1 3l1.6 4l0.6 4l0 4l-1.8 7l-2.4 6l-3.6 6l-4.7 6l-7.5 7l-6.8 5.5l-8 5.2l-9 4.8l-10 4.1l-9 2.8l-9 1.8z" fill="#0091ff"/>
<path d="M878 2013.2l-10-0.8l-8-2.2l-4-2l-2.8-2l-2.2-2.2l-2-2.8l-1.2-3l-0.5-3l1-6l2.7-6l3.2-4l3.8-3.7l9-6.8l13-6.9l15-6.1l31-10.7l9-2l7-0.3l5.9 1.5l3.8 3l2.4 4l1.2 5l-0.5 6l-1.3 5l-2.1 5l-3.7 6l-4 5l-6.3 6l-6.1 5l-6.3 4.3l-8 4.5l-8 3.6l-8 2.9l-8 2l-8 1.3z" fill="#00b7ff"/>
<path d="M883 2011.3l-10-0.1l-9-1.9l-7-3.4l-3-2.6l-1.7-2.1l-2-5l-0.1-3l0.4-3l3-7l5.4-6.2l9-7l12-6.6l14-5.7l22-7.2l13-3.5l8-0.9l4 0.3l2.6 0.8l2.4 1.3l1.9 1.7l2.4 4l1 4l-0.3 5l-1.2 5l-2.2 5l-3 5l-3.9 5l-5.2 5l-5.5 4.6l-6 4.3l-13 6.9l-14 4.9l-7 1.5z" fill="#00deff"/>
<path d="M888 2009.2l-10 0.6l-9-1l-7.3-2.6l-5.4-4l-1.6-2l-1.5-3l-0.5-3l0.1-3l0.8-3l2.3-5l4.3-5l7.8-6.5l10-5.8l12-5.2l15-5.1l17-4.6l10-1.8l7 0.5l3 1.3l2 1.5l2.1 2.7l1.2 3l0.3 4l-0.4 4l-1.1 4l-1.8 4l-6.3 9l-10 9.1l-6 4.2l-6 3.4l-6 2.9l-8 3.1l-7 2z" fill="#00fff9"/>
<path d="M884 2008.2l-9-0.1l-8-1.7l-6-2.9l-4.2-4.3l-1.8-5l0.4-5l2.6-6l6-6.6l8-5.9l10-5.3l12-4.8l16-4.9l13-2.9l9-0.9l6 1.2l4 3.1l1.3 2l1 5l-0.2 4l-1.2 4l-1.8 4l-3.2 5l-2.3 3l-5.6 5.3l-10 7.5l-11 5.8l-13 4.5z" fill="#00ffd1"/>
<path d="M890 2006.2l-9 0.8l-9-0.9l-7-2.4l-4.8-3.5l-1.5-2l-1.3-3l-0.2-5l2.8-7l4.3-5l7.6-6l9.1-5.1l11-4.5l14-4.4l12-2.7l10-1.1l6.2 0.8l2.8 1.4l1.9 1.6l2.2 5l0.2 3l-0.4 3l-2.7 7l-4.9 7l-9.3 8.4l-10 6.4l-12 5.2z" fill="#00ffa8"/>
<path d="M888 2005.3l-8 0.4l-8-1.1l-6.2-2.4l-2.8-2l-1.9-2l-1.8-4l0-5l2.5-6l4.4-5l6.8-5.4l9-5l10-4.1l12-3.7l11-2.4l10-1l4 0.2l3 0.7l1.5 0.7l2.3 2l1.5 2l1 3l0.1 3l-0.8 4l-1.7 4l-2.4 4l-2.3 3l-4.1 4l-8.1 6.4l-10 5.6l-11 4.1z" fill="#00ff7f"/>
<path d="M887 2004.3l-8 0.1l-7-1.2l-5-2.2l-4.2-3.8l-1.7-4l0.3-5l2.2-5l4.4-5l6.4-5l8.6-4.7l10-4l11-3.3l11-2.1l8-0.6l6 1l4.4 2.7l1.4 2l0.9 3l-0.1 3l-1 4l-1.9 4l-2.7 4l-6 6l-8 5.9l-9 4.7l-10 3.6z" fill="#00ff56"/>
<path d="M886 2003.2l-8-0.1l-6-1.4l-4.8-2.5l-3.2-3.5l-1.3-4.5l0.7-4l2.6-5l4.8-5l6.2-4.4l8-4.2l10-3.8l11-2.9l9-1.4l7-0.1l5 1l2 0.9l2.3 1.9l1.2 2l0.7 3l-0.2 3l-0.9 3l-4 7l-6.1 6l-8 5.8l-9 4.5l-10 3.3z" fill="#00ff2d"/>
<path d="M884 2002.2l-6-0.4l-6-1.7l-4-2.4l-2.7-3.5l-0.8-4l1-4l2.1-4l5.4-5.4l6-4l8-4l9-3.2l10-2.6l8-1.1l7 0.1l5 1.5l3.4 2.7l1 2l0.4 3l-0.4 3l-1.1 3l-3.9 6l-6.5 6l-7.9 5.3l-9 4.1l-9 2.6z" fill="#00ff03"/>
<path d="M892 2000.3l-7 0.8l-6-0.4l-5-1.3l-4.1-2.2l-2.6-3l-1.1-4l0.9-4l1.3-3l1.6-2l5.6-5l6.4-4l8-3.6l9-2.9l9-1.9l8-0.5l6 0.8l4 2.1l2.1 3l0.4 4l-1.6 5l-3.3 5l-6.6 6l-7.7 5l-8.3 3.7z" fill="#28ff00"/>
<path d="M892 1999.3l-7 0.7l-6-0.5l-5-1.6l-3.8-2.7l-1.8-3l-0.3-4l1.9-5l2.5-3l4.8-4l6.7-4l8-3.3l9-2.7l8-1.3l7-0.2l5 1.1l3.6 2.4l1.5 3l0 4l-1.6 4l-2.7 4l-6.6 6l-6.2 4l-8 3.6z" fill="#52ff00"/>
<path d="M892 1998.3l-6 0.6l-6-0.5l-4.1-1.2l-3.9-2.6l-2-3.2l-0.2-3.2l1.8-5l2.5-3l4.9-4l6-3.4l7-3l8-2.3l8-1.4l6-0.1l5 1.1l3.4 2.1l1.6 3l0 3l-1.3 4l-2.6 4l-5.5 5l-6.6 4.3l-8 3.6z" fill="#7dff00"/>
<path d="M892 1997.2l-6 0.6l-5-0.5l-4-1.2l-3.1-1.9l-2.1-3l-0.3-3l1.7-5l2.5-3l5.1-4l5.2-2.9l7-2.8l7-2l7-1.1l6 0l4 0.8l3.2 2l1.7 3l0 3l-1 3l-2.6 4l-5.6 5l-6.2 4l-7.5 3.2z" fill="#a8ff00"/>
<path d="M891 1996.3l-5 0.3l-5-0.6l-4-1.6l-2.5-2.2l-1-2l-0.2-3l1.5-4l2.6-3l3.7-3l5.9-3.3l6.8-2.7l6.2-1.7l6-0.9l5 0l4 0.8l3.1 1.8l1.4 2l0.3 3l-0.8 3l-2.5 4l-5.7 5l-5.8 3.6l-7 2.9z" fill="#d4ff00"/>
<path d="M891 1995.2l-5 0.2l-4-0.5l-3.9-1.7l-2.1-2l-0.8-2l0.1-3l1.1-3l2.7-3l3.9-3l5-2.7l5.9-2.3l5.1-1.4l5-0.8l5-0.1l4 0.7l3 1.7l1.3 1.9l0.3 3l-1 3l-1.9 3l-5.7 4.8l-5 3.1l-7 2.8z" fill="#ffff00"/>
<path d="M889 1994.2l-4-0.1l-3.4-0.9l-3.1-2l-1.3-2l-0.2-2l1.1-4l4-4l3.9-2.6l5-2.3l10-2.8l4-0.4l4 0.2l3.1 0.9l2.5 2l0.8 3l-0.7 3l-1.9 3l-4.7 4l-4.9 3l-4.2 1.9l-5 1.5z" fill="#ffd300"/>
<path d="M894 1992.3l-7 0.6l-3-0.6l-2.5-1.1l-1.5-1.3l-0.9-1.7l0-2l0.8-3l2.8-3l3.3-2.3l5-2.5l5-1.7l5-1l5-0.2l3.4 0.7l2.6 1.6l0.9 1.4l0.2 2l-0.5 2l-1.9 3l-7.7 5.8l-5 2.2z" fill="#ffa700"/>
<path d="M893 1991.2l-4 0.3l-2.8-0.3l-2.2-0.8l-1.7-1.2l-0.7-1l-0.4-2l0.7-3l0.8-1l5.3-4.1l4.1-1.9l4.9-1.5l4-0.7l4 0.1l3 0.8l1.8 1.3l0.6 1l0.1 2l-1.9 4l-7 5l-4.6 2z" fill="#ff7b00"/>
<path d="M895 1989.3l-5 0.6l-4-0.9l-2-2.1l0.1-3.7l1.9-2l2.8-2l7.2-2.9l7-0.6l2.3 0.5l1.6 1l0.7 1l0.1 2l-1.6 3l-5.8 4z" fill="#ff4e00"/>
<path d="M895 1987.3l-4 0.5l-2.4-0.6l-1.2-1l-0.5-3l3.5-3l5.6-2.2l5-0.4l2 0.6l1 0.9l0.2 2.1l-1.1 2l-5 3z" fill="#ff2200"/>
<path d="M898 1983.3l-4 0.7l-2.8-0.8l2.8-2l3-0.6l1.9 0.6l0.2 1z" fill="#ff0000"/>
</g>
<g clip-path="url(#c32)">
<path d="M1552.8 1882.2h2.4m-2.4 2h2.4m-52.4 6h4.4m-4.4 6h4.4m91.6 2h4.4m-46.4 2h4.4m-88.4 4h2.4m-2.4 2h2.4m69.6 0h2.4m-52.4 2h6.4m43.6 0h2.4m11.6 0h2.4m-34.4 2h4.4m25.6 0h4.4m7.6 0h6.4m-132.4 2h2.4m29.6 0h4.4m39.6 0h4.4m13.6 0h8.4m7.6 0h4.4m1.6 0h2.4m1.6 0h2.4m9.6 0h2.4m-134.4 2h2.4m19.6 0h2.4m13.6 0h4.4m23.6 0h2.4m7.6 0h2.4m5.6 0h2.4m5.6 0h4.4m3.6 0h4.4m9.6 0h2.4m3.6 0h2.4m9.6 0h2.4m-114.4 2h4.4m37.6 0h2.4m1.6 0h2.4m5.6 0h2.4m1.6 0h4.4m1.6 0h2.4m3.6 0h2.4m1.6 0h2.4m5.6 0h2.4m3.6 0h10.4m19.6 0h4.4m3.6 0h4.4m-172.4 2h6.4m15.6 0h2.4m41.6 0h2.4m15.6 0h16.4m1.6 0h8.4m1.6 0h2.4m1.6 0h4.4m1.6 0h4.4m1.6 0h2.4m1.6 0h2.4m9.6 0h4.4m9.6 0h2.4m7.6 0h4.4m-150.4 2h2.4m41.6 0h2.4m7.6 0h4.4m5.6 0h6.4m3.6 0h4.4m3.6 0h8.4m11.6 0h6.4m3.6 0h4.4m7.6 0h4.4m7.6 0h4.4m7.6 0h4.4m-92.4 2h2.4m1.6 0h2.4m1.6 0h4.4m1.6 0h4.4m1.6 0h2.4m1.6 0h6.4m3.6 0h4.4m1.6 0h2.4m1.6 0h10.4m5.6 0h6.4m5.6 0h8.4m-120.4 2h2.4m11.6 0h4.4m5.6 0h2.4m7.6 0h4.4m1.6 0h2.4m5.6 0h8.4m1.6 0h12.4m1.6 0h10.4m1.6 0h8.4m1.6 0h10.4m1.6 0h2.4m3.6 0h2.4m1.6 0h4.4m1.6 0h2.4m23.6 0h2.4m-150.4 2h2.4m7.6 0h2.4m11.6 0h2.4m1.6 0h10.4m7.6 0h2.4m1.6 0h6.4m3.6 0h40.4m1.6 0h12.4m1.6 0h4.4m1.6 0h4.4m1.6 0h2.4m17.6 0h2.4m-140.4 2h2.4m19.6 0h6.4m3.6 0h2.4m1.6 0h2.4m1.6 0h22.4m1.6 0h40.4m1.6 0h2.4m1.6 0h2.4m1.6 0h2.4m1.6 0h2.4m-142.4 2h2.4m35.6 0h6.4m1.6 0h2.4m5.6 0h16.4m1.6 0h30.4m3.6 0h14.4m1.6 0h8.4m1.6 0h2.4m7.6 0h2.4m-212.4 2h2.4m5.6 0h2.4m57.6 0h4.4m11.6 0h4.4m7.6 0h6.4m1.6 0h4.4m5.6 0h2.4m5.6 0h4.4m1.6 0h56.4m1.6 0h8.4m1.6 0h2.4m5.6 0h4.4m1.6 0h2.4m5.6 0h2.4m-220.4 2h2.4m5.6 0h2.4m37.6 0h4.4m49.6 0h8.4m1.6 0h6.4m1.6 0h70.4m1.6 0h2.4m1.6 0h2.4m3.6 0h6.4m9.6 0h2.4m-190.4 2h4.4m55.6 0h4.4m7.6 0h2.4m3.6 0h6.4m1.6 0h22.4m1.6 0h50.4m1.6 0h8.4m1.6 0h8.4m5.6 0h2.4m11.6 0h4.4m-258.4 2h4.4m65.6 0h2.4m39.6 0h2.4m11.6 0h2.4m1.6 0h6.4m1.6 0h30.4m23.6 0h30.4m1.6 0h4.4m1.6 0h2.4m3.6 0h2.4m1.6 0h2.4m3.6 0h2.4m-292.4 2h4.4m109.6 0h2.4m1.6 0h4.4m33.6 0h2.4m1.6 0h6.4m1.6 0h24.4m3.6 0h10.4m35.6 0h18.4m1.6 0h6.4m3.6 0h6.4m1.6 0h2.4m7.6 0h2.4m-292.4 2h2.4m17.6 0h4.4m95.6 0h2.4m39.6 0h4.4m1.6 0h8.4m1.6 0h22.4m43.6 0h18.4m1.6 0h16.4m1.6 0h2.4m-152.4 2h2.4m23.6 0h6.4m1.6 0h8.4m1.6 0h20.4m51.6 0h14.4m3.6 0h2.4m1.6 0h14.4m-214.4 2h2.4m11.6 0h4.4m5.6 0h2.4m7.6 0h4.4m9.6 0h4.4m9.6 0h6.4m7.6 0h2.4m1.6 0h4.4m3.6 0h32.4m57.6 0h8.4m1.6 0h16.4m1.6 0h8.4m-246.4 2h4.4m27.6 0h4.4m13.6 0h2.4m3.6 0h2.4m9.6 0h2.4m35.6 0h4.4m11.6 0h2.4m1.6 0h2.4m1.6 0h18.4m63.6 0h18.4m1.6 0h4.4m1.6 0h4.4m3.6 0h2.4m-276.4 2h4.4m23.6 0h2.4m41.6 0h2.4m3.6 0h4.4m1.6 0h2.4m47.6 0h2.4m9.6 0h26.4m69.6 0h8.4m1.6 0h8.4m3.6 0h2.4m5.6 0h4.4m35.6 0h2.4m-286.4 2h2.4m9.6 0h4.4m5.6 0h4.4m11.6 0h2.4m1.6 0h4.4m1.6 0h8.4m7.6 0h2.4m5.6 0h2.4m5.6 0h4.4m5.6 0h4.4m13.6 0h2.4m5.6 0h24.4m73.6 0h24.4m1.6 0h4.4m39.6 0h2.4m-280.4 2h2.4m5.6 0h8.4m1.6 0h2.4m5.6 0h8.4m1.6 0h8.4m1.6 0h4.4m7.6 0h2.4m5.6 0h2.4m3.6 0h2.4m13.6 0h2.4m1.6 0h2.4m7.6 0h8.4m3.6 0h16.4m79.6 0h18.4m1.6 0h2.4m7.6 0h2.4m1.6 0h2.4m-270.4 2h2.4m13.6 0h2.4m5.6 0h4.4m5.6 0h2.4m1.6 0h6.4m5.6 0h18.4m5.6 0h4.4m1.6 0h2.4m3.6 0h2.4m1.6 0h2.4m1.6 0h4.4m13.6 0h6.4m5.6 0h2.4m1.6 0h8.4m1.6 0h12.4m83.6 0h16.4m1.6 0h4.4m7.6 0h6.4m-270.4 2h2.4m11.6 0h4.4m5.6 0h2.4m5.6 0h2.4m5.6 0h16.4m1.6 0h2.4m5.6 0h2.4m1.6 0h12.4m3.6 0h2.4m7.6 0h2.4m5.6 0h2.4m7.6 0h2.4m3.6 0h2.4m1.6 0h22.4m87.6 0h16.4m3.6 0h4.4m5.6 0h2.4m-286.4 2h2.4m19.6 0h2.4m9.6 0h2.4m3.6 0h14.4m5.6 0h6.4m1.6 0h6.4m3.6 0h16.4m1.6 0h14.4m5.6 0h4.4m1.6 0h6.4m1.6 0h6.4m1.6 0h22.4m1.6 0h2.4m89.6 0h16.4m1.6 0h2.4m1.6 0h2.4m3.6 0h2.4m-284.4 2h2.4m19.6 0h2.4m7.6 0h10.4m1.6 0h8.4m1.6 0h52.4m1.6 0h8.4m3.6 0h4.4m5.6 0h6.4m3.6 0h4.4m1.6 0h14.4m93.6 0h26.4m1.6 0h2.4m-270.4 2h4.4m1.6 0h4.4m3.6 0h2.4m1.6 0h4.4m1.6 0h32.4m1.6 0h16.4m1.6 0h2.4m1.6 0h4.4m1.6 0h4.4m3.6 0h4.4m1.6 0h12.4m1.6 0h4.4m1.6 0h2.4m5.6 0h4.4m1.6 0h8.4m97.6 0h26.4m1.6 0h2.4m1.6 0h4.4m-286.4 2h2.4m9.6 0h4.4m1.6 0h2.4m3.6 0h4.4m1.6 0h4.4m3.6 0h16.4m1.6 0h56.4m1.6 0h4.4m5.6 0h2.4m1.6 0h22.4m99.6 0h18.4m13.6 0h2.4m-292.4 2h4.4m3.6 0h2.4m9.6 0h2.4m3.6 0h4.4m1.6 0h2.4m1.6 0h30.4m29.6 0h22.4m3.6 0h4.4m3.6 0h8.4m1.6 0h14.4m103.6 0h10.4m1.6 0h2.4m1.6 0h10.4m-270.4 2h2.4m1.6 0h6.4m1.6 0h30.4m47.6 0h22.4m3.6 0h2.4m1.6 0h2.4m1.6 0h4.4m1.6 0h8.4m103.6 0h20.4m1.6 0h4.4m7.6 0h2.4m-288.4 2h2.4m7.6 0h12.4m1.6 0h20.4m61.6 0h22.4m1.6 0h16.4m105.6 0h20.4m3.6 0h2.4m7.6 0h2.4m-288.4 2h4.4m3.6 0h6.4m1.6 0h2.4m1.6 0h18.4m71.6 0h6.4m1.6 0h26.4m107.6 0h18.4m-270.4 2h34.4m81.6 0h26.4m107.6 0h12.4m1.6 0h6.4m1.6 0h2.4m1.6 0h2.4m-288.4 2h4.4m7.6 0h4.4m5.6 0h18.4m89.6 0h20.4m109.6 0h4.4m1.6 0h10.4m1.6 0h2.4m1.6 0h2.4m1.6 0h4.4m-324.4 2h4.4m27.6 0h6.4m5.6 0h26.4m97.6 0h12.4m111.6 0h12.4m1.6 0h8.4m1.6 0h4.4m9.6 0h4.4m-312.4 2h4.4m11.6 0h4.4m1.6 0h2.4m1.6 0h20.4m223.6 0h18.4m1.6 0h2.4m-282.4 2h12.4m5.6 0h14.4m225.6 0h18.4m3.6 0h4.4m1.6 0h2.4m-300.4 2h6.4m3.6 0h2.4m3.6 0h2.4m3.6 0h2.4m1.6 0h2.4m1.6 0h12.4m227.6 0h10.4m1.6 0h2.4m1.6 0h8.4m3.6 0h2.4m-298.4 2h2.4m3.6 0h4.4m5.6 0h22.4m227.6 0h4.4m1.6 0h10.4m3.6 0h2.4m-282.4 2h6.4m1.6 0h2.4m3.6 0h8.4m1.6 0h6.4m227.6 0h6.4m1.6 0h10.4m-280.4 2h2.4m9.6 0h2.4m1.6 0h4.4m1.6 0h10.4m227.6 0h30.4m-314.4 2h2.4m15.6 0h2.4m3.6 0h2.4m5.6 0h4.4m3.6 0h2.4m1.6 0h2.4m1.6 0h8.4m227.6 0h20.4m1.6 0h2.4m1.6 0h2.4m-314.4 2h4.4m15.6 0h6.4m3.6 0h6.4m1.6 0h18.4m227.6 0h16.4m1.6 0h4.4m1.6 0h2.4m1.6 0h2.4m-292.4 2h2.4m3.6 0h4.4m3.6 0h4.4m1.6 0h8.4m1.6 0h4.4m225.6 0h16.4m1.6 0h4.4m11.6 0h10.4m-302.4 2h6.4m5.6 0h18.4m225.6 0h16.4m3.6 0h4.4m19.6 0h2.4m-302.4 2h2.4m1.6 0h6.4m3.6 0h16.4m223.6 0h12.4m1.6 0h8.4m1.6 0h2.4m1.6 0h2.4m-282.4 2h6.4m1.6 0h20.4m221.6 0h4.4m1.6 0h10.4m1.6 0h8.4m3.6 0h4.4m7.6 0h4.4m-292.4 2h2.4m5.6 0h12.4m1.6 0h2.4m219.6 0h8.4m1.6 0h16.4m5.6 0h4.4m-294.4 2h2.4m11.6 0h2.4m1.6 0h4.4m1.6 0h14.4m217.6 0h20.4m1.6 0h2.4m3.6 0h2.4m3.6 0h6.4m-296.4 2h2.4m11.6 0h4.4m1.6 0h4.4m1.6 0h12.4m215.6 0h10.4m3.6 0h6.4m9.6 0h6.4m-278.4 2h4.4m3.6 0h2.4m1.6 0h14.4m213.6 0h14.4m1.6 0h2.4m1.6 0h4.4m5.6 0h2.4m1.6 0h2.4m-268.4 2h4.4m1.6 0h12.4m211.6 0h18.4m1.6 0h4.4m3.6 0h2.4m1.6 0h2.4m-256.4 2h10.4m209.6 0h16.4m1.6 0h2.4m1.6 0h10.4m-268.4 2h4.4m1.6 0h22.4m203.6 0h4.4m1.6 0h28.4m-266.4 2h2.4m9.6 0h8.4m1.6 0h8.4m199.6 0h20.4m3.6 0h6.4m-260.4 2h2.4m5.6 0h22.4m115.6 0h8.4m73.6 0h16.4m7.6 0h2.4m1.6 0h4.4m-252.4 2h10.4m1.6 0h12.4m109.6 0h6.4m1.6 0h8.4m65.6 0h20.4m3.6 0h6.4m3.6 0h2.4m-242.4 2h16.4m103.6 0h24.4m59.6 0h10.4m1.6 0h2.4m3.6 0h8.4m3.6 0h4.4m7.6 0h4.4m-252.4 2h20.4m99.6 0h30.4m49.6 0h14.4m1.6 0h8.4m1.6 0h4.4m13.6 0h4.4m-246.4 2h22.4m91.6 0h38.4m41.6 0h2.4m1.6 0h18.4m3.6 0h2.4m1.6 0h2.4m17.6 0h2.4m-246.4 2h2.4m1.6 0h20.4m85.6 0h6.4m1.6 0h10.4m1.6 0h26.4m31.6 0h28.4m3.6 0h2.4m9.6 0h4.4m1.6 0h2.4m-242.4 2h2.4m1.6 0h4.4m1.6 0h2.4m1.6 0h16.4m77.6 0h16.4m1.6 0h42.4m13.6 0h8.4m1.6 0h4.4m1.6 0h18.4m5.6 0h2.4m15.6 0h2.4m1.6 0h4.4m-256.4 2h4.4m3.6 0h6.4m7.6 0h16.4m1.6 0h2.4m69.6 0h12.4m1.6 0h12.4m5.6 0h76.4m3.6 0h2.4m-218.4 2h4.4m1.6 0h4.4m1.6 0h28.4m57.6 0h12.4m1.6 0h2.4m1.6 0h4.4m3.6 0h4.4m3.6 0h2.4m1.6 0h26.4m1.6 0h8.4m1.6 0h32.4m1.6 0h6.4m1.6 0h2.4m-218.4 2h6.4m1.6 0h2.4m1.6 0h2.4m3.6 0h4.4m1.6 0h8.4m1.6 0h14.4m41.6 0h10.4m1.6 0h2.4m1.6 0h4.4m1.6 0h2.4m1.6 0h10.4m3.6 0h4.4m1.6 0h52.4m1.6 0h12.4m1.6 0h10.4m3.6 0h2.4m11.6 0h4.4m-234.4 2h6.4m5.6 0h2.4m1.6 0h10.4m1.6 0h82.4m1.6 0h6.4m1.6 0h2.4m7.6 0h4.4m3.6 0h46.4m1.6 0h16.4m5.6 0h2.4m3.6 0h4.4m11.6 0h2.4m-220.4 2h4.4m1.6 0h4.4m3.6 0h6.4m1.6 0h56.4m3.6 0h14.4m5.6 0h4.4m1.6 0h2.4m3.6 0h4.4m5.6 0h6.4m3.6 0h8.4m3.6 0h8.4m1.6 0h8.4m1.6 0h12.4m5.6 0h6.4m5.6 0h4.4m-214.4 2h4.4m3.6 0h2.4m9.6 0h4.4m1.6 0h2.4m1.6 0h2.4m5.6 0h8.4m1.6 0h30.4m3.6 0h4.4m1.6 0h6.4m5.6 0h4.4m9.6 0h2.4m7.6 0h2.4m1.6 0h6.4m5.6 0h4.4m5.6 0h24.4m1.6 0h2.4m3.6 0h2.4m1.6 0h2.4m7.6 0h2.4m1.6 0h2.4m1.6 0h2.4m3.6 0h4.4m-214.4 2h2.4m5.6 0h2.4m15.6 0h2.4m9.6 0h6.4m1.6 0h16.4m1.6 0h4.4m1.6 0h6.4m1.6 0h18.4m3.6 0h4.4m1.6 0h2.4m5.6 0h2.4m7.6 0h4.4m3.6 0h6.4m1.6 0h4.4m1.6 0h2.4m1.6 0h6.4m1.6 0h2.4m5.6 0h4.4m1.6 0h4.4m5.6 0h2.4m1.6 0h4.4m1.6 0h8.4m1.6 0h4.4m9.6 0h6.4m-184.4 2h10.4m3.6 0h22.4m1.6 0h2.4m1.6 0h4.4m5.6 0h2.4m9.6 0h2.4m1.6 0h2.4m37.6 0h4.4m3.6 0h2.4m1.6 0h4.4m1.6 0h4.4m3.6 0h2.4m5.6 0h4.4m1.6 0h4.4m1.6 0h2.4m1.6 0h2.4m-170.4 2h12.4m1.6 0h2.4m1.6 0h2.4m1.6 0h16.4m5.6 0h10.4m67.6 0h4.4m3.6 0h2.4m3.6 0h2.4m5.6 0h8.4m1.6 0h2.4m1.6 0h2.4m3.6 0h2.4m1.6 0h4.4m-168.4 2h2.4m1.6 0h4.4m1.6 0h2.4m1.6 0h6.4m1.6 0h16.4m1.6 0h6.4m73.6 0h2.4m19.6 0h4.4m3.6 0h2.4m3.6 0h2.4m-158.4 2h4.4m13.6 0h2.4m1.6 0h2.4m3.6 0h2.4m5.6 0h4.4m57.6 0h6.4m5.6 0h2.4m23.6 0h2.4m17.6 0h2.4m-134.4 2h8.4m5.6 0h2.4m69.6 0h2.4m17.6 0h2.4m3.6 0h2.4m5.6 0h2.4m-152.4 2h4.4m19.6 0h4.4m3.6 0h2.4m101.6 0h2.4m11.6 0h2.4m-128.4 2h4.4m3.6 0h4.4m119.6 2h4.4m-24.4 6h2.4m-2.4 2h2.4" stroke="#0000ff" stroke-width="2.4" fill="none"/>
<path d="M1594.8 1850.2h2.5m17.5 6h2.5m-120.5 14h2.5m57.5 0h2.5m51.5 0h2.5m-158.5 2h2.5m1.5 0h2.5m25.5 0h2.5m73.5 2h2.5m-82.5 2h2.5m73.5 2h2.5m47.5 0h2.5m25.5 2h2.5m-172.5 4h2.5m71.5 0h2.5m85.5 0h2.5m-146.5 2h2.5m19.5 0h2.5m51.5 0h2.5m1.5 0h2.5m9.5 0h2.5m39.5 0h2.5m-162.5 2h2.5m55.5 0h2.5m67.5 0h2.5m-238.5 2h2.5m5.5 0h2.5m101.5 0h2.5m47.5 0h2.5m41.5 0h2.5m-104.5 2h2.5m51.5 0h2.5m31.5 0h2.5m29.5 0h2.5m-128.5 2h2.5m65.5 0h2.5m1.5 0h2.5m31.5 0h2.5m7.5 0h2.5m21.5 0h2.5m-182.5 4h2.5m25.5 0h2.5m15.5 0h2.5m85.5 0h2.5m9.5 0h2.5m9.5 0h2.5m-176.5 2h2.5m39.5 0h2.5m81.5 0h2.5m23.5 0h2.5m23.5 0h2.5m1.5 0h2.5m45.5 0h2.5m-208.5 2h2.5m57.5 0h2.5m17.5 0h2.5m29.5 0h2.5m3.5 0h2.5m15.5 0h2.5m9.5 0h2.5m11.5 0h2.5m3.5 0h2.5m5.5 0h2.5m-202.5 2h2.5m27.5 0h2.5m3.5 0h2.5m69.5 0h2.5m3.5 0h2.5m5.5 0h2.5m19.5 0h2.5m15.5 0h2.5m37.5 0h2.5m-180.5 2h2.5m49.5 0h2.5m39.5 0h2.5m3.5 0h2.5m9.5 0h2.5m3.5 0h2.5m11.5 0h2.5m17.5 0h2.5m1.5 0h2.5m5.5 0h2.5m21.5 0h2.5m3.5 0h2.5m-268.5 2h2.5m87.5 0h2.5m13.5 0h2.5m5.5 0h2.5m3.5 0h2.5m11.5 0h2.5m41.5 0h2.5m5.5 0h2.5m21.5 0h2.5m5.5 0h2.5m-172.5 2h2.5m11.5 0h2.5m169.5 0h2.5m1.5 0h2.5m25.5 0h2.5m-240.5 2h2.5m43.5 0h2.5m15.5 0h2.5m17.5 0h2.5m53.5 0h2.5m9.5 0h2.5m-178.5 2h2.5m59.5 0h2.5m13.5 0h2.5m5.5 0h2.5m15.5 0h2.5m41.5 0h2.5m3.5 0h2.5m25.5 0h2.5m53.5 0h2.5m19.5 0h2.5m-178.5 2h2.5m23.5 0h2.5m33.5 0h2.5m43.5 0h2.5m27.5 0h2.5m3.5 0h2.5m15.5 0h2.5m13.5 0h2.5m-250.5 2h2.5m127.5 0h2.5m65.5 0h2.5m11.5 0h2.5m-226.5 2h2.5m1.5 0h2.5m33.5 0h2.5m13.5 0h2.5m27.5 0h2.5m17.5 0h2.5m15.5 0h2.5m1.5 0h2.5m9.5 0h2.5m41.5 0h2.5m3.5 0h2.5m29.5 0h2.5m49.5 0h2.5m-244.5 2h2.5m31.5 0h2.5m65.5 0h2.5m1.5 0h2.5m95.5 0h2.5m7.5 0h2.5m-180.5 2h2.5m1.5 0h2.5m9.5 0h2.5m45.5 0h2.5m-114.5 2h2.5m73.5 0h2.5m157.5 0h2.5m-350.5 2h2.5m69.5 0h2.5m15.5 0h2.5m15.5 0h2.5m67.5 0h2.5m155.5 0h2.5m3.5 0h2.5m-284.5 2h2.5m73.5 0h2.5m23.5 0h2.5m1.5 0h2.5m47.5 0h2.5m7.5 0h2.5m127.5 0h2.5m3.5 0h2.5m-260.5 2h2.5m49.5 0h2.5m5.5 0h2.5m3.5 0h2.5m69.5 0h2.5m93.5 0h2.5m7.5 0h2.5m45.5 0h2.5m-340.5 2h2.5m21.5 0h2.5m77.5 0h2.5m47.5 0h2.5m3.5 0h2.5m115.5 0h2.5m-248.5 2h2.5m5.5 0h2.5m27.5 0h2.5m37.5 0h2.5m19.5 0h2.5m3.5 0h2.5m21.5 0h2.5m121.5 0h2.5m17.5 0h2.5m-284.5 2h2.5m11.5 0h2.5m17.5 0h2.5m27.5 0h2.5m29.5 0h2.5m17.5 0h2.5m21.5 0h2.5m-150.5 2h2.5m31.5 0h2.5m9.5 0h2.5m13.5 0h2.5m3.5 0h2.5m15.5 0h2.5m21.5 0h2.5m5.5 0h2.5m9.5 0h2.5m1.5 0h2.5m143.5 0h2.5m1.5 0h2.5m5.5 0h2.5m-254.5 2h2.5m9.5 0h2.5m5.5 0h2.5m13.5 0h2.5m37.5 0h2.5m1.5 0h2.5m145.5 0h2.5m3.5 0h2.5m-214.5 2h2.5m25.5 0h2.5m1.5 0h2.5m1.5 0h2.5m21.5 0h2.5m11.5 0h2.5m143.5 0h2.5m-358.5 2h2.5m19.5 0h2.5m19.5 0h2.5m37.5 0h2.5m15.5 0h2.5m15.5 0h2.5m33.5 0h2.5m187.5 0h2.5m-292.5 2h2.5m47.5 0h2.5m71.5 0h2.5m27.5 0h2.5m131.5 0h2.5m3.5 0h2.5m7.5 0h2.5m-252.5 2h2.5m75.5 0h2.5m13.5 0h2.5m1.5 0h2.5m-204.5 2h2.5m63.5 0h2.5m5.5 0h2.5m41.5 0h2.5m25.5 0h2.5m35.5 0h2.5m159.5 0h2.5m-272.5 2h2.5m1.5 0h2.5m15.5 0h2.5m15.5 0h2.5m55.5 0h2.5m177.5 0h2.5m-348.5 2h2.5m33.5 0h2.5m13.5 0h2.5m37.5 0h2.5m225.5 0h2.5m-224.5 2h2.5m231.5 0h2.5m25.5 0h2.5m-312.5 2h2.5m5.5 0h2.5m7.5 0h2.5m1.5 0h2.5m-42.5 2h2.5m-20.5 2h2.5m21.5 0h2.5m7.5 0h2.5m-30.5 2h2.5m331.5 0h2.5m-378.5 2h2.5m69.5 0h2.5m1.5 0h2.5m305.5 0h2.5m-338.5 2h2.5m293.5 0h2.5m-368.5 4h2.5m67.5 0h2.5m5.5 0h2.5m287.5 0h2.5m-340.5 2h2.5m19.5 0h2.5m5.5 0h2.5m9.5 0h2.5m291.5 0h2.5m-302.5 2h2.5m1.5 0h2.5m307.5 0h2.5m-310.5 4h2.5m289.5 0h2.5m11.5 0h2.5m-336.5 2h2.5m-32.5 2h2.5m31.5 0h2.5m317.5 0h2.5m1.5 0h2.5m-16.5 2h2.5m-328.5 2h2.5m-4.5 2h2.5m341.5 0h2.5m-374.5 2h2.5m45.5 0h2.5m313.5 2h2.5m-22.5 2h2.5m1.5 0h2.5m25.5 2h2.5m-338.5 2h2.5m13.5 0h2.5m293.5 0h2.5m-296.5 2h2.5m-0.5 2h2.5m289.5 0h2.5m19.5 2h2.5m-336.5 2h2.5m3.5 0h2.5m15.5 0h2.5m289.5 0h2.5m-308.5 2h2.5m291.5 0h2.5m-368.5 2h2.5m71.5 0h2.5m15.5 0h2.5m-12.5 2h2.5m281.5 0h2.5m-284.5 2h2.5m-12.5 2h2.5m277.5 0h2.5m5.5 0h2.5m3.5 2h2.5m-292.5 2h2.5m5.5 0h2.5m-0.5 2h2.5m3.5 0h2.5m-40.5 2h2.5m279.5 0h2.5m3.5 0h2.5m-252.5 2h2.5m237.5 0h2.5m5.5 0h2.5m35.5 0h2.5m-302.5 2h2.5m249.5 0h2.5m-250.5 2h2.5m13.5 0h2.5m219.5 0h2.5m5.5 0h2.5m-232.5 4h2.5m221.5 0h2.5m3.5 2h2.5m31.5 0h2.5m-274.5 2h2.5m1.5 0h2.5m1.5 0h2.5m11.5 2h2.5m99.5 0h2.5m113.5 0h2.5m3.5 0h2.5m-224.5 2h2.5m19.5 0h2.5m83.5 0h2.5m99.5 0h2.5m-114.5 2h2.5m65.5 0h2.5m-182.5 2h2.5m5.5 0h2.5m7.5 0h2.5m5.5 0h2.5m69.5 0h2.5m-76.5 2h2.5m59.5 0h2.5m55.5 0h2.5m65.5 0h2.5m3.5 0h2.5m-216.5 2h2.5m11.5 0h2.5m5.5 0h2.5m55.5 0h2.5m1.5 0h2.5m15.5 0h2.5m49.5 0h2.5m35.5 0h2.5m39.5 0h2.5m-216.5 2h2.5m125.5 0h2.5m1.5 0h2.5m7.5 0h2.5m5.5 0h2.5m5.5 0h2.5m15.5 0h2.5m-162.5 2h2.5m37.5 0h2.5m1.5 0h2.5m15.5 0h2.5m5.5 0h2.5m25.5 0h2.5m9.5 0h2.5m5.5 0h2.5m23.5 0h2.5m11.5 0h2.5m5.5 0h2.5m-164.5 2h2.5m35.5 0h2.5m9.5 0h2.5m11.5 0h2.5m83.5 0h2.5m7.5 0h2.5m15.5 0h2.5m-158.5 2h2.5m29.5 0h2.5m53.5 0h2.5m59.5 0h2.5m-216.5 2h2.5m3.5 0h2.5m31.5 0h2.5m1.5 0h2.5m81.5 0h2.5m13.5 0h2.5m11.5 0h2.5m51.5 0h2.5m-40.5 2h2.5m71.5 0h2.5m-178.5 2h2.5m75.5 2h2.5m19.5 0h2.5m15.5 0h2.5m-102.5 2h2.5m7.5 0h2.5m39.5 2h2.5m21.5 0h2.5m-50.5 10h2.5m43.5 0h2.5m-118.5 4h2.5m117.5 4h2.5" stroke="#1414e0" stroke-width="2.5" fill="none"/>
<path d="M1396 2042.3l-9 0.7l-9 0l-8-0.5l-9-1.4l-7-1.7l-8-2.7l-6-2.7l-6-3.7l-5-4.1l-3.5-4l-2.9-5l-1.4-4l-0.5-4l0.2-4l-0.4-1l1.9-6l2.8-5l4.2-5l4.6-4.2l6-4.2l7-3.9l8-3.4l8-2.6l9-2l8-1.3l15-0.6l14 1.5l12 3.4l19 8.1l4 0.8l4-0.4l5-2.6l11-8.9l7-5l14-8.1l18-9.1l11-5l9-3.2l8-1.9l6-0.8l6-0.1l6 0.7l5 1.3l4 1.7l4.4 2.8l3.2 3l2.9 4l1.8 4l1 4l0.3 4l-0.3 5l-0.8 4l-2.3 6l-4.7 9l-8.1 11l-14.1 15l-11.3 9.8l-12 7.7l-9 4.2l-8 2.5l-8 1.5l-9 0.2l-6-0.7l-7-1.8l-7-2.8l-11-5.7l-4-1.1l-3-0.1l-6 1.8l-15 7.9l-9 3.9l-10 3z" fill="#0000ff"/>
<path d="M1392 2041.2l-8 0.4l-9-0.2l-8-0.9l-8-1.5l-7-1.9l-6-2.3l-6-3l-5.4-3.6l-4.4-4l-3.1-4l-2.5-5l-1-4l0-6l-0.4-1l0.5-2l1.9-5l3.3-5l4.1-4.6l5.3-4.4l6.7-4.2l7-3.4l7-2.7l8-2.3l9-1.8l9-1.1l13 0l13 2l12 3.9l18 8.7l4 0.9l3-0.4l5-2.6l17-14l13-7.8l17-8.6l13-5.9l9-3.2l9-2.2l6-0.7l5 0l5 0.6l5 1.3l4 1.8l4 2.7l3 3l2.6 4l2.2 7l0.2 4l-0.5 5l-3.5 10l-5.2 9l-6.7 9l-8.2 9l-7 7l-10.9 8.9l-11 6.7l-8 3.5l-8 2.3l-8 1.2l-8-0.1l-6-0.9l-6-1.8l-6-2.6l-12-6.7l-4-1.2l-3 0.1l-5 1.7l-15 8.9l-10 4.6l-12 3.6z" fill="#0058ff"/>
<path d="M1387 2039.2l-15-0.5l-8-1.2l-7-1.7l-7-2.4l-6-2.8l-5-3.2l-3.9-3.2l-3.5-4l-2.7-5l-1.3-5l-0.2-6l2.6-7l5.1-7l4.9-4.4l6-4.1l6-3.2l7-2.9l7-2.2l8-1.8l8-1.1l9-0.5l13 0.9l12 3l11 4.9l15 9.4l3 1.1l3 0l2-0.7l3-2.1l13-12.7l5.7-4.6l5.3-3.5l9-5l13-6.3l11-4.9l10-3.7l7-1.9l6-0.9l6-0.2l6 0.7l5 1.7l4 2.2l3.2 2.8l2.8 4.1l1.2 2.9l0.8 4l0.1 4l-0.6 4l-3.3 9l-4.6 8l-6.8 9l-13.1 14l-10.7 8.8l-10 5.9l-8 3.4l-8 2.2l-8 0.8l-8-0.6l-6-1.4l-5-1.9l-6-3.3l-11-7.7l-3-1.3l-3-0.1l-5 2.3l-16 11.7l-10 5.1l-7 2.5l-7 1.8l-7 1.2z" fill="#007aff"/>
<path d="M1388 2037.2l-15-0.4l-13-2.4l-6-1.9l-6-2.6l-4.8-2.7l-3.9-3l-3-3l-2.8-4l-1.8-4l-0.7-4l-0.1-5l0.8-3l2.4-5l3-4l4.9-4.7l6-4.2l7-3.7l7-2.7l8-2.3l10-1.9l9-0.7l8 0.2l7 0.8l7 1.6l7 2.5l6 2.9l5.1 3.2l5.2 4l6.3 6l5.4 6l2 1.2l2-1.8l6.4-9.4l5.5-7l4.8-5l5.3-4.6l6-4.2l8-4.5l23-10.4l8-2.9l8-2.3l7-1.1l6 0l5.6 1l4.8 2l3.9 3l2.9 4l1.7 6l-0.2 6l-3.1 9l-5.8 10l-8.8 11l-9.8 10l-9.2 7.3l-9 5.2l-9 3.5l-8 1.7l-8 0.3l-8-1.3l-7-2.7l-6-3.7l-7-6.3l-6.5-8l-3.5-1.3l-3.3 1.3l-5.6 8l-6.7 7l-5.4 4.3l-6 3.8l-7 3.4l-9 3l-9 1.8z" fill="#009dff"/>
<path d="M1494 2024.3l-9 0.1l-5-0.9l-4.2-1.3l-7.8-4.3l-3.2-2.7l-3.5-4l-4-7l-0.4-5l0.8-4l1.2-3l5.1-8l7.6-8l9.9-7l13.5-6.8l17-6.9l12-3.4l9-1l4 0.2l4 0.9l3 1.2l2.9 1.8l2.8 3l1.6 3l0.9 4l0 4l-1.6 6l-2.1 5l-3.4 6l-4.9 7l-11.2 12.5l-5 4.5l-6 4.5l-6 3.7l-6 2.7l-6 2.1zM1392 2035.3l-14 0.2l-14-1.9l-6-1.7l-6-2.3l-5-2.7l-4-2.7l-3.3-3l-3-4l-1.5-3l-1.1-4l-0.2-6l0.5-2l1.7-4l2.6-4l3.3-3.6l4-3.4l5-3.3l6-3.1l12-4.2l14-2.5l13-0.2l12 1.8l11 4l8.9 5.5l4.5 4l3.4 4l2.3 4l1.1 3l0.2 4l-2 5l-2.3 4l-3.2 4l-4.2 4l-4.7 3.6l-6 3.5l-6 2.6l-6 2z" fill="#00c1ff"/>
<path d="M1490 2022.2l-8-0.8l-8-2.9l-6-4.4l-4.7-5.9l-1.9-4l-0.4-2l0.3-7l2.6-6l4.1-6l3.8-4l4.2-3.6l10.1-6.4l11.9-5.5l13-4.9l11-3.1l8-0.9l7 0.7l3 1.1l3 1.8l2.6 2.8l1.8 4l0.4 4l-0.7 4l-1.5 5l-2.4 5l-3.6 6l-4.4 6l-10.3 11l-4.9 4.2l-6 4.2l-6 3.2l-6 2.3l-6 1.5zM1396 2033.3l-14 0.9l-13-1.3l-12-3.2l-9-4.5l-4-3l-2.9-3l-2.1-3l-1.7-4l-0.6-3l-0.1-5l1.2-4l1.6-3l3-4l3-3l8.6-5.9l11-4.8l12-3l12-1.2l12 0.7l11 2.7l5 2.1l5 2.7l4 2.9l4 3.8l3.1 4l1.5 3l1.1 4l0.1 3l-2.6 7l-2.6 4l-3.7 4l-3.9 3.3l-5 3.3l-5 2.5l-6 2.4z" fill="#00e7ff"/>
<path d="M1497 2019.2l-8 0.7l-8-1.2l-7-3.2l-5-4.3l-2.2-3l-2.1-4l-0.7-5l1-6l3.7-7l5.3-6.1l7.7-5.9l9.3-5.1l13-5.3l12-3.7l9-1.6l8 0.3l3 0.9l2.7 1.5l2.3 2.1l1.6 2.9l0.7 3l-0.3 4l-0.9 4l-1.9 5l-6 10l-8.4 10l-9.2 8l-9.6 5.7zM1393 2032.3l-13 0.4l-12-1.5l-11-3.3l-8.6-4.7l-3.6-3l-2.5-3l-1.7-3l-1.1-3l-0.5-7l1.3-4l2.3-4l2.5-3l3.9-3.6l9-5.5l11-4.2l12-2.5l11-0.7l11 1.1l10 3l9 4.9l4 3.3l2.9 3.2l2 3l1.6 4l0.5 5l-1.5 5l-2.1 4l-3.1 4l-3.2 3l-8.1 5.5l-10 4.1z" fill="#00fff0"/>
<path d="M1496 2017.2l-7 0.5l-7-1.1l-6-2.8l-5.2-4.6l-3-5l-0.8-3l-0.1-3l0.3-3l0.9-3l3.3-6l5.6-6l6-4.4l9-4.8l11-4.5l11-3.2l9-1.4l7 0.4l5 2.1l2 1.9l1.5 2.9l0 7l-2.7 8l-6.2 10l-8 9l-7.6 6.3l-9 5zM1391 2031.2l-12 0.1l-11-1.5l-10-3.1l-8-4.5l-3.4-3l-2.5-3l-1.6-3l-0.9-3l0-7l1.6-4l1.9-3l5.9-6l9-5.4l11-4.1l11-2.1l11-0.5l11 1.4l9 2.9l8.2 4.8l3.4 3l2.5 3l2.2 4l1 3l0.3 4l-1.4 5l-2.1 4l-3.1 3.8l-3.4 3.2l-8.6 5.4l-10 3.7z" fill="#00ffc9"/>
<path d="M1495 2015.3l-7 0.2l-6-1.3l-5.5-3l-4-4l-2.5-5l-0.4-5l1.1-5l3.4-6l4.8-5l5.5-4l7.6-4.1l10-4l10-2.7l8-1.1l6 0.3l5 1.9l1.9 1.7l1.2 3l0.4 3l-0.2 3l-2.8 8l-5.6 9l-7.4 8l-7.5 5.8l-8 4.1zM1387 2030.2l-11-0.4l-10-1.9l-9-3.3l-6.7-4.4l-4.4-5l-1.5-3l-0.7-3l0.1-6l1.6-4l2-3l6.3-6l8.3-4.8l10-3.6l11-2.1l10-0.4l10 1.3l9 3l7.8 4.6l3.3 3l2.4 3l2 4l0.8 3l0.1 3l-1 4l-3.2 6l-2.6 3l-3.6 3.1l-4.4 2.9l-4.6 2.3l-10 3.2z" fill="#00ffa0"/>
<path d="M1495 2013.2l-6 0.2l-5.7-1.2l-4.3-2.2l-4-3.8l-2.2-4l-0.6-5l1-5l2.8-5l4.8-5l5.2-3.7l7-3.7l8-3l9.9-2.6l7.1-0.7l6 0.7l3.4 2l1.6 1.8l1 2.2l0.1 5l-2.3 7l-4.8 8l-6.5 7l-6.5 5.1l-7.6 3.9zM1395 2028.3l-11 0.8l-11-0.9l-10-2.6l-8-3.9l-5.3-4.5l-2.2-3l-1.3-3l-0.6-7l0.9-3l1.7-3l2.3-3l3.1-3l7.4-4.8l9-3.7l10-2.3l10-0.9l9 0.6l9 2.3l7.8 3.8l5.9 5l2.2 3l1.5 3l0.8 3l0.2 3l-2.3 7l-4.7 6l-6.7 5l-8.7 3.9z" fill="#00ff77"/>
<path d="M1494 2011.2l-5 0l-5-1.2l-4-2.3l-3.3-3.5l-1.7-4l-0.1-5l1.3-4l2.6-4l3.9-4l5.3-3.7l6-2.9l7-2.6l8-1.8l6-0.4l5 0.7l3.5 1.7l2.1 3l0.5 2l-0.1 3l-1.8 6l-4.2 7l-5.5 6l-6.5 4.9l-7 3.5zM1394 2027.3l-11 0.6l-10-1l-9-2.3l-8-4.1l-5-4.5l-1.8-2.8l-1.2-3l-0.4-6l1-3l1.7-3l4.7-5.2l7.3-4.8l8.7-3.5l10-2.3l9-0.7l9 0.7l8 2l7.7 3.8l5.7 5l2.1 3l1.3 3l0.7 5l-2.4 7l-2 3l-2.9 3l-6.2 4.5l-8 3.5z" fill="#00ff4d"/>
<path d="M1498 2008.3l-5 0.8l-5-0.4l-4-1.5l-3.9-3l-1.8-3l-0.8-4l0.5-4l2.1-4l3.5-4l3.9-3l5.5-3l6-2.3l6-1.5l6-0.6l4.3 0.4l3.7 1.5l2.3 2.5l0.7 4l-1.1 5l-2.9 5.5l-4.7 5.5l-4.3 3.7l-5.5 3.3zM1393 2026.3l-10 0.5l-10-1.1l-9-2.6l-7-3.7l-2.6-2.2l-2.4-2.9l-2.1-5.1l-0.3-5l1-3l1.7-3l4.8-5l6.9-4.4l8-3.2l10-2.2l9-0.6l8 0.8l8 2.2l7 3.7l5.1 4.7l1.9 3l1.2 3l0.5 4l-1.1 4l-1.4 3l-4.2 5.2l-6.8 4.8l-7.2 3.1z" fill="#00ff22"/>
<path d="M1496 2006.3l-4 0.3l-4-0.6l-3.7-1.8l-2-2l-1.6-3l-0.4-4l0.9-3l1.8-3l3-3.1l4-2.9l4-2l5-1.9l5-1.1l4-0.3l4 0.4l3 1.2l2.4 2.7l0.5 3l-0.9 4l-2.6 5l-4.4 4.9l-4 3.1l-5 2.7zM1393 2025.2l-10 0.5l-9-1l-8-2.2l-6.6-3.3l-4.5-4l-2.8-5l-0.5-6l2.1-5l4.5-5l6-4l7.8-3.3l9-2.2l9-0.8l8 0.7l8 2.2l6 3l5.1 4.4l2.9 5l0.9 5l-2 6l-3.7 5l-6.2 4.7l-7.4 3.3z" fill="#0aff00"/>
<path d="M1498 2003.2l-4 0.7l-3-0.2l-3-1l-2-1.3l-2-3.2l-0.5-3l1.5-4l2-2.6l2.9-2.4l7.1-3.6l4-1.1l4-0.4l3 0.3l3 1.1l1.7 1.7l0.7 3l-0.5 3l-1.5 3l-1.3 2l-4.3 4l-3.8 2.4zM1392 2024.2l-9 0.4l-8-0.9l-8-2.2l-6.4-3.3l-4.3-4l-2.5-5l-0.3-5l2.2-5l4.3-4.6l6-3.9l8-3.2l8-1.8l8-0.6l8 0.7l7 1.9l6.6 3.5l4.4 4.2l1.8 2.8l1 3l0.3 3l-1.1 4l-1.5 3l-4.4 5l-5.1 3.4l-7 2.9z" fill="#36ff00"/>
<path d="M1496 2000.3l-4-0.2l-3.1-1.9l-1.3-3l0.4-2l1.1-2l3.9-3.4l5-2.2l5-0.6l2 0.3l1.8 0.9l0.8 1l0.6 2l-0.3 2l-1.6 3l-4.8 4zM1391 2023.2l-8 0.3l-8-1l-7.8-2.3l-5.4-3l-4.1-4l-1.8-4l-0.4-5l2.3-5l4.2-4.3l5.8-3.7l7.2-2.8l8-1.7l8-0.5l7 0.8l7 2.1l5.6 3.1l4 4l2.4 5l0.3 3l-1.1 4l-1.5 3l-3.7 4.1l-5.9 3.9l-7.1 2.7z" fill="#62ff00"/>
<path d="M1389 2022.3l-8-0.1l-7-1.1l-7-2.5l-5-3.3l-3.3-4.1l-1.1-4l0.1-4l3-5l4.6-4l5.7-3l7-2.4l8-1.3l7 0l7 1.2l6 2.3l4.7 3.2l3.2 4l1.6 5l-1.1 5l-2.4 4l-4.4 4l-5.4 3l-6.2 2z" fill="#8fff00"/>
<path d="M1387 2021.2l-7-0.3l-6-1.2l-6-2.2l-4-2.6l-3.1-3.7l-1.3-4l0.2-4l2.3-4l4.3-4l5.4-3l6.2-2.1l7-1.3l7-0.2l6 0.9l5.3 1.7l5 3l3.7 4l1.5 4l0.2 2l-0.8 3l-2.1 4l-4.1 4l-5.7 3.2l-7 2.1z" fill="#bdff00"/>
<path d="M1394 2019.2l-6 0.8l-7-0.2l-7-1.5l-5.1-2.1l-4.1-3l-2.6-4l-0.6-5l1.3-3l3.1-3.7l4-2.8l5.4-2.5l6.6-1.7l6-0.7l6 0.2l5.5 1.2l4.7 2l4 3l2.8 4l0.8 4l-1.2 4l-2.7 4l-3.7 3l-4.2 2.2z" fill="#ebff00"/>
<path d="M1392 2018.3l-6 0.4l-6.6-0.5l-5.4-1.4l-5-2.5l-3.3-3.1l-1.4-3l-0.5-4l1.4-3l2.6-3l4.3-3l4.9-2.1l6-1.5l6-0.6l5 0.3l5 1.2l5 2.4l3.6 3.3l1.7 3l0.6 3l-1.4 4l-2.5 3.6l-4 3l-5 2.3z" fill="#ffe400"/>
<path d="M1389 2017.3l-6-0.1l-5-0.8l-4-1.3l-4-2.4l-2.3-2.5l-1.2-3l-0.3-3l2.2-4l3.5-3l4.1-2.1l5-1.7l6-0.9l5 0l4.1 0.7l4.9 1.9l3 2l2.6 3.1l1.1 4l-1.4 4l-1.3 2l-3 2.7l-4 2.3l-4 1.3z" fill="#ffb500"/>
<path d="M1392 2015.3l-5 0.5l-5-0.3l-4-0.9l-4-1.7l-3-2.4l-1.4-2.3l-0.8-4l0.9-2l2.7-3l3.1-2l4.5-1.9l4-0.9l5-0.5l4 0.3l4 1l3 1.4l3.3 2.6l1.7 2.9l0.4 2.1l-1.1 3l-2 3l-2.4 2l-3.9 2z" fill="#ff8500"/>
<path d="M1393 2013.2l-4 0.8l-4 0l-4-0.6l-3.5-1.2l-3.1-2l-1.5-2l-1-4l0.4-1l1.4-2l2.4-2l3.9-1.9l3-0.9l7-0.7l3.7 0.5l3.3 1.1l4 2.9l1.2 2l0.5 2l-1.9 4l-1.8 2l-3 1.9z" fill="#ff5500"/>
<path d="M1391 2011.3l-6 0.3l-5.1-1.4l-1.9-1.4l-1.2-1.6l-0.2-2l-0.9-1l0.5-1l3.4-3l5.4-1.9l5-0.4l5.1 1.3l2.8 2l1.4 3l-1 1l-0.7 2l-1.6 1.8l-2 1.3z" fill="#ff2500"/>
<path d="M1389 2006.3l-2.4-0.1l-0.8-1l-3.6-1l2.7-2l3.1-0.6l3 0.4l2 1.2l0.6 1l-3.5 1z" fill="#ff0000"/>
</g>
<rect x="223.1" y="523.0" width="2.4" height="36" fill="#00d060" opacity="0.8"/>
<rect x="713.6" y="517.5" width="2.4" height="38" fill="#00d060" opacity="0.8"/>
<rect x="1205.6" y="522.5" width="2.4" height="30" fill="#0090ff" opacity="0.8"/>
<rect x="223.1" y="1002.5" width="2.4" height="30" fill="#00e070" opacity="0.8"/>
<rect x="223.1" y="1506.0" width="2.4" height="30" fill="#00c8ff" opacity="0.8"/>
<rect x="223.1" y="1996.2" width="2.4" height="30" fill="#0060ff" opacity="0.8"/>
</g>
<g filter="url(#b2)">
<line x1="403.7" y1="298.2" x2="403.7" y2="2262.0" stroke="#dc5862" stroke-width="2.2" stroke-dasharray="14 8.8"/>
<line x1="894.2" y1="298.2" x2="894.2" y2="2262.0" stroke="#dc5862" stroke-width="2.2" stroke-dasharray="14 8.8"/>
<line x1="1387.5" y1="298.2" x2="1387.5" y2="2262.0" stroke="#dc5862" stroke-width="2.2" stroke-dasharray="14 8.8"/>
<line x1="222.5" y1="291.8" x2="222.5" y2="2264.5" stroke="#1c1c1c" stroke-width="3"/>
<line x1="713.0" y1="291.8" x2="713.0" y2="2264.5" stroke="#1c1c1c" stroke-width="3"/>
<line x1="1205.0" y1="291.8" x2="1205.0" y2="2264.5" stroke="#1c1c1c" stroke-width="3"/>
<line x1="1696.5" y1="291.8" x2="1696.5" y2="2264.5" stroke="#1c1c1c" stroke-width="2.2"/>
<line x1="210.0" y1="293.0" x2="1697.6" y2="293.0" stroke="#1c1c1c" stroke-width="2.6"/>
<line x1="210.0" y1="786.5" x2="1697.6" y2="786.5" stroke="#1c1c1c" stroke-width="3.2"/>
<line x1="210.0" y1="1278.0" x2="1697.6" y2="1278.0" stroke="#1c1c1c" stroke-width="3.2"/>
<line x1="210.0" y1="1771.2" x2="1697.6" y2="1771.2" stroke="#1c1c1c" stroke-width="3.2"/>
<line x1="210.0" y1="2263.0" x2="1697.6" y2="2263.0" stroke="#1c1c1c" stroke-width="3.2"/>
<g stroke="#1c1c1c"><line x1="210.0" y1="293.0" x2="222.5" y2="293.0" stroke-width="3.6"/><line x1="216.7" y1="378.9" x2="222.5" y2="378.9" stroke-width="3"/><line x1="216.7" y1="357.3" x2="222.5" y2="357.3" stroke-width="3"/><line x1="216.7" y1="341.9" x2="222.5" y2="341.9" stroke-width="3"/><line x1="213.0" y1="330.0" x2="222.5" y2="330.0" stroke-width="3"/><line x1="216.7" y1="320.3" x2="222.5" y2="320.3" stroke-width="3"/><line x1="216.7" y1="312.0" x2="222.5" y2="312.0" stroke-width="3"/><line x1="216.7" y1="304.9" x2="222.5" y2="304.9" stroke-width="3"/><line x1="216.7" y1="298.6" x2="222.5" y2="298.6" stroke-width="3"/><line x1="210.0" y1="415.9" x2="222.5" y2="415.9" stroke-width="3.6"/><line x1="216.7" y1="503.6" x2="222.5" y2="503.6" stroke-width="3"/><line x1="216.7" y1="481.5" x2="222.5" y2="481.5" stroke-width="3"/><line x1="216.7" y1="465.8" x2="222.5" y2="465.8" stroke-width="3"/><line x1="213.0" y1="453.6" x2="222.5" y2="453.6" stroke-width="3"/><line x1="216.7" y1="443.7" x2="222.5" y2="443.7" stroke-width="3"/><line x1="216.7" y1="435.3" x2="222.5" y2="435.3" stroke-width="3"/><line x1="216.7" y1="428.1" x2="222.5" y2="428.1" stroke-width="3"/><line x1="216.7" y1="421.6" x2="222.5" y2="421.6" stroke-width="3"/><line x1="210.0" y1="541.3" x2="222.5" y2="541.3" stroke-width="3.6"/><line x1="216.7" y1="627.1" x2="222.5" y2="627.1" stroke-width="3"/><line x1="216.7" y1="605.5" x2="222.5" y2="605.5" stroke-width="3"/><line x1="216.7" y1="590.1" x2="222.5" y2="590.1" stroke-width="3"/><line x1="213.0" y1="578.2" x2="222.5" y2="578.2" stroke-width="3"/><line x1="216.7" y1="568.5" x2="222.5" y2="568.5" stroke-width="3"/><line x1="216.7" y1="560.3" x2="222.5" y2="560.3" stroke-width="3"/><line x1="216.7" y1="553.2" x2="222.5" y2="553.2" stroke-width="3"/><line x1="216.7" y1="546.9" x2="222.5" y2="546.9" stroke-width="3"/><line x1="210.0" y1="664.0" x2="222.5" y2="664.0" stroke-width="3.6"/><line x1="216.7" y1="749.6" x2="222.5" y2="749.6" stroke-width="3"/><line x1="216.7" y1="728.1" x2="222.5" y2="728.1" stroke-width="3"/><line x1="216.7" y1="712.7" x2="222.5" y2="712.7" stroke-width="3"/><line x1="213.0" y1="700.9" x2="222.5" y2="700.9" stroke-width="3"/><line x1="216.7" y1="691.2" x2="222.5" y2="691.2" stroke-width="3"/><line x1="216.7" y1="683.0" x2="222.5" y2="683.0" stroke-width="3"/><line x1="216.7" y1="675.9" x2="222.5" y2="675.9" stroke-width="3"/><line x1="216.7" y1="669.6" x2="222.5" y2="669.6" stroke-width="3"/><line x1="700.5" y1="293.0" x2="713.0" y2="293.0" stroke-width="3.6"/><line x1="707.2" y1="378.9" x2="713.0" y2="378.9" stroke-width="3"/><line x1="707.2" y1="357.3" x2="713.0" y2="357.3" stroke-width="3"/><line x1="707.2" y1="341.9" x2="713.0" y2="341.9" stroke-width="3"/><line x1="703.5" y1="330.0" x2="713.0" y2="330.0" stroke-width="3"/><line x1="707.2" y1="320.3" x2="713.0" y2="320.3" stroke-width="3"/><line x1="707.2" y1="312.0" x2="713.0" y2="312.0" stroke-width="3"/><line x1="707.2" y1="304.9" x2="713.0" y2="304.9" stroke-width="3"/><line x1="707.2" y1="298.6" x2="713.0" y2="298.6" stroke-width="3"/><line x1="700.5" y1="415.9" x2="713.0" y2="415.9" stroke-width="3.6"/><line x1="707.2" y1="503.6" x2="713.0" y2="503.6" stroke-width="3"/><line x1="707.2" y1="481.5" x2="713.0" y2="481.5" stroke-width="3"/><line x1="707.2" y1="465.8" x2="713.0" y2="465.8" stroke-width="3"/><line x1="703.5" y1="453.6" x2="713.0" y2="453.6" stroke-width="3"/><line x1="707.2" y1="443.7" x2="713.0" y2="443.7" stroke-width="3"/><line x1="707.2" y1="435.3" x2="713.0" y2="435.3" stroke-width="3"/><line x1="707.2" y1="428.1" x2="713.0" y2="428.1" stroke-width="3"/><line x1="707.2" y1="421.6" x2="713.0" y2="421.6" stroke-width="3"/><line x1="700.5" y1="541.3" x2="713.0" y2="541.3" stroke-width="3.6"/><line x1="707.2" y1="627.1" x2="713.0" y2="627.1" stroke-width="3"/><line x1="707.2" y1="605.5" x2="713.0" y2="605.5" stroke-width="3"/><line x1="707.2" y1="590.1" x2="713.0" y2="590.1" stroke-width="3"/><line x1="703.5" y1="578.2" x2="713.0" y2="578.2" stroke-width="3"/><line x1="707.2" y1="568.5" x2="713.0" y2="568.5" stroke-width="3"/><line x1="707.2" y1="560.3" x2="713.0" y2="560.3" stroke-width="3"/><line x1="707.2" y1="553.2" x2="713.0" y2="553.2" stroke-width="3"/><line x1="707.2" y1="546.9" x2="713.0" y2="546.9" stroke-width="3"/><line x1="700.5" y1="664.0" x2="713.0" y2="664.0" stroke-width="3.6"/><line x1="707.2" y1="749.6" x2="713.0" y2="749.6" stroke-width="3"/><line x1="707.2" y1="728.1" x2="713.0" y2="728.1" stroke-width="3"/><line x1="707.2" y1="712.7" x2="713.0" y2="712.7" stroke-width="3"/><line x1="703.5" y1="700.9" x2="713.0" y2="700.9" stroke-width="3"/><line x1="707.2" y1="691.2" x2="713.0" y2="691.2" stroke-width="3"/><line x1="707.2" y1="683.0" x2="713.0" y2="683.0" stroke-width="3"/><line x1="707.2" y1="675.9" x2="713.0" y2="675.9" stroke-width="3"/><line x1="707.2" y1="669.6" x2="713.0" y2="669.6" stroke-width="3"/><line x1="1192.5" y1="293.0" x2="1205.0" y2="293.0" stroke-width="3.6"/><line x1="1199.2" y1="378.9" x2="1205.0" y2="378.9" stroke-width="3"/><line x1="1199.2" y1="357.3" x2="1205.0" y2="357.3" stroke-width="3"/><line x1="1199.2" y1="341.9" x2="1205.0" y2="341.9" stroke-width="3"/><line x1="1195.5" y1="330.0" x2="1205.0" y2="330.0" stroke-width="3"/><line x1="1199.2" y1="320.3" x2="1205.0" y2="320.3" stroke-width="3"/><line x1="1199.2" y1="312.0" x2="1205.0" y2="312.0" stroke-width="3"/><line x1="1199.2" y1="304.9" x2="1205.0" y2="304.9" stroke-width="3"/><line x1="1199.2" y1="298.6" x2="1205.0" y2="298.6" stroke-width="3"/><line x1="1192.5" y1="415.9" x2="1205.0" y2="415.9" stroke-width="3.6"/><line x1="1199.2" y1="503.6" x2="1205.0" y2="503.6" stroke-width="3"/><line x1="1199.2" y1="481.5" x2="1205.0" y2="481.5" stroke-width="3"/><line x1="1199.2" y1="465.8" x2="1205.0" y2="465.8" stroke-width="3"/><line x1="1195.5" y1="453.6" x2="1205.0" y2="453.6" stroke-width="3"/><line x1="1199.2" y1="443.7" x2="1205.0" y2="443.7" stroke-width="3"/><line x1="1199.2" y1="435.3" x2="1205.0" y2="435.3" stroke-width="3"/><line x1="1199.2" y1="428.1" x2="1205.0" y2="428.1" stroke-width="3"/><line x1="1199.2" y1="421.6" x2="1205.0" y2="421.6" stroke-width="3"/><line x1="1192.5" y1="541.3" x2="1205.0" y2="541.3" stroke-width="3.6"/><line x1="1199.2" y1="627.1" x2="1205.0" y2="627.1" stroke-width="3"/><line x1="1199.2" y1="605.5" x2="1205.0" y2="605.5" stroke-width="3"/><line x1="1199.2" y1="590.1" x2="1205.0" y2="590.1" stroke-width="3"/><line x1="1195.5" y1="578.2" x2="1205.0" y2="578.2" stroke-width="3"/><line x1="1199.2" y1="568.5" x2="1205.0" y2="568.5" stroke-width="3"/><line x1="1199.2" y1="560.3" x2="1205.0" y2="560.3" stroke-width="3"/><line x1="1199.2" y1="553.2" x2="1205.0" y2="553.2" stroke-width="3"/><line x1="1199.2" y1="546.9" x2="1205.0" y2="546.9" stroke-width="3"/><line x1="1192.5" y1="664.0" x2="1205.0" y2="664.0" stroke-width="3.6"/><line x1="1199.2" y1="749.6" x2="1205.0" y2="749.6" stroke-width="3"/><line x1="1199.2" y1="728.1" x2="1205.0" y2="728.1" stroke-width="3"/><line x1="1199.2" y1="712.7" x2="1205.0" y2="712.7" stroke-width="3"/><line x1="1195.5" y1="700.9" x2="1205.0" y2="700.9" stroke-width="3"/><line x1="1199.2" y1="691.2" x2="1205.0" y2="691.2" stroke-width="3"/><line x1="1199.2" y1="683.0" x2="1205.0" y2="683.0" stroke-width="3"/><line x1="1199.2" y1="675.9" x2="1205.0" y2="675.9" stroke-width="3"/><line x1="1199.2" y1="669.6" x2="1205.0" y2="669.6" stroke-width="3"/><line x1="210.0" y1="786.5" x2="222.5" y2="786.5" stroke-width="3.6"/><line x1="216.7" y1="872.1" x2="222.5" y2="872.1" stroke-width="3"/><line x1="216.7" y1="850.5" x2="222.5" y2="850.5" stroke-width="3"/><line x1="216.7" y1="835.2" x2="222.5" y2="835.2" stroke-width="3"/><line x1="213.0" y1="823.3" x2="222.5" y2="823.3" stroke-width="3"/><line x1="216.7" y1="813.7" x2="222.5" y2="813.7" stroke-width="3"/><line x1="216.7" y1="805.5" x2="222.5" y2="805.5" stroke-width="3"/><line x1="216.7" y1="798.4" x2="222.5" y2="798.4" stroke-width="3"/><line x1="216.7" y1="792.1" x2="222.5" y2="792.1" stroke-width="3"/><line x1="210.0" y1="908.9" x2="222.5" y2="908.9" stroke-width="3.6"/><line x1="216.7" y1="996.2" x2="222.5" y2="996.2" stroke-width="3"/><line x1="216.7" y1="974.2" x2="222.5" y2="974.2" stroke-width="3"/><line x1="216.7" y1="958.6" x2="222.5" y2="958.6" stroke-width="3"/><line x1="213.0" y1="946.5" x2="222.5" y2="946.5" stroke-width="3"/><line x1="216.7" y1="936.6" x2="222.5" y2="936.6" stroke-width="3"/><line x1="216.7" y1="928.2" x2="222.5" y2="928.2" stroke-width="3"/><line x1="216.7" y1="921.0" x2="222.5" y2="921.0" stroke-width="3"/><line x1="216.7" y1="914.6" x2="222.5" y2="914.6" stroke-width="3"/><line x1="210.0" y1="1033.8" x2="222.5" y2="1033.8" stroke-width="3.6"/><line x1="216.7" y1="1119.2" x2="222.5" y2="1119.2" stroke-width="3"/><line x1="216.7" y1="1097.7" x2="222.5" y2="1097.7" stroke-width="3"/><line x1="216.7" y1="1082.4" x2="222.5" y2="1082.4" stroke-width="3"/><line x1="213.0" y1="1070.6" x2="222.5" y2="1070.6" stroke-width="3"/><line x1="216.7" y1="1060.9" x2="222.5" y2="1060.9" stroke-width="3"/><line x1="216.7" y1="1052.7" x2="222.5" y2="1052.7" stroke-width="3"/><line x1="216.7" y1="1045.6" x2="222.5" y2="1045.6" stroke-width="3"/><line x1="216.7" y1="1039.4" x2="222.5" y2="1039.4" stroke-width="3"/><line x1="210.0" y1="1156.0" x2="222.5" y2="1156.0" stroke-width="3.6"/><line x1="216.7" y1="1241.3" x2="222.5" y2="1241.3" stroke-width="3"/><line x1="216.7" y1="1219.8" x2="222.5" y2="1219.8" stroke-width="3"/><line x1="216.7" y1="1204.5" x2="222.5" y2="1204.5" stroke-width="3"/><line x1="213.0" y1="1192.7" x2="222.5" y2="1192.7" stroke-width="3"/><line x1="216.7" y1="1183.1" x2="222.5" y2="1183.1" stroke-width="3"/><line x1="216.7" y1="1174.9" x2="222.5" y2="1174.9" stroke-width="3"/><line x1="216.7" y1="1167.8" x2="222.5" y2="1167.8" stroke-width="3"/><line x1="216.7" y1="1161.6" x2="222.5" y2="1161.6" stroke-width="3"/><line x1="700.5" y1="786.5" x2="713.0" y2="786.5" stroke-width="3.6"/><line x1="707.2" y1="872.1" x2="713.0" y2="872.1" stroke-width="3"/><line x1="707.2" y1="850.5" x2="713.0" y2="850.5" stroke-width="3"/><line x1="707.2" y1="835.2" x2="713.0" y2="835.2" stroke-width="3"/><line x1="703.5" y1="823.3" x2="713.0" y2="823.3" stroke-width="3"/><line x1="707.2" y1="813.7" x2="713.0" y2="813.7" stroke-width="3"/><line x1="707.2" y1="805.5" x2="713.0" y2="805.5" stroke-width="3"/><line x1="707.2" y1="798.4" x2="713.0" y2="798.4" stroke-width="3"/><line x1="707.2" y1="792.1" x2="713.0" y2="792.1" stroke-width="3"/><line x1="700.5" y1="908.9" x2="713.0" y2="908.9" stroke-width="3.6"/><line x1="707.2" y1="996.2" x2="713.0" y2="996.2" stroke-width="3"/><line x1="707.2" y1="974.2" x2="713.0" y2="974.2" stroke-width="3"/><line x1="707.2" y1="958.6" x2="713.0" y2="958.6" stroke-width="3"/><line x1="703.5" y1="946.5" x2="713.0" y2="946.5" stroke-width="3"/><line x1="707.2" y1="936.6" x2="713.0" y2="936.6" stroke-width="3"/><line x1="707.2" y1="928.2" x2="713.0" y2="928.2" stroke-width="3"/><line x1="707.2" y1="921.0" x2="713.0" y2="921.0" stroke-width="3"/><line x1="707.2" y1="914.6" x2="713.0" y2="914.6" stroke-width="3"/><line x1="700.5" y1="1033.8" x2="713.0" y2="1033.8" stroke-width="3.6"/><line x1="707.2" y1="1119.2" x2="713.0" y2="1119.2" stroke-width="3"/><line x1="707.2" y1="1097.7" x2="713.0" y2="1097.7" stroke-width="3"/><line x1="707.2" y1="1082.4" x2="713.0" y2="1082.4" stroke-width="3"/><line x1="703.5" y1="1070.6" x2="713.0" y2="1070.6" stroke-width="3"/><line x1="707.2" y1="1060.9" x2="713.0" y2="1060.9" stroke-width="3"/><line x1="707.2" y1="1052.7" x2="713.0" y2="1052.7" stroke-width="3"/><line x1="707.2" y1="1045.6" x2="713.0" y2="1045.6" stroke-width="3"/><line x1="707.2" y1="1039.4" x2="713.0" y2="1039.4" stroke-width="3"/><line x1="700.5" y1="1156.0" x2="713.0" y2="1156.0" stroke-width="3.6"/><line x1="707.2" y1="1241.3" x2="713.0" y2="1241.3" stroke-width="3"/><line x1="707.2" y1="1219.8" x2="713.0" y2="1219.8" stroke-width="3"/><line x1="707.2" y1="1204.5" x2="713.0" y2="1204.5" stroke-width="3"/><line x1="703.5" y1="1192.7" x2="713.0" y2="1192.7" stroke-width="3"/><line x1="707.2" y1="1183.1" x2="713.0" y2="1183.1" stroke-width="3"/><line x1="707.2" y1="1174.9" x2="713.0" y2="1174.9" stroke-width="3"/><line x1="707.2" y1="1167.8" x2="713.0" y2="1167.8" stroke-width="3"/><line x1="707.2" y1="1161.6" x2="713.0" y2="1161.6" stroke-width="3"/><line x1="1192.5" y1="786.5" x2="1205.0" y2="786.5" stroke-width="3.6"/><line x1="1199.2" y1="872.1" x2="1205.0" y2="872.1" stroke-width="3"/><line x1="1199.2" y1="850.5" x2="1205.0" y2="850.5" stroke-width="3"/><line x1="1199.2" y1="835.2" x2="1205.0" y2="835.2" stroke-width="3"/><line x1="1195.5" y1="823.3" x2="1205.0" y2="823.3" stroke-width="3"/><line x1="1199.2" y1="813.7" x2="1205.0" y2="813.7" stroke-width="3"/><line x1="1199.2" y1="805.5" x2="1205.0" y2="805.5" stroke-width="3"/><line x1="1199.2" y1="798.4" x2="1205.0" y2="798.4" stroke-width="3"/><line x1="1199.2" y1="792.1" x2="1205.0" y2="792.1" stroke-width="3"/><line x1="1192.5" y1="908.9" x2="1205.0" y2="908.9" stroke-width="3.6"/><line x1="1199.2" y1="996.2" x2="1205.0" y2="996.2" stroke-width="3"/><line x1="1199.2" y1="974.2" x2="1205.0" y2="974.2" stroke-width="3"/><line x1="1199.2" y1="958.6" x2="1205.0" y2="958.6" stroke-width="3"/><line x1="1195.5" y1="946.5" x2="1205.0" y2="946.5" stroke-width="3"/><line x1="1199.2" y1="936.6" x2="1205.0" y2="936.6" stroke-width="3"/><line x1="1199.2" y1="928.2" x2="1205.0" y2="928.2" stroke-width="3"/><line x1="1199.2" y1="921.0" x2="1205.0" y2="921.0" stroke-width="3"/><line x1="1199.2" y1="914.6" x2="1205.0" y2="914.6" stroke-width="3"/><line x1="1192.5" y1="1033.8" x2="1205.0" y2="1033.8" stroke-width="3.6"/><line x1="1199.2" y1="1119.2" x2="1205.0" y2="1119.2" stroke-width="3"/><line x1="1199.2" y1="1097.7" x2="1205.0" y2="1097.7" stroke-width="3"/><line x1="1199.2" y1="1082.4" x2="1205.0" y2="1082.4" stroke-width="3"/><line x1="1195.5" y1="1070.6" x2="1205.0" y2="1070.6" stroke-width="3"/><line x1="1199.2" y1="1060.9" x2="1205.0" y2="1060.9" stroke-width="3"/><line x1="1199.2" y1="1052.7" x2="1205.0" y2="1052.7" stroke-width="3"/><line x1="1199.2" y1="1045.6" x2="1205.0" y2="1045.6" stroke-width="3"/><line x1="1199.2" y1="1039.4" x2="1205.0" y2="1039.4" stroke-width="3"/><line x1="1192.5" y1="1156.0" x2="1205.0" y2="1156.0" stroke-width="3.6"/><line x1="1199.2" y1="1241.3" x2="1205.0" y2="1241.3" stroke-width="3"/><line x1="1199.2" y1="1219.8" x2="1205.0" y2="1219.8" stroke-width="3"/><line x1="1199.2" y1="1204.5" x2="1205.0" y2="1204.5" stroke-width="3"/><line x1="1195.5" y1="1192.7" x2="1205.0" y2="1192.7" stroke-width="3"/><line x1="1199.2" y1="1183.1" x2="1205.0" y2="1183.1" stroke-width="3"/><line x1="1199.2" y1="1174.9" x2="1205.0" y2="1174.9" stroke-width="3"/><line x1="1199.2" y1="1167.8" x2="1205.0" y2="1167.8" stroke-width="3"/><line x1="1199.2" y1="1161.6" x2="1205.0" y2="1161.6" stroke-width="3"/><line x1="210.0" y1="1278.0" x2="222.5" y2="1278.0" stroke-width="3.6"/><line x1="216.7" y1="1363.9" x2="222.5" y2="1363.9" stroke-width="3"/><line x1="216.7" y1="1342.2" x2="222.5" y2="1342.2" stroke-width="3"/><line x1="216.7" y1="1326.9" x2="222.5" y2="1326.9" stroke-width="3"/><line x1="213.0" y1="1315.0" x2="222.5" y2="1315.0" stroke-width="3"/><line x1="216.7" y1="1305.2" x2="222.5" y2="1305.2" stroke-width="3"/><line x1="216.7" y1="1297.0" x2="222.5" y2="1297.0" stroke-width="3"/><line x1="216.7" y1="1289.9" x2="222.5" y2="1289.9" stroke-width="3"/><line x1="216.7" y1="1283.6" x2="222.5" y2="1283.6" stroke-width="3"/><line x1="210.0" y1="1400.8" x2="222.5" y2="1400.8" stroke-width="3.6"/><line x1="216.7" y1="1488.4" x2="222.5" y2="1488.4" stroke-width="3"/><line x1="216.7" y1="1466.4" x2="222.5" y2="1466.4" stroke-width="3"/><line x1="216.7" y1="1450.7" x2="222.5" y2="1450.7" stroke-width="3"/><line x1="213.0" y1="1438.6" x2="222.5" y2="1438.6" stroke-width="3"/><line x1="216.7" y1="1428.6" x2="222.5" y2="1428.6" stroke-width="3"/><line x1="216.7" y1="1420.2" x2="222.5" y2="1420.2" stroke-width="3"/><line x1="216.7" y1="1413.0" x2="222.5" y2="1413.0" stroke-width="3"/><line x1="216.7" y1="1406.6" x2="222.5" y2="1406.6" stroke-width="3"/><line x1="210.0" y1="1526.1" x2="222.5" y2="1526.1" stroke-width="3.6"/><line x1="216.7" y1="1611.9" x2="222.5" y2="1611.9" stroke-width="3"/><line x1="216.7" y1="1590.3" x2="222.5" y2="1590.3" stroke-width="3"/><line x1="216.7" y1="1574.9" x2="222.5" y2="1574.9" stroke-width="3"/><line x1="213.0" y1="1563.1" x2="222.5" y2="1563.1" stroke-width="3"/><line x1="216.7" y1="1553.4" x2="222.5" y2="1553.4" stroke-width="3"/><line x1="216.7" y1="1545.1" x2="222.5" y2="1545.1" stroke-width="3"/><line x1="216.7" y1="1538.0" x2="222.5" y2="1538.0" stroke-width="3"/><line x1="216.7" y1="1531.8" x2="222.5" y2="1531.8" stroke-width="3"/><line x1="210.0" y1="1648.8" x2="222.5" y2="1648.8" stroke-width="3.6"/><line x1="216.7" y1="1734.3" x2="222.5" y2="1734.3" stroke-width="3"/><line x1="216.7" y1="1712.8" x2="222.5" y2="1712.8" stroke-width="3"/><line x1="216.7" y1="1697.5" x2="222.5" y2="1697.5" stroke-width="3"/><line x1="213.0" y1="1685.6" x2="222.5" y2="1685.6" stroke-width="3"/><line x1="216.7" y1="1675.9" x2="222.5" y2="1675.9" stroke-width="3"/><line x1="216.7" y1="1667.7" x2="222.5" y2="1667.7" stroke-width="3"/><line x1="216.7" y1="1660.6" x2="222.5" y2="1660.6" stroke-width="3"/><line x1="216.7" y1="1654.4" x2="222.5" y2="1654.4" stroke-width="3"/><line x1="700.5" y1="1278.0" x2="713.0" y2="1278.0" stroke-width="3.6"/><line x1="707.2" y1="1363.9" x2="713.0" y2="1363.9" stroke-width="3"/><line x1="707.2" y1="1342.2" x2="713.0" y2="1342.2" stroke-width="3"/><line x1="707.2" y1="1326.9" x2="713.0" y2="1326.9" stroke-width="3"/><line x1="703.5" y1="1315.0" x2="713.0" y2="1315.0" stroke-width="3"/><line x1="707.2" y1="1305.2" x2="713.0" y2="1305.2" stroke-width="3"/><line x1="707.2" y1="1297.0" x2="713.0" y2="1297.0" stroke-width="3"/><line x1="707.2" y1="1289.9" x2="713.0" y2="1289.9" stroke-width="3"/><line x1="707.2" y1="1283.6" x2="713.0" y2="1283.6" stroke-width="3"/><line x1="700.5" y1="1400.8" x2="713.0" y2="1400.8" stroke-width="3.6"/><line x1="707.2" y1="1488.4" x2="713.0" y2="1488.4" stroke-width="3"/><line x1="707.2" y1="1466.4" x2="713.0" y2="1466.4" stroke-width="3"/><line x1="707.2" y1="1450.7" x2="713.0" y2="1450.7" stroke-width="3"/><line x1="703.5" y1="1438.6" x2="713.0" y2="1438.6" stroke-width="3"/><line x1="707.2" y1="1428.6" x2="713.0" y2="1428.6" stroke-width="3"/><line x1="707.2" y1="1420.2" x2="713.0" y2="1420.2" stroke-width="3"/><line x1="707.2" y1="1413.0" x2="713.0" y2="1413.0" stroke-width="3"/><line x1="707.2" y1="1406.6" x2="713.0" y2="1406.6" stroke-width="3"/><line x1="700.5" y1="1526.1" x2="713.0" y2="1526.1" stroke-width="3.6"/><line x1="707.2" y1="1611.9" x2="713.0" y2="1611.9" stroke-width="3"/><line x1="707.2" y1="1590.3" x2="713.0" y2="1590.3" stroke-width="3"/><line x1="707.2" y1="1574.9" x2="713.0" y2="1574.9" stroke-width="3"/><line x1="703.5" y1="1563.1" x2="713.0" y2="1563.1" stroke-width="3"/><line x1="707.2" y1="1553.4" x2="713.0" y2="1553.4" stroke-width="3"/><line x1="707.2" y1="1545.1" x2="713.0" y2="1545.1" stroke-width="3"/><line x1="707.2" y1="1538.0" x2="713.0" y2="1538.0" stroke-width="3"/><line x1="707.2" y1="1531.8" x2="713.0" y2="1531.8" stroke-width="3"/><line x1="700.5" y1="1648.8" x2="713.0" y2="1648.8" stroke-width="3.6"/><line x1="707.2" y1="1734.3" x2="713.0" y2="1734.3" stroke-width="3"/><line x1="707.2" y1="1712.8" x2="713.0" y2="1712.8" stroke-width="3"/><line x1="707.2" y1="1697.5" x2="713.0" y2="1697.5" stroke-width="3"/><line x1="703.5" y1="1685.6" x2="713.0" y2="1685.6" stroke-width="3"/><line x1="707.2" y1="1675.9" x2="713.0" y2="1675.9" stroke-width="3"/><line x1="707.2" y1="1667.7" x2="713.0" y2="1667.7" stroke-width="3"/><line x1="707.2" y1="1660.6" x2="713.0" y2="1660.6" stroke-width="3"/><line x1="707.2" y1="1654.4" x2="713.0" y2="1654.4" stroke-width="3"/><line x1="1192.5" y1="1278.0" x2="1205.0" y2="1278.0" stroke-width="3.6"/><line x1="1199.2" y1="1363.9" x2="1205.0" y2="1363.9" stroke-width="3"/><line x1="1199.2" y1="1342.2" x2="1205.0" y2="1342.2" stroke-width="3"/><line x1="1199.2" y1="1326.9" x2="1205.0" y2="1326.9" stroke-width="3"/><line x1="1195.5" y1="1315.0" x2="1205.0" y2="1315.0" stroke-width="3"/><line x1="1199.2" y1="1305.2" x2="1205.0" y2="1305.2" stroke-width="3"/><line x1="1199.2" y1="1297.0" x2="1205.0" y2="1297.0" stroke-width="3"/><line x1="1199.2" y1="1289.9" x2="1205.0" y2="1289.9" stroke-width="3"/><line x1="1199.2" y1="1283.6" x2="1205.0" y2="1283.6" stroke-width="3"/><line x1="1192.5" y1="1400.8" x2="1205.0" y2="1400.8" stroke-width="3.6"/><line x1="1199.2" y1="1488.4" x2="1205.0" y2="1488.4" stroke-width="3"/><line x1="1199.2" y1="1466.4" x2="1205.0" y2="1466.4" stroke-width="3"/><line x1="1199.2" y1="1450.7" x2="1205.0" y2="1450.7" stroke-width="3"/><line x1="1195.5" y1="1438.6" x2="1205.0" y2="1438.6" stroke-width="3"/><line x1="1199.2" y1="1428.6" x2="1205.0" y2="1428.6" stroke-width="3"/><line x1="1199.2" y1="1420.2" x2="1205.0" y2="1420.2" stroke-width="3"/><line x1="1199.2" y1="1413.0" x2="1205.0" y2="1413.0" stroke-width="3"/><line x1="1199.2" y1="1406.6" x2="1205.0" y2="1406.6" stroke-width="3"/><line x1="1192.5" y1="1526.1" x2="1205.0" y2="1526.1" stroke-width="3.6"/><line x1="1199.2" y1="1611.9" x2="1205.0" y2="1611.9" stroke-width="3"/><line x1="1199.2" y1="1590.3" x2="1205.0" y2="1590.3" stroke-width="3"/><line x1="1199.2" y1="1574.9" x2="1205.0" y2="1574.9" stroke-width="3"/><line x1="1195.5" y1="1563.1" x2="1205.0" y2="1563.1" stroke-width="3"/><line x1="1199.2" y1="1553.4" x2="1205.0" y2="1553.4" stroke-width="3"/><line x1="1199.2" y1="1545.1" x2="1205.0" y2="1545.1" stroke-width="3"/><line x1="1199.2" y1="1538.0" x2="1205.0" y2="1538.0" stroke-width="3"/><line x1="1199.2" y1="1531.8" x2="1205.0" y2="1531.8" stroke-width="3"/><line x1="1192.5" y1="1648.8" x2="1205.0" y2="1648.8" stroke-width="3.6"/><line x1="1199.2" y1="1734.3" x2="1205.0" y2="1734.3" stroke-width="3"/><line x1="1199.2" y1="1712.8" x2="1205.0" y2="1712.8" stroke-width="3"/><line x1="1199.2" y1="1697.5" x2="1205.0" y2="1697.5" stroke-width="3"/><line x1="1195.5" y1="1685.6" x2="1205.0" y2="1685.6" stroke-width="3"/><line x1="1199.2" y1="1675.9" x2="1205.0" y2="1675.9" stroke-width="3"/><line x1="1199.2" y1="1667.7" x2="1205.0" y2="1667.7" stroke-width="3"/><line x1="1199.2" y1="1660.6" x2="1205.0" y2="1660.6" stroke-width="3"/><line x1="1199.2" y1="1654.4" x2="1205.0" y2="1654.4" stroke-width="3"/><line x1="210.0" y1="1771.2" x2="222.5" y2="1771.2" stroke-width="3.6"/><line x1="216.7" y1="1856.8" x2="222.5" y2="1856.8" stroke-width="3"/><line x1="216.7" y1="1835.2" x2="222.5" y2="1835.2" stroke-width="3"/><line x1="216.7" y1="1819.9" x2="222.5" y2="1819.9" stroke-width="3"/><line x1="213.0" y1="1808.1" x2="222.5" y2="1808.1" stroke-width="3"/><line x1="216.7" y1="1798.4" x2="222.5" y2="1798.4" stroke-width="3"/><line x1="216.7" y1="1790.2" x2="222.5" y2="1790.2" stroke-width="3"/><line x1="216.7" y1="1783.1" x2="222.5" y2="1783.1" stroke-width="3"/><line x1="216.7" y1="1776.8" x2="222.5" y2="1776.8" stroke-width="3"/><line x1="210.0" y1="1893.7" x2="222.5" y2="1893.7" stroke-width="3.6"/><line x1="216.7" y1="1981.0" x2="222.5" y2="1981.0" stroke-width="3"/><line x1="216.7" y1="1959.0" x2="222.5" y2="1959.0" stroke-width="3"/><line x1="216.7" y1="1943.4" x2="222.5" y2="1943.4" stroke-width="3"/><line x1="213.0" y1="1931.3" x2="222.5" y2="1931.3" stroke-width="3"/><line x1="216.7" y1="1921.4" x2="222.5" y2="1921.4" stroke-width="3"/><line x1="216.7" y1="1913.0" x2="222.5" y2="1913.0" stroke-width="3"/><line x1="216.7" y1="1905.8" x2="222.5" y2="1905.8" stroke-width="3"/><line x1="216.7" y1="1899.4" x2="222.5" y2="1899.4" stroke-width="3"/><line x1="210.0" y1="2018.6" x2="222.5" y2="2018.6" stroke-width="3.6"/><line x1="216.7" y1="2104.1" x2="222.5" y2="2104.1" stroke-width="3"/><line x1="216.7" y1="2082.6" x2="222.5" y2="2082.6" stroke-width="3"/><line x1="216.7" y1="2067.3" x2="222.5" y2="2067.3" stroke-width="3"/><line x1="213.0" y1="2055.5" x2="222.5" y2="2055.5" stroke-width="3"/><line x1="216.7" y1="2045.8" x2="222.5" y2="2045.8" stroke-width="3"/><line x1="216.7" y1="2037.6" x2="222.5" y2="2037.6" stroke-width="3"/><line x1="216.7" y1="2030.5" x2="222.5" y2="2030.5" stroke-width="3"/><line x1="216.7" y1="2024.2" x2="222.5" y2="2024.2" stroke-width="3"/><line x1="210.0" y1="2140.9" x2="222.5" y2="2140.9" stroke-width="3.6"/><line x1="216.7" y1="2226.3" x2="222.5" y2="2226.3" stroke-width="3"/><line x1="216.7" y1="2204.8" x2="222.5" y2="2204.8" stroke-width="3"/><line x1="216.7" y1="2189.5" x2="222.5" y2="2189.5" stroke-width="3"/><line x1="213.0" y1="2177.7" x2="222.5" y2="2177.7" stroke-width="3"/><line x1="216.7" y1="2168.0" x2="222.5" y2="2168.0" stroke-width="3"/><line x1="216.7" y1="2159.8" x2="222.5" y2="2159.8" stroke-width="3"/><line x1="216.7" y1="2152.8" x2="222.5" y2="2152.8" stroke-width="3"/><line x1="216.7" y1="2146.5" x2="222.5" y2="2146.5" stroke-width="3"/><line x1="700.5" y1="1771.2" x2="713.0" y2="1771.2" stroke-width="3.6"/><line x1="707.2" y1="1856.8" x2="713.0" y2="1856.8" stroke-width="3"/><line x1="707.2" y1="1835.2" x2="713.0" y2="1835.2" stroke-width="3"/><line x1="707.2" y1="1819.9" x2="713.0" y2="1819.9" stroke-width="3"/><line x1="703.5" y1="1808.1" x2="713.0" y2="1808.1" stroke-width="3"/><line x1="707.2" y1="1798.4" x2="713.0" y2="1798.4" stroke-width="3"/><line x1="707.2" y1="1790.2" x2="713.0" y2="1790.2" stroke-width="3"/><line x1="707.2" y1="1783.1" x2="713.0" y2="1783.1" stroke-width="3"/><line x1="707.2" y1="1776.8" x2="713.0" y2="1776.8" stroke-width="3"/><line x1="700.5" y1="1893.7" x2="713.0" y2="1893.7" stroke-width="3.6"/><line x1="707.2" y1="1981.0" x2="713.0" y2="1981.0" stroke-width="3"/><line x1="707.2" y1="1959.0" x2="713.0" y2="1959.0" stroke-width="3"/><line x1="707.2" y1="1943.4" x2="713.0" y2="1943.4" stroke-width="3"/><line x1="703.5" y1="1931.3" x2="713.0" y2="1931.3" stroke-width="3"/><line x1="707.2" y1="1921.4" x2="713.0" y2="1921.4" stroke-width="3"/><line x1="707.2" y1="1913.0" x2="713.0" y2="1913.0" stroke-width="3"/><line x1="707.2" y1="1905.8" x2="713.0" y2="1905.8" stroke-width="3"/><line x1="707.2" y1="1899.4" x2="713.0" y2="1899.4" stroke-width="3"/><line x1="700.5" y1="2018.6" x2="713.0" y2="2018.6" stroke-width="3.6"/><line x1="707.2" y1="2104.1" x2="713.0" y2="2104.1" stroke-width="3"/><line x1="707.2" y1="2082.6" x2="713.0" y2="2082.6" stroke-width="3"/><line x1="707.2" y1="2067.3" x2="713.0" y2="2067.3" stroke-width="3"/><line x1="703.5" y1="2055.5" x2="713.0" y2="2055.5" stroke-width="3"/><line x1="707.2" y1="2045.8" x2="713.0" y2="2045.8" stroke-width="3"/><line x1="707.2" y1="2037.6" x2="713.0" y2="2037.6" stroke-width="3"/><line x1="707.2" y1="2030.5" x2="713.0" y2="2030.5" stroke-width="3"/><line x1="707.2" y1="2024.2" x2="713.0" y2="2024.2" stroke-width="3"/><line x1="700.5" y1="2140.9" x2="713.0" y2="2140.9" stroke-width="3.6"/><line x1="707.2" y1="2226.3" x2="713.0" y2="2226.3" stroke-width="3"/><line x1="707.2" y1="2204.8" x2="713.0" y2="2204.8" stroke-width="3"/><line x1="707.2" y1="2189.5" x2="713.0" y2="2189.5" stroke-width="3"/><line x1="703.5" y1="2177.7" x2="713.0" y2="2177.7" stroke-width="3"/><line x1="707.2" y1="2168.0" x2="713.0" y2="2168.0" stroke-width="3"/><line x1="707.2" y1="2159.8" x2="713.0" y2="2159.8" stroke-width="3"/><line x1="707.2" y1="2152.8" x2="713.0" y2="2152.8" stroke-width="3"/><line x1="707.2" y1="2146.5" x2="713.0" y2="2146.5" stroke-width="3"/><line x1="1192.5" y1="1771.2" x2="1205.0" y2="1771.2" stroke-width="3.6"/><line x1="1199.2" y1="1856.8" x2="1205.0" y2="1856.8" stroke-width="3"/><line x1="1199.2" y1="1835.2" x2="1205.0" y2="1835.2" stroke-width="3"/><line x1="1199.2" y1="1819.9" x2="1205.0" y2="1819.9" stroke-width="3"/><line x1="1195.5" y1="1808.1" x2="1205.0" y2="1808.1" stroke-width="3"/><line x1="1199.2" y1="1798.4" x2="1205.0" y2="1798.4" stroke-width="3"/><line x1="1199.2" y1="1790.2" x2="1205.0" y2="1790.2" stroke-width="3"/><line x1="1199.2" y1="1783.1" x2="1205.0" y2="1783.1" stroke-width="3"/><line x1="1199.2" y1="1776.8" x2="1205.0" y2="1776.8" stroke-width="3"/><line x1="1192.5" y1="1893.7" x2="1205.0" y2="1893.7" stroke-width="3.6"/><line x1="1199.2" y1="1981.0" x2="1205.0" y2="1981.0" stroke-width="3"/><line x1="1199.2" y1="1959.0" x2="1205.0" y2="1959.0" stroke-width="3"/><line x1="1199.2" y1="1943.4" x2="1205.0" y2="1943.4" stroke-width="3"/><line x1="1195.5" y1="1931.3" x2="1205.0" y2="1931.3" stroke-width="3"/><line x1="1199.2" y1="1921.4" x2="1205.0" y2="1921.4" stroke-width="3"/><line x1="1199.2" y1="1913.0" x2="1205.0" y2="1913.0" stroke-width="3"/><line x1="1199.2" y1="1905.8" x2="1205.0" y2="1905.8" stroke-width="3"/><line x1="1199.2" y1="1899.4" x2="1205.0" y2="1899.4" stroke-width="3"/><line x1="1192.5" y1="2018.6" x2="1205.0" y2="2018.6" stroke-width="3.6"/><line x1="1199.2" y1="2104.1" x2="1205.0" y2="2104.1" stroke-width="3"/><line x1="1199.2" y1="2082.6" x2="1205.0" y2="2082.6" stroke-width="3"/><line x1="1199.2" y1="2067.3" x2="1205.0" y2="2067.3" stroke-width="3"/><line x1="1195.5" y1="2055.5" x2="1205.0" y2="2055.5" stroke-width="3"/><line x1="1199.2" y1="2045.8" x2="1205.0" y2="2045.8" stroke-width="3"/><line x1="1199.2" y1="2037.6" x2="1205.0" y2="2037.6" stroke-width="3"/><line x1="1199.2" y1="2030.5" x2="1205.0" y2="2030.5" stroke-width="3"/><line x1="1199.2" y1="2024.2" x2="1205.0" y2="2024.2" stroke-width="3"/><line x1="1192.5" y1="2140.9" x2="1205.0" y2="2140.9" stroke-width="3.6"/><line x1="1199.2" y1="2226.3" x2="1205.0" y2="2226.3" stroke-width="3"/><line x1="1199.2" y1="2204.8" x2="1205.0" y2="2204.8" stroke-width="3"/><line x1="1199.2" y1="2189.5" x2="1205.0" y2="2189.5" stroke-width="3"/><line x1="1195.5" y1="2177.7" x2="1205.0" y2="2177.7" stroke-width="3"/><line x1="1199.2" y1="2168.0" x2="1205.0" y2="2168.0" stroke-width="3"/><line x1="1199.2" y1="2159.8" x2="1205.0" y2="2159.8" stroke-width="3"/><line x1="1199.2" y1="2152.8" x2="1205.0" y2="2152.8" stroke-width="3"/><line x1="1199.2" y1="2146.5" x2="1205.0" y2="2146.5" stroke-width="3"/><line x1="341.5" y1="786.5" x2="341.5" y2="803.0" stroke-width="3.8"/><line x1="258.3" y1="786.5" x2="258.3" y2="795.5" stroke-width="3"/><line x1="279.3" y1="786.5" x2="279.3" y2="795.5" stroke-width="3"/><line x1="294.1" y1="786.5" x2="294.1" y2="795.5" stroke-width="3"/><line x1="305.7" y1="786.5" x2="305.7" y2="798.9" stroke-width="3"/><line x1="315.1" y1="786.5" x2="315.1" y2="795.5" stroke-width="3"/><line x1="323.1" y1="786.5" x2="323.1" y2="795.5" stroke-width="3"/><line x1="330.0" y1="786.5" x2="330.0" y2="795.5" stroke-width="3"/><line x1="336.1" y1="786.5" x2="336.1" y2="795.5" stroke-width="3"/><line x1="468.5" y1="786.5" x2="468.5" y2="803.0" stroke-width="3.8"/><line x1="379.7" y1="786.5" x2="379.7" y2="795.5" stroke-width="3"/><line x1="402.1" y1="786.5" x2="402.1" y2="795.5" stroke-width="3"/><line x1="418.0" y1="786.5" x2="418.0" y2="795.5" stroke-width="3"/><line x1="430.3" y1="786.5" x2="430.3" y2="798.9" stroke-width="3"/><line x1="440.3" y1="786.5" x2="440.3" y2="795.5" stroke-width="3"/><line x1="448.8" y1="786.5" x2="448.8" y2="795.5" stroke-width="3"/><line x1="456.2" y1="786.5" x2="456.2" y2="795.5" stroke-width="3"/><line x1="462.7" y1="786.5" x2="462.7" y2="795.5" stroke-width="3"/><line x1="590.5" y1="786.5" x2="590.5" y2="803.0" stroke-width="3.8"/><line x1="505.2" y1="786.5" x2="505.2" y2="795.5" stroke-width="3"/><line x1="526.7" y1="786.5" x2="526.7" y2="795.5" stroke-width="3"/><line x1="542.0" y1="786.5" x2="542.0" y2="795.5" stroke-width="3"/><line x1="553.8" y1="786.5" x2="553.8" y2="798.9" stroke-width="3"/><line x1="563.4" y1="786.5" x2="563.4" y2="795.5" stroke-width="3"/><line x1="571.6" y1="786.5" x2="571.6" y2="795.5" stroke-width="3"/><line x1="578.7" y1="786.5" x2="578.7" y2="795.5" stroke-width="3"/><line x1="584.9" y1="786.5" x2="584.9" y2="795.5" stroke-width="3"/><line x1="716.0" y1="786.5" x2="716.0" y2="803.0" stroke-width="3.8"/><line x1="628.3" y1="786.5" x2="628.3" y2="795.5" stroke-width="3"/><line x1="650.4" y1="786.5" x2="650.4" y2="795.5" stroke-width="3"/><line x1="666.1" y1="786.5" x2="666.1" y2="795.5" stroke-width="3"/><line x1="678.2" y1="786.5" x2="678.2" y2="798.9" stroke-width="3"/><line x1="688.2" y1="786.5" x2="688.2" y2="795.5" stroke-width="3"/><line x1="696.6" y1="786.5" x2="696.6" y2="795.5" stroke-width="3"/><line x1="703.8" y1="786.5" x2="703.8" y2="795.5" stroke-width="3"/><line x1="710.3" y1="786.5" x2="710.3" y2="795.5" stroke-width="3"/><line x1="832.0" y1="786.5" x2="832.0" y2="803.0" stroke-width="3.8"/><line x1="748.8" y1="786.5" x2="748.8" y2="795.5" stroke-width="3"/><line x1="769.8" y1="786.5" x2="769.8" y2="795.5" stroke-width="3"/><line x1="784.6" y1="786.5" x2="784.6" y2="795.5" stroke-width="3"/><line x1="796.2" y1="786.5" x2="796.2" y2="798.9" stroke-width="3"/><line x1="805.6" y1="786.5" x2="805.6" y2="795.5" stroke-width="3"/><line x1="813.6" y1="786.5" x2="813.6" y2="795.5" stroke-width="3"/><line x1="820.5" y1="786.5" x2="820.5" y2="795.5" stroke-width="3"/><line x1="826.6" y1="786.5" x2="826.6" y2="795.5" stroke-width="3"/><line x1="959.0" y1="786.5" x2="959.0" y2="803.0" stroke-width="3.8"/><line x1="870.2" y1="786.5" x2="870.2" y2="795.5" stroke-width="3"/><line x1="892.6" y1="786.5" x2="892.6" y2="795.5" stroke-width="3"/><line x1="908.5" y1="786.5" x2="908.5" y2="795.5" stroke-width="3"/><line x1="920.8" y1="786.5" x2="920.8" y2="798.9" stroke-width="3"/><line x1="930.8" y1="786.5" x2="930.8" y2="795.5" stroke-width="3"/><line x1="939.3" y1="786.5" x2="939.3" y2="795.5" stroke-width="3"/><line x1="946.7" y1="786.5" x2="946.7" y2="795.5" stroke-width="3"/><line x1="953.2" y1="786.5" x2="953.2" y2="795.5" stroke-width="3"/><line x1="1081.0" y1="786.5" x2="1081.0" y2="803.0" stroke-width="3.8"/><line x1="995.7" y1="786.5" x2="995.7" y2="795.5" stroke-width="3"/><line x1="1017.2" y1="786.5" x2="1017.2" y2="795.5" stroke-width="3"/><line x1="1032.5" y1="786.5" x2="1032.5" y2="795.5" stroke-width="3"/><line x1="1044.3" y1="786.5" x2="1044.3" y2="798.9" stroke-width="3"/><line x1="1053.9" y1="786.5" x2="1053.9" y2="795.5" stroke-width="3"/><line x1="1062.1" y1="786.5" x2="1062.1" y2="795.5" stroke-width="3"/><line x1="1069.2" y1="786.5" x2="1069.2" y2="795.5" stroke-width="3"/><line x1="1075.4" y1="786.5" x2="1075.4" y2="795.5" stroke-width="3"/><line x1="1206.5" y1="786.5" x2="1206.5" y2="803.0" stroke-width="3.8"/><line x1="1118.8" y1="786.5" x2="1118.8" y2="795.5" stroke-width="3"/><line x1="1140.9" y1="786.5" x2="1140.9" y2="795.5" stroke-width="3"/><line x1="1156.6" y1="786.5" x2="1156.6" y2="795.5" stroke-width="3"/><line x1="1168.7" y1="786.5" x2="1168.7" y2="798.9" stroke-width="3"/><line x1="1178.7" y1="786.5" x2="1178.7" y2="795.5" stroke-width="3"/><line x1="1187.1" y1="786.5" x2="1187.1" y2="795.5" stroke-width="3"/><line x1="1194.3" y1="786.5" x2="1194.3" y2="795.5" stroke-width="3"/><line x1="1200.8" y1="786.5" x2="1200.8" y2="795.5" stroke-width="3"/><line x1="1324.0" y1="786.5" x2="1324.0" y2="803.0" stroke-width="3.8"/><line x1="1240.8" y1="786.5" x2="1240.8" y2="795.5" stroke-width="3"/><line x1="1261.8" y1="786.5" x2="1261.8" y2="795.5" stroke-width="3"/><line x1="1276.6" y1="786.5" x2="1276.6" y2="795.5" stroke-width="3"/><line x1="1288.2" y1="786.5" x2="1288.2" y2="798.9" stroke-width="3"/><line x1="1297.6" y1="786.5" x2="1297.6" y2="795.5" stroke-width="3"/><line x1="1305.6" y1="786.5" x2="1305.6" y2="795.5" stroke-width="3"/><line x1="1312.5" y1="786.5" x2="1312.5" y2="795.5" stroke-width="3"/><line x1="1318.6" y1="786.5" x2="1318.6" y2="795.5" stroke-width="3"/><line x1="1451.0" y1="786.5" x2="1451.0" y2="803.0" stroke-width="3.8"/><line x1="1362.2" y1="786.5" x2="1362.2" y2="795.5" stroke-width="3"/><line x1="1384.6" y1="786.5" x2="1384.6" y2="795.5" stroke-width="3"/><line x1="1400.5" y1="786.5" x2="1400.5" y2="795.5" stroke-width="3"/><line x1="1412.8" y1="786.5" x2="1412.8" y2="798.9" stroke-width="3"/><line x1="1422.8" y1="786.5" x2="1422.8" y2="795.5" stroke-width="3"/><line x1="1431.3" y1="786.5" x2="1431.3" y2="795.5" stroke-width="3"/><line x1="1438.7" y1="786.5" x2="1438.7" y2="795.5" stroke-width="3"/><line x1="1445.2" y1="786.5" x2="1445.2" y2="795.5" stroke-width="3"/><line x1="1573.0" y1="786.5" x2="1573.0" y2="803.0" stroke-width="3.8"/><line x1="1487.7" y1="786.5" x2="1487.7" y2="795.5" stroke-width="3"/><line x1="1509.2" y1="786.5" x2="1509.2" y2="795.5" stroke-width="3"/><line x1="1524.5" y1="786.5" x2="1524.5" y2="795.5" stroke-width="3"/><line x1="1536.3" y1="786.5" x2="1536.3" y2="798.9" stroke-width="3"/><line x1="1545.9" y1="786.5" x2="1545.9" y2="795.5" stroke-width="3"/><line x1="1554.1" y1="786.5" x2="1554.1" y2="795.5" stroke-width="3"/><line x1="1561.2" y1="786.5" x2="1561.2" y2="795.5" stroke-width="3"/><line x1="1567.4" y1="786.5" x2="1567.4" y2="795.5" stroke-width="3"/><line x1="1698.5" y1="786.5" x2="1698.5" y2="803.0" stroke-width="3.8"/><line x1="1610.8" y1="786.5" x2="1610.8" y2="795.5" stroke-width="3"/><line x1="1632.9" y1="786.5" x2="1632.9" y2="795.5" stroke-width="3"/><line x1="1648.6" y1="786.5" x2="1648.6" y2="795.5" stroke-width="3"/><line x1="1660.7" y1="786.5" x2="1660.7" y2="798.9" stroke-width="3"/><line x1="1670.7" y1="786.5" x2="1670.7" y2="795.5" stroke-width="3"/><line x1="1679.1" y1="786.5" x2="1679.1" y2="795.5" stroke-width="3"/><line x1="1686.3" y1="786.5" x2="1686.3" y2="795.5" stroke-width="3"/><line x1="1692.8" y1="786.5" x2="1692.8" y2="795.5" stroke-width="3"/><line x1="341.5" y1="1278.0" x2="341.5" y2="1294.5" stroke-width="3.8"/><line x1="258.3" y1="1278.0" x2="258.3" y2="1287.0" stroke-width="3"/><line x1="279.3" y1="1278.0" x2="279.3" y2="1287.0" stroke-width="3"/><line x1="294.1" y1="1278.0" x2="294.1" y2="1287.0" stroke-width="3"/><line x1="305.7" y1="1278.0" x2="305.7" y2="1290.4" stroke-width="3"/><line x1="315.1" y1="1278.0" x2="315.1" y2="1287.0" stroke-width="3"/><line x1="323.1" y1="1278.0" x2="323.1" y2="1287.0" stroke-width="3"/><line x1="330.0" y1="1278.0" x2="330.0" y2="1287.0" stroke-width="3"/><line x1="336.1" y1="1278.0" x2="336.1" y2="1287.0" stroke-width="3"/><line x1="468.5" y1="1278.0" x2="468.5" y2="1294.5" stroke-width="3.8"/><line x1="379.7" y1="1278.0" x2="379.7" y2="1287.0" stroke-width="3"/><line x1="402.1" y1="1278.0" x2="402.1" y2="1287.0" stroke-width="3"/><line x1="418.0" y1="1278.0" x2="418.0" y2="1287.0" stroke-width="3"/><line x1="430.3" y1="1278.0" x2="430.3" y2="1290.4" stroke-width="3"/><line x1="440.3" y1="1278.0" x2="440.3" y2="1287.0" stroke-width="3"/><line x1="448.8" y1="1278.0" x2="448.8" y2="1287.0" stroke-width="3"/><line x1="456.2" y1="1278.0" x2="456.2" y2="1287.0" stroke-width="3"/><line x1="462.7" y1="1278.0" x2="462.7" y2="1287.0" stroke-width="3"/><line x1="590.5" y1="1278.0" x2="590.5" y2="1294.5" stroke-width="3.8"/><line x1="505.2" y1="1278.0" x2="505.2" y2="1287.0" stroke-width="3"/><line x1="526.7" y1="1278.0" x2="526.7" y2="1287.0" stroke-width="3"/><line x1="542.0" y1="1278.0" x2="542.0" y2="1287.0" stroke-width="3"/><line x1="553.8" y1="1278.0" x2="553.8" y2="1290.4" stroke-width="3"/><line x1="563.4" y1="1278.0" x2="563.4" y2="1287.0" stroke-width="3"/><line x1="571.6" y1="1278.0" x2="571.6" y2="1287.0" stroke-width="3"/><line x1="578.7" y1="1278.0" x2="578.7" y2="1287.0" stroke-width="3"/><line x1="584.9" y1="1278.0" x2="584.9" y2="1287.0" stroke-width="3"/><line x1="716.0" y1="1278.0" x2="716.0" y2="1294.5" stroke-width="3.8"/><line x1="628.3" y1="1278.0" x2="628.3" y2="1287.0" stroke-width="3"/><line x1="650.4" y1="1278.0" x2="650.4" y2="1287.0" stroke-width="3"/><line x1="666.1" y1="1278.0" x2="666.1" y2="1287.0" stroke-width="3"/><line x1="678.2" y1="1278.0" x2="678.2" y2="1290.4" stroke-width="3"/><line x1="688.2" y1="1278.0" x2="688.2" y2="1287.0" stroke-width="3"/><line x1="696.6" y1="1278.0" x2="696.6" y2="1287.0" stroke-width="3"/><line x1="703.8" y1="1278.0" x2="703.8" y2="1287.0" stroke-width="3"/><line x1="710.3" y1="1278.0" x2="710.3" y2="1287.0" stroke-width="3"/><line x1="832.0" y1="1278.0" x2="832.0" y2="1294.5" stroke-width="3.8"/><line x1="748.8" y1="1278.0" x2="748.8" y2="1287.0" stroke-width="3"/><line x1="769.8" y1="1278.0" x2="769.8" y2="1287.0" stroke-width="3"/><line x1="784.6" y1="1278.0" x2="784.6" y2="1287.0" stroke-width="3"/><line x1="796.2" y1="1278.0" x2="796.2" y2="1290.4" stroke-width="3"/><line x1="805.6" y1="1278.0" x2="805.6" y2="1287.0" stroke-width="3"/><line x1="813.6" y1="1278.0" x2="813.6" y2="1287.0" stroke-width="3"/><line x1="820.5" y1="1278.0" x2="820.5" y2="1287.0" stroke-width="3"/><line x1="826.6" y1="1278.0" x2="826.6" y2="1287.0" stroke-width="3"/><line x1="959.0" y1="1278.0" x2="959.0" y2="1294.5" stroke-width="3.8"/><line x1="870.2" y1="1278.0" x2="870.2" y2="1287.0" stroke-width="3"/><line x1="892.6" y1="1278.0" x2="892.6" y2="1287.0" stroke-width="3"/><line x1="908.5" y1="1278.0" x2="908.5" y2="1287.0" stroke-width="3"/><line x1="920.8" y1="1278.0" x2="920.8" y2="1290.4" stroke-width="3"/><line x1="930.8" y1="1278.0" x2="930.8" y2="1287.0" stroke-width="3"/><line x1="939.3" y1="1278.0" x2="939.3" y2="1287.0" stroke-width="3"/><line x1="946.7" y1="1278.0" x2="946.7" y2="1287.0" stroke-width="3"/><line x1="953.2" y1="1278.0" x2="953.2" y2="1287.0" stroke-width="3"/><line x1="1081.0" y1="1278.0" x2="1081.0" y2="1294.5" stroke-width="3.8"/><line x1="995.7" y1="1278.0" x2="995.7" y2="1287.0" stroke-width="3"/><line x1="1017.2" y1="1278.0" x2="1017.2" y2="1287.0" stroke-width="3"/><line x1="1032.5" y1="1278.0" x2="1032.5" y2="1287.0" stroke-width="3"/><line x1="1044.3" y1="1278.0" x2="1044.3" y2="1290.4" stroke-width="3"/><line x1="1053.9" y1="1278.0" x2="1053.9" y2="1287.0" stroke-width="3"/><line x1="1062.1" y1="1278.0" x2="1062.1" y2="1287.0" stroke-width="3"/><line x1="1069.2" y1="1278.0" x2="1069.2" y2="1287.0" stroke-width="3"/><line x1="1075.4" y1="1278.0" x2="1075.4" y2="1287.0" stroke-width="3"/><line x1="1206.5" y1="1278.0" x2="1206.5" y2="1294.5" stroke-width="3.8"/><line x1="1118.8" y1="1278.0" x2="1118.8" y2="1287.0" stroke-width="3"/><line x1="1140.9" y1="1278.0" x2="1140.9" y2="1287.0" stroke-width="3"/><line x1="1156.6" y1="1278.0" x2="1156.6" y2="1287.0" stroke-width="3"/><line x1="1168.7" y1="1278.0" x2="1168.7" y2="1290.4" stroke-width="3"/><line x1="1178.7" y1="1278.0" x2="1178.7" y2="1287.0" stroke-width="3"/><line x1="1187.1" y1="1278.0" x2="1187.1" y2="1287.0" stroke-width="3"/><line x1="1194.3" y1="1278.0" x2="1194.3" y2="1287.0" stroke-width="3"/><line x1="1200.8" y1="1278.0" x2="1200.8" y2="1287.0" stroke-width="3"/><line x1="1324.0" y1="1278.0" x2="1324.0" y2="1294.5" stroke-width="3.8"/><line x1="1240.8" y1="1278.0" x2="1240.8" y2="1287.0" stroke-width="3"/><line x1="1261.8" y1="1278.0" x2="1261.8" y2="1287.0" stroke-width="3"/><line x1="1276.6" y1="1278.0" x2="1276.6" y2="1287.0" stroke-width="3"/><line x1="1288.2" y1="1278.0" x2="1288.2" y2="1290.4" stroke-width="3"/><line x1="1297.6" y1="1278.0" x2="1297.6" y2="1287.0" stroke-width="3"/><line x1="1305.6" y1="1278.0" x2="1305.6" y2="1287.0" stroke-width="3"/><line x1="1312.5" y1="1278.0" x2="1312.5" y2="1287.0" stroke-width="3"/><line x1="1318.6" y1="1278.0" x2="1318.6" y2="1287.0" stroke-width="3"/><line x1="1451.0" y1="1278.0" x2="1451.0" y2="1294.5" stroke-width="3.8"/><line x1="1362.2" y1="1278.0" x2="1362.2" y2="1287.0" stroke-width="3"/><line x1="1384.6" y1="1278.0" x2="1384.6" y2="1287.0" stroke-width="3"/><line x1="1400.5" y1="1278.0" x2="1400.5" y2="1287.0" stroke-width="3"/><line x1="1412.8" y1="1278.0" x2="1412.8" y2="1290.4" stroke-width="3"/><line x1="1422.8" y1="1278.0" x2="1422.8" y2="1287.0" stroke-width="3"/><line x1="1431.3" y1="1278.0" x2="1431.3" y2="1287.0" stroke-width="3"/><line x1="1438.7" y1="1278.0" x2="1438.7" y2="1287.0" stroke-width="3"/><line x1="1445.2" y1="1278.0" x2="1445.2" y2="1287.0" stroke-width="3"/><line x1="1573.0" y1="1278.0" x2="1573.0" y2="1294.5" stroke-width="3.8"/><line x1="1487.7" y1="1278.0" x2="1487.7" y2="1287.0" stroke-width="3"/><line x1="1509.2" y1="1278.0" x2="1509.2" y2="1287.0" stroke-width="3"/><line x1="1524.5" y1="1278.0" x2="1524.5" y2="1287.0" stroke-width="3"/><line x1="1536.3" y1="1278.0" x2="1536.3" y2="1290.4" stroke-width="3"/><line x1="1545.9" y1="1278.0" x2="1545.9" y2="1287.0" stroke-width="3"/><line x1="1554.1" y1="1278.0" x2="1554.1" y2="1287.0" stroke-width="3"/><line x1="1561.2" y1="1278.0" x2="1561.2" y2="1287.0" stroke-width="3"/><line x1="1567.4" y1="1278.0" x2="1567.4" y2="1287.0" stroke-width="3"/><line x1="1698.5" y1="1278.0" x2="1698.5" y2="1294.5" stroke-width="3.8"/><line x1="1610.8" y1="1278.0" x2="1610.8" y2="1287.0" stroke-width="3"/><line x1="1632.9" y1="1278.0" x2="1632.9" y2="1287.0" stroke-width="3"/><line x1="1648.6" y1="1278.0" x2="1648.6" y2="1287.0" stroke-width="3"/><line x1="1660.7" y1="1278.0" x2="1660.7" y2="1290.4" stroke-width="3"/><line x1="1670.7" y1="1278.0" x2="1670.7" y2="1287.0" stroke-width="3"/><line x1="1679.1" y1="1278.0" x2="1679.1" y2="1287.0" stroke-width="3"/><line x1="1686.3" y1="1278.0" x2="1686.3" y2="1287.0" stroke-width="3"/><line x1="1692.8" y1="1278.0" x2="1692.8" y2="1287.0" stroke-width="3"/><line x1="341.5" y1="1771.2" x2="341.5" y2="1787.7" stroke-width="3.8"/><line x1="258.3" y1="1771.2" x2="258.3" y2="1780.2" stroke-width="3"/><line x1="279.3" y1="1771.2" x2="279.3" y2="1780.2" stroke-width="3"/><line x1="294.1" y1="1771.2" x2="294.1" y2="1780.2" stroke-width="3"/><line x1="305.7" y1="1771.2" x2="305.7" y2="1783.6000000000001" stroke-width="3"/><line x1="315.1" y1="1771.2" x2="315.1" y2="1780.2" stroke-width="3"/><line x1="323.1" y1="1771.2" x2="323.1" y2="1780.2" stroke-width="3"/><line x1="330.0" y1="1771.2" x2="330.0" y2="1780.2" stroke-width="3"/><line x1="336.1" y1="1771.2" x2="336.1" y2="1780.2" stroke-width="3"/><line x1="468.5" y1="1771.2" x2="468.5" y2="1787.7" stroke-width="3.8"/><line x1="379.7" y1="1771.2" x2="379.7" y2="1780.2" stroke-width="3"/><line x1="402.1" y1="1771.2" x2="402.1" y2="1780.2" stroke-width="3"/><line x1="418.0" y1="1771.2" x2="418.0" y2="1780.2" stroke-width="3"/><line x1="430.3" y1="1771.2" x2="430.3" y2="1783.6000000000001" stroke-width="3"/><line x1="440.3" y1="1771.2" x2="440.3" y2="1780.2" stroke-width="3"/><line x1="448.8" y1="1771.2" x2="448.8" y2="1780.2" stroke-width="3"/><line x1="456.2" y1="1771.2" x2="456.2" y2="1780.2" stroke-width="3"/><line x1="462.7" y1="1771.2" x2="462.7" y2="1780.2" stroke-width="3"/><line x1="590.5" y1="1771.2" x2="590.5" y2="1787.7" stroke-width="3.8"/><line x1="505.2" y1="1771.2" x2="505.2" y2="1780.2" stroke-width="3"/><line x1="526.7" y1="1771.2" x2="526.7" y2="1780.2" stroke-width="3"/><line x1="542.0" y1="1771.2" x2="542.0" y2="1780.2" stroke-width="3"/><line x1="553.8" y1="1771.2" x2="553.8" y2="1783.6000000000001" stroke-width="3"/><line x1="563.4" y1="1771.2" x2="563.4" y2="1780.2" stroke-width="3"/><line x1="571.6" y1="1771.2" x2="571.6" y2="1780.2" stroke-width="3"/><line x1="578.7" y1="1771.2" x2="578.7" y2="1780.2" stroke-width="3"/><line x1="584.9" y1="1771.2" x2="584.9" y2="1780.2" stroke-width="3"/><line x1="716.0" y1="1771.2" x2="716.0" y2="1787.7" stroke-width="3.8"/><line x1="628.3" y1="1771.2" x2="628.3" y2="1780.2" stroke-width="3"/><line x1="650.4" y1="1771.2" x2="650.4" y2="1780.2" stroke-width="3"/><line x1="666.1" y1="1771.2" x2="666.1" y2="1780.2" stroke-width="3"/><line x1="678.2" y1="1771.2" x2="678.2" y2="1783.6000000000001" stroke-width="3"/><line x1="688.2" y1="1771.2" x2="688.2" y2="1780.2" stroke-width="3"/><line x1="696.6" y1="1771.2" x2="696.6" y2="1780.2" stroke-width="3"/><line x1="703.8" y1="1771.2" x2="703.8" y2="1780.2" stroke-width="3"/><line x1="710.3" y1="1771.2" x2="710.3" y2="1780.2" stroke-width="3"/><line x1="832.0" y1="1771.2" x2="832.0" y2="1787.7" stroke-width="3.8"/><line x1="748.8" y1="1771.2" x2="748.8" y2="1780.2" stroke-width="3"/><line x1="769.8" y1="1771.2" x2="769.8" y2="1780.2" stroke-width="3"/><line x1="784.6" y1="1771.2" x2="784.6" y2="1780.2" stroke-width="3"/><line x1="796.2" y1="1771.2" x2="796.2" y2="1783.6000000000001" stroke-width="3"/><line x1="805.6" y1="1771.2" x2="805.6" y2="1780.2" stroke-width="3"/><line x1="813.6" y1="1771.2" x2="813.6" y2="1780.2" stroke-width="3"/><line x1="820.5" y1="1771.2" x2="820.5" y2="1780.2" stroke-width="3"/><line x1="826.6" y1="1771.2" x2="826.6" y2="1780.2" stroke-width="3"/><line x1="959.0" y1="1771.2" x2="959.0" y2="1787.7" stroke-width="3.8"/><line x1="870.2" y1="1771.2" x2="870.2" y2="1780.2" stroke-width="3"/><line x1="892.6" y1="1771.2" x2="892.6" y2="1780.2" stroke-width="3"/><line x1="908.5" y1="1771.2" x2="908.5" y2="1780.2" stroke-width="3"/><line x1="920.8" y1="1771.2" x2="920.8" y2="1783.6000000000001" stroke-width="3"/><line x1="930.8" y1="1771.2" x2="930.8" y2="1780.2" stroke-width="3"/><line x1="939.3" y1="1771.2" x2="939.3" y2="1780.2" stroke-width="3"/><line x1="946.7" y1="1771.2" x2="946.7" y2="1780.2" stroke-width="3"/><line x1="953.2" y1="1771.2" x2="953.2" y2="1780.2" stroke-width="3"/><line x1="1081.0" y1="1771.2" x2="1081.0" y2="1787.7" stroke-width="3.8"/><line x1="995.7" y1="1771.2" x2="995.7" y2="1780.2" stroke-width="3"/><line x1="1017.2" y1="1771.2" x2="1017.2" y2="1780.2" stroke-width="3"/><line x1="1032.5" y1="1771.2" x2="1032.5" y2="1780.2" stroke-width="3"/><line x1="1044.3" y1="1771.2" x2="1044.3" y2="1783.6000000000001" stroke-width="3"/><line x1="1053.9" y1="1771.2" x2="1053.9" y2="1780.2" stroke-width="3"/><line x1="1062.1" y1="1771.2" x2="1062.1" y2="1780.2" stroke-width="3"/><line x1="1069.2" y1="1771.2" x2="1069.2" y2="1780.2" stroke-width="3"/><line x1="1075.4" y1="1771.2" x2="1075.4" y2="1780.2" stroke-width="3"/><line x1="1206.5" y1="1771.2" x2="1206.5" y2="1787.7" stroke-width="3.8"/><line x1="1118.8" y1="1771.2" x2="1118.8" y2="1780.2" stroke-width="3"/><line x1="1140.9" y1="1771.2" x2="1140.9" y2="1780.2" stroke-width="3"/><line x1="1156.6" y1="1771.2" x2="1156.6" y2="1780.2" stroke-width="3"/><line x1="1168.7" y1="1771.2" x2="1168.7" y2="1783.6000000000001" stroke-width="3"/><line x1="1178.7" y1="1771.2" x2="1178.7" y2="1780.2" stroke-width="3"/><line x1="1187.1" y1="1771.2" x2="1187.1" y2="1780.2" stroke-width="3"/><line x1="1194.3" y1="1771.2" x2="1194.3" y2="1780.2" stroke-width="3"/><line x1="1200.8" y1="1771.2" x2="1200.8" y2="1780.2" stroke-width="3"/><line x1="1324.0" y1="1771.2" x2="1324.0" y2="1787.7" stroke-width="3.8"/><line x1="1240.8" y1="1771.2" x2="1240.8" y2="1780.2" stroke-width="3"/><line x1="1261.8" y1="1771.2" x2="1261.8" y2="1780.2" stroke-width="3"/><line x1="1276.6" y1="1771.2" x2="1276.6" y2="1780.2" stroke-width="3"/><line x1="1288.2" y1="1771.2" x2="1288.2" y2="1783.6000000000001" stroke-width="3"/><line x1="1297.6" y1="1771.2" x2="1297.6" y2="1780.2" stroke-width="3"/><line x1="1305.6" y1="1771.2" x2="1305.6" y2="1780.2" stroke-width="3"/><line x1="1312.5" y1="1771.2" x2="1312.5" y2="1780.2" stroke-width="3"/><line x1="1318.6" y1="1771.2" x2="1318.6" y2="1780.2" stroke-width="3"/><line x1="1451.0" y1="1771.2" x2="1451.0" y2="1787.7" stroke-width="3.8"/><line x1="1362.2" y1="1771.2" x2="1362.2" y2="1780.2" stroke-width="3"/><line x1="1384.6" y1="1771.2" x2="1384.6" y2="1780.2" stroke-width="3"/><line x1="1400.5" y1="1771.2" x2="1400.5" y2="1780.2" stroke-width="3"/><line x1="1412.8" y1="1771.2" x2="1412.8" y2="1783.6000000000001" stroke-width="3"/><line x1="1422.8" y1="1771.2" x2="1422.8" y2="1780.2" stroke-width="3"/><line x1="1431.3" y1="1771.2" x2="1431.3" y2="1780.2" stroke-width="3"/><line x1="1438.7" y1="1771.2" x2="1438.7" y2="1780.2" stroke-width="3"/><line x1="1445.2" y1="1771.2" x2="1445.2" y2="1780.2" stroke-width="3"/><line x1="1573.0" y1="1771.2" x2="1573.0" y2="1787.7" stroke-width="3.8"/><line x1="1487.7" y1="1771.2" x2="1487.7" y2="1780.2" stroke-width="3"/><line x1="1509.2" y1="1771.2" x2="1509.2" y2="1780.2" stroke-width="3"/><line x1="1524.5" y1="1771.2" x2="1524.5" y2="1780.2" stroke-width="3"/><line x1="1536.3" y1="1771.2" x2="1536.3" y2="1783.6000000000001" stroke-width="3"/><line x1="1545.9" y1="1771.2" x2="1545.9" y2="1780.2" stroke-width="3"/><line x1="1554.1" y1="1771.2" x2="1554.1" y2="1780.2" stroke-width="3"/><line x1="1561.2" y1="1771.2" x2="1561.2" y2="1780.2" stroke-width="3"/><line x1="1567.4" y1="1771.2" x2="1567.4" y2="1780.2" stroke-width="3"/><line x1="1698.5" y1="1771.2" x2="1698.5" y2="1787.7" stroke-width="3.8"/><line x1="1610.8" y1="1771.2" x2="1610.8" y2="1780.2" stroke-width="3"/><line x1="1632.9" y1="1771.2" x2="1632.9" y2="1780.2" stroke-width="3"/><line x1="1648.6" y1="1771.2" x2="1648.6" y2="1780.2" stroke-width="3"/><line x1="1660.7" y1="1771.2" x2="1660.7" y2="1783.6000000000001" stroke-width="3"/><line x1="1670.7" y1="1771.2" x2="1670.7" y2="1780.2" stroke-width="3"/><line x1="1679.1" y1="1771.2" x2="1679.1" y2="1780.2" stroke-width="3"/><line x1="1686.3" y1="1771.2" x2="1686.3" y2="1780.2" stroke-width="3"/><line x1="1692.8" y1="1771.2" x2="1692.8" y2="1780.2" stroke-width="3"/><line x1="341.5" y1="2263.0" x2="341.5" y2="2279.5" stroke-width="3.8"/><line x1="258.3" y1="2263.0" x2="258.3" y2="2272.0" stroke-width="3"/><line x1="279.3" y1="2263.0" x2="279.3" y2="2272.0" stroke-width="3"/><line x1="294.1" y1="2263.0" x2="294.1" y2="2272.0" stroke-width="3"/><line x1="305.7" y1="2263.0" x2="305.7" y2="2275.4" stroke-width="3"/><line x1="315.1" y1="2263.0" x2="315.1" y2="2272.0" stroke-width="3"/><line x1="323.1" y1="2263.0" x2="323.1" y2="2272.0" stroke-width="3"/><line x1="330.0" y1="2263.0" x2="330.0" y2="2272.0" stroke-width="3"/><line x1="336.1" y1="2263.0" x2="336.1" y2="2272.0" stroke-width="3"/><line x1="468.5" y1="2263.0" x2="468.5" y2="2279.5" stroke-width="3.8"/><line x1="379.7" y1="2263.0" x2="379.7" y2="2272.0" stroke-width="3"/><line x1="402.1" y1="2263.0" x2="402.1" y2="2272.0" stroke-width="3"/><line x1="418.0" y1="2263.0" x2="418.0" y2="2272.0" stroke-width="3"/><line x1="430.3" y1="2263.0" x2="430.3" y2="2275.4" stroke-width="3"/><line x1="440.3" y1="2263.0" x2="440.3" y2="2272.0" stroke-width="3"/><line x1="448.8" y1="2263.0" x2="448.8" y2="2272.0" stroke-width="3"/><line x1="456.2" y1="2263.0" x2="456.2" y2="2272.0" stroke-width="3"/><line x1="462.7" y1="2263.0" x2="462.7" y2="2272.0" stroke-width="3"/><line x1="590.5" y1="2263.0" x2="590.5" y2="2279.5" stroke-width="3.8"/><line x1="505.2" y1="2263.0" x2="505.2" y2="2272.0" stroke-width="3"/><line x1="526.7" y1="2263.0" x2="526.7" y2="2272.0" stroke-width="3"/><line x1="542.0" y1="2263.0" x2="542.0" y2="2272.0" stroke-width="3"/><line x1="553.8" y1="2263.0" x2="553.8" y2="2275.4" stroke-width="3"/><line x1="563.4" y1="2263.0" x2="563.4" y2="2272.0" stroke-width="3"/><line x1="571.6" y1="2263.0" x2="571.6" y2="2272.0" stroke-width="3"/><line x1="578.7" y1="2263.0" x2="578.7" y2="2272.0" stroke-width="3"/><line x1="584.9" y1="2263.0" x2="584.9" y2="2272.0" stroke-width="3"/><line x1="716.0" y1="2263.0" x2="716.0" y2="2279.5" stroke-width="3.8"/><line x1="628.3" y1="2263.0" x2="628.3" y2="2272.0" stroke-width="3"/><line x1="650.4" y1="2263.0" x2="650.4" y2="2272.0" stroke-width="3"/><line x1="666.1" y1="2263.0" x2="666.1" y2="2272.0" stroke-width="3"/><line x1="678.2" y1="2263.0" x2="678.2" y2="2275.4" stroke-width="3"/><line x1="688.2" y1="2263.0" x2="688.2" y2="2272.0" stroke-width="3"/><line x1="696.6" y1="2263.0" x2="696.6" y2="2272.0" stroke-width="3"/><line x1="703.8" y1="2263.0" x2="703.8" y2="2272.0" stroke-width="3"/><line x1="710.3" y1="2263.0" x2="710.3" y2="2272.0" stroke-width="3"/><line x1="832.0" y1="2263.0" x2="832.0" y2="2279.5" stroke-width="3.8"/><line x1="748.8" y1="2263.0" x2="748.8" y2="2272.0" stroke-width="3"/><line x1="769.8" y1="2263.0" x2="769.8" y2="2272.0" stroke-width="3"/><line x1="784.6" y1="2263.0" x2="784.6" y2="2272.0" stroke-width="3"/><line x1="796.2" y1="2263.0" x2="796.2" y2="2275.4" stroke-width="3"/><line x1="805.6" y1="2263.0" x2="805.6" y2="2272.0" stroke-width="3"/><line x1="813.6" y1="2263.0" x2="813.6" y2="2272.0" stroke-width="3"/><line x1="820.5" y1="2263.0" x2="820.5" y2="2272.0" stroke-width="3"/><line x1="826.6" y1="2263.0" x2="826.6" y2="2272.0" stroke-width="3"/><line x1="959.0" y1="2263.0" x2="959.0" y2="2279.5" stroke-width="3.8"/><line x1="870.2" y1="2263.0" x2="870.2" y2="2272.0" stroke-width="3"/><line x1="892.6" y1="2263.0" x2="892.6" y2="2272.0" stroke-width="3"/><line x1="908.5" y1="2263.0" x2="908.5" y2="2272.0" stroke-width="3"/><line x1="920.8" y1="2263.0" x2="920.8" y2="2275.4" stroke-width="3"/><line x1="930.8" y1="2263.0" x2="930.8" y2="2272.0" stroke-width="3"/><line x1="939.3" y1="2263.0" x2="939.3" y2="2272.0" stroke-width="3"/><line x1="946.7" y1="2263.0" x2="946.7" y2="2272.0" stroke-width="3"/><line x1="953.2" y1="2263.0" x2="953.2" y2="2272.0" stroke-width="3"/><line x1="1081.0" y1="2263.0" x2="1081.0" y2="2279.5" stroke-width="3.8"/><line x1="995.7" y1="2263.0" x2="995.7" y2="2272.0" stroke-width="3"/><line x1="1017.2" y1="2263.0" x2="1017.2" y2="2272.0" stroke-width="3"/><line x1="1032.5" y1="2263.0" x2="1032.5" y2="2272.0" stroke-width="3"/><line x1="1044.3" y1="2263.0" x2="1044.3" y2="2275.4" stroke-width="3"/><line x1="1053.9" y1="2263.0" x2="1053.9" y2="2272.0" stroke-width="3"/><line x1="1062.1" y1="2263.0" x2="1062.1" y2="2272.0" stroke-width="3"/><line x1="1069.2" y1="2263.0" x2="1069.2" y2="2272.0" stroke-width="3"/><line x1="1075.4" y1="2263.0" x2="1075.4" y2="2272.0" stroke-width="3"/><line x1="1206.5" y1="2263.0" x2="1206.5" y2="2279.5" stroke-width="3.8"/><line x1="1118.8" y1="2263.0" x2="1118.8" y2="2272.0" stroke-width="3"/><line x1="1140.9" y1="2263.0" x2="1140.9" y2="2272.0" stroke-width="3"/><line x1="1156.6" y1="2263.0" x2="1156.6" y2="2272.0" stroke-width="3"/><line x1="1168.7" y1="2263.0" x2="1168.7" y2="2275.4" stroke-width="3"/><line x1="1178.7" y1="2263.0" x2="1178.7" y2="2272.0" stroke-width="3"/><line x1="1187.1" y1="2263.0" x2="1187.1" y2="2272.0" stroke-width="3"/><line x1="1194.3" y1="2263.0" x2="1194.3" y2="2272.0" stroke-width="3"/><line x1="1200.8" y1="2263.0" x2="1200.8" y2="2272.0" stroke-width="3"/><line x1="1324.0" y1="2263.0" x2="1324.0" y2="2279.5" stroke-width="3.8"/><line x1="1240.8" y1="2263.0" x2="1240.8" y2="2272.0" stroke-width="3"/><line x1="1261.8" y1="2263.0" x2="1261.8" y2="2272.0" stroke-width="3"/><line x1="1276.6" y1="2263.0" x2="1276.6" y2="2272.0" stroke-width="3"/><line x1="1288.2" y1="2263.0" x2="1288.2" y2="2275.4" stroke-width="3"/><line x1="1297.6" y1="2263.0" x2="1297.6" y2="2272.0" stroke-width="3"/><line x1="1305.6" y1="2263.0" x2="1305.6" y2="2272.0" stroke-width="3"/><line x1="1312.5" y1="2263.0" x2="1312.5" y2="2272.0" stroke-width="3"/><line x1="1318.6" y1="2263.0" x2="1318.6" y2="2272.0" stroke-width="3"/><line x1="1451.0" y1="2263.0" x2="1451.0" y2="2279.5" stroke-width="3.8"/><line x1="1362.2" y1="2263.0" x2="1362.2" y2="2272.0" stroke-width="3"/><line x1="1384.6" y1="2263.0" x2="1384.6" y2="2272.0" stroke-width="3"/><line x1="1400.5" y1="2263.0" x2="1400.5" y2="2272.0" stroke-width="3"/><line x1="1412.8" y1="2263.0" x2="1412.8" y2="2275.4" stroke-width="3"/><line x1="1422.8" y1="2263.0" x2="1422.8" y2="2272.0" stroke-width="3"/><line x1="1431.3" y1="2263.0" x2="1431.3" y2="2272.0" stroke-width="3"/><line x1="1438.7" y1="2263.0" x2="1438.7" y2="2272.0" stroke-width="3"/><line x1="1445.2" y1="2263.0" x2="1445.2" y2="2272.0" stroke-width="3"/><line x1="1573.0" y1="2263.0" x2="1573.0" y2="2279.5" stroke-width="3.8"/><line x1="1487.7" y1="2263.0" x2="1487.7" y2="2272.0" stroke-width="3"/><line x1="1509.2" y1="2263.0" x2="1509.2" y2="2272.0" stroke-width="3"/><line x1="1524.5" y1="2263.0" x2="1524.5" y2="2272.0" stroke-width="3"/><line x1="1536.3" y1="2263.0" x2="1536.3" y2="2275.4" stroke-width="3"/><line x1="1545.9" y1="2263.0" x2="1545.9" y2="2272.0" stroke-width="3"/><line x1="1554.1" y1="2263.0" x2="1554.1" y2="2272.0" stroke-width="3"/><line x1="1561.2" y1="2263.0" x2="1561.2" y2="2272.0" stroke-width="3"/><line x1="1567.4" y1="2263.0" x2="1567.4" y2="2272.0" stroke-width="3"/><line x1="1698.5" y1="2263.0" x2="1698.5" y2="2279.5" stroke-width="3.8"/><line x1="1610.8" y1="2263.0" x2="1610.8" y2="2272.0" stroke-width="3"/><line x1="1632.9" y1="2263.0" x2="1632.9" y2="2272.0" stroke-width="3"/><line x1="1648.6" y1="2263.0" x2="1648.6" y2="2272.0" stroke-width="3"/><line x1="1660.7" y1="2263.0" x2="1660.7" y2="2275.4" stroke-width="3"/><line x1="1670.7" y1="2263.0" x2="1670.7" y2="2272.0" stroke-width="3"/><line x1="1679.1" y1="2263.0" x2="1679.1" y2="2272.0" stroke-width="3"/><line x1="1686.3" y1="2263.0" x2="1686.3" y2="2272.0" stroke-width="3"/><line x1="1692.8" y1="2263.0" x2="1692.8" y2="2272.0" stroke-width="3"/></g>
<text x="160.8" y="298.8" font-size="22" fill="#2b2b2b" stroke="#2b2b2b" stroke-width="0.35" font-family="Liberation Sans, Arial, sans-serif">10<tspan font-size="17.5" dx="1.8" dy="-12.3">4</tspan></text>
<text x="160.8" y="421.7" font-size="22" fill="#2b2b2b" stroke="#2b2b2b" stroke-width="0.35" font-family="Liberation Sans, Arial, sans-serif">10<tspan font-size="17.5" dx="1.8" dy="-12.3">3</tspan></text>
<text x="160.8" y="547.1" font-size="22" fill="#2b2b2b" stroke="#2b2b2b" stroke-width="0.35" font-family="Liberation Sans, Arial, sans-serif">10<tspan font-size="17.5" dx="1.8" dy="-12.3">2</tspan></text>
<text x="160.8" y="669.8" font-size="22" fill="#2b2b2b" stroke="#2b2b2b" stroke-width="0.35" font-family="Liberation Sans, Arial, sans-serif">10<tspan font-size="17.5" dx="1.8" dy="-12.3">1</tspan></text>
<text x="160.8" y="790.9" font-size="22" fill="#2b2b2b" stroke="#2b2b2b" stroke-width="0.35" font-family="Liberation Sans, Arial, sans-serif">10<tspan font-size="17.5" dx="1.8" dy="-12.3">0</tspan></text>
<text x="160.8" y="792.3" font-size="22" fill="#2b2b2b" stroke="#2b2b2b" stroke-width="0.35" font-family="Liberation Sans, Arial, sans-serif">10<tspan font-size="17.5" dx="1.8" dy="-12.3">4</tspan></text>
<text x="160.8" y="914.7" font-size="22" fill="#2b2b2b" stroke="#2b2b2b" stroke-width="0.35" font-family="Liberation Sans, Arial, sans-serif">10<tspan font-size="17.5" dx="1.8" dy="-12.3">3</tspan></text>
<text x="160.8" y="1039.6" font-size="22" fill="#2b2b2b" stroke="#2b2b2b" stroke-width="0.35" font-family="Liberation Sans, Arial, sans-serif">10<tspan font-size="17.5" dx="1.8" dy="-12.3">2</tspan></text>
<text x="160.8" y="1161.8" font-size="22" fill="#2b2b2b" stroke="#2b2b2b" stroke-width="0.35" font-family="Liberation Sans, Arial, sans-serif">10<tspan font-size="17.5" dx="1.8" dy="-12.3">1</tspan></text>
<text x="160.8" y="1282.4" font-size="22" fill="#2b2b2b" stroke="#2b2b2b" stroke-width="0.35" font-family="Liberation Sans, Arial, sans-serif">10<tspan font-size="17.5" dx="1.8" dy="-12.3">0</tspan></text>
<text x="160.8" y="1283.8" font-size="22" fill="#2b2b2b" stroke="#2b2b2b" stroke-width="0.35" font-family="Liberation Sans, Arial, sans-serif">10<tspan font-size="17.5" dx="1.8" dy="-12.3">4</tspan></text>
<text x="160.8" y="1406.6" font-size="22" fill="#2b2b2b" stroke="#2b2b2b" stroke-width="0.35" font-family="Liberation Sans, Arial, sans-serif">10<tspan font-size="17.5" dx="1.8" dy="-12.3">3</tspan></text>
<text x="160.8" y="1531.9" font-size="22" fill="#2b2b2b" stroke="#2b2b2b" stroke-width="0.35" font-family="Liberation Sans, Arial, sans-serif">10<tspan font-size="17.5" dx="1.8" dy="-12.3">2</tspan></text>
<text x="160.8" y="1654.6" font-size="22" fill="#2b2b2b" stroke="#2b2b2b" stroke-width="0.35" font-family="Liberation Sans, Arial, sans-serif">10<tspan font-size="17.5" dx="1.8" dy="-12.3">1</tspan></text>
<text x="160.8" y="1775.6" font-size="22" fill="#2b2b2b" stroke="#2b2b2b" stroke-width="0.35" font-family="Liberation Sans, Arial, sans-serif">10<tspan font-size="17.5" dx="1.8" dy="-12.3">0</tspan></text>
<text x="160.8" y="1777.0" font-size="22" fill="#2b2b2b" stroke="#2b2b2b" stroke-width="0.35" font-family="Liberation Sans, Arial, sans-serif">10<tspan font-size="17.5" dx="1.8" dy="-12.3">4</tspan></text>
<text x="160.8" y="1899.5" font-size="22" fill="#2b2b2b" stroke="#2b2b2b" stroke-width="0.35" font-family="Liberation Sans, Arial, sans-serif">10<tspan font-size="17.5" dx="1.8" dy="-12.3">3</tspan></text>
<text x="160.8" y="2024.4" font-size="22" fill="#2b2b2b" stroke="#2b2b2b" stroke-width="0.35" font-family="Liberation Sans, Arial, sans-serif">10<tspan font-size="17.5" dx="1.8" dy="-12.3">2</tspan></text>
<text x="160.8" y="2146.7" font-size="22" fill="#2b2b2b" stroke="#2b2b2b" stroke-width="0.35" font-family="Liberation Sans, Arial, sans-serif">10<tspan font-size="17.5" dx="1.8" dy="-12.3">1</tspan></text>
<text x="160.8" y="2267.4" font-size="22" fill="#2b2b2b" stroke="#2b2b2b" stroke-width="0.35" font-family="Liberation Sans, Arial, sans-serif">10<tspan font-size="17.5" dx="1.8" dy="-12.3">0</tspan></text>
<text x="321.1" y="2307.3" font-size="22" fill="#2b2b2b" stroke="#2b2b2b" stroke-width="0.35" font-family="Liberation Sans, Arial, sans-serif">10<tspan font-size="17.5" dx="0.5" dy="-12.3">0</tspan></text>
<text x="448.1" y="2307.3" font-size="22" fill="#2b2b2b" stroke="#2b2b2b" stroke-width="0.35" font-family="Liberation Sans, Arial, sans-serif">10<tspan font-size="17.5" dx="0.5" dy="-12.3">1</tspan></text>
<text x="570.1" y="2307.3" font-size="22" fill="#2b2b2b" stroke="#2b2b2b" stroke-width="0.35" font-family="Liberation Sans, Arial, sans-serif">10<tspan font-size="17.5" dx="0.5" dy="-12.3">2</tspan></text>
<text x="691.5" y="2307.3" font-size="22" fill="#2b2b2b" stroke="#2b2b2b" stroke-width="0.35" font-family="Liberation Sans, Arial, sans-serif">10<tspan font-size="17.5" dx="0.5" dy="-12.3">3</tspan></text>
<text x="811.6" y="2307.3" font-size="22" fill="#2b2b2b" stroke="#2b2b2b" stroke-width="0.35" font-family="Liberation Sans, Arial, sans-serif">10<tspan font-size="17.5" dx="0.5" dy="-12.3">0</tspan></text>
<text x="938.6" y="2307.3" font-size="22" fill="#2b2b2b" stroke="#2b2b2b" stroke-width="0.35" font-family="Liberation Sans, Arial, sans-serif">10<tspan font-size="17.5" dx="0.5" dy="-12.3">1</tspan></text>
<text x="1060.6" y="2307.3" font-size="22" fill="#2b2b2b" stroke="#2b2b2b" stroke-width="0.35" font-family="Liberation Sans, Arial, sans-serif">10<tspan font-size="17.5" dx="0.5" dy="-12.3">2</tspan></text>
<text x="1182.0" y="2307.3" font-size="22" fill="#2b2b2b" stroke="#2b2b2b" stroke-width="0.35" font-family="Liberation Sans, Arial, sans-serif">10<tspan font-size="17.5" dx="0.5" dy="-12.3">3</tspan></text>
<text x="1303.6" y="2307.3" font-size="22" fill="#2b2b2b" stroke="#2b2b2b" stroke-width="0.35" font-family="Liberation Sans, Arial, sans-serif">10<tspan font-size="17.5" dx="0.5" dy="-12.3">0</tspan></text>
<text x="1430.6" y="2307.3" font-size="22" fill="#2b2b2b" stroke="#2b2b2b" stroke-width="0.35" font-family="Liberation Sans, Arial, sans-serif">10<tspan font-size="17.5" dx="0.5" dy="-12.3">1</tspan></text>
<text x="1552.6" y="2307.3" font-size="22" fill="#2b2b2b" stroke="#2b2b2b" stroke-width="0.35" font-family="Liberation Sans, Arial, sans-serif">10<tspan font-size="17.5" dx="0.5" dy="-12.3">2</tspan></text>
<text x="1674.0" y="2307.3" font-size="22" fill="#2b2b2b" stroke="#2b2b2b" stroke-width="0.35" font-family="Liberation Sans, Arial, sans-serif">10<tspan font-size="17.5" dx="0.5" dy="-12.3">3</tspan></text>
<text x="863.5" y="80" font-size="60.5" font-weight="bold" font-style="italic" textLength="142" lengthAdjust="spacingAndGlyphs" fill="#161616" font-family="Liberation Sans, Arial, sans-serif" >yebG</text>
<text x="429.5" y="244.8" font-size="45.5" font-weight="normal" font-style="normal" textLength="49" lengthAdjust="spacingAndGlyphs" fill="#161616" font-family="Liberation Sans, Arial, sans-serif" >LB</text>
<text x="829" y="202.5" font-size="42.5" font-weight="normal" font-style="normal" textLength="278" lengthAdjust="spacingAndGlyphs" fill="#161616" font-family="Liberation Sans, Arial, sans-serif" >Nalidixic acid</text>
<text x="841" y="264" font-size="42.5" font-weight="normal" font-style="normal" textLength="267.5" lengthAdjust="spacingAndGlyphs" fill="#161616" font-family="Liberation Sans, Arial, sans-serif" >(1.25 µg/ml)</text>
<text x="1310" y="202.8" font-size="42.5" font-weight="normal" font-style="normal" textLength="278" lengthAdjust="spacingAndGlyphs" fill="#161616" font-family="Liberation Sans, Arial, sans-serif" >Nalidixic acid</text>
<text x="1336" y="264" font-size="42.5" font-weight="normal" font-style="normal" textLength="239.5" lengthAdjust="spacingAndGlyphs" fill="#161616" font-family="Liberation Sans, Arial, sans-serif" >(8.5 µg/ml)</text>
<text x="1738.5" y="559" font-size="45" font-weight="normal" font-style="normal" textLength="131.5" lengthAdjust="spacingAndGlyphs" fill="#161616" font-family="Liberation Sans, Arial, sans-serif" >t = 1h</text>
<text x="1738.5" y="1059.6" font-size="45" font-weight="normal" font-style="normal" textLength="131.5" lengthAdjust="spacingAndGlyphs" fill="#161616" font-family="Liberation Sans, Arial, sans-serif" >t = 4h</text>
<text x="1739.8" y="1558.6" font-size="45" font-weight="normal" font-style="normal" textLength="131.5" lengthAdjust="spacingAndGlyphs" fill="#161616" font-family="Liberation Sans, Arial, sans-serif" >t = 8h</text>
<text x="1738.5" y="2059.2" font-size="45" font-weight="normal" font-style="normal" textLength="160.5" lengthAdjust="spacingAndGlyphs" fill="#161616" font-family="Liberation Sans, Arial, sans-serif" >t = 24h</text>
<text x="602" y="2438" font-size="51" font-weight="bold" font-style="normal" textLength="659.5" lengthAdjust="spacingAndGlyphs" fill="#161616" font-family="Liberation Sans, Arial, sans-serif" >GFP fluorescence intensity</text>
<text x="0" y="0" font-size="53" font-weight="bold" font-style="normal" textLength="498.5" lengthAdjust="spacingAndGlyphs" fill="#161616" font-family="Liberation Sans, Arial, sans-serif" transform="translate(77,1552.5) rotate(-90)">Forward scatter (FS)</text>
</g>
</svg></body></html>
